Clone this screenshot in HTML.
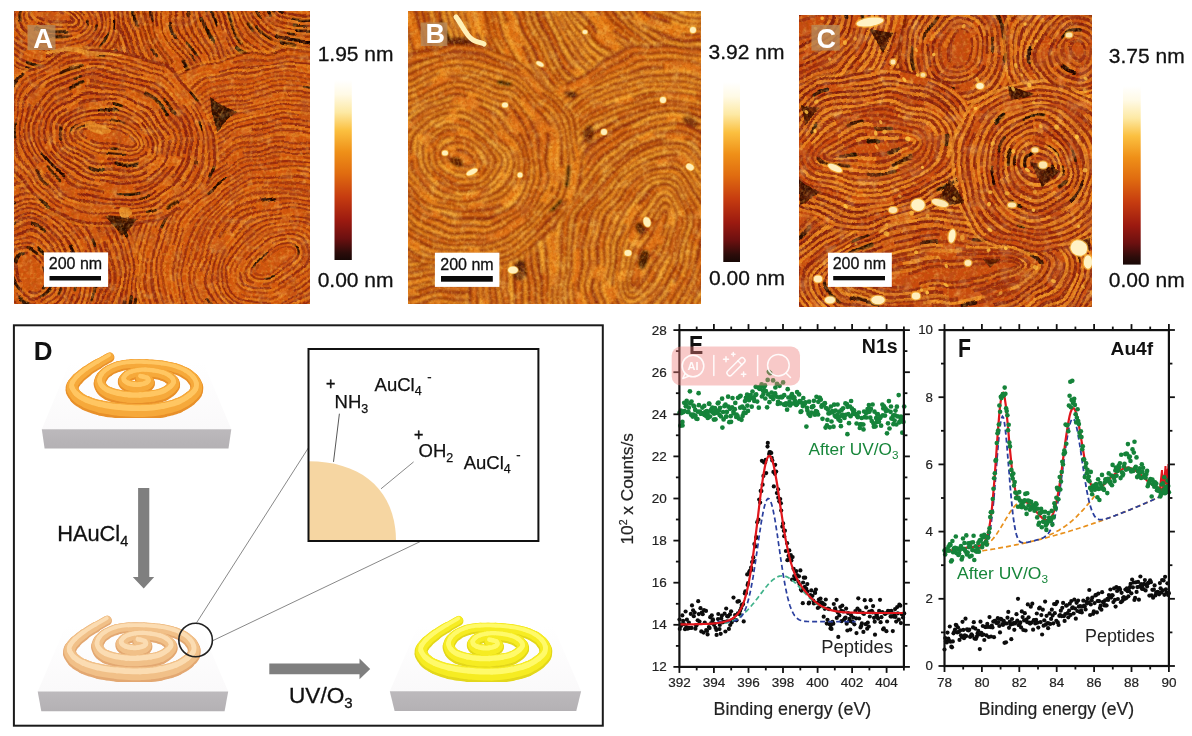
<!DOCTYPE html>
<html lang="en"><head><meta charset="utf-8"><title>Figure</title>
<style>html,body{margin:0;padding:0;background:#fff}svg{display:block}text{font-family:"Liberation Sans",Arial,sans-serif}</style>
</head><body>
<svg width="1192" height="736" viewBox="0 0 1192 736">
<defs>
<linearGradient id="cbg" x1="0" y1="0" x2="0" y2="1">
<stop offset="0" stop-color="#ffffff"/><stop offset="0.08" stop-color="#fffae6"/><stop offset="0.18" stop-color="#fde9a4"/>
<stop offset="0.28" stop-color="#fbc040"/><stop offset="0.4" stop-color="#ef9018"/><stop offset="0.52" stop-color="#e06c10"/>
<stop offset="0.65" stop-color="#c63c10"/><stop offset="0.78" stop-color="#9c1a10"/><stop offset="0.88" stop-color="#6c1010"/><stop offset="0.96" stop-color="#2c0c0a"/><stop offset="1" stop-color="#180806"/>
</linearGradient>
<filter id="soft" x="-5%" y="-5%" width="110%" height="110%"><feTurbulence type="fractalNoise" baseFrequency="0.022" numOctaves="2" seed="2" result="t"/><feDisplacementMap in="SourceGraphic" in2="t" scale="14" xChannelSelector="R" yChannelSelector="G"/><feGaussianBlur stdDeviation="0.6"/></filter>
<filter id="grain" x="0" y="0" width="100%" height="100%"><feTurbulence type="fractalNoise" baseFrequency="0.32" numOctaves="2" seed="4"/><feColorMatrix type="matrix" values="0 0 0 0 0.4 0 0 0 0 0.07 0 0 0 0 0.0 3.0 0 0 0 -1.4"/><feColorMatrix type="matrix" values="1 0 0 0 0 0 1 0 0 0 0 0 1 0 0 0 0 0 0.45 0"/></filter>
<filter id="grainl" x="0" y="0" width="100%" height="100%"><feTurbulence type="fractalNoise" baseFrequency="0.3" numOctaves="2" seed="8"/><feColorMatrix type="matrix" values="0 0 0 0 1 0 0 0 0 0.6 0 0 0 0 0.1 0 3.0 0 0 -1.45"/><feColorMatrix type="matrix" values="1 0 0 0 0 0 1 0 0 0 0 0 1 0 0 0 0 0 0.32 0"/></filter>
<filter id="soft2" x="-5%" y="-5%" width="110%" height="110%"><feTurbulence type="fractalNoise" baseFrequency="0.02" numOctaves="2" seed="6" result="t"/><feDisplacementMap in="SourceGraphic" in2="t" scale="16" xChannelSelector="R" yChannelSelector="G"/><feGaussianBlur stdDeviation="0.75"/></filter>
<filter id="softB" x="-5%" y="-5%" width="110%" height="110%"><feTurbulence type="fractalNoise" baseFrequency="0.02" numOctaves="2" seed="16" result="t"/><feDisplacementMap in="SourceGraphic" in2="t" scale="16" xChannelSelector="R" yChannelSelector="G"/><feGaussianBlur stdDeviation="0.8"/></filter>
<filter id="soft3" x="-5%" y="-5%" width="110%" height="110%"><feGaussianBlur stdDeviation="0.7"/></filter>

<filter id="nzd1" x="0" y="0" width="100%" height="100%"><feTurbulence type="fractalNoise" baseFrequency="0.07" numOctaves="3" seed="3"/>
<feColorMatrix type="matrix" values="0 0 0 0 0.42 0 0 0 0 0.08 0 0 0 0 0.02 2.6 0 0 0 -1.30"/><feColorMatrix type="matrix" values="1 0 0 0 0 0 1 0 0 0 0 0 1 0 0 0 0 0 0.55 0"/></filter>
<filter id="nzl1" x="0" y="0" width="100%" height="100%"><feTurbulence type="fractalNoise" baseFrequency="0.11" numOctaves="3" seed="14"/>
<feColorMatrix type="matrix" values="0 0 0 0 1 0 0 0 0 0.68 0 0 0 0 0.18 0 2.4 0 0 -1.32"/><feColorMatrix type="matrix" values="1 0 0 0 0 0 1 0 0 0 0 0 1 0 0 0 0 0 0.4 0"/></filter>
<filter id="nzd2" x="0" y="0" width="100%" height="100%"><feTurbulence type="fractalNoise" baseFrequency="0.06" numOctaves="3" seed="5"/>
<feColorMatrix type="matrix" values="0 0 0 0 0.5 0 0 0 0 0.12 0 0 0 0 0.02 2.4 0 0 0 -1.20"/><feColorMatrix type="matrix" values="1 0 0 0 0 0 1 0 0 0 0 0 1 0 0 0 0 0 0.55 0"/></filter>
<filter id="nzl2" x="0" y="0" width="100%" height="100%"><feTurbulence type="fractalNoise" baseFrequency="0.1" numOctaves="3" seed="16"/>
<feColorMatrix type="matrix" values="0 0 0 0 1 0 0 0 0 0.7 0 0 0 0 0.18 0 3.0 0 0 -1.56"/><feColorMatrix type="matrix" values="1 0 0 0 0 0 1 0 0 0 0 0 1 0 0 0 0 0 0.32 0"/></filter>
<filter id="nzd3" x="0" y="0" width="100%" height="100%"><feTurbulence type="fractalNoise" baseFrequency="0.06" numOctaves="3" seed="9"/>
<feColorMatrix type="matrix" values="0 0 0 0 0.45 0 0 0 0 0.08 0 0 0 0 0.02 2.8 0 0 0 -1.34"/><feColorMatrix type="matrix" values="1 0 0 0 0 0 1 0 0 0 0 0 1 0 0 0 0 0 0.55 0"/></filter>
<filter id="nzl3" x="0" y="0" width="100%" height="100%"><feTurbulence type="fractalNoise" baseFrequency="0.09" numOctaves="3" seed="20"/>
<feColorMatrix type="matrix" values="0 0 0 0 1 0 0 0 0 0.75 0 0 0 0 0.3 0 2.6 0 0 -1.43"/><feColorMatrix type="matrix" values="1 0 0 0 0 0 1 0 0 0 0 0 1 0 0 0 0 0 0.4 0"/></filter>
</defs>
<rect width="1192" height="736" fill="#fff"/>
<clipPath id="cp1"><rect x="14" y="11" width="296" height="293"/></clipPath>
<g clip-path="url(#cp1)">
<rect x="14" y="11" width="296" height="293" fill="#d2560e"/>
<g filter="url(#soft)"><g transform="translate(300.0,-5.0) rotate(20)"><ellipse rx="261.8" ry="258.6" fill="none" stroke="#ee8c1c" stroke-width="2.9" stroke-opacity="0.42" stroke-dasharray="837 86 335 146" stroke-dashoffset="727"/><ellipse rx="259.2" ry="256.0" fill="none" stroke="#861e08" stroke-width="2.1" stroke-opacity="0.71" stroke-dasharray="1013 67 304 134" stroke-dashoffset="1353"/><ellipse rx="259.2" ry="256.0" fill="none" stroke="#170502" stroke-width="2.9" stroke-opacity="0.93" stroke-dasharray="25 325 15 228" stroke-dashoffset="370" stroke-linecap="round"/><ellipse rx="259.2" ry="256.0" fill="none" stroke="#170502" stroke-width="2.4" stroke-opacity="0.76" stroke-dasharray="29 907 17 635" stroke-dashoffset="876" stroke-linecap="round"/><ellipse rx="257.5" ry="252.9" fill="none" stroke="#ee8c1c" stroke-width="2.9" stroke-opacity="0.21" stroke-dasharray="517 119 207 202" stroke-dashoffset="352"/><ellipse rx="254.9" ry="250.3" fill="none" stroke="#861e08" stroke-width="2.3" stroke-opacity="0.77" stroke-dasharray="824 47 247 95" stroke-dashoffset="347"/><ellipse rx="254.9" ry="250.3" fill="none" stroke="#170502" stroke-width="3.4" stroke-opacity="0.89" stroke-dasharray="14 331 9 232" stroke-dashoffset="1019" stroke-linecap="round"/><ellipse rx="254.9" ry="250.3" fill="none" stroke="#170502" stroke-width="3.4" stroke-opacity="0.78" stroke-dasharray="12 948 7 663" stroke-dashoffset="528" stroke-linecap="round"/><ellipse rx="252.1" ry="248.1" fill="none" stroke="#ee8c1c" stroke-width="2.9" stroke-opacity="0.57" stroke-dasharray="898 116 359 198" stroke-dashoffset="1042"/><ellipse rx="249.5" ry="245.5" fill="none" stroke="#861e08" stroke-width="3.0" stroke-opacity="0.95" stroke-dasharray="702 52 211 104" stroke-dashoffset="786"/><ellipse rx="249.5" ry="245.5" fill="none" stroke="#170502" stroke-width="3.4" stroke-opacity="0.85" stroke-dasharray="9 462 5 323" stroke-dashoffset="269" stroke-linecap="round"/><ellipse rx="249.5" ry="245.5" fill="none" stroke="#170502" stroke-width="3.2" stroke-opacity="0.84" stroke-dasharray="20 748 12 524" stroke-dashoffset="683" stroke-linecap="round"/><ellipse rx="246.6" ry="242.9" fill="none" stroke="#ee8c1c" stroke-width="2.9" stroke-opacity="0.42" stroke-dasharray="658 108 263 184" stroke-dashoffset="45"/><ellipse rx="244.0" ry="240.3" fill="none" stroke="#861e08" stroke-width="3.1" stroke-opacity="0.88" stroke-dasharray="490 58 147 116" stroke-dashoffset="599"/><ellipse rx="244.0" ry="240.3" fill="none" stroke="#170502" stroke-width="3.3" stroke-opacity="0.88" stroke-dasharray="19 902 11 631" stroke-dashoffset="1309" stroke-linecap="round"/><ellipse rx="244.0" ry="240.3" fill="none" stroke="#170502" stroke-width="3.5" stroke-opacity="0.89" stroke-dasharray="13 617 8 432" stroke-dashoffset="699" stroke-linecap="round"/><ellipse rx="241.1" ry="237.5" fill="none" stroke="#ee8c1c" stroke-width="2.9" stroke-opacity="0.55" stroke-dasharray="870 31 348 52" stroke-dashoffset="1220"/><ellipse rx="238.5" ry="234.9" fill="none" stroke="#861e08" stroke-width="2.9" stroke-opacity="0.86" stroke-dasharray="1105 59 332 118" stroke-dashoffset="835"/><ellipse rx="238.5" ry="234.9" fill="none" stroke="#170502" stroke-width="3.1" stroke-opacity="0.80" stroke-dasharray="9 815 6 570" stroke-dashoffset="751" stroke-linecap="round"/><ellipse rx="238.5" ry="234.9" fill="none" stroke="#170502" stroke-width="2.8" stroke-opacity="0.88" stroke-dasharray="19 510 11 357" stroke-dashoffset="927" stroke-linecap="round"/><ellipse rx="236.3" ry="232.1" fill="none" stroke="#ee8c1c" stroke-width="2.9" stroke-opacity="0.28" stroke-dasharray="378 73 151 123" stroke-dashoffset="851"/><ellipse rx="233.7" ry="229.5" fill="none" stroke="#861e08" stroke-width="2.9" stroke-opacity="0.94" stroke-dasharray="1063 61 319 122" stroke-dashoffset="372"/><ellipse rx="233.7" ry="229.5" fill="none" stroke="#170502" stroke-width="2.4" stroke-opacity="0.75" stroke-dasharray="23 340 14 238" stroke-dashoffset="1100" stroke-linecap="round"/><ellipse rx="233.7" ry="229.5" fill="none" stroke="#170502" stroke-width="3.1" stroke-opacity="0.84" stroke-dasharray="13 355 8 248" stroke-dashoffset="101" stroke-linecap="round"/><ellipse rx="230.6" ry="227.0" fill="none" stroke="#ee8c1c" stroke-width="2.9" stroke-opacity="0.52" stroke-dasharray="439 79 176 134" stroke-dashoffset="646"/><ellipse rx="228.0" ry="224.4" fill="none" stroke="#861e08" stroke-width="2.1" stroke-opacity="0.82" stroke-dasharray="655 41 197 82" stroke-dashoffset="598"/><ellipse rx="228.0" ry="224.4" fill="none" stroke="#170502" stroke-width="3.0" stroke-opacity="0.80" stroke-dasharray="10 796 6 557" stroke-dashoffset="861" stroke-linecap="round"/><ellipse rx="228.0" ry="224.4" fill="none" stroke="#170502" stroke-width="2.4" stroke-opacity="0.79" stroke-dasharray="26 296 16 207" stroke-dashoffset="1022" stroke-linecap="round"/><ellipse rx="225.4" ry="222.0" fill="none" stroke="#ee8c1c" stroke-width="2.9" stroke-opacity="0.30" stroke-dasharray="677 126 271 214" stroke-dashoffset="1355"/><ellipse rx="222.8" ry="219.4" fill="none" stroke="#861e08" stroke-width="2.3" stroke-opacity="0.89" stroke-dasharray="971 43 291 85" stroke-dashoffset="549"/><ellipse rx="222.8" ry="219.4" fill="none" stroke="#170502" stroke-width="2.5" stroke-opacity="0.82" stroke-dasharray="15 629 9 440" stroke-dashoffset="1345" stroke-linecap="round"/><ellipse rx="222.8" ry="219.4" fill="none" stroke="#170502" stroke-width="3.4" stroke-opacity="0.83" stroke-dasharray="27 448 16 314" stroke-dashoffset="1305" stroke-linecap="round"/><ellipse rx="220.9" ry="216.5" fill="none" stroke="#ee8c1c" stroke-width="2.9" stroke-opacity="0.60" stroke-dasharray="459 29 184 49" stroke-dashoffset="51"/><ellipse rx="218.3" ry="213.9" fill="none" stroke="#861e08" stroke-width="2.7" stroke-opacity="0.75" stroke-dasharray="964 66 289 132" stroke-dashoffset="1178"/><ellipse rx="218.3" ry="213.9" fill="none" stroke="#170502" stroke-width="2.9" stroke-opacity="0.84" stroke-dasharray="23 548 14 384" stroke-dashoffset="279" stroke-linecap="round"/><ellipse rx="218.3" ry="213.9" fill="none" stroke="#170502" stroke-width="2.6" stroke-opacity="0.78" stroke-dasharray="23 507 14 355" stroke-dashoffset="904" stroke-linecap="round"/><ellipse rx="215.2" ry="211.4" fill="none" stroke="#ee8c1c" stroke-width="2.9" stroke-opacity="0.60" stroke-dasharray="482 176 193 300" stroke-dashoffset="24"/><ellipse rx="212.6" ry="208.8" fill="none" stroke="#861e08" stroke-width="3.1" stroke-opacity="0.93" stroke-dasharray="530 31 159 61" stroke-dashoffset="449"/><ellipse rx="212.6" ry="208.8" fill="none" stroke="#170502" stroke-width="3.5" stroke-opacity="0.84" stroke-dasharray="23 708 14 496" stroke-dashoffset="1168" stroke-linecap="round"/><ellipse rx="212.6" ry="208.8" fill="none" stroke="#170502" stroke-width="3.6" stroke-opacity="0.81" stroke-dasharray="23 521 14 365" stroke-dashoffset="960" stroke-linecap="round"/><ellipse rx="209.7" ry="205.8" fill="none" stroke="#ee8c1c" stroke-width="2.9" stroke-opacity="0.54" stroke-dasharray="733 61 293 104" stroke-dashoffset="774"/><ellipse rx="207.1" ry="203.2" fill="none" stroke="#861e08" stroke-width="2.4" stroke-opacity="0.79" stroke-dasharray="929 32 279 64" stroke-dashoffset="1118"/><ellipse rx="207.1" ry="203.2" fill="none" stroke="#170502" stroke-width="2.6" stroke-opacity="0.89" stroke-dasharray="29 715 17 501" stroke-dashoffset="134" stroke-linecap="round"/><ellipse rx="207.1" ry="203.2" fill="none" stroke="#170502" stroke-width="3.4" stroke-opacity="0.95" stroke-dasharray="9 296 5 207" stroke-dashoffset="1068" stroke-linecap="round"/><ellipse rx="204.8" ry="201.1" fill="none" stroke="#ee8c1c" stroke-width="2.9" stroke-opacity="0.46" stroke-dasharray="659 87 264 148" stroke-dashoffset="282"/><ellipse rx="202.2" ry="198.5" fill="none" stroke="#861e08" stroke-width="3.0" stroke-opacity="0.87" stroke-dasharray="429 26 129 52" stroke-dashoffset="1165"/><ellipse rx="202.2" ry="198.5" fill="none" stroke="#170502" stroke-width="3.4" stroke-opacity="0.75" stroke-dasharray="14 648 8 454" stroke-dashoffset="844" stroke-linecap="round"/><ellipse rx="202.2" ry="198.5" fill="none" stroke="#170502" stroke-width="3.5" stroke-opacity="0.76" stroke-dasharray="10 310 6 217" stroke-dashoffset="302" stroke-linecap="round"/><ellipse rx="200.4" ry="195.7" fill="none" stroke="#ee8c1c" stroke-width="2.9" stroke-opacity="0.31" stroke-dasharray="357 51 143 87" stroke-dashoffset="914"/><ellipse rx="197.8" ry="193.1" fill="none" stroke="#861e08" stroke-width="2.4" stroke-opacity="0.99" stroke-dasharray="432 57 129 114" stroke-dashoffset="1117"/><ellipse rx="197.8" ry="193.1" fill="none" stroke="#170502" stroke-width="2.5" stroke-opacity="0.91" stroke-dasharray="14 480 8 336" stroke-dashoffset="49" stroke-linecap="round"/><ellipse rx="197.8" ry="193.1" fill="none" stroke="#170502" stroke-width="2.8" stroke-opacity="0.90" stroke-dasharray="8 728 5 510" stroke-dashoffset="552" stroke-linecap="round"/><ellipse rx="194.4" ry="190.1" fill="none" stroke="#ee8c1c" stroke-width="2.9" stroke-opacity="0.64" stroke-dasharray="679 174 272 296" stroke-dashoffset="133"/><ellipse rx="191.8" ry="187.5" fill="none" stroke="#861e08" stroke-width="3.1" stroke-opacity="0.86" stroke-dasharray="486 41 146 83" stroke-dashoffset="820"/><ellipse rx="191.8" ry="187.5" fill="none" stroke="#170502" stroke-width="2.8" stroke-opacity="0.81" stroke-dasharray="14 496 8 347" stroke-dashoffset="97" stroke-linecap="round"/><ellipse rx="191.8" ry="187.5" fill="none" stroke="#170502" stroke-width="2.9" stroke-opacity="0.91" stroke-dasharray="14 707 9 495" stroke-dashoffset="767" stroke-linecap="round"/><ellipse rx="189.9" ry="185.3" fill="none" stroke="#ee8c1c" stroke-width="2.9" stroke-opacity="0.34" stroke-dasharray="415 73 166 124" stroke-dashoffset="985"/><ellipse rx="187.3" ry="182.7" fill="none" stroke="#861e08" stroke-width="2.4" stroke-opacity="0.86" stroke-dasharray="868 26 260 51" stroke-dashoffset="673"/><ellipse rx="187.3" ry="182.7" fill="none" stroke="#170502" stroke-width="2.7" stroke-opacity="0.77" stroke-dasharray="13 242 8 169" stroke-dashoffset="641" stroke-linecap="round"/><ellipse rx="187.3" ry="182.7" fill="none" stroke="#170502" stroke-width="3.2" stroke-opacity="0.82" stroke-dasharray="10 267 6 187" stroke-dashoffset="921" stroke-linecap="round"/><ellipse rx="184.2" ry="180.6" fill="none" stroke="#ee8c1c" stroke-width="2.9" stroke-opacity="0.56" stroke-dasharray="343 96 137 164" stroke-dashoffset="87"/><ellipse rx="181.6" ry="178.0" fill="none" stroke="#861e08" stroke-width="2.9" stroke-opacity="1.00" stroke-dasharray="875 19 263 38" stroke-dashoffset="928"/><ellipse rx="181.6" ry="178.0" fill="none" stroke="#170502" stroke-width="3.5" stroke-opacity="0.82" stroke-dasharray="10 458 6 321" stroke-dashoffset="1010" stroke-linecap="round"/><ellipse rx="181.6" ry="178.0" fill="none" stroke="#170502" stroke-width="2.4" stroke-opacity="0.83" stroke-dasharray="11 637 7 446" stroke-dashoffset="1020" stroke-linecap="round"/><ellipse rx="179.4" ry="175.5" fill="none" stroke="#ee8c1c" stroke-width="2.9" stroke-opacity="0.51" stroke-dasharray="598 129 239 218" stroke-dashoffset="196"/><ellipse rx="176.8" ry="172.9" fill="none" stroke="#861e08" stroke-width="2.8" stroke-opacity="0.90" stroke-dasharray="567 18 170 36" stroke-dashoffset="277"/><ellipse rx="176.8" ry="172.9" fill="none" stroke="#170502" stroke-width="3.1" stroke-opacity="0.89" stroke-dasharray="29 575 18 402" stroke-dashoffset="935" stroke-linecap="round"/><ellipse rx="176.8" ry="172.9" fill="none" stroke="#170502" stroke-width="2.8" stroke-opacity="0.81" stroke-dasharray="18 394 11 276" stroke-dashoffset="27" stroke-linecap="round"/><ellipse rx="174.0" ry="169.7" fill="none" stroke="#ee8c1c" stroke-width="2.9" stroke-opacity="0.36" stroke-dasharray="478 30 191 51" stroke-dashoffset="147"/><ellipse rx="171.4" ry="167.1" fill="none" stroke="#861e08" stroke-width="2.9" stroke-opacity="0.82" stroke-dasharray="386 22 116 43" stroke-dashoffset="427"/><ellipse rx="171.4" ry="167.1" fill="none" stroke="#170502" stroke-width="3.0" stroke-opacity="0.88" stroke-dasharray="13 216 8 151" stroke-dashoffset="690" stroke-linecap="round"/><ellipse rx="171.4" ry="167.1" fill="none" stroke="#170502" stroke-width="3.3" stroke-opacity="0.81" stroke-dasharray="18 505 11 353" stroke-dashoffset="526" stroke-linecap="round"/><ellipse rx="168.6" ry="164.3" fill="none" stroke="#ee8c1c" stroke-width="2.9" stroke-opacity="0.61" stroke-dasharray="406 96 162 162" stroke-dashoffset="945"/><ellipse rx="166.0" ry="161.7" fill="none" stroke="#861e08" stroke-width="2.1" stroke-opacity="0.72" stroke-dasharray="450 37 135 74" stroke-dashoffset="527"/><ellipse rx="166.0" ry="161.7" fill="none" stroke="#170502" stroke-width="3.5" stroke-opacity="0.83" stroke-dasharray="12 521 7 365" stroke-dashoffset="713" stroke-linecap="round"/><ellipse rx="166.0" ry="161.7" fill="none" stroke="#170502" stroke-width="3.2" stroke-opacity="0.93" stroke-dasharray="27 359 16 251" stroke-dashoffset="612" stroke-linecap="round"/><ellipse rx="163.8" ry="159.9" fill="none" stroke="#ee8c1c" stroke-width="2.9" stroke-opacity="0.28" stroke-dasharray="586 94 235 160" stroke-dashoffset="251"/><ellipse rx="161.2" ry="157.3" fill="none" stroke="#861e08" stroke-width="2.9" stroke-opacity="0.72" stroke-dasharray="409 33 123 66" stroke-dashoffset="682"/><ellipse rx="161.2" ry="157.3" fill="none" stroke="#170502" stroke-width="2.6" stroke-opacity="0.93" stroke-dasharray="16 406 9 284" stroke-dashoffset="41" stroke-linecap="round"/><ellipse rx="161.2" ry="157.3" fill="none" stroke="#170502" stroke-width="3.2" stroke-opacity="0.82" stroke-dasharray="30 524 18 366" stroke-dashoffset="913" stroke-linecap="round"/><ellipse rx="158.8" ry="153.8" fill="none" stroke="#ee8c1c" stroke-width="2.9" stroke-opacity="0.50" stroke-dasharray="504 125 201 212" stroke-dashoffset="676"/><ellipse rx="156.2" ry="151.2" fill="none" stroke="#861e08" stroke-width="3.1" stroke-opacity="0.81" stroke-dasharray="505 45 151 91" stroke-dashoffset="775"/><ellipse rx="156.2" ry="151.2" fill="none" stroke="#170502" stroke-width="2.6" stroke-opacity="0.98" stroke-dasharray="12 319 7 223" stroke-dashoffset="926" stroke-linecap="round"/><ellipse rx="156.2" ry="151.2" fill="none" stroke="#170502" stroke-width="2.9" stroke-opacity="0.78" stroke-dasharray="11 425 6 298" stroke-dashoffset="285" stroke-linecap="round"/><ellipse rx="152.7" ry="149.3" fill="none" stroke="#ee8c1c" stroke-width="2.9" stroke-opacity="0.40" stroke-dasharray="234 42 94 71" stroke-dashoffset="20"/><ellipse rx="150.1" ry="146.7" fill="none" stroke="#861e08" stroke-width="2.9" stroke-opacity="0.76" stroke-dasharray="572 32 172 64" stroke-dashoffset="266"/><ellipse rx="150.1" ry="146.7" fill="none" stroke="#170502" stroke-width="2.7" stroke-opacity="0.92" stroke-dasharray="14 405 8 283" stroke-dashoffset="738" stroke-linecap="round"/><ellipse rx="150.1" ry="146.7" fill="none" stroke="#170502" stroke-width="3.1" stroke-opacity="0.87" stroke-dasharray="26 550 15 385" stroke-dashoffset="798" stroke-linecap="round"/><ellipse rx="148.1" ry="143.9" fill="none" stroke="#ee8c1c" stroke-width="2.9" stroke-opacity="0.25" stroke-dasharray="346 51 138 87" stroke-dashoffset="728"/><ellipse rx="145.5" ry="141.3" fill="none" stroke="#861e08" stroke-width="2.6" stroke-opacity="0.99" stroke-dasharray="324 36 97 72" stroke-dashoffset="686"/><ellipse rx="145.5" ry="141.3" fill="none" stroke="#170502" stroke-width="3.1" stroke-opacity="0.83" stroke-dasharray="11 361 7 252" stroke-dashoffset="453" stroke-linecap="round"/><ellipse rx="145.5" ry="141.3" fill="none" stroke="#170502" stroke-width="2.4" stroke-opacity="0.86" stroke-dasharray="16 371 10 259" stroke-dashoffset="405" stroke-linecap="round"/><ellipse rx="142.4" ry="138.5" fill="none" stroke="#ee8c1c" stroke-width="2.9" stroke-opacity="0.42" stroke-dasharray="454 94 182 160" stroke-dashoffset="561"/><ellipse rx="139.8" ry="135.9" fill="none" stroke="#861e08" stroke-width="2.0" stroke-opacity="0.78" stroke-dasharray="423 16 127 31" stroke-dashoffset="518"/><ellipse rx="139.8" ry="135.9" fill="none" stroke="#170502" stroke-width="3.6" stroke-opacity="0.87" stroke-dasharray="26 350 16 245" stroke-dashoffset="723" stroke-linecap="round"/><ellipse rx="139.8" ry="135.9" fill="none" stroke="#170502" stroke-width="3.6" stroke-opacity="0.83" stroke-dasharray="17 431 10 302" stroke-dashoffset="147" stroke-linecap="round"/><ellipse rx="137.5" ry="133.4" fill="none" stroke="#ee8c1c" stroke-width="2.9" stroke-opacity="0.38" stroke-dasharray="314 17 126 29" stroke-dashoffset="356"/><ellipse rx="134.9" ry="130.8" fill="none" stroke="#861e08" stroke-width="2.7" stroke-opacity="0.92" stroke-dasharray="420 37 126 74" stroke-dashoffset="750"/><ellipse rx="134.9" ry="130.8" fill="none" stroke="#170502" stroke-width="3.2" stroke-opacity="0.91" stroke-dasharray="19 416 11 291" stroke-dashoffset="526" stroke-linecap="round"/><ellipse rx="134.9" ry="130.8" fill="none" stroke="#170502" stroke-width="3.2" stroke-opacity="0.98" stroke-dasharray="17 377 10 264" stroke-dashoffset="653" stroke-linecap="round"/><ellipse rx="132.6" ry="128.5" fill="none" stroke="#ee8c1c" stroke-width="2.9" stroke-opacity="0.36" stroke-dasharray="430 79 172 135" stroke-dashoffset="213"/><ellipse rx="130.0" ry="125.9" fill="none" stroke="#861e08" stroke-width="2.6" stroke-opacity="0.75" stroke-dasharray="526 36 158 72" stroke-dashoffset="670"/><ellipse rx="130.0" ry="125.9" fill="none" stroke="#170502" stroke-width="3.0" stroke-opacity="0.94" stroke-dasharray="18 175 11 123" stroke-dashoffset="340" stroke-linecap="round"/><ellipse rx="130.0" ry="125.9" fill="none" stroke="#170502" stroke-width="2.4" stroke-opacity="0.88" stroke-dasharray="16 372 9 260" stroke-dashoffset="761" stroke-linecap="round"/><ellipse rx="127.2" ry="122.9" fill="none" stroke="#ee8c1c" stroke-width="2.9" stroke-opacity="0.29" stroke-dasharray="378 76 151 129" stroke-dashoffset="160"/><ellipse rx="124.6" ry="120.3" fill="none" stroke="#861e08" stroke-width="2.1" stroke-opacity="0.95" stroke-dasharray="572 16 172 32" stroke-dashoffset="403"/><ellipse rx="124.6" ry="120.3" fill="none" stroke="#170502" stroke-width="2.6" stroke-opacity="0.91" stroke-dasharray="19 381 12 266" stroke-dashoffset="549" stroke-linecap="round"/><ellipse rx="124.6" ry="120.3" fill="none" stroke="#170502" stroke-width="3.1" stroke-opacity="0.81" stroke-dasharray="26 237 16 166" stroke-dashoffset="432" stroke-linecap="round"/><ellipse rx="121.4" ry="118.1" fill="none" stroke="#ee8c1c" stroke-width="2.9" stroke-opacity="0.30" stroke-dasharray="407 46 163 79" stroke-dashoffset="710"/><ellipse rx="118.8" ry="115.5" fill="none" stroke="#861e08" stroke-width="2.1" stroke-opacity="0.97" stroke-dasharray="481 32 144 64" stroke-dashoffset="458"/><ellipse rx="118.8" ry="115.5" fill="none" stroke="#170502" stroke-width="3.3" stroke-opacity="0.80" stroke-dasharray="17 372 10 260" stroke-dashoffset="461" stroke-linecap="round"/><ellipse rx="118.8" ry="115.5" fill="none" stroke="#170502" stroke-width="2.9" stroke-opacity="0.98" stroke-dasharray="12 434 7 304" stroke-dashoffset="536" stroke-linecap="round"/><ellipse rx="116.7" ry="112.3" fill="none" stroke="#ee8c1c" stroke-width="2.9" stroke-opacity="0.26" stroke-dasharray="305 27 122 45" stroke-dashoffset="503"/><ellipse rx="114.1" ry="109.7" fill="none" stroke="#861e08" stroke-width="2.3" stroke-opacity="0.92" stroke-dasharray="338 28 101 56" stroke-dashoffset="505"/><ellipse rx="114.1" ry="109.7" fill="none" stroke="#170502" stroke-width="3.0" stroke-opacity="0.77" stroke-dasharray="10 252 6 177" stroke-dashoffset="131" stroke-linecap="round"/><ellipse rx="114.1" ry="109.7" fill="none" stroke="#170502" stroke-width="3.5" stroke-opacity="0.80" stroke-dasharray="9 309 6 216" stroke-dashoffset="24" stroke-linecap="round"/><ellipse rx="111.6" ry="107.8" fill="none" stroke="#ee8c1c" stroke-width="2.9" stroke-opacity="0.35" stroke-dasharray="395 67 158 114" stroke-dashoffset="564"/><ellipse rx="109.0" ry="105.2" fill="none" stroke="#861e08" stroke-width="2.1" stroke-opacity="0.82" stroke-dasharray="242 25 72 51" stroke-dashoffset="333"/><ellipse rx="109.0" ry="105.2" fill="none" stroke="#170502" stroke-width="3.4" stroke-opacity="0.87" stroke-dasharray="12 197 7 138" stroke-dashoffset="390" stroke-linecap="round"/><ellipse rx="109.0" ry="105.2" fill="none" stroke="#170502" stroke-width="2.8" stroke-opacity="0.90" stroke-dasharray="13 327 8 229" stroke-dashoffset="612" stroke-linecap="round"/><ellipse rx="106.8" ry="101.7" fill="none" stroke="#ee8c1c" stroke-width="2.9" stroke-opacity="0.34" stroke-dasharray="338 84 135 143" stroke-dashoffset="245"/><ellipse rx="104.2" ry="99.1" fill="none" stroke="#861e08" stroke-width="2.5" stroke-opacity="0.96" stroke-dasharray="377 30 113 60" stroke-dashoffset="484"/><ellipse rx="104.2" ry="99.1" fill="none" stroke="#170502" stroke-width="2.6" stroke-opacity="0.92" stroke-dasharray="28 132 17 92" stroke-dashoffset="36" stroke-linecap="round"/><ellipse rx="104.2" ry="99.1" fill="none" stroke="#170502" stroke-width="3.0" stroke-opacity="0.96" stroke-dasharray="16 161 10 113" stroke-dashoffset="579" stroke-linecap="round"/><ellipse rx="100.4" ry="96.5" fill="none" stroke="#ee8c1c" stroke-width="2.9" stroke-opacity="0.32" stroke-dasharray="328 15 131 26" stroke-dashoffset="71"/><ellipse rx="97.8" ry="93.9" fill="none" stroke="#861e08" stroke-width="2.7" stroke-opacity="0.92" stroke-dasharray="208 7 62 13" stroke-dashoffset="414"/><ellipse rx="97.8" ry="93.9" fill="none" stroke="#170502" stroke-width="3.2" stroke-opacity="0.99" stroke-dasharray="23 214 14 150" stroke-dashoffset="386" stroke-linecap="round"/><ellipse rx="97.8" ry="93.9" fill="none" stroke="#170502" stroke-width="3.5" stroke-opacity="0.90" stroke-dasharray="13 135 8 94" stroke-dashoffset="211" stroke-linecap="round"/><ellipse rx="95.9" ry="91.9" fill="none" stroke="#ee8c1c" stroke-width="2.9" stroke-opacity="0.36" stroke-dasharray="248 16 99 27" stroke-dashoffset="237"/><ellipse rx="93.3" ry="89.3" fill="none" stroke="#861e08" stroke-width="2.5" stroke-opacity="0.90" stroke-dasharray="229 26 69 52" stroke-dashoffset="409"/><ellipse rx="93.3" ry="89.3" fill="none" stroke="#170502" stroke-width="2.7" stroke-opacity="0.99" stroke-dasharray="24 287 14 201" stroke-dashoffset="87" stroke-linecap="round"/><ellipse rx="93.3" ry="89.3" fill="none" stroke="#170502" stroke-width="3.4" stroke-opacity="0.76" stroke-dasharray="28 311 17 218" stroke-dashoffset="52" stroke-linecap="round"/><ellipse rx="91.0" ry="86.6" fill="none" stroke="#ee8c1c" stroke-width="2.9" stroke-opacity="0.22" stroke-dasharray="206 80 82 136" stroke-dashoffset="288"/><ellipse rx="88.4" ry="84.0" fill="none" stroke="#861e08" stroke-width="2.5" stroke-opacity="0.91" stroke-dasharray="282 8 85 16" stroke-dashoffset="478"/><ellipse rx="88.4" ry="84.0" fill="none" stroke="#170502" stroke-width="3.4" stroke-opacity="0.77" stroke-dasharray="20 128 12 90" stroke-dashoffset="19" stroke-linecap="round"/><ellipse rx="88.4" ry="84.0" fill="none" stroke="#170502" stroke-width="2.8" stroke-opacity="0.78" stroke-dasharray="16 267 10 187" stroke-dashoffset="430" stroke-linecap="round"/><ellipse rx="85.8" ry="81.8" fill="none" stroke="#ee8c1c" stroke-width="2.9" stroke-opacity="0.31" stroke-dasharray="182 38 73 65" stroke-dashoffset="284"/><ellipse rx="83.2" ry="79.2" fill="none" stroke="#861e08" stroke-width="2.9" stroke-opacity="0.99" stroke-dasharray="237 12 71 24" stroke-dashoffset="298"/><ellipse rx="83.2" ry="79.2" fill="none" stroke="#170502" stroke-width="3.6" stroke-opacity="0.93" stroke-dasharray="22 194 13 136" stroke-dashoffset="426" stroke-linecap="round"/><ellipse rx="83.2" ry="79.2" fill="none" stroke="#170502" stroke-width="3.5" stroke-opacity="0.96" stroke-dasharray="23 211 14 148" stroke-dashoffset="149" stroke-linecap="round"/><ellipse rx="79.8" ry="76.0" fill="none" stroke="#ee8c1c" stroke-width="2.9" stroke-opacity="0.36" stroke-dasharray="205 15 82 26" stroke-dashoffset="272"/><ellipse rx="77.2" ry="73.4" fill="none" stroke="#861e08" stroke-width="2.7" stroke-opacity="0.79" stroke-dasharray="152 20 46 40" stroke-dashoffset="141"/><ellipse rx="77.2" ry="73.4" fill="none" stroke="#170502" stroke-width="3.0" stroke-opacity="0.88" stroke-dasharray="15 236 9 165" stroke-dashoffset="70" stroke-linecap="round"/><ellipse rx="77.2" ry="73.4" fill="none" stroke="#170502" stroke-width="2.8" stroke-opacity="0.77" stroke-dasharray="28 156 17 109" stroke-dashoffset="464" stroke-linecap="round"/><ellipse rx="75.0" ry="71.5" fill="none" stroke="#ee8c1c" stroke-width="2.9" stroke-opacity="0.57" stroke-dasharray="255 65 102 110" stroke-dashoffset="411"/><ellipse rx="72.4" ry="68.9" fill="none" stroke="#861e08" stroke-width="2.2" stroke-opacity="0.86" stroke-dasharray="338 19 101 37" stroke-dashoffset="256"/><ellipse rx="72.4" ry="68.9" fill="none" stroke="#170502" stroke-width="3.3" stroke-opacity="0.84" stroke-dasharray="25 214 15 150" stroke-dashoffset="418" stroke-linecap="round"/><ellipse rx="72.4" ry="68.9" fill="none" stroke="#170502" stroke-width="3.0" stroke-opacity="0.99" stroke-dasharray="22 160 13 112" stroke-dashoffset="236" stroke-linecap="round"/><ellipse rx="69.4" ry="65.4" fill="none" stroke="#ee8c1c" stroke-width="2.9" stroke-opacity="0.61" stroke-dasharray="200 38 80 64" stroke-dashoffset="75"/><ellipse rx="66.8" ry="62.8" fill="none" stroke="#861e08" stroke-width="2.1" stroke-opacity="0.73" stroke-dasharray="206 16 62 32" stroke-dashoffset="222"/><ellipse rx="66.8" ry="62.8" fill="none" stroke="#170502" stroke-width="3.2" stroke-opacity="0.88" stroke-dasharray="10 124 6 87" stroke-dashoffset="32" stroke-linecap="round"/><ellipse rx="66.8" ry="62.8" fill="none" stroke="#170502" stroke-width="3.2" stroke-opacity="0.79" stroke-dasharray="10 220 6 154" stroke-dashoffset="351" stroke-linecap="round"/><ellipse rx="64.0" ry="60.4" fill="none" stroke="#ee8c1c" stroke-width="2.9" stroke-opacity="0.33" stroke-dasharray="205 42 82 72" stroke-dashoffset="334"/><ellipse rx="61.4" ry="57.8" fill="none" stroke="#861e08" stroke-width="3.0" stroke-opacity="0.83" stroke-dasharray="225 17 67 33" stroke-dashoffset="253"/><ellipse rx="61.4" ry="57.8" fill="none" stroke="#170502" stroke-width="3.3" stroke-opacity="0.95" stroke-dasharray="29 195 17 136" stroke-dashoffset="374" stroke-linecap="round"/><ellipse rx="61.4" ry="57.8" fill="none" stroke="#170502" stroke-width="3.3" stroke-opacity="0.94" stroke-dasharray="14 105 8 74" stroke-dashoffset="193" stroke-linecap="round"/><ellipse rx="59.4" ry="55.3" fill="none" stroke="#ee8c1c" stroke-width="2.9" stroke-opacity="0.46" stroke-dasharray="192 42 77 72" stroke-dashoffset="14"/><ellipse rx="56.8" ry="52.7" fill="none" stroke="#861e08" stroke-width="2.2" stroke-opacity="0.79" stroke-dasharray="250 10 75 19" stroke-dashoffset="238"/><ellipse rx="56.8" ry="52.7" fill="none" stroke="#170502" stroke-width="3.5" stroke-opacity="0.94" stroke-dasharray="11 110 6 77" stroke-dashoffset="334" stroke-linecap="round"/><ellipse rx="56.8" ry="52.7" fill="none" stroke="#170502" stroke-width="3.1" stroke-opacity="0.88" stroke-dasharray="20 148 12 103" stroke-dashoffset="186" stroke-linecap="round"/><ellipse rx="54.6" ry="50.7" fill="none" stroke="#ee8c1c" stroke-width="2.9" stroke-opacity="0.34" stroke-dasharray="124 32 49 55" stroke-dashoffset="95"/><ellipse rx="52.0" ry="48.1" fill="none" stroke="#861e08" stroke-width="2.6" stroke-opacity="0.99" stroke-dasharray="174 11 52 21" stroke-dashoffset="51"/><ellipse rx="52.0" ry="48.1" fill="none" stroke="#170502" stroke-width="3.1" stroke-opacity="0.84" stroke-dasharray="30 156 18 109" stroke-dashoffset="127" stroke-linecap="round"/><ellipse rx="52.0" ry="48.1" fill="none" stroke="#170502" stroke-width="3.2" stroke-opacity="0.97" stroke-dasharray="29 176 17 123" stroke-dashoffset="291" stroke-linecap="round"/><ellipse rx="49.4" ry="44.9" fill="none" stroke="#ee8c1c" stroke-width="2.9" stroke-opacity="0.37" stroke-dasharray="116 35 46 59" stroke-dashoffset="210"/><ellipse rx="46.8" ry="42.3" fill="none" stroke="#861e08" stroke-width="2.5" stroke-opacity="0.73" stroke-dasharray="151 7 45 13" stroke-dashoffset="99"/><ellipse rx="46.8" ry="42.3" fill="none" stroke="#170502" stroke-width="2.7" stroke-opacity="0.96" stroke-dasharray="8 75 5 53" stroke-dashoffset="165" stroke-linecap="round"/><ellipse rx="46.8" ry="42.3" fill="none" stroke="#170502" stroke-width="2.7" stroke-opacity="0.88" stroke-dasharray="14 168 9 117" stroke-dashoffset="207" stroke-linecap="round"/><ellipse rx="44.0" ry="39.7" fill="none" stroke="#ee8c1c" stroke-width="2.9" stroke-opacity="0.52" stroke-dasharray="129 21 52 35" stroke-dashoffset="121"/><ellipse rx="41.4" ry="37.1" fill="none" stroke="#861e08" stroke-width="2.1" stroke-opacity="0.74" stroke-dasharray="194 10 58 19" stroke-dashoffset="239"/><ellipse rx="41.4" ry="37.1" fill="none" stroke="#170502" stroke-width="3.0" stroke-opacity="0.99" stroke-dasharray="9 74 5 52" stroke-dashoffset="99" stroke-linecap="round"/><ellipse rx="41.4" ry="37.1" fill="none" stroke="#170502" stroke-width="2.5" stroke-opacity="0.90" stroke-dasharray="24 132 14 92" stroke-dashoffset="246" stroke-linecap="round"/><ellipse rx="38.7" ry="34.6" fill="none" stroke="#ee8c1c" stroke-width="2.9" stroke-opacity="0.64" stroke-dasharray="80 31 32 52" stroke-dashoffset="22"/><ellipse rx="36.1" ry="32.0" fill="none" stroke="#861e08" stroke-width="2.8" stroke-opacity="0.74" stroke-dasharray="123 6 37 11" stroke-dashoffset="57"/><ellipse rx="36.1" ry="32.0" fill="none" stroke="#170502" stroke-width="3.4" stroke-opacity="0.95" stroke-dasharray="19 111 11 78" stroke-dashoffset="145" stroke-linecap="round"/><ellipse rx="36.1" ry="32.0" fill="none" stroke="#170502" stroke-width="3.2" stroke-opacity="0.82" stroke-dasharray="10 76 6 53" stroke-dashoffset="109" stroke-linecap="round"/><ellipse rx="33.9" ry="28.9" fill="none" stroke="#ee8c1c" stroke-width="2.9" stroke-opacity="0.37" stroke-dasharray="100 6 40 10" stroke-dashoffset="164"/><ellipse rx="31.3" ry="26.3" fill="none" stroke="#861e08" stroke-width="2.5" stroke-opacity="0.97" stroke-dasharray="73 6 22 11" stroke-dashoffset="180"/><ellipse rx="31.3" ry="26.3" fill="none" stroke="#170502" stroke-width="3.1" stroke-opacity="0.80" stroke-dasharray="19 101 11 71" stroke-dashoffset="138" stroke-linecap="round"/><ellipse rx="31.3" ry="26.3" fill="none" stroke="#170502" stroke-width="2.4" stroke-opacity="1.00" stroke-dasharray="15 72 9 50" stroke-dashoffset="119" stroke-linecap="round"/><ellipse rx="28.7" ry="24.8" fill="none" stroke="#ee8c1c" stroke-width="2.9" stroke-opacity="0.40" stroke-dasharray="52 14 21 23" stroke-dashoffset="115"/><ellipse rx="26.1" ry="22.2" fill="none" stroke="#861e08" stroke-width="2.3" stroke-opacity="0.91" stroke-dasharray="110 3 33 6" stroke-dashoffset="63"/><ellipse rx="26.1" ry="22.2" fill="none" stroke="#170502" stroke-width="3.1" stroke-opacity="0.99" stroke-dasharray="12 64 7 45" stroke-dashoffset="81" stroke-linecap="round"/><ellipse rx="26.1" ry="22.2" fill="none" stroke="#170502" stroke-width="2.9" stroke-opacity="0.82" stroke-dasharray="21 39 13 28" stroke-dashoffset="106" stroke-linecap="round"/><ellipse rx="22.7" ry="18.7" fill="none" stroke="#ee8c1c" stroke-width="2.9" stroke-opacity="0.35" stroke-dasharray="43 9 17 16" stroke-dashoffset="69"/><ellipse rx="20.1" ry="16.1" fill="none" stroke="#861e08" stroke-width="2.8" stroke-opacity="0.86" stroke-dasharray="45 5 13 10" stroke-dashoffset="7"/><ellipse rx="20.1" ry="16.1" fill="none" stroke="#170502" stroke-width="3.4" stroke-opacity="0.97" stroke-dasharray="23 52 14 37" stroke-dashoffset="36" stroke-linecap="round"/><ellipse rx="20.1" ry="16.1" fill="none" stroke="#170502" stroke-width="2.6" stroke-opacity="0.79" stroke-dasharray="19 38 11 26" stroke-dashoffset="29" stroke-linecap="round"/><ellipse rx="17.3" ry="13.8" fill="none" stroke="#ee8c1c" stroke-width="2.9" stroke-opacity="0.51" stroke-dasharray="41 8 16 13" stroke-dashoffset="19"/><ellipse rx="14.7" ry="11.2" fill="none" stroke="#861e08" stroke-width="3.0" stroke-opacity="0.83" stroke-dasharray="33 3 10 5" stroke-dashoffset="0"/><ellipse rx="14.7" ry="11.2" fill="none" stroke="#170502" stroke-width="2.5" stroke-opacity="0.81" stroke-dasharray="15 37 9 26" stroke-dashoffset="56" stroke-linecap="round"/><ellipse rx="14.7" ry="11.2" fill="none" stroke="#170502" stroke-width="3.1" stroke-opacity="0.88" stroke-dasharray="30 28 18 19" stroke-dashoffset="2" stroke-linecap="round"/><ellipse rx="12.4" ry="8.2" fill="none" stroke="#ee8c1c" stroke-width="2.9" stroke-opacity="0.51" stroke-dasharray="17 6 7 10" stroke-dashoffset="2"/><ellipse rx="9.8" ry="5.6" fill="none" stroke="#861e08" stroke-width="2.2" stroke-opacity="0.80" stroke-dasharray="17 2 5 4" stroke-dashoffset="13"/><ellipse rx="9.8" ry="5.6" fill="none" stroke="#170502" stroke-width="2.9" stroke-opacity="0.98" stroke-dasharray="9 13 5 9" stroke-dashoffset="31" stroke-linecap="round"/><ellipse rx="9.8" ry="5.6" fill="none" stroke="#170502" stroke-width="2.7" stroke-opacity="0.88" stroke-dasharray="13 23 8 16" stroke-dashoffset="16" stroke-linecap="round"/></g><g transform="translate(276.0,262.0) rotate(-25)"><ellipse rx="222.0" ry="208.0" fill="#d2560e"/><ellipse rx="225.0" ry="211.0" fill="none" stroke="#ee8c1c" stroke-width="2.4" stroke-opacity="0.58" stroke-dasharray="365 42 146 71" stroke-dashoffset="997"/><ellipse rx="222.5" ry="208.5" fill="none" stroke="#861e08" stroke-width="2.2" stroke-opacity="0.67" stroke-dasharray="860 30 258 60" stroke-dashoffset="787"/><ellipse rx="222.5" ry="208.5" fill="none" stroke="#170502" stroke-width="2.7" stroke-opacity="1.00" stroke-dasharray="17 484 10 339" stroke-dashoffset="1286" stroke-linecap="round"/><ellipse rx="219.6" ry="205.4" fill="none" stroke="#ee8c1c" stroke-width="2.4" stroke-opacity="0.21" stroke-dasharray="454 33 182 55" stroke-dashoffset="614"/><ellipse rx="217.1" ry="202.9" fill="none" stroke="#861e08" stroke-width="2.5" stroke-opacity="0.64" stroke-dasharray="606 33 182 67" stroke-dashoffset="740"/><ellipse rx="217.1" ry="202.9" fill="none" stroke="#170502" stroke-width="2.1" stroke-opacity="0.88" stroke-dasharray="9 436 5 305" stroke-dashoffset="1318" stroke-linecap="round"/><ellipse rx="214.7" ry="200.1" fill="none" stroke="#ee8c1c" stroke-width="2.4" stroke-opacity="0.53" stroke-dasharray="725 159 290 271" stroke-dashoffset="1168"/><ellipse rx="212.2" ry="197.6" fill="none" stroke="#861e08" stroke-width="2.0" stroke-opacity="0.84" stroke-dasharray="878 54 263 107" stroke-dashoffset="1239"/><ellipse rx="212.2" ry="197.6" fill="none" stroke="#170502" stroke-width="2.5" stroke-opacity="0.88" stroke-dasharray="25 626 15 438" stroke-dashoffset="631" stroke-linecap="round"/><ellipse rx="210.0" ry="195.5" fill="none" stroke="#ee8c1c" stroke-width="2.4" stroke-opacity="0.60" stroke-dasharray="681 83 272 141" stroke-dashoffset="1132"/><ellipse rx="207.5" ry="193.0" fill="none" stroke="#861e08" stroke-width="2.5" stroke-opacity="0.73" stroke-dasharray="668 41 200 82" stroke-dashoffset="612"/><ellipse rx="207.5" ry="193.0" fill="none" stroke="#170502" stroke-width="2.2" stroke-opacity="0.98" stroke-dasharray="15 604 9 423" stroke-dashoffset="337" stroke-linecap="round"/><ellipse rx="205.0" ry="190.3" fill="none" stroke="#ee8c1c" stroke-width="2.4" stroke-opacity="0.43" stroke-dasharray="718 137 287 233" stroke-dashoffset="635"/><ellipse rx="202.5" ry="187.8" fill="none" stroke="#861e08" stroke-width="2.0" stroke-opacity="0.49" stroke-dasharray="767 41 230 82" stroke-dashoffset="628"/><ellipse rx="199.6" ry="185.0" fill="none" stroke="#ee8c1c" stroke-width="2.4" stroke-opacity="0.61" stroke-dasharray="641 136 256 232" stroke-dashoffset="228"/><ellipse rx="197.1" ry="182.5" fill="none" stroke="#861e08" stroke-width="2.3" stroke-opacity="0.52" stroke-dasharray="802 15 241 29" stroke-dashoffset="270"/><ellipse rx="194.0" ry="180.5" fill="none" stroke="#ee8c1c" stroke-width="2.4" stroke-opacity="0.29" stroke-dasharray="637 60 255 102" stroke-dashoffset="1023"/><ellipse rx="191.5" ry="178.0" fill="none" stroke="#861e08" stroke-width="1.7" stroke-opacity="0.56" stroke-dasharray="594 45 178 90" stroke-dashoffset="200"/><ellipse rx="189.0" ry="176.0" fill="none" stroke="#ee8c1c" stroke-width="2.4" stroke-opacity="0.21" stroke-dasharray="293 130 117 221" stroke-dashoffset="289"/><ellipse rx="186.5" ry="173.5" fill="none" stroke="#861e08" stroke-width="1.9" stroke-opacity="0.71" stroke-dasharray="800 18 240 37" stroke-dashoffset="436"/><ellipse rx="186.5" ry="173.5" fill="none" stroke="#170502" stroke-width="2.0" stroke-opacity="0.84" stroke-dasharray="30 295 18 206" stroke-dashoffset="696" stroke-linecap="round"/><ellipse rx="184.8" ry="170.0" fill="none" stroke="#ee8c1c" stroke-width="2.4" stroke-opacity="0.40" stroke-dasharray="405 26 162 45" stroke-dashoffset="842"/><ellipse rx="182.3" ry="167.5" fill="none" stroke="#861e08" stroke-width="2.4" stroke-opacity="0.79" stroke-dasharray="737 51 221 101" stroke-dashoffset="776"/><ellipse rx="179.2" ry="165.7" fill="none" stroke="#ee8c1c" stroke-width="2.4" stroke-opacity="0.40" stroke-dasharray="385 36 154 60" stroke-dashoffset="934"/><ellipse rx="176.7" ry="163.2" fill="none" stroke="#861e08" stroke-width="2.1" stroke-opacity="0.63" stroke-dasharray="389 36 117 71" stroke-dashoffset="154"/><ellipse rx="174.2" ry="160.6" fill="none" stroke="#ee8c1c" stroke-width="2.4" stroke-opacity="0.45" stroke-dasharray="411 23 165 39" stroke-dashoffset="146"/><ellipse rx="171.7" ry="158.1" fill="none" stroke="#861e08" stroke-width="1.8" stroke-opacity="0.44" stroke-dasharray="340 12 102 24" stroke-dashoffset="658"/><ellipse rx="170.1" ry="156.0" fill="none" stroke="#ee8c1c" stroke-width="2.4" stroke-opacity="0.40" stroke-dasharray="604 51 241 86" stroke-dashoffset="253"/><ellipse rx="167.6" ry="153.5" fill="none" stroke="#861e08" stroke-width="2.4" stroke-opacity="0.72" stroke-dasharray="601 35 180 71" stroke-dashoffset="259"/><ellipse rx="164.5" ry="149.9" fill="none" stroke="#ee8c1c" stroke-width="2.4" stroke-opacity="0.25" stroke-dasharray="255 71 102 121" stroke-dashoffset="704"/><ellipse rx="162.0" ry="147.4" fill="none" stroke="#861e08" stroke-width="1.9" stroke-opacity="0.50" stroke-dasharray="409 14 123 27" stroke-dashoffset="211"/><ellipse rx="159.5" ry="145.3" fill="none" stroke="#ee8c1c" stroke-width="2.4" stroke-opacity="0.61" stroke-dasharray="447 45 179 76" stroke-dashoffset="907"/><ellipse rx="157.0" ry="142.8" fill="none" stroke="#861e08" stroke-width="2.2" stroke-opacity="0.66" stroke-dasharray="626 26 188 52" stroke-dashoffset="48"/><ellipse rx="154.5" ry="140.1" fill="none" stroke="#ee8c1c" stroke-width="2.4" stroke-opacity="0.36" stroke-dasharray="258 113 103 192" stroke-dashoffset="473"/><ellipse rx="152.0" ry="137.6" fill="none" stroke="#861e08" stroke-width="2.0" stroke-opacity="0.84" stroke-dasharray="693 31 208 63" stroke-dashoffset="339"/><ellipse rx="152.0" ry="137.6" fill="none" stroke="#170502" stroke-width="2.3" stroke-opacity="0.96" stroke-dasharray="23 219 14 153" stroke-dashoffset="612" stroke-linecap="round"/><ellipse rx="148.9" ry="135.4" fill="none" stroke="#ee8c1c" stroke-width="2.4" stroke-opacity="0.29" stroke-dasharray="346 73 138 124" stroke-dashoffset="517"/><ellipse rx="146.4" ry="132.9" fill="none" stroke="#861e08" stroke-width="2.0" stroke-opacity="0.82" stroke-dasharray="296 19 89 38" stroke-dashoffset="67"/><ellipse rx="144.1" ry="130.6" fill="none" stroke="#ee8c1c" stroke-width="2.4" stroke-opacity="0.54" stroke-dasharray="328 68 131 116" stroke-dashoffset="335"/><ellipse rx="141.6" ry="128.1" fill="none" stroke="#861e08" stroke-width="1.8" stroke-opacity="0.78" stroke-dasharray="306 13 92 25" stroke-dashoffset="543"/><ellipse rx="139.7" ry="124.9" fill="none" stroke="#ee8c1c" stroke-width="2.4" stroke-opacity="0.53" stroke-dasharray="392 99 157 168" stroke-dashoffset="407"/><ellipse rx="137.2" ry="122.4" fill="none" stroke="#861e08" stroke-width="2.4" stroke-opacity="0.52" stroke-dasharray="391 23 117 46" stroke-dashoffset="430"/><ellipse rx="135.0" ry="120.9" fill="none" stroke="#ee8c1c" stroke-width="2.4" stroke-opacity="0.33" stroke-dasharray="455 102 182 173" stroke-dashoffset="183"/><ellipse rx="132.5" ry="118.4" fill="none" stroke="#861e08" stroke-width="2.1" stroke-opacity="0.71" stroke-dasharray="429 16 129 32" stroke-dashoffset="725"/><ellipse rx="129.9" ry="115.0" fill="none" stroke="#ee8c1c" stroke-width="2.4" stroke-opacity="0.27" stroke-dasharray="283 113 113 192" stroke-dashoffset="314"/><ellipse rx="127.4" ry="112.5" fill="none" stroke="#861e08" stroke-width="2.5" stroke-opacity="0.84" stroke-dasharray="252 10 75 20" stroke-dashoffset="489"/><ellipse rx="127.4" ry="112.5" fill="none" stroke="#170502" stroke-width="2.7" stroke-opacity="0.92" stroke-dasharray="15 221 9 155" stroke-dashoffset="331" stroke-linecap="round"/><ellipse rx="124.5" ry="110.0" fill="none" stroke="#ee8c1c" stroke-width="2.4" stroke-opacity="0.54" stroke-dasharray="317 104 127 176" stroke-dashoffset="69"/><ellipse rx="122.0" ry="107.5" fill="none" stroke="#861e08" stroke-width="1.9" stroke-opacity="0.80" stroke-dasharray="403 28 121 56" stroke-dashoffset="333"/><ellipse rx="119.4" ry="106.1" fill="none" stroke="#ee8c1c" stroke-width="2.4" stroke-opacity="0.27" stroke-dasharray="363 66 145 111" stroke-dashoffset="306"/><ellipse rx="116.9" ry="103.6" fill="none" stroke="#861e08" stroke-width="2.5" stroke-opacity="0.48" stroke-dasharray="218 23 65 47" stroke-dashoffset="354"/><ellipse rx="114.4" ry="100.8" fill="none" stroke="#ee8c1c" stroke-width="2.4" stroke-opacity="0.41" stroke-dasharray="382 74 153 125" stroke-dashoffset="636"/><ellipse rx="111.9" ry="98.3" fill="none" stroke="#861e08" stroke-width="2.3" stroke-opacity="0.74" stroke-dasharray="308 26 92 53" stroke-dashoffset="563"/><ellipse rx="111.9" ry="98.3" fill="none" stroke="#170502" stroke-width="2.7" stroke-opacity="0.99" stroke-dasharray="22 239 13 167" stroke-dashoffset="420" stroke-linecap="round"/><ellipse rx="108.9" ry="95.5" fill="none" stroke="#ee8c1c" stroke-width="2.4" stroke-opacity="0.49" stroke-dasharray="313 85 125 144" stroke-dashoffset="512"/><ellipse rx="106.4" ry="93.0" fill="none" stroke="#861e08" stroke-width="2.4" stroke-opacity="0.67" stroke-dasharray="193 30 58 60" stroke-dashoffset="568"/><ellipse rx="104.0" ry="90.9" fill="none" stroke="#ee8c1c" stroke-width="2.4" stroke-opacity="0.53" stroke-dasharray="310 27 124 47" stroke-dashoffset="350"/><ellipse rx="101.5" ry="88.4" fill="none" stroke="#861e08" stroke-width="1.8" stroke-opacity="0.68" stroke-dasharray="236 25 71 50" stroke-dashoffset="259"/><ellipse rx="99.6" ry="85.5" fill="none" stroke="#ee8c1c" stroke-width="2.4" stroke-opacity="0.23" stroke-dasharray="182 83 73 140" stroke-dashoffset="2"/><ellipse rx="97.1" ry="83.0" fill="none" stroke="#861e08" stroke-width="2.3" stroke-opacity="0.74" stroke-dasharray="307 25 92 49" stroke-dashoffset="275"/><ellipse rx="94.3" ry="80.2" fill="none" stroke="#ee8c1c" stroke-width="2.4" stroke-opacity="0.24" stroke-dasharray="227 13 91 21" stroke-dashoffset="402"/><ellipse rx="91.8" ry="77.7" fill="none" stroke="#861e08" stroke-width="2.4" stroke-opacity="0.58" stroke-dasharray="206 21 62 43" stroke-dashoffset="360"/><ellipse rx="89.9" ry="75.1" fill="none" stroke="#ee8c1c" stroke-width="2.4" stroke-opacity="0.41" stroke-dasharray="155 35 62 60" stroke-dashoffset="149"/><ellipse rx="87.4" ry="72.6" fill="none" stroke="#861e08" stroke-width="2.6" stroke-opacity="0.56" stroke-dasharray="154 16 46 33" stroke-dashoffset="271"/><ellipse rx="84.4" ry="70.9" fill="none" stroke="#ee8c1c" stroke-width="2.4" stroke-opacity="0.42" stroke-dasharray="169 49 68 84" stroke-dashoffset="255"/><ellipse rx="81.9" ry="68.4" fill="none" stroke="#861e08" stroke-width="2.4" stroke-opacity="0.54" stroke-dasharray="359 6 108 12" stroke-dashoffset="306"/><ellipse rx="79.7" ry="65.4" fill="none" stroke="#ee8c1c" stroke-width="2.4" stroke-opacity="0.48" stroke-dasharray="240 14 96 24" stroke-dashoffset="173"/><ellipse rx="77.2" ry="62.9" fill="none" stroke="#861e08" stroke-width="2.4" stroke-opacity="0.68" stroke-dasharray="249 19 75 39" stroke-dashoffset="136"/><ellipse rx="77.2" ry="62.9" fill="none" stroke="#170502" stroke-width="2.3" stroke-opacity="0.99" stroke-dasharray="18 129 11 90" stroke-dashoffset="49" stroke-linecap="round"/><ellipse rx="74.9" ry="60.4" fill="none" stroke="#ee8c1c" stroke-width="2.4" stroke-opacity="0.23" stroke-dasharray="155 25 62 43" stroke-dashoffset="188"/><ellipse rx="72.4" ry="57.9" fill="none" stroke="#861e08" stroke-width="2.0" stroke-opacity="0.80" stroke-dasharray="157 11 47 23" stroke-dashoffset="378"/><ellipse rx="69.7" ry="56.0" fill="none" stroke="#ee8c1c" stroke-width="2.4" stroke-opacity="0.31" stroke-dasharray="139 13 55 21" stroke-dashoffset="72"/><ellipse rx="67.2" ry="53.5" fill="none" stroke="#861e08" stroke-width="2.0" stroke-opacity="0.76" stroke-dasharray="243 9 73 19" stroke-dashoffset="89"/><ellipse rx="64.7" ry="50.4" fill="none" stroke="#ee8c1c" stroke-width="2.4" stroke-opacity="0.60" stroke-dasharray="187 22 75 38" stroke-dashoffset="321"/><ellipse rx="62.2" ry="47.9" fill="none" stroke="#861e08" stroke-width="2.6" stroke-opacity="0.73" stroke-dasharray="191 13 57 26" stroke-dashoffset="261"/><ellipse rx="60.0" ry="45.8" fill="none" stroke="#ee8c1c" stroke-width="2.4" stroke-opacity="0.48" stroke-dasharray="189 18 75 31" stroke-dashoffset="213"/><ellipse rx="57.5" ry="43.3" fill="none" stroke="#861e08" stroke-width="1.9" stroke-opacity="0.83" stroke-dasharray="154 8 46 16" stroke-dashoffset="113"/><ellipse rx="55.0" ry="40.1" fill="none" stroke="#ee8c1c" stroke-width="2.4" stroke-opacity="0.21" stroke-dasharray="167 10 67 18" stroke-dashoffset="100"/><ellipse rx="52.5" ry="37.6" fill="none" stroke="#861e08" stroke-width="2.5" stroke-opacity="0.74" stroke-dasharray="137 13 41 27" stroke-dashoffset="124"/><ellipse rx="49.2" ry="35.9" fill="none" stroke="#ee8c1c" stroke-width="2.4" stroke-opacity="0.49" stroke-dasharray="98 14 39 25" stroke-dashoffset="38"/><ellipse rx="46.7" ry="33.4" fill="none" stroke="#861e08" stroke-width="1.8" stroke-opacity="0.46" stroke-dasharray="116 12 35 24" stroke-dashoffset="52"/><ellipse rx="44.4" ry="30.2" fill="none" stroke="#ee8c1c" stroke-width="2.4" stroke-opacity="0.31" stroke-dasharray="82 11 33 20" stroke-dashoffset="135"/><ellipse rx="41.9" ry="27.7" fill="none" stroke="#861e08" stroke-width="2.4" stroke-opacity="0.43" stroke-dasharray="103 6 31 11" stroke-dashoffset="32"/><ellipse rx="39.4" ry="25.8" fill="none" stroke="#ee8c1c" stroke-width="2.4" stroke-opacity="0.58" stroke-dasharray="57 17 23 29" stroke-dashoffset="65"/><ellipse rx="36.9" ry="23.3" fill="none" stroke="#861e08" stroke-width="2.1" stroke-opacity="0.85" stroke-dasharray="131 7 39 13" stroke-dashoffset="75"/><ellipse rx="34.6" ry="20.3" fill="none" stroke="#ee8c1c" stroke-width="2.4" stroke-opacity="0.46" stroke-dasharray="87 16 35 27" stroke-dashoffset="86"/><ellipse rx="32.1" ry="17.8" fill="none" stroke="#861e08" stroke-width="2.5" stroke-opacity="0.60" stroke-dasharray="127 8 38 16" stroke-dashoffset="66"/><ellipse rx="29.0" ry="15.0" fill="none" stroke="#ee8c1c" stroke-width="2.4" stroke-opacity="0.62" stroke-dasharray="76 5 30 8" stroke-dashoffset="86"/><ellipse rx="26.5" ry="12.5" fill="none" stroke="#861e08" stroke-width="2.0" stroke-opacity="0.76" stroke-dasharray="96 2 29 3" stroke-dashoffset="1"/><ellipse rx="26.5" ry="12.5" fill="none" stroke="#170502" stroke-width="2.1" stroke-opacity="0.92" stroke-dasharray="16 34 9 24" stroke-dashoffset="12" stroke-linecap="round"/><ellipse rx="25.1" ry="10.7" fill="none" stroke="#ee8c1c" stroke-width="2.4" stroke-opacity="0.31" stroke-dasharray="27 14 11 24" stroke-dashoffset="49"/><ellipse rx="22.6" ry="8.2" fill="none" stroke="#861e08" stroke-width="2.2" stroke-opacity="0.43" stroke-dasharray="59 2 18 3" stroke-dashoffset="20"/></g><g transform="translate(30.0,272.0) rotate(-20)"><ellipse rx="107.6" ry="115.6" fill="#d2560e"/><ellipse rx="109.9" ry="118.3" fill="none" stroke="#ee8c1c" stroke-width="2.9" stroke-opacity="0.48" stroke-dasharray="266 69 106 117" stroke-dashoffset="46"/><ellipse rx="107.3" ry="115.7" fill="none" stroke="#861e08" stroke-width="2.3" stroke-opacity="0.77" stroke-dasharray="215 30 64 61" stroke-dashoffset="698"/><ellipse rx="107.3" ry="115.7" fill="none" stroke="#170502" stroke-width="3.2" stroke-opacity="0.79" stroke-dasharray="26 274 16 192" stroke-dashoffset="445" stroke-linecap="round"/><ellipse rx="105.4" ry="113.0" fill="none" stroke="#ee8c1c" stroke-width="2.9" stroke-opacity="0.23" stroke-dasharray="341 72 137 122" stroke-dashoffset="508"/><ellipse rx="102.8" ry="110.4" fill="none" stroke="#861e08" stroke-width="2.1" stroke-opacity="0.96" stroke-dasharray="399 15 120 30" stroke-dashoffset="317"/><ellipse rx="102.8" ry="110.4" fill="none" stroke="#170502" stroke-width="3.5" stroke-opacity="0.85" stroke-dasharray="27 325 16 228" stroke-dashoffset="537" stroke-linecap="round"/><ellipse rx="99.7" ry="108.3" fill="none" stroke="#ee8c1c" stroke-width="2.9" stroke-opacity="0.26" stroke-dasharray="356 21 142 35" stroke-dashoffset="138"/><ellipse rx="97.1" ry="105.7" fill="none" stroke="#861e08" stroke-width="2.7" stroke-opacity="0.79" stroke-dasharray="499 17 150 35" stroke-dashoffset="323"/><ellipse rx="97.1" ry="105.7" fill="none" stroke="#170502" stroke-width="3.1" stroke-opacity="0.98" stroke-dasharray="16 277 9 194" stroke-dashoffset="435" stroke-linecap="round"/><ellipse rx="95.1" ry="103.0" fill="none" stroke="#ee8c1c" stroke-width="2.9" stroke-opacity="0.27" stroke-dasharray="362 65 145 111" stroke-dashoffset="522"/><ellipse rx="92.5" ry="100.4" fill="none" stroke="#861e08" stroke-width="2.7" stroke-opacity="0.91" stroke-dasharray="474 28 142 56" stroke-dashoffset="128"/><ellipse rx="89.5" ry="97.1" fill="none" stroke="#ee8c1c" stroke-width="2.9" stroke-opacity="0.65" stroke-dasharray="155 75 62 127" stroke-dashoffset="50"/><ellipse rx="86.9" ry="94.5" fill="none" stroke="#861e08" stroke-width="2.2" stroke-opacity="0.79" stroke-dasharray="399 15 120 30" stroke-dashoffset="438"/><ellipse rx="83.7" ry="92.3" fill="none" stroke="#ee8c1c" stroke-width="2.9" stroke-opacity="0.35" stroke-dasharray="143 61 57 104" stroke-dashoffset="473"/><ellipse rx="81.1" ry="89.7" fill="none" stroke="#861e08" stroke-width="3.1" stroke-opacity="0.79" stroke-dasharray="424 16 127 32" stroke-dashoffset="41"/><ellipse rx="81.1" ry="89.7" fill="none" stroke="#170502" stroke-width="2.9" stroke-opacity="0.90" stroke-dasharray="9 150 5 105" stroke-dashoffset="84" stroke-linecap="round"/><ellipse rx="78.5" ry="87.4" fill="none" stroke="#ee8c1c" stroke-width="2.9" stroke-opacity="0.60" stroke-dasharray="182 73 73 124" stroke-dashoffset="191"/><ellipse rx="75.9" ry="84.8" fill="none" stroke="#861e08" stroke-width="2.7" stroke-opacity="0.88" stroke-dasharray="268 16 80 31" stroke-dashoffset="283"/><ellipse rx="75.9" ry="84.8" fill="none" stroke="#170502" stroke-width="2.9" stroke-opacity="0.93" stroke-dasharray="29 204 17 142" stroke-dashoffset="120" stroke-linecap="round"/><ellipse rx="73.6" ry="82.4" fill="none" stroke="#ee8c1c" stroke-width="2.9" stroke-opacity="0.21" stroke-dasharray="205 43 82 74" stroke-dashoffset="197"/><ellipse rx="71.0" ry="79.8" fill="none" stroke="#861e08" stroke-width="2.7" stroke-opacity="0.89" stroke-dasharray="280 5 84 10" stroke-dashoffset="28"/><ellipse rx="71.0" ry="79.8" fill="none" stroke="#170502" stroke-width="2.8" stroke-opacity="0.93" stroke-dasharray="18 224 11 156" stroke-dashoffset="350" stroke-linecap="round"/><ellipse rx="68.0" ry="76.1" fill="none" stroke="#ee8c1c" stroke-width="2.9" stroke-opacity="0.31" stroke-dasharray="213 63 85 108" stroke-dashoffset="199"/><ellipse rx="65.4" ry="73.5" fill="none" stroke="#861e08" stroke-width="2.4" stroke-opacity="0.79" stroke-dasharray="260 10 78 20" stroke-dashoffset="161"/><ellipse rx="65.4" ry="73.5" fill="none" stroke="#170502" stroke-width="3.3" stroke-opacity="0.76" stroke-dasharray="15 153 9 107" stroke-dashoffset="249" stroke-linecap="round"/><ellipse rx="63.7" ry="71.2" fill="none" stroke="#ee8c1c" stroke-width="2.9" stroke-opacity="0.31" stroke-dasharray="134 51 53 86" stroke-dashoffset="76"/><ellipse rx="61.1" ry="68.6" fill="none" stroke="#861e08" stroke-width="2.1" stroke-opacity="0.80" stroke-dasharray="211 15 63 31" stroke-dashoffset="136"/><ellipse rx="58.1" ry="66.6" fill="none" stroke="#ee8c1c" stroke-width="2.9" stroke-opacity="0.49" stroke-dasharray="116 24 47 41" stroke-dashoffset="333"/><ellipse rx="55.5" ry="64.0" fill="none" stroke="#861e08" stroke-width="2.2" stroke-opacity="0.86" stroke-dasharray="198 7 59 14" stroke-dashoffset="72"/><ellipse rx="53.4" ry="60.6" fill="none" stroke="#ee8c1c" stroke-width="2.9" stroke-opacity="0.49" stroke-dasharray="119 43 48 73" stroke-dashoffset="276"/><ellipse rx="50.8" ry="58.0" fill="none" stroke="#861e08" stroke-width="2.4" stroke-opacity="0.94" stroke-dasharray="162 5 49 10" stroke-dashoffset="93"/><ellipse rx="50.8" ry="58.0" fill="none" stroke="#170502" stroke-width="2.9" stroke-opacity="0.98" stroke-dasharray="17 126 10 88" stroke-dashoffset="53" stroke-linecap="round"/><ellipse rx="47.2" ry="56.3" fill="none" stroke="#ee8c1c" stroke-width="2.9" stroke-opacity="0.40" stroke-dasharray="173 46 69 78" stroke-dashoffset="294"/><ellipse rx="44.6" ry="53.7" fill="none" stroke="#861e08" stroke-width="2.8" stroke-opacity="0.95" stroke-dasharray="236 6 71 12" stroke-dashoffset="205"/><ellipse rx="44.6" ry="53.7" fill="none" stroke="#170502" stroke-width="2.7" stroke-opacity="0.77" stroke-dasharray="14 104 9 73" stroke-dashoffset="182" stroke-linecap="round"/><ellipse rx="42.3" ry="51.0" fill="none" stroke="#ee8c1c" stroke-width="2.9" stroke-opacity="0.51" stroke-dasharray="74 38 30 65" stroke-dashoffset="256"/><ellipse rx="39.7" ry="48.4" fill="none" stroke="#861e08" stroke-width="2.7" stroke-opacity="0.70" stroke-dasharray="208 13 62 26" stroke-dashoffset="207"/><ellipse rx="39.7" ry="48.4" fill="none" stroke="#170502" stroke-width="3.0" stroke-opacity="0.85" stroke-dasharray="15 129 9 90" stroke-dashoffset="261" stroke-linecap="round"/><ellipse rx="37.5" ry="45.2" fill="none" stroke="#ee8c1c" stroke-width="2.9" stroke-opacity="0.41" stroke-dasharray="83 32 33 55" stroke-dashoffset="191"/><ellipse rx="34.9" ry="42.6" fill="none" stroke="#861e08" stroke-width="2.6" stroke-opacity="0.95" stroke-dasharray="116 4 35 9" stroke-dashoffset="42"/><ellipse rx="34.9" ry="42.6" fill="none" stroke="#170502" stroke-width="3.4" stroke-opacity="0.75" stroke-dasharray="28 128 17 89" stroke-dashoffset="154" stroke-linecap="round"/><ellipse rx="32.6" ry="39.7" fill="none" stroke="#ee8c1c" stroke-width="2.9" stroke-opacity="0.44" stroke-dasharray="73 12 29 20" stroke-dashoffset="89"/><ellipse rx="30.0" ry="37.1" fill="none" stroke="#861e08" stroke-width="2.0" stroke-opacity="0.72" stroke-dasharray="113 9 34 17" stroke-dashoffset="27"/><ellipse rx="30.0" ry="37.1" fill="none" stroke="#170502" stroke-width="3.4" stroke-opacity="0.77" stroke-dasharray="10 125 6 87" stroke-dashoffset="106" stroke-linecap="round"/><ellipse rx="26.8" ry="34.8" fill="none" stroke="#ee8c1c" stroke-width="2.9" stroke-opacity="0.46" stroke-dasharray="66 19 27 31" stroke-dashoffset="64"/><ellipse rx="24.2" ry="32.2" fill="none" stroke="#861e08" stroke-width="2.2" stroke-opacity="0.87" stroke-dasharray="70 4 21 8" stroke-dashoffset="127"/><ellipse rx="24.2" ry="32.2" fill="none" stroke="#170502" stroke-width="2.8" stroke-opacity="0.90" stroke-dasharray="10 48 6 34" stroke-dashoffset="139" stroke-linecap="round"/><ellipse rx="21.7" ry="30.2" fill="none" stroke="#ee8c1c" stroke-width="2.9" stroke-opacity="0.37" stroke-dasharray="69 11 28 19" stroke-dashoffset="73"/><ellipse rx="19.1" ry="27.6" fill="none" stroke="#861e08" stroke-width="2.8" stroke-opacity="0.84" stroke-dasharray="96 4 29 8" stroke-dashoffset="36"/><ellipse rx="19.1" ry="27.6" fill="none" stroke="#170502" stroke-width="2.9" stroke-opacity="0.86" stroke-dasharray="23 34 14 24" stroke-dashoffset="130" stroke-linecap="round"/><ellipse rx="17.1" ry="24.4" fill="none" stroke="#ee8c1c" stroke-width="2.9" stroke-opacity="0.32" stroke-dasharray="65 14 26 24" stroke-dashoffset="54"/><ellipse rx="14.5" ry="21.8" fill="none" stroke="#861e08" stroke-width="2.8" stroke-opacity="0.97" stroke-dasharray="42 5 13 10" stroke-dashoffset="91"/><ellipse rx="14.5" ry="21.8" fill="none" stroke="#170502" stroke-width="2.5" stroke-opacity="0.90" stroke-dasharray="24 49 14 34" stroke-dashoffset="1" stroke-linecap="round"/></g><g transform="translate(52.0,18.0) rotate(10)"><ellipse rx="70.0" ry="56.0" fill="#d2560e"/><ellipse rx="72.2" ry="58.0" fill="none" stroke="#ee8c1c" stroke-width="2.9" stroke-opacity="0.23" stroke-dasharray="153 16 61 27" stroke-dashoffset="158"/><ellipse rx="69.7" ry="55.5" fill="none" stroke="#861e08" stroke-width="2.9" stroke-opacity="0.77" stroke-dasharray="299 17 90 33" stroke-dashoffset="212"/><ellipse rx="69.7" ry="55.5" fill="none" stroke="#170502" stroke-width="2.7" stroke-opacity="0.98" stroke-dasharray="12 96 7 67" stroke-dashoffset="327" stroke-linecap="round"/><ellipse rx="67.9" ry="53.9" fill="none" stroke="#ee8c1c" stroke-width="2.9" stroke-opacity="0.48" stroke-dasharray="117 22 47 38" stroke-dashoffset="269"/><ellipse rx="65.4" ry="51.4" fill="none" stroke="#861e08" stroke-width="2.1" stroke-opacity="0.88" stroke-dasharray="268 17 80 33" stroke-dashoffset="247"/><ellipse rx="65.4" ry="51.4" fill="none" stroke="#170502" stroke-width="2.5" stroke-opacity="0.98" stroke-dasharray="12 143 7 100" stroke-dashoffset="319" stroke-linecap="round"/><ellipse rx="62.6" ry="48.3" fill="none" stroke="#ee8c1c" stroke-width="2.9" stroke-opacity="0.60" stroke-dasharray="190 32 76 54" stroke-dashoffset="283"/><ellipse rx="60.1" ry="45.8" fill="none" stroke="#861e08" stroke-width="2.7" stroke-opacity="0.83" stroke-dasharray="185 9 56 18" stroke-dashoffset="54"/><ellipse rx="60.1" ry="45.8" fill="none" stroke="#170502" stroke-width="2.5" stroke-opacity="0.91" stroke-dasharray="26 73 16 51" stroke-dashoffset="94" stroke-linecap="round"/><ellipse rx="57.5" ry="43.5" fill="none" stroke="#ee8c1c" stroke-width="2.9" stroke-opacity="0.29" stroke-dasharray="112 45 45 77" stroke-dashoffset="125"/><ellipse rx="55.0" ry="41.0" fill="none" stroke="#861e08" stroke-width="2.3" stroke-opacity="0.81" stroke-dasharray="122 11 37 21" stroke-dashoffset="227"/><ellipse rx="55.0" ry="41.0" fill="none" stroke="#170502" stroke-width="2.5" stroke-opacity="0.77" stroke-dasharray="20 170 12 119" stroke-dashoffset="69" stroke-linecap="round"/><ellipse rx="52.8" ry="38.6" fill="none" stroke="#ee8c1c" stroke-width="2.9" stroke-opacity="0.28" stroke-dasharray="91 17 36 29" stroke-dashoffset="126"/><ellipse rx="50.3" ry="36.1" fill="none" stroke="#861e08" stroke-width="3.0" stroke-opacity="0.99" stroke-dasharray="88 10 26 21" stroke-dashoffset="201"/><ellipse rx="46.9" ry="33.2" fill="none" stroke="#ee8c1c" stroke-width="2.9" stroke-opacity="0.38" stroke-dasharray="140 29 56 49" stroke-dashoffset="225"/><ellipse rx="44.4" ry="30.7" fill="none" stroke="#861e08" stroke-width="2.4" stroke-opacity="0.76" stroke-dasharray="145 10 44 20" stroke-dashoffset="106"/><ellipse rx="44.4" ry="30.7" fill="none" stroke="#170502" stroke-width="2.8" stroke-opacity="0.75" stroke-dasharray="16 139 10 97" stroke-dashoffset="11" stroke-linecap="round"/><ellipse rx="42.1" ry="28.8" fill="none" stroke="#ee8c1c" stroke-width="2.9" stroke-opacity="0.24" stroke-dasharray="79 12 32 21" stroke-dashoffset="205"/><ellipse rx="39.6" ry="26.3" fill="none" stroke="#861e08" stroke-width="2.1" stroke-opacity="0.72" stroke-dasharray="107 4 32 8" stroke-dashoffset="35"/><ellipse rx="37.1" ry="22.9" fill="none" stroke="#ee8c1c" stroke-width="2.9" stroke-opacity="0.65" stroke-dasharray="74 9 30 16" stroke-dashoffset="21"/><ellipse rx="34.6" ry="20.4" fill="none" stroke="#861e08" stroke-width="2.5" stroke-opacity="1.00" stroke-dasharray="99 7 30 14" stroke-dashoffset="84"/><ellipse rx="34.6" ry="20.4" fill="none" stroke="#170502" stroke-width="2.9" stroke-opacity="0.81" stroke-dasharray="17 38 10 26" stroke-dashoffset="156" stroke-linecap="round"/><ellipse rx="32.9" ry="18.5" fill="none" stroke="#ee8c1c" stroke-width="2.9" stroke-opacity="0.31" stroke-dasharray="39 8 16 13" stroke-dashoffset="31"/><ellipse rx="30.4" ry="16.0" fill="none" stroke="#861e08" stroke-width="2.2" stroke-opacity="0.72" stroke-dasharray="62 7 19 13" stroke-dashoffset="139"/><ellipse rx="30.4" ry="16.0" fill="none" stroke="#170502" stroke-width="3.5" stroke-opacity="0.91" stroke-dasharray="30 54 18 38" stroke-dashoffset="118" stroke-linecap="round"/><ellipse rx="27.8" ry="13.5" fill="none" stroke="#ee8c1c" stroke-width="2.9" stroke-opacity="0.59" stroke-dasharray="33 6 13 10" stroke-dashoffset="107"/><ellipse rx="25.3" ry="11.0" fill="none" stroke="#861e08" stroke-width="2.7" stroke-opacity="0.94" stroke-dasharray="90 3 27 6" stroke-dashoffset="76"/><ellipse rx="22.5" ry="8.7" fill="none" stroke="#ee8c1c" stroke-width="2.9" stroke-opacity="0.62" stroke-dasharray="43 5 17 8" stroke-dashoffset="84"/><ellipse rx="20.0" ry="6.2" fill="none" stroke="#861e08" stroke-width="3.1" stroke-opacity="0.90" stroke-dasharray="30 4 9 9" stroke-dashoffset="4"/></g><g transform="translate(108.0,138.0) rotate(14)"><ellipse rx="106.0" ry="86.0" fill="#d2560e"/><ellipse rx="108.7" ry="88.9" fill="none" stroke="#ee8c1c" stroke-width="2.9" stroke-opacity="0.53" stroke-dasharray="320 86 128 147" stroke-dashoffset="559"/><ellipse rx="106.1" ry="86.3" fill="none" stroke="#861e08" stroke-width="3.1" stroke-opacity="0.89" stroke-dasharray="191 17 57 35" stroke-dashoffset="546"/><ellipse rx="106.1" ry="86.3" fill="none" stroke="#170502" stroke-width="3.1" stroke-opacity="0.89" stroke-dasharray="18 181 11 127" stroke-dashoffset="8" stroke-linecap="round"/><ellipse rx="103.1" ry="83.1" fill="none" stroke="#ee8c1c" stroke-width="2.9" stroke-opacity="0.27" stroke-dasharray="326 68 130 116" stroke-dashoffset="455"/><ellipse rx="100.5" ry="80.5" fill="none" stroke="#861e08" stroke-width="2.2" stroke-opacity="0.70" stroke-dasharray="211 20 63 40" stroke-dashoffset="497"/><ellipse rx="100.5" ry="80.5" fill="none" stroke="#170502" stroke-width="3.4" stroke-opacity="0.82" stroke-dasharray="13 338 8 237" stroke-dashoffset="548" stroke-linecap="round"/><ellipse rx="98.2" ry="78.4" fill="none" stroke="#ee8c1c" stroke-width="2.9" stroke-opacity="0.51" stroke-dasharray="174 77 70 131" stroke-dashoffset="522"/><ellipse rx="95.6" ry="75.8" fill="none" stroke="#861e08" stroke-width="2.4" stroke-opacity="0.75" stroke-dasharray="404 12 121 24" stroke-dashoffset="79"/><ellipse rx="95.6" ry="75.8" fill="none" stroke="#170502" stroke-width="2.4" stroke-opacity="0.92" stroke-dasharray="15 238 9 167" stroke-dashoffset="183" stroke-linecap="round"/><ellipse rx="92.8" ry="73.4" fill="none" stroke="#ee8c1c" stroke-width="2.9" stroke-opacity="0.42" stroke-dasharray="212 31 85 53" stroke-dashoffset="358"/><ellipse rx="90.2" ry="70.8" fill="none" stroke="#861e08" stroke-width="2.1" stroke-opacity="0.92" stroke-dasharray="167 25 50 50" stroke-dashoffset="429"/><ellipse rx="90.2" ry="70.8" fill="none" stroke="#170502" stroke-width="3.1" stroke-opacity="0.75" stroke-dasharray="25 176 15 123" stroke-dashoffset="24" stroke-linecap="round"/><ellipse rx="87.4" ry="68.3" fill="none" stroke="#ee8c1c" stroke-width="2.9" stroke-opacity="0.62" stroke-dasharray="151 56 61 95" stroke-dashoffset="447"/><ellipse rx="84.8" ry="65.7" fill="none" stroke="#861e08" stroke-width="2.6" stroke-opacity="0.93" stroke-dasharray="224 11 67 23" stroke-dashoffset="51"/><ellipse rx="83.0" ry="63.0" fill="none" stroke="#ee8c1c" stroke-width="2.9" stroke-opacity="0.24" stroke-dasharray="117 64 47 108" stroke-dashoffset="151"/><ellipse rx="80.4" ry="60.4" fill="none" stroke="#861e08" stroke-width="2.4" stroke-opacity="0.98" stroke-dasharray="269 21 81 42" stroke-dashoffset="242"/><ellipse rx="80.4" ry="60.4" fill="none" stroke="#170502" stroke-width="2.5" stroke-opacity="0.79" stroke-dasharray="15 120 9 84" stroke-dashoffset="306" stroke-linecap="round"/><ellipse rx="78.0" ry="57.0" fill="none" stroke="#ee8c1c" stroke-width="2.9" stroke-opacity="0.44" stroke-dasharray="110 61 44 103" stroke-dashoffset="167"/><ellipse rx="75.4" ry="54.4" fill="none" stroke="#861e08" stroke-width="2.9" stroke-opacity="0.84" stroke-dasharray="172 14 52 28" stroke-dashoffset="173"/><ellipse rx="75.4" ry="54.4" fill="none" stroke="#170502" stroke-width="3.0" stroke-opacity="0.96" stroke-dasharray="28 87 17 61" stroke-dashoffset="54" stroke-linecap="round"/><ellipse rx="72.5" ry="52.7" fill="none" stroke="#ee8c1c" stroke-width="2.9" stroke-opacity="0.25" stroke-dasharray="179 46 71 79" stroke-dashoffset="165"/><ellipse rx="69.9" ry="50.1" fill="none" stroke="#861e08" stroke-width="2.4" stroke-opacity="0.84" stroke-dasharray="142 17 43 33" stroke-dashoffset="379"/><ellipse rx="67.6" ry="46.9" fill="none" stroke="#ee8c1c" stroke-width="2.9" stroke-opacity="0.42" stroke-dasharray="146 40 58 68" stroke-dashoffset="101"/><ellipse rx="65.0" ry="44.3" fill="none" stroke="#861e08" stroke-width="2.4" stroke-opacity="1.00" stroke-dasharray="174 5 52 11" stroke-dashoffset="333"/><ellipse rx="61.8" ry="41.6" fill="none" stroke="#ee8c1c" stroke-width="2.9" stroke-opacity="0.55" stroke-dasharray="88 17 35 29" stroke-dashoffset="270"/><ellipse rx="59.2" ry="39.0" fill="none" stroke="#861e08" stroke-width="2.9" stroke-opacity="0.91" stroke-dasharray="150 13 45 26" stroke-dashoffset="207"/><ellipse rx="56.4" ry="36.8" fill="none" stroke="#ee8c1c" stroke-width="2.9" stroke-opacity="0.55" stroke-dasharray="98 23 39 40" stroke-dashoffset="194"/><ellipse rx="53.8" ry="34.2" fill="none" stroke="#861e08" stroke-width="2.7" stroke-opacity="0.87" stroke-dasharray="125 13 38 27" stroke-dashoffset="3"/><ellipse rx="53.8" ry="34.2" fill="none" stroke="#170502" stroke-width="3.0" stroke-opacity="0.95" stroke-dasharray="14 131 8 92" stroke-dashoffset="181" stroke-linecap="round"/><ellipse rx="51.8" ry="31.2" fill="none" stroke="#ee8c1c" stroke-width="2.9" stroke-opacity="0.57" stroke-dasharray="118 29 47 49" stroke-dashoffset="87"/><ellipse rx="49.2" ry="28.6" fill="none" stroke="#861e08" stroke-width="2.8" stroke-opacity="0.99" stroke-dasharray="179 11 54 22" stroke-dashoffset="238"/><ellipse rx="49.2" ry="28.6" fill="none" stroke="#170502" stroke-width="3.4" stroke-opacity="0.98" stroke-dasharray="20 66 12 46" stroke-dashoffset="119" stroke-linecap="round"/><ellipse rx="46.4" ry="26.5" fill="none" stroke="#ee8c1c" stroke-width="2.9" stroke-opacity="0.55" stroke-dasharray="110 9 44 16" stroke-dashoffset="126"/><ellipse rx="43.8" ry="23.9" fill="none" stroke="#861e08" stroke-width="2.7" stroke-opacity="0.93" stroke-dasharray="138 6 41 12" stroke-dashoffset="138"/><ellipse rx="40.4" ry="20.6" fill="none" stroke="#ee8c1c" stroke-width="2.9" stroke-opacity="0.30" stroke-dasharray="73 19 29 32" stroke-dashoffset="124"/><ellipse rx="37.8" ry="18.0" fill="none" stroke="#861e08" stroke-width="2.5" stroke-opacity="0.77" stroke-dasharray="111 2 33 4" stroke-dashoffset="10"/><ellipse rx="37.8" ry="18.0" fill="none" stroke="#170502" stroke-width="2.6" stroke-opacity="0.76" stroke-dasharray="15 49 9 35" stroke-dashoffset="84" stroke-linecap="round"/><ellipse rx="35.7" ry="15.9" fill="none" stroke="#ee8c1c" stroke-width="2.9" stroke-opacity="0.61" stroke-dasharray="70 8 28 13" stroke-dashoffset="0"/><ellipse rx="33.1" ry="13.3" fill="none" stroke="#861e08" stroke-width="2.5" stroke-opacity="0.73" stroke-dasharray="77 3 23 6" stroke-dashoffset="127"/><ellipse rx="33.1" ry="13.3" fill="none" stroke="#170502" stroke-width="2.5" stroke-opacity="0.89" stroke-dasharray="9 68 5 48" stroke-dashoffset="52" stroke-linecap="round"/><ellipse rx="30.7" ry="11.1" fill="none" stroke="#ee8c1c" stroke-width="2.9" stroke-opacity="0.57" stroke-dasharray="66 9 26 16" stroke-dashoffset="79"/><ellipse rx="28.1" ry="8.5" fill="none" stroke="#861e08" stroke-width="2.7" stroke-opacity="0.87" stroke-dasharray="60 2 18 4" stroke-dashoffset="118"/></g><path d="M213 98 L236 112 L217 130 Z" fill="#1e0703" fill-opacity="0.9"/><path d="M103 217 L137 220 L122 238 Z" fill="#260803" fill-opacity="0.85"/><ellipse cx="124.0" cy="214.0" rx="7.0" ry="6.0" fill="#e8902a" fill-opacity="0.9" transform="rotate(0 124.0 214.0)"/><ellipse cx="95.0" cy="128.0" rx="14.0" ry="5.0" fill="#e8902a" fill-opacity="0.8" transform="rotate(20 95.0 128.0)"/><ellipse cx="85.0" cy="53.0" rx="40.0" ry="2.5" fill="#f2a030" fill-opacity="0.85" transform="rotate(3 85.0 53.0)"/></g>
<rect x="14" y="11" width="296" height="293" filter="url(#nzd1)" fill="#000"/>
<rect x="14" y="11" width="296" height="293" filter="url(#nzl1)" fill="#000"/>
<rect x="14" y="11" width="296" height="293" filter="url(#grain)" fill="#000"/>
<rect x="14" y="11" width="296" height="293" filter="url(#grainl)" fill="#000"/>
</g>
<clipPath id="cp2"><rect x="408" y="11" width="293" height="293"/></clipPath>
<g clip-path="url(#cp2)">
<rect x="408" y="11" width="293" height="293" fill="#e07212"/>
<g filter="url(#softB)"><g transform="translate(690.0,-40.0) rotate(25)"><ellipse rx="329.2" ry="325.4" fill="none" stroke="#fbb034" stroke-width="3.6" stroke-opacity="0.58" stroke-dasharray="1168 164 467 279" stroke-dashoffset="1197"/><ellipse rx="326.1" ry="322.3" fill="none" stroke="#8a2808" stroke-width="3.4" stroke-opacity="0.95" stroke-dasharray="799 62 240 124" stroke-dashoffset="192"/><ellipse rx="322.6" ry="319.5" fill="none" stroke="#fbb034" stroke-width="3.6" stroke-opacity="0.84" stroke-dasharray="984 51 394 86" stroke-dashoffset="1927"/><ellipse rx="319.5" ry="316.4" fill="none" stroke="#8a2808" stroke-width="2.8" stroke-opacity="0.75" stroke-dasharray="1252 69 376 138" stroke-dashoffset="1056"/><ellipse rx="319.5" ry="316.4" fill="none" stroke="#170502" stroke-width="3.0" stroke-opacity="0.87" stroke-dasharray="12 593 7 415" stroke-dashoffset="880" stroke-linecap="round"/><ellipse rx="317.3" ry="312.9" fill="none" stroke="#fbb034" stroke-width="3.6" stroke-opacity="0.66" stroke-dasharray="929 167 372 283" stroke-dashoffset="897"/><ellipse rx="314.2" ry="309.8" fill="none" stroke="#8a2808" stroke-width="3.9" stroke-opacity="0.96" stroke-dasharray="861 98 258 196" stroke-dashoffset="1388"/><ellipse rx="310.4" ry="306.4" fill="none" stroke="#fbb034" stroke-width="3.6" stroke-opacity="0.52" stroke-dasharray="527 229 211 390" stroke-dashoffset="1624"/><ellipse rx="307.3" ry="303.3" fill="none" stroke="#8a2808" stroke-width="3.7" stroke-opacity="0.75" stroke-dasharray="946 93 284 185" stroke-dashoffset="402"/><ellipse rx="304.5" ry="301.1" fill="none" stroke="#fbb034" stroke-width="3.6" stroke-opacity="0.65" stroke-dasharray="733 56 293 94" stroke-dashoffset="1466"/><ellipse rx="301.4" ry="298.0" fill="none" stroke="#8a2808" stroke-width="3.0" stroke-opacity="0.99" stroke-dasharray="819 25 246 51" stroke-dashoffset="1427"/><ellipse rx="301.4" ry="298.0" fill="none" stroke="#170502" stroke-width="3.1" stroke-opacity="0.95" stroke-dasharray="13 453 8 317" stroke-dashoffset="335" stroke-linecap="round"/><ellipse rx="298.4" ry="294.2" fill="none" stroke="#fbb034" stroke-width="3.6" stroke-opacity="0.37" stroke-dasharray="584 212 233 361" stroke-dashoffset="1186"/><ellipse rx="295.3" ry="291.1" fill="none" stroke="#8a2808" stroke-width="2.8" stroke-opacity="0.82" stroke-dasharray="660 49 198 99" stroke-dashoffset="1789"/><ellipse rx="291.9" ry="288.6" fill="none" stroke="#fbb034" stroke-width="3.6" stroke-opacity="0.77" stroke-dasharray="584 129 234 219" stroke-dashoffset="1158"/><ellipse rx="288.8" ry="285.5" fill="none" stroke="#8a2808" stroke-width="2.8" stroke-opacity="0.81" stroke-dasharray="632 89 190 179" stroke-dashoffset="1394"/><ellipse rx="285.7" ry="281.4" fill="none" stroke="#fbb034" stroke-width="3.6" stroke-opacity="0.43" stroke-dasharray="496 169 198 287" stroke-dashoffset="1059"/><ellipse rx="282.6" ry="278.3" fill="none" stroke="#8a2808" stroke-width="3.8" stroke-opacity="0.87" stroke-dasharray="856 50 257 99" stroke-dashoffset="1012"/><ellipse rx="279.3" ry="275.3" fill="none" stroke="#fbb034" stroke-width="3.6" stroke-opacity="0.44" stroke-dasharray="979 218 391 370" stroke-dashoffset="327"/><ellipse rx="276.2" ry="272.2" fill="none" stroke="#8a2808" stroke-width="2.8" stroke-opacity="0.99" stroke-dasharray="1154 82 346 164" stroke-dashoffset="1520"/><ellipse rx="273.4" ry="269.0" fill="none" stroke="#fbb034" stroke-width="3.6" stroke-opacity="0.43" stroke-dasharray="444 245 178 416" stroke-dashoffset="1187"/><ellipse rx="270.3" ry="265.9" fill="none" stroke="#8a2808" stroke-width="3.4" stroke-opacity="0.82" stroke-dasharray="722 72 217 145" stroke-dashoffset="296"/><ellipse rx="266.8" ry="263.0" fill="none" stroke="#fbb034" stroke-width="3.6" stroke-opacity="0.64" stroke-dasharray="733 215 293 366" stroke-dashoffset="461"/><ellipse rx="263.7" ry="259.9" fill="none" stroke="#8a2808" stroke-width="2.6" stroke-opacity="0.82" stroke-dasharray="1248 30 374 60" stroke-dashoffset="733"/><ellipse rx="263.7" ry="259.9" fill="none" stroke="#170502" stroke-width="3.9" stroke-opacity="0.78" stroke-dasharray="12 572 7 400" stroke-dashoffset="596" stroke-linecap="round"/><ellipse rx="261.6" ry="257.7" fill="none" stroke="#fbb034" stroke-width="3.6" stroke-opacity="0.62" stroke-dasharray="774 177 309 301" stroke-dashoffset="226"/><ellipse rx="258.5" ry="254.6" fill="none" stroke="#8a2808" stroke-width="3.8" stroke-opacity="0.93" stroke-dasharray="512 17 154 35" stroke-dashoffset="1552"/><ellipse rx="258.5" ry="254.6" fill="none" stroke="#170502" stroke-width="4.1" stroke-opacity="0.83" stroke-dasharray="22 633 13 443" stroke-dashoffset="1611" stroke-linecap="round"/><ellipse rx="254.4" ry="251.0" fill="none" stroke="#fbb034" stroke-width="3.6" stroke-opacity="0.71" stroke-dasharray="797 215 319 365" stroke-dashoffset="1103"/><ellipse rx="251.3" ry="247.9" fill="none" stroke="#8a2808" stroke-width="3.0" stroke-opacity="0.92" stroke-dasharray="1092 73 328 146" stroke-dashoffset="1413"/><ellipse rx="248.6" ry="245.0" fill="none" stroke="#fbb034" stroke-width="3.6" stroke-opacity="0.64" stroke-dasharray="846 145 338 246" stroke-dashoffset="586"/><ellipse rx="245.5" ry="241.9" fill="none" stroke="#8a2808" stroke-width="2.7" stroke-opacity="0.91" stroke-dasharray="906 53 272 105" stroke-dashoffset="1521"/><ellipse rx="242.8" ry="238.4" fill="none" stroke="#fbb034" stroke-width="3.6" stroke-opacity="0.54" stroke-dasharray="757 143 303 242" stroke-dashoffset="1251"/><ellipse rx="239.7" ry="235.3" fill="none" stroke="#8a2808" stroke-width="2.6" stroke-opacity="0.90" stroke-dasharray="510 60 153 119" stroke-dashoffset="718"/><ellipse rx="236.5" ry="232.3" fill="none" stroke="#fbb034" stroke-width="3.6" stroke-opacity="0.44" stroke-dasharray="676 203 270 345" stroke-dashoffset="16"/><ellipse rx="233.4" ry="229.2" fill="none" stroke="#8a2808" stroke-width="2.8" stroke-opacity="0.79" stroke-dasharray="655 54 196 108" stroke-dashoffset="1316"/><ellipse rx="230.0" ry="226.6" fill="none" stroke="#fbb034" stroke-width="3.6" stroke-opacity="0.41" stroke-dasharray="516 151 206 256" stroke-dashoffset="610"/><ellipse rx="226.9" ry="223.5" fill="none" stroke="#8a2808" stroke-width="3.7" stroke-opacity="0.85" stroke-dasharray="995 66 298 132" stroke-dashoffset="825"/><ellipse rx="223.5" ry="219.9" fill="none" stroke="#fbb034" stroke-width="3.6" stroke-opacity="0.69" stroke-dasharray="746 179 298 304" stroke-dashoffset="1305"/><ellipse rx="220.4" ry="216.8" fill="none" stroke="#8a2808" stroke-width="3.2" stroke-opacity="0.82" stroke-dasharray="602 23 181 46" stroke-dashoffset="294"/><ellipse rx="217.9" ry="213.7" fill="none" stroke="#fbb034" stroke-width="3.6" stroke-opacity="0.84" stroke-dasharray="482 172 193 293" stroke-dashoffset="605"/><ellipse rx="214.8" ry="210.6" fill="none" stroke="#8a2808" stroke-width="3.7" stroke-opacity="0.76" stroke-dasharray="451 15 135 30" stroke-dashoffset="947"/><ellipse rx="211.3" ry="207.8" fill="none" stroke="#fbb034" stroke-width="3.6" stroke-opacity="0.55" stroke-dasharray="333 49 133 83" stroke-dashoffset="32"/><ellipse rx="208.2" ry="204.7" fill="none" stroke="#8a2808" stroke-width="2.7" stroke-opacity="0.76" stroke-dasharray="927 25 278 51" stroke-dashoffset="816"/><ellipse rx="205.5" ry="201.5" fill="none" stroke="#fbb034" stroke-width="3.6" stroke-opacity="0.68" stroke-dasharray="671 182 268 309" stroke-dashoffset="251"/><ellipse rx="202.4" ry="198.4" fill="none" stroke="#8a2808" stroke-width="2.6" stroke-opacity="0.87" stroke-dasharray="677 22 203 43" stroke-dashoffset="899"/><ellipse rx="198.8" ry="194.9" fill="none" stroke="#fbb034" stroke-width="3.6" stroke-opacity="0.64" stroke-dasharray="602 107 241 181" stroke-dashoffset="921"/><ellipse rx="195.7" ry="191.8" fill="none" stroke="#8a2808" stroke-width="3.8" stroke-opacity="0.77" stroke-dasharray="605 51 181 101" stroke-dashoffset="1135"/><ellipse rx="192.5" ry="188.8" fill="none" stroke="#fbb034" stroke-width="3.6" stroke-opacity="0.51" stroke-dasharray="553 163 221 277" stroke-dashoffset="670"/><ellipse rx="189.4" ry="185.7" fill="none" stroke="#8a2808" stroke-width="3.8" stroke-opacity="0.87" stroke-dasharray="872 49 261 99" stroke-dashoffset="768"/><ellipse rx="187.0" ry="183.1" fill="none" stroke="#fbb034" stroke-width="3.6" stroke-opacity="0.42" stroke-dasharray="542 130 217 220" stroke-dashoffset="1029"/><ellipse rx="183.9" ry="180.0" fill="none" stroke="#8a2808" stroke-width="3.3" stroke-opacity="0.95" stroke-dasharray="903 56 271 112" stroke-dashoffset="366"/><ellipse rx="180.9" ry="176.3" fill="none" stroke="#fbb034" stroke-width="3.6" stroke-opacity="0.60" stroke-dasharray="308 85 123 145" stroke-dashoffset="847"/><ellipse rx="177.8" ry="173.2" fill="none" stroke="#8a2808" stroke-width="3.6" stroke-opacity="0.77" stroke-dasharray="600 12 180 25" stroke-dashoffset="882"/><ellipse rx="174.1" ry="170.6" fill="none" stroke="#fbb034" stroke-width="3.6" stroke-opacity="0.58" stroke-dasharray="318 42 127 71" stroke-dashoffset="770"/><ellipse rx="171.0" ry="167.5" fill="none" stroke="#8a2808" stroke-width="3.8" stroke-opacity="0.87" stroke-dasharray="766 40 230 80" stroke-dashoffset="1010"/><ellipse rx="171.0" ry="167.5" fill="none" stroke="#170502" stroke-width="3.4" stroke-opacity="0.93" stroke-dasharray="13 437 8 306" stroke-dashoffset="680" stroke-linecap="round"/><ellipse rx="168.1" ry="164.5" fill="none" stroke="#fbb034" stroke-width="3.6" stroke-opacity="0.51" stroke-dasharray="457 62 183 106" stroke-dashoffset="867"/><ellipse rx="165.0" ry="161.4" fill="none" stroke="#8a2808" stroke-width="3.7" stroke-opacity="0.99" stroke-dasharray="769 19 231 38" stroke-dashoffset="538"/><ellipse rx="161.5" ry="157.9" fill="none" stroke="#fbb034" stroke-width="3.6" stroke-opacity="0.32" stroke-dasharray="419 97 168 165" stroke-dashoffset="954"/><ellipse rx="158.4" ry="154.8" fill="none" stroke="#8a2808" stroke-width="3.6" stroke-opacity="0.89" stroke-dasharray="549 26 165 51" stroke-dashoffset="483"/><ellipse rx="155.2" ry="151.7" fill="none" stroke="#fbb034" stroke-width="3.6" stroke-opacity="0.81" stroke-dasharray="373 136 149 232" stroke-dashoffset="254"/><ellipse rx="152.1" ry="148.6" fill="none" stroke="#8a2808" stroke-width="3.1" stroke-opacity="0.95" stroke-dasharray="507 14 152 28" stroke-dashoffset="851"/><ellipse rx="149.3" ry="145.1" fill="none" stroke="#fbb034" stroke-width="3.6" stroke-opacity="0.37" stroke-dasharray="422 127 169 216" stroke-dashoffset="706"/><ellipse rx="146.2" ry="142.0" fill="none" stroke="#8a2808" stroke-width="2.9" stroke-opacity="0.92" stroke-dasharray="282 16 85 32" stroke-dashoffset="292"/><ellipse rx="143.4" ry="138.8" fill="none" stroke="#fbb034" stroke-width="3.6" stroke-opacity="0.58" stroke-dasharray="439 31 175 53" stroke-dashoffset="217"/><ellipse rx="140.3" ry="135.7" fill="none" stroke="#8a2808" stroke-width="3.1" stroke-opacity="0.84" stroke-dasharray="346 27 104 54" stroke-dashoffset="359"/><ellipse rx="136.7" ry="132.7" fill="none" stroke="#fbb034" stroke-width="3.6" stroke-opacity="0.59" stroke-dasharray="389 85 156 145" stroke-dashoffset="704"/><ellipse rx="133.6" ry="129.6" fill="none" stroke="#8a2808" stroke-width="2.9" stroke-opacity="0.94" stroke-dasharray="501 37 150 73" stroke-dashoffset="670"/><ellipse rx="130.7" ry="126.7" fill="none" stroke="#fbb034" stroke-width="3.6" stroke-opacity="0.85" stroke-dasharray="452 38 181 65" stroke-dashoffset="700"/><ellipse rx="127.6" ry="123.6" fill="none" stroke="#8a2808" stroke-width="3.5" stroke-opacity="0.81" stroke-dasharray="290 15 87 31" stroke-dashoffset="77"/><ellipse rx="124.6" ry="121.0" fill="none" stroke="#fbb034" stroke-width="3.6" stroke-opacity="0.68" stroke-dasharray="221 54 89 93" stroke-dashoffset="13"/><ellipse rx="121.5" ry="117.9" fill="none" stroke="#8a2808" stroke-width="3.8" stroke-opacity="0.99" stroke-dasharray="301 28 90 56" stroke-dashoffset="87"/><ellipse rx="118.8" ry="114.5" fill="none" stroke="#fbb034" stroke-width="3.6" stroke-opacity="0.34" stroke-dasharray="350 32 140 54" stroke-dashoffset="76"/><ellipse rx="115.7" ry="111.4" fill="none" stroke="#8a2808" stroke-width="3.2" stroke-opacity="0.89" stroke-dasharray="227 23 68 46" stroke-dashoffset="105"/><ellipse rx="111.9" ry="108.7" fill="none" stroke="#fbb034" stroke-width="3.6" stroke-opacity="0.35" stroke-dasharray="402 95 161 161" stroke-dashoffset="42"/><ellipse rx="108.8" ry="105.6" fill="none" stroke="#8a2808" stroke-width="3.6" stroke-opacity="0.83" stroke-dasharray="523 19 157 38" stroke-dashoffset="315"/><ellipse rx="106.0" ry="102.2" fill="none" stroke="#fbb034" stroke-width="3.6" stroke-opacity="0.76" stroke-dasharray="162 71 65 120" stroke-dashoffset="115"/><ellipse rx="102.9" ry="99.1" fill="none" stroke="#8a2808" stroke-width="3.1" stroke-opacity="0.80" stroke-dasharray="335 25 100 50" stroke-dashoffset="105"/><ellipse rx="99.3" ry="96.4" fill="none" stroke="#fbb034" stroke-width="3.6" stroke-opacity="0.77" stroke-dasharray="316 66 126 113" stroke-dashoffset="375"/><ellipse rx="96.2" ry="93.3" fill="none" stroke="#8a2808" stroke-width="3.2" stroke-opacity="1.00" stroke-dasharray="299 20 90 40" stroke-dashoffset="479"/><ellipse rx="94.2" ry="90.0" fill="none" stroke="#fbb034" stroke-width="3.6" stroke-opacity="0.52" stroke-dasharray="292 70 117 120" stroke-dashoffset="501"/><ellipse rx="91.1" ry="86.9" fill="none" stroke="#8a2808" stroke-width="3.6" stroke-opacity="0.94" stroke-dasharray="414 21 124 42" stroke-dashoffset="227"/><ellipse rx="87.0" ry="83.3" fill="none" stroke="#fbb034" stroke-width="3.6" stroke-opacity="0.50" stroke-dasharray="214 11 85 19" stroke-dashoffset="329"/><ellipse rx="83.9" ry="80.2" fill="none" stroke="#8a2808" stroke-width="3.8" stroke-opacity="0.92" stroke-dasharray="316 10 95 20" stroke-dashoffset="174"/><ellipse rx="81.4" ry="77.3" fill="none" stroke="#fbb034" stroke-width="3.6" stroke-opacity="0.65" stroke-dasharray="185 72 74 122" stroke-dashoffset="336"/><ellipse rx="78.3" ry="74.2" fill="none" stroke="#8a2808" stroke-width="2.6" stroke-opacity="0.90" stroke-dasharray="326 24 98 47" stroke-dashoffset="354"/><ellipse rx="75.0" ry="70.6" fill="none" stroke="#fbb034" stroke-width="3.6" stroke-opacity="0.35" stroke-dasharray="139 30 56 51" stroke-dashoffset="110"/><ellipse rx="71.9" ry="67.5" fill="none" stroke="#8a2808" stroke-width="3.2" stroke-opacity="0.99" stroke-dasharray="330 14 99 28" stroke-dashoffset="249"/><ellipse rx="69.1" ry="65.3" fill="none" stroke="#fbb034" stroke-width="3.6" stroke-opacity="0.72" stroke-dasharray="111 39 45 67" stroke-dashoffset="18"/><ellipse rx="66.0" ry="62.2" fill="none" stroke="#8a2808" stroke-width="3.2" stroke-opacity="0.79" stroke-dasharray="308 7 92 13" stroke-dashoffset="200"/><ellipse rx="62.2" ry="59.2" fill="none" stroke="#fbb034" stroke-width="3.6" stroke-opacity="0.63" stroke-dasharray="144 32 58 54" stroke-dashoffset="132"/><ellipse rx="59.1" ry="56.1" fill="none" stroke="#8a2808" stroke-width="3.3" stroke-opacity="0.82" stroke-dasharray="160 13 48 26" stroke-dashoffset="259"/><ellipse rx="55.9" ry="52.2" fill="none" stroke="#fbb034" stroke-width="3.6" stroke-opacity="0.72" stroke-dasharray="85 13 34 22" stroke-dashoffset="125"/><ellipse rx="52.8" ry="49.1" fill="none" stroke="#8a2808" stroke-width="2.6" stroke-opacity="1.00" stroke-dasharray="240 13 72 26" stroke-dashoffset="302"/><ellipse rx="52.8" ry="49.1" fill="none" stroke="#170502" stroke-width="3.7" stroke-opacity="0.99" stroke-dasharray="28 119 17 83" stroke-dashoffset="78" stroke-linecap="round"/><ellipse rx="50.3" ry="46.8" fill="none" stroke="#fbb034" stroke-width="3.6" stroke-opacity="0.84" stroke-dasharray="144 23 58 39" stroke-dashoffset="233"/><ellipse rx="47.2" ry="43.7" fill="none" stroke="#8a2808" stroke-width="3.4" stroke-opacity="0.86" stroke-dasharray="172 4 52 8" stroke-dashoffset="58"/><ellipse rx="47.2" ry="43.7" fill="none" stroke="#170502" stroke-width="3.7" stroke-opacity="0.92" stroke-dasharray="20 71 12 50" stroke-dashoffset="130" stroke-linecap="round"/><ellipse rx="43.8" ry="40.2" fill="none" stroke="#fbb034" stroke-width="3.6" stroke-opacity="0.59" stroke-dasharray="97 30 39 50" stroke-dashoffset="244"/><ellipse rx="40.7" ry="37.1" fill="none" stroke="#8a2808" stroke-width="2.9" stroke-opacity="0.78" stroke-dasharray="190 10 57 19" stroke-dashoffset="218"/><ellipse rx="38.0" ry="33.7" fill="none" stroke="#fbb034" stroke-width="3.6" stroke-opacity="0.61" stroke-dasharray="71 22 28 38" stroke-dashoffset="122"/><ellipse rx="34.9" ry="30.6" fill="none" stroke="#8a2808" stroke-width="2.8" stroke-opacity="0.81" stroke-dasharray="127 8 38 17" stroke-dashoffset="202"/><ellipse rx="32.2" ry="27.1" fill="none" stroke="#fbb034" stroke-width="3.6" stroke-opacity="0.53" stroke-dasharray="45 9 18 16" stroke-dashoffset="104"/><ellipse rx="29.1" ry="24.0" fill="none" stroke="#8a2808" stroke-width="2.6" stroke-opacity="0.77" stroke-dasharray="59 5 18 11" stroke-dashoffset="113"/><ellipse rx="25.7" ry="21.3" fill="none" stroke="#fbb034" stroke-width="3.6" stroke-opacity="0.49" stroke-dasharray="54 6 21 10" stroke-dashoffset="96"/><ellipse rx="22.6" ry="18.2" fill="none" stroke="#8a2808" stroke-width="2.7" stroke-opacity="0.95" stroke-dasharray="92 2 28 3" stroke-dashoffset="80"/><ellipse rx="19.0" ry="15.2" fill="none" stroke="#fbb034" stroke-width="3.6" stroke-opacity="0.50" stroke-dasharray="30 11 12 19" stroke-dashoffset="58"/><ellipse rx="15.9" ry="12.1" fill="none" stroke="#8a2808" stroke-width="3.3" stroke-opacity="0.94" stroke-dasharray="70 2 21 4" stroke-dashoffset="81"/><ellipse rx="12.9" ry="8.6" fill="none" stroke="#fbb034" stroke-width="3.6" stroke-opacity="0.35" stroke-dasharray="27 1 11 3" stroke-dashoffset="28"/><ellipse rx="9.8" ry="5.5" fill="none" stroke="#8a2808" stroke-width="3.0" stroke-opacity="0.94" stroke-dasharray="27 2 8 4" stroke-dashoffset="4"/></g><g transform="translate(430.0,330.0) rotate(-10)"><ellipse rx="140.6" ry="90.6" fill="#e07212"/><ellipse rx="143.2" ry="93.9" fill="none" stroke="#fbb034" stroke-width="3.6" stroke-opacity="0.45" stroke-dasharray="351 104 140 177" stroke-dashoffset="188"/><ellipse rx="140.1" ry="90.8" fill="none" stroke="#8a2808" stroke-width="3.0" stroke-opacity="0.92" stroke-dasharray="490 27 147 53" stroke-dashoffset="291"/><ellipse rx="137.0" ry="87.2" fill="none" stroke="#fbb034" stroke-width="3.6" stroke-opacity="0.44" stroke-dasharray="392 46 157 78" stroke-dashoffset="558"/><ellipse rx="133.9" ry="84.1" fill="none" stroke="#8a2808" stroke-width="3.3" stroke-opacity="0.92" stroke-dasharray="427 11 128 22" stroke-dashoffset="114"/><ellipse rx="130.8" ry="81.1" fill="none" stroke="#fbb034" stroke-width="3.6" stroke-opacity="0.84" stroke-dasharray="183 31 73 52" stroke-dashoffset="265"/><ellipse rx="127.7" ry="78.0" fill="none" stroke="#8a2808" stroke-width="3.4" stroke-opacity="0.97" stroke-dasharray="522 18 156 36" stroke-dashoffset="451"/><ellipse rx="127.7" ry="78.0" fill="none" stroke="#170502" stroke-width="3.3" stroke-opacity="0.77" stroke-dasharray="21 297 13 208" stroke-dashoffset="574" stroke-linecap="round"/><ellipse rx="125.1" ry="74.7" fill="none" stroke="#fbb034" stroke-width="3.6" stroke-opacity="0.74" stroke-dasharray="253 30 101 51" stroke-dashoffset="310"/><ellipse rx="122.0" ry="71.6" fill="none" stroke="#8a2808" stroke-width="2.7" stroke-opacity="0.82" stroke-dasharray="217 26 65 53" stroke-dashoffset="17"/><ellipse rx="118.4" ry="68.9" fill="none" stroke="#fbb034" stroke-width="3.6" stroke-opacity="0.68" stroke-dasharray="164 48 66 81" stroke-dashoffset="310"/><ellipse rx="115.3" ry="65.8" fill="none" stroke="#8a2808" stroke-width="3.1" stroke-opacity="0.90" stroke-dasharray="306 17 92 34" stroke-dashoffset="55"/><ellipse rx="112.4" ry="63.1" fill="none" stroke="#fbb034" stroke-width="3.6" stroke-opacity="0.38" stroke-dasharray="314 16 126 26" stroke-dashoffset="382"/><ellipse rx="109.3" ry="60.0" fill="none" stroke="#8a2808" stroke-width="3.5" stroke-opacity="0.99" stroke-dasharray="318 6 95 12" stroke-dashoffset="230"/><ellipse rx="106.6" ry="57.0" fill="none" stroke="#fbb034" stroke-width="3.6" stroke-opacity="0.40" stroke-dasharray="173 30 69 51" stroke-dashoffset="319"/><ellipse rx="103.5" ry="53.9" fill="none" stroke="#8a2808" stroke-width="3.1" stroke-opacity="0.76" stroke-dasharray="271 10 81 21" stroke-dashoffset="158"/><ellipse rx="100.4" ry="50.0" fill="none" stroke="#fbb034" stroke-width="3.6" stroke-opacity="0.44" stroke-dasharray="270 31 108 53" stroke-dashoffset="16"/><ellipse rx="97.3" ry="46.9" fill="none" stroke="#8a2808" stroke-width="2.9" stroke-opacity="0.97" stroke-dasharray="174 8 52 17" stroke-dashoffset="124"/><ellipse rx="94.2" ry="44.6" fill="none" stroke="#fbb034" stroke-width="3.6" stroke-opacity="0.50" stroke-dasharray="152 51 61 87" stroke-dashoffset="242"/><ellipse rx="91.1" ry="41.5" fill="none" stroke="#8a2808" stroke-width="3.6" stroke-opacity="0.88" stroke-dasharray="258 21 77 41" stroke-dashoffset="363"/><ellipse rx="87.8" ry="38.5" fill="none" stroke="#fbb034" stroke-width="3.6" stroke-opacity="0.47" stroke-dasharray="173 47 69 81" stroke-dashoffset="360"/><ellipse rx="84.7" ry="35.4" fill="none" stroke="#8a2808" stroke-width="3.8" stroke-opacity="0.87" stroke-dasharray="238 8 72 16" stroke-dashoffset="133"/><ellipse rx="81.2" ry="31.3" fill="none" stroke="#fbb034" stroke-width="3.6" stroke-opacity="0.44" stroke-dasharray="174 14 69 23" stroke-dashoffset="158"/><ellipse rx="78.1" ry="28.2" fill="none" stroke="#8a2808" stroke-width="3.6" stroke-opacity="0.81" stroke-dasharray="202 9 61 18" stroke-dashoffset="130"/><ellipse rx="75.1" ry="25.2" fill="none" stroke="#fbb034" stroke-width="3.6" stroke-opacity="0.38" stroke-dasharray="95 36 38 62" stroke-dashoffset="211"/><ellipse rx="72.0" ry="22.1" fill="none" stroke="#8a2808" stroke-width="3.4" stroke-opacity="0.84" stroke-dasharray="130 11 39 23" stroke-dashoffset="295"/><ellipse rx="69.4" ry="18.8" fill="none" stroke="#fbb034" stroke-width="3.6" stroke-opacity="0.56" stroke-dasharray="111 15 44 26" stroke-dashoffset="264"/><ellipse rx="66.3" ry="15.7" fill="none" stroke="#8a2808" stroke-width="3.5" stroke-opacity="0.98" stroke-dasharray="207 4 62 7" stroke-dashoffset="153"/><ellipse rx="66.3" ry="15.7" fill="none" stroke="#170502" stroke-width="4.5" stroke-opacity="0.97" stroke-dasharray="27 105 16 73" stroke-dashoffset="234" stroke-linecap="round"/><ellipse rx="63.6" ry="12.6" fill="none" stroke="#fbb034" stroke-width="3.6" stroke-opacity="0.37" stroke-dasharray="132 15 53 25" stroke-dashoffset="95"/><ellipse rx="60.5" ry="9.5" fill="none" stroke="#8a2808" stroke-width="3.2" stroke-opacity="0.95" stroke-dasharray="149 3 45 5" stroke-dashoffset="124"/></g><g transform="translate(648.0,250.0) rotate(20)"><ellipse rx="173.4" ry="207.4" fill="#e07212"/><ellipse rx="176.5" ry="210.7" fill="none" stroke="#fbb034" stroke-width="3.6" stroke-opacity="0.31" stroke-dasharray="580 46 232 79" stroke-dashoffset="449"/><ellipse rx="173.4" ry="207.6" fill="none" stroke="#8a2808" stroke-width="3.5" stroke-opacity="0.90" stroke-dasharray="524 51 157 102" stroke-dashoffset="669"/><ellipse rx="169.9" ry="204.2" fill="none" stroke="#fbb034" stroke-width="3.6" stroke-opacity="0.33" stroke-dasharray="355 160 142 271" stroke-dashoffset="948"/><ellipse rx="166.8" ry="201.1" fill="none" stroke="#8a2808" stroke-width="3.0" stroke-opacity="0.85" stroke-dasharray="391 43 117 87" stroke-dashoffset="976"/><ellipse rx="166.8" ry="201.1" fill="none" stroke="#170502" stroke-width="3.8" stroke-opacity="0.77" stroke-dasharray="9 656 6 459" stroke-dashoffset="1143" stroke-linecap="round"/><ellipse rx="164.6" ry="197.6" fill="none" stroke="#fbb034" stroke-width="3.6" stroke-opacity="0.47" stroke-dasharray="446 42 179 72" stroke-dashoffset="697"/><ellipse rx="161.5" ry="194.5" fill="none" stroke="#8a2808" stroke-width="2.6" stroke-opacity="0.79" stroke-dasharray="428 42 128 85" stroke-dashoffset="914"/><ellipse rx="157.8" ry="192.0" fill="none" stroke="#fbb034" stroke-width="3.6" stroke-opacity="0.32" stroke-dasharray="451 76 180 129" stroke-dashoffset="786"/><ellipse rx="154.7" ry="188.9" fill="none" stroke="#8a2808" stroke-width="3.4" stroke-opacity="0.84" stroke-dasharray="848 53 254 106" stroke-dashoffset="393"/><ellipse rx="151.9" ry="185.2" fill="none" stroke="#fbb034" stroke-width="3.6" stroke-opacity="0.58" stroke-dasharray="346 70 139 119" stroke-dashoffset="844"/><ellipse rx="148.8" ry="182.1" fill="none" stroke="#8a2808" stroke-width="3.7" stroke-opacity="0.86" stroke-dasharray="573 12 172 23" stroke-dashoffset="541"/><ellipse rx="145.4" ry="179.4" fill="none" stroke="#fbb034" stroke-width="3.6" stroke-opacity="0.60" stroke-dasharray="522 33 209 57" stroke-dashoffset="179"/><ellipse rx="142.3" ry="176.3" fill="none" stroke="#8a2808" stroke-width="2.9" stroke-opacity="0.84" stroke-dasharray="650 12 195 23" stroke-dashoffset="639"/><ellipse rx="142.3" ry="176.3" fill="none" stroke="#170502" stroke-width="3.4" stroke-opacity="0.87" stroke-dasharray="18 285 11 199" stroke-dashoffset="962" stroke-linecap="round"/><ellipse rx="139.3" ry="173.8" fill="none" stroke="#fbb034" stroke-width="3.6" stroke-opacity="0.50" stroke-dasharray="299 136 119 230" stroke-dashoffset="183"/><ellipse rx="136.2" ry="170.7" fill="none" stroke="#8a2808" stroke-width="2.6" stroke-opacity="0.82" stroke-dasharray="652 45 196 90" stroke-dashoffset="745"/><ellipse rx="132.8" ry="166.5" fill="none" stroke="#fbb034" stroke-width="3.6" stroke-opacity="0.84" stroke-dasharray="244 93 98 158" stroke-dashoffset="922"/><ellipse rx="129.7" ry="163.4" fill="none" stroke="#8a2808" stroke-width="3.0" stroke-opacity="0.95" stroke-dasharray="510 10 153 20" stroke-dashoffset="769"/><ellipse rx="126.6" ry="160.9" fill="none" stroke="#fbb034" stroke-width="3.6" stroke-opacity="0.44" stroke-dasharray="370 90 148 153" stroke-dashoffset="840"/><ellipse rx="123.5" ry="157.8" fill="none" stroke="#8a2808" stroke-width="2.9" stroke-opacity="0.97" stroke-dasharray="663 15 199 29" stroke-dashoffset="247"/><ellipse rx="120.7" ry="154.9" fill="none" stroke="#fbb034" stroke-width="3.6" stroke-opacity="0.46" stroke-dasharray="422 41 169 69" stroke-dashoffset="217"/><ellipse rx="117.6" ry="151.8" fill="none" stroke="#8a2808" stroke-width="2.7" stroke-opacity="0.97" stroke-dasharray="545 32 164 64" stroke-dashoffset="357"/><ellipse rx="114.4" ry="149.1" fill="none" stroke="#fbb034" stroke-width="3.6" stroke-opacity="0.81" stroke-dasharray="362 82 145 140" stroke-dashoffset="781"/><ellipse rx="111.3" ry="146.0" fill="none" stroke="#8a2808" stroke-width="3.3" stroke-opacity="0.98" stroke-dasharray="552 22 166 43" stroke-dashoffset="641"/><ellipse rx="108.1" ry="142.1" fill="none" stroke="#fbb034" stroke-width="3.6" stroke-opacity="0.31" stroke-dasharray="391 72 156 122" stroke-dashoffset="547"/><ellipse rx="105.0" ry="139.0" fill="none" stroke="#8a2808" stroke-width="3.8" stroke-opacity="0.98" stroke-dasharray="579 32 174 65" stroke-dashoffset="412"/><ellipse rx="102.0" ry="135.6" fill="none" stroke="#fbb034" stroke-width="3.6" stroke-opacity="0.81" stroke-dasharray="273 44 109 75" stroke-dashoffset="504"/><ellipse rx="98.9" ry="132.5" fill="none" stroke="#8a2808" stroke-width="2.7" stroke-opacity="0.88" stroke-dasharray="417 25 125 51" stroke-dashoffset="512"/><ellipse rx="95.6" ry="129.8" fill="none" stroke="#fbb034" stroke-width="3.6" stroke-opacity="0.38" stroke-dasharray="252 76 101 128" stroke-dashoffset="63"/><ellipse rx="92.5" ry="126.7" fill="none" stroke="#8a2808" stroke-width="3.6" stroke-opacity="0.91" stroke-dasharray="316 26 95 52" stroke-dashoffset="648"/><ellipse rx="89.1" ry="123.7" fill="none" stroke="#fbb034" stroke-width="3.6" stroke-opacity="0.67" stroke-dasharray="265 28 106 48" stroke-dashoffset="223"/><ellipse rx="86.0" ry="120.6" fill="none" stroke="#8a2808" stroke-width="3.8" stroke-opacity="0.75" stroke-dasharray="274 15 82 30" stroke-dashoffset="236"/><ellipse rx="83.1" ry="117.4" fill="none" stroke="#fbb034" stroke-width="3.6" stroke-opacity="0.58" stroke-dasharray="201 86 81 146" stroke-dashoffset="430"/><ellipse rx="80.0" ry="114.3" fill="none" stroke="#8a2808" stroke-width="3.4" stroke-opacity="0.96" stroke-dasharray="235 18 70 35" stroke-dashoffset="154"/><ellipse rx="77.7" ry="111.7" fill="none" stroke="#fbb034" stroke-width="3.6" stroke-opacity="0.72" stroke-dasharray="191 52 77 89" stroke-dashoffset="229"/><ellipse rx="74.6" ry="108.6" fill="none" stroke="#8a2808" stroke-width="3.9" stroke-opacity="0.89" stroke-dasharray="370 21 111 42" stroke-dashoffset="395"/><ellipse rx="71.4" ry="104.9" fill="none" stroke="#fbb034" stroke-width="3.6" stroke-opacity="0.47" stroke-dasharray="229 36 92 61" stroke-dashoffset="73"/><ellipse rx="68.3" ry="101.8" fill="none" stroke="#8a2808" stroke-width="2.9" stroke-opacity="0.76" stroke-dasharray="223 17 67 34" stroke-dashoffset="434"/><ellipse rx="65.4" ry="99.0" fill="none" stroke="#fbb034" stroke-width="3.6" stroke-opacity="0.79" stroke-dasharray="194 67 78 114" stroke-dashoffset="161"/><ellipse rx="62.3" ry="95.9" fill="none" stroke="#8a2808" stroke-width="3.7" stroke-opacity="0.90" stroke-dasharray="182 18 55 36" stroke-dashoffset="394"/><ellipse rx="58.8" ry="92.4" fill="none" stroke="#fbb034" stroke-width="3.6" stroke-opacity="0.51" stroke-dasharray="181 32 72 54" stroke-dashoffset="185"/><ellipse rx="55.7" ry="89.3" fill="none" stroke="#8a2808" stroke-width="2.8" stroke-opacity="0.81" stroke-dasharray="325 8 97 16" stroke-dashoffset="448"/><ellipse rx="52.0" ry="86.9" fill="none" stroke="#fbb034" stroke-width="3.6" stroke-opacity="0.50" stroke-dasharray="236 54 94 91" stroke-dashoffset="312"/><ellipse rx="48.9" ry="83.8" fill="none" stroke="#8a2808" stroke-width="3.7" stroke-opacity="0.96" stroke-dasharray="192 7 58 13" stroke-dashoffset="90"/><ellipse rx="45.7" ry="80.1" fill="none" stroke="#fbb034" stroke-width="3.6" stroke-opacity="0.39" stroke-dasharray="98 16 39 28" stroke-dashoffset="275"/><ellipse rx="42.6" ry="77.0" fill="none" stroke="#8a2808" stroke-width="2.8" stroke-opacity="0.83" stroke-dasharray="172 7 52 14" stroke-dashoffset="331"/><ellipse rx="39.6" ry="74.3" fill="none" stroke="#fbb034" stroke-width="3.6" stroke-opacity="0.59" stroke-dasharray="152 27 61 46" stroke-dashoffset="226"/><ellipse rx="36.5" ry="71.2" fill="none" stroke="#8a2808" stroke-width="3.4" stroke-opacity="0.87" stroke-dasharray="243 10 73 21" stroke-dashoffset="220"/><ellipse rx="33.8" ry="67.9" fill="none" stroke="#fbb034" stroke-width="3.6" stroke-opacity="0.81" stroke-dasharray="155 17 62 30" stroke-dashoffset="152"/><ellipse rx="30.7" ry="64.8" fill="none" stroke="#8a2808" stroke-width="3.8" stroke-opacity="0.92" stroke-dasharray="225 12 68 23" stroke-dashoffset="132"/><ellipse rx="27.8" ry="62.0" fill="none" stroke="#fbb034" stroke-width="3.6" stroke-opacity="0.33" stroke-dasharray="149 10 60 17" stroke-dashoffset="30"/><ellipse rx="24.7" ry="58.9" fill="none" stroke="#8a2808" stroke-width="2.6" stroke-opacity="0.81" stroke-dasharray="94 3 28 7" stroke-dashoffset="31"/><ellipse rx="21.6" ry="56.1" fill="none" stroke="#fbb034" stroke-width="3.6" stroke-opacity="0.82" stroke-dasharray="139 28 56 47" stroke-dashoffset="7"/><ellipse rx="18.5" ry="53.0" fill="none" stroke="#8a2808" stroke-width="3.2" stroke-opacity="0.80" stroke-dasharray="98 11 30 22" stroke-dashoffset="180"/><ellipse rx="15.4" ry="49.1" fill="none" stroke="#fbb034" stroke-width="3.6" stroke-opacity="0.63" stroke-dasharray="66 6 27 11" stroke-dashoffset="189"/><ellipse rx="12.3" ry="46.0" fill="none" stroke="#8a2808" stroke-width="3.8" stroke-opacity="0.84" stroke-dasharray="158 8 47 16" stroke-dashoffset="59"/><ellipse rx="9.2" ry="43.3" fill="none" stroke="#fbb034" stroke-width="3.6" stroke-opacity="0.57" stroke-dasharray="42 8 17 14" stroke-dashoffset="121"/><ellipse rx="6.1" ry="40.2" fill="none" stroke="#8a2808" stroke-width="3.0" stroke-opacity="0.85" stroke-dasharray="118 7 35 13" stroke-dashoffset="143"/></g><g transform="translate(461.0,158.0) rotate(20)"><ellipse rx="119.4" ry="111.4" fill="#e07212"/><ellipse rx="122.2" ry="114.7" fill="none" stroke="#fbb034" stroke-width="3.6" stroke-opacity="0.40" stroke-dasharray="355 95 142 161" stroke-dashoffset="167"/><ellipse rx="119.1" ry="111.6" fill="none" stroke="#8a2808" stroke-width="3.5" stroke-opacity="0.78" stroke-dasharray="271 14 81 28" stroke-dashoffset="385"/><ellipse rx="116.1" ry="108.2" fill="none" stroke="#fbb034" stroke-width="3.6" stroke-opacity="0.31" stroke-dasharray="372 68 149 115" stroke-dashoffset="189"/><ellipse rx="113.0" ry="105.1" fill="none" stroke="#8a2808" stroke-width="3.6" stroke-opacity="0.95" stroke-dasharray="256 31 77 61" stroke-dashoffset="566"/><ellipse rx="110.6" ry="102.5" fill="none" stroke="#fbb034" stroke-width="3.6" stroke-opacity="0.57" stroke-dasharray="221 85 88 144" stroke-dashoffset="491"/><ellipse rx="107.5" ry="99.4" fill="none" stroke="#8a2808" stroke-width="3.0" stroke-opacity="0.86" stroke-dasharray="378 18 114 35" stroke-dashoffset="204"/><ellipse rx="107.5" ry="99.4" fill="none" stroke="#170502" stroke-width="4.5" stroke-opacity="0.92" stroke-dasharray="26 338 16 236" stroke-dashoffset="360" stroke-linecap="round"/><ellipse rx="104.2" ry="95.5" fill="none" stroke="#fbb034" stroke-width="3.6" stroke-opacity="0.40" stroke-dasharray="296 47 118 80" stroke-dashoffset="123"/><ellipse rx="101.1" ry="92.4" fill="none" stroke="#8a2808" stroke-width="3.2" stroke-opacity="0.90" stroke-dasharray="341 12 102 24" stroke-dashoffset="241"/><ellipse rx="97.7" ry="89.4" fill="none" stroke="#fbb034" stroke-width="3.6" stroke-opacity="0.50" stroke-dasharray="189 26 76 44" stroke-dashoffset="42"/><ellipse rx="94.6" ry="86.3" fill="none" stroke="#8a2808" stroke-width="3.1" stroke-opacity="0.93" stroke-dasharray="356 27 107 55" stroke-dashoffset="530"/><ellipse rx="94.6" ry="86.3" fill="none" stroke="#170502" stroke-width="4.3" stroke-opacity="0.91" stroke-dasharray="11 297 7 208" stroke-dashoffset="91" stroke-linecap="round"/><ellipse rx="91.4" ry="83.9" fill="none" stroke="#fbb034" stroke-width="3.6" stroke-opacity="0.41" stroke-dasharray="298 66 119 112" stroke-dashoffset="454"/><ellipse rx="88.3" ry="80.8" fill="none" stroke="#8a2808" stroke-width="2.7" stroke-opacity="0.99" stroke-dasharray="259 21 78 41" stroke-dashoffset="321"/><ellipse rx="85.0" ry="77.4" fill="none" stroke="#fbb034" stroke-width="3.6" stroke-opacity="0.50" stroke-dasharray="223 48 89 81" stroke-dashoffset="357"/><ellipse rx="81.9" ry="74.3" fill="none" stroke="#8a2808" stroke-width="2.8" stroke-opacity="0.92" stroke-dasharray="231 11 69 21" stroke-dashoffset="55"/><ellipse rx="78.6" ry="71.3" fill="none" stroke="#fbb034" stroke-width="3.6" stroke-opacity="0.32" stroke-dasharray="201 41 80 70" stroke-dashoffset="199"/><ellipse rx="75.5" ry="68.2" fill="none" stroke="#8a2808" stroke-width="2.6" stroke-opacity="1.00" stroke-dasharray="213 6 64 12" stroke-dashoffset="55"/><ellipse rx="72.6" ry="65.0" fill="none" stroke="#fbb034" stroke-width="3.6" stroke-opacity="0.50" stroke-dasharray="115 34 46 57" stroke-dashoffset="345"/><ellipse rx="69.5" ry="61.9" fill="none" stroke="#8a2808" stroke-width="3.2" stroke-opacity="0.99" stroke-dasharray="125 10 38 19" stroke-dashoffset="214"/><ellipse rx="66.9" ry="58.5" fill="none" stroke="#fbb034" stroke-width="3.6" stroke-opacity="0.80" stroke-dasharray="98 32 39 54" stroke-dashoffset="277"/><ellipse rx="63.8" ry="55.4" fill="none" stroke="#8a2808" stroke-width="3.7" stroke-opacity="0.81" stroke-dasharray="161 14 48 28" stroke-dashoffset="220"/><ellipse rx="60.2" ry="52.2" fill="none" stroke="#fbb034" stroke-width="3.6" stroke-opacity="0.32" stroke-dasharray="107 22 43 37" stroke-dashoffset="133"/><ellipse rx="57.1" ry="49.1" fill="none" stroke="#8a2808" stroke-width="3.4" stroke-opacity="0.75" stroke-dasharray="115 13 34 27" stroke-dashoffset="259"/><ellipse rx="54.3" ry="46.4" fill="none" stroke="#fbb034" stroke-width="3.6" stroke-opacity="0.54" stroke-dasharray="109 17 44 29" stroke-dashoffset="41"/><ellipse rx="51.2" ry="43.3" fill="none" stroke="#8a2808" stroke-width="3.7" stroke-opacity="0.80" stroke-dasharray="218 4 65 9" stroke-dashoffset="90"/><ellipse rx="47.5" ry="39.7" fill="none" stroke="#fbb034" stroke-width="3.6" stroke-opacity="0.78" stroke-dasharray="96 20 38 34" stroke-dashoffset="252"/><ellipse rx="44.4" ry="36.6" fill="none" stroke="#8a2808" stroke-width="2.7" stroke-opacity="0.95" stroke-dasharray="82 8 25 16" stroke-dashoffset="82"/><ellipse rx="42.0" ry="33.5" fill="none" stroke="#fbb034" stroke-width="3.6" stroke-opacity="0.78" stroke-dasharray="55 11 22 19" stroke-dashoffset="33"/><ellipse rx="38.9" ry="30.4" fill="none" stroke="#8a2808" stroke-width="3.0" stroke-opacity="0.95" stroke-dasharray="118 5 35 11" stroke-dashoffset="47"/><ellipse rx="35.9" ry="28.2" fill="none" stroke="#fbb034" stroke-width="3.6" stroke-opacity="0.54" stroke-dasharray="79 26 32 43" stroke-dashoffset="105"/><ellipse rx="32.8" ry="25.1" fill="none" stroke="#8a2808" stroke-width="3.8" stroke-opacity="0.78" stroke-dasharray="112 8 33 16" stroke-dashoffset="25"/><ellipse rx="29.9" ry="21.5" fill="none" stroke="#fbb034" stroke-width="3.6" stroke-opacity="0.46" stroke-dasharray="51 21 20 35" stroke-dashoffset="12"/><ellipse rx="26.8" ry="18.4" fill="none" stroke="#8a2808" stroke-width="3.5" stroke-opacity="0.78" stroke-dasharray="47 2 14 3" stroke-dashoffset="103"/><ellipse rx="23.9" ry="15.7" fill="none" stroke="#fbb034" stroke-width="3.6" stroke-opacity="0.76" stroke-dasharray="42 11 17 18" stroke-dashoffset="76"/><ellipse rx="20.8" ry="12.6" fill="none" stroke="#8a2808" stroke-width="2.7" stroke-opacity="0.83" stroke-dasharray="47 4 14 9" stroke-dashoffset="106"/><ellipse rx="16.8" ry="9.4" fill="none" stroke="#fbb034" stroke-width="3.6" stroke-opacity="0.32" stroke-dasharray="27 1 11 2" stroke-dashoffset="17"/><ellipse rx="13.7" ry="6.3" fill="none" stroke="#8a2808" stroke-width="2.9" stroke-opacity="0.96" stroke-dasharray="30 3 9 6" stroke-dashoffset="56"/></g><ellipse cx="455.0" cy="160.0" rx="7.0" ry="4.0" fill="#4a1205" fill-opacity="0.85" transform="rotate(30 455.0 160.0)"/><ellipse cx="572.0" cy="92.0" rx="7.0" ry="4.0" fill="#3a0e04" fill-opacity="0.8" transform="rotate(20 572.0 92.0)"/><ellipse cx="590.0" cy="138.0" rx="5.0" ry="8.0" fill="#4a1205" fill-opacity="0.7" transform="rotate(10 590.0 138.0)"/><ellipse cx="645.0" cy="262.0" rx="5.0" ry="12.0" fill="#2a0a04" fill-opacity="0.85" transform="rotate(5 645.0 262.0)"/><ellipse cx="640.0" cy="225.0" rx="4.0" ry="6.0" fill="#3a0e04" fill-opacity="0.8" transform="rotate(0 640.0 225.0)"/><ellipse cx="520.0" cy="272.0" rx="7.0" ry="9.0" fill="#3a0e04" fill-opacity="0.8" transform="rotate(20 520.0 272.0)"/><ellipse cx="460.0" cy="42.0" rx="18.0" ry="4.0" fill="#4a1205" fill-opacity="0.8" transform="rotate(0 460.0 42.0)"/><ellipse cx="690.0" cy="125.0" rx="8.0" ry="4.0" fill="#4a1205" fill-opacity="0.7" transform="rotate(20 690.0 125.0)"/></g>
<rect x="408" y="11" width="293" height="293" filter="url(#nzd2)" fill="#000"/>
<rect x="408" y="11" width="293" height="293" filter="url(#nzl2)" fill="#000"/>
<rect x="408" y="11" width="293" height="293" filter="url(#grain)" fill="#000"/>
<rect x="408" y="11" width="293" height="293" filter="url(#grainl)" fill="#000"/>
<g filter="url(#soft3)"><ellipse cx="505.0" cy="105.0" rx="3.8" ry="3.3" fill="#ffc84a" fill-opacity="0.7" transform="rotate(0 505.0 105.0)"/><ellipse cx="505.0" cy="105.0" rx="3.0" ry="2.5" fill="#fff3c0" fill-opacity="0.97" transform="rotate(0 505.0 105.0)"/><ellipse cx="445.0" cy="153.0" rx="3.8" ry="3.3" fill="#ffc84a" fill-opacity="0.7" transform="rotate(0 445.0 153.0)"/><ellipse cx="445.0" cy="153.0" rx="3.0" ry="2.5" fill="#fff3c0" fill-opacity="0.97" transform="rotate(0 445.0 153.0)"/><ellipse cx="663.0" cy="100.0" rx="3.8" ry="3.8" fill="#ffc84a" fill-opacity="0.7" transform="rotate(0 663.0 100.0)"/><ellipse cx="663.0" cy="100.0" rx="3.0" ry="3.0" fill="#fff3c0" fill-opacity="0.97" transform="rotate(0 663.0 100.0)"/><ellipse cx="604.0" cy="132.0" rx="3.8" ry="3.8" fill="#ffc84a" fill-opacity="0.7" transform="rotate(0 604.0 132.0)"/><ellipse cx="604.0" cy="132.0" rx="3.0" ry="3.0" fill="#fff3c0" fill-opacity="0.97" transform="rotate(0 604.0 132.0)"/><ellipse cx="690.0" cy="167.0" rx="4.8" ry="3.8" fill="#ffc84a" fill-opacity="0.7" transform="rotate(30 690.0 167.0)"/><ellipse cx="690.0" cy="167.0" rx="4.0" ry="3.0" fill="#fff3c0" fill-opacity="0.97" transform="rotate(30 690.0 167.0)"/><ellipse cx="647.0" cy="222.0" rx="4.3" ry="5.8" fill="#ffc84a" fill-opacity="0.7" transform="rotate(-20 647.0 222.0)"/><ellipse cx="647.0" cy="222.0" rx="3.5" ry="5.0" fill="#fff3c0" fill-opacity="0.97" transform="rotate(-20 647.0 222.0)"/><ellipse cx="628.0" cy="253.0" rx="4.3" ry="3.8" fill="#ffc84a" fill-opacity="0.7" transform="rotate(0 628.0 253.0)"/><ellipse cx="628.0" cy="253.0" rx="3.5" ry="3.0" fill="#fff3c0" fill-opacity="0.97" transform="rotate(0 628.0 253.0)"/><ellipse cx="513.0" cy="270.0" rx="5.8" ry="4.3" fill="#ffc84a" fill-opacity="0.7" transform="rotate(0 513.0 270.0)"/><ellipse cx="513.0" cy="270.0" rx="5.0" ry="3.5" fill="#fff3c0" fill-opacity="0.97" transform="rotate(0 513.0 270.0)"/><ellipse cx="540.0" cy="64.0" rx="4.8" ry="2.8" fill="#ffc84a" fill-opacity="0.7" transform="rotate(30 540.0 64.0)"/><ellipse cx="540.0" cy="64.0" rx="4.0" ry="2.0" fill="#fff3c0" fill-opacity="0.97" transform="rotate(30 540.0 64.0)"/><ellipse cx="585.0" cy="32.0" rx="3.3" ry="2.8" fill="#ffc84a" fill-opacity="0.7" transform="rotate(0 585.0 32.0)"/><ellipse cx="585.0" cy="32.0" rx="2.5" ry="2.0" fill="#fff3c0" fill-opacity="0.97" transform="rotate(0 585.0 32.0)"/><ellipse cx="693.0" cy="30.0" rx="3.8" ry="3.8" fill="#ffc84a" fill-opacity="0.7" transform="rotate(0 693.0 30.0)"/><ellipse cx="693.0" cy="30.0" rx="3.0" ry="3.0" fill="#fff3c0" fill-opacity="0.97" transform="rotate(0 693.0 30.0)"/><ellipse cx="520.0" cy="175.0" rx="3.3" ry="3.3" fill="#ffc84a" fill-opacity="0.7" transform="rotate(0 520.0 175.0)"/><ellipse cx="520.0" cy="175.0" rx="2.5" ry="2.5" fill="#fff3c0" fill-opacity="0.97" transform="rotate(0 520.0 175.0)"/><ellipse cx="472.0" cy="172.0" rx="6.8" ry="3.3" fill="#ffc84a" fill-opacity="0.7" transform="rotate(-25 472.0 172.0)"/><ellipse cx="472.0" cy="172.0" rx="6.0" ry="2.5" fill="#fff3c0" fill-opacity="0.97" transform="rotate(-25 472.0 172.0)"/><path d="M456 17 C462 24 466 36 473 40 C478 43 482 42 484 44" fill="none" stroke="#fff0b8" stroke-width="5" stroke-linecap="round"/></g>
</g>
<clipPath id="cp3"><rect x="799" y="15" width="293" height="292"/></clipPath>
<g clip-path="url(#cp3)">
<rect x="799" y="15" width="293" height="292" fill="#ca4b0d"/>
<g filter="url(#soft2)"><g transform="translate(800.0,30.0) rotate(-25)"><ellipse rx="198.0" ry="178.0" fill="#ca4b0d"/><ellipse rx="201.5" ry="181.2" fill="none" stroke="#f79c28" stroke-width="3.4" stroke-opacity="0.44" stroke-dasharray="614 163 246 277" stroke-dashoffset="753"/><ellipse rx="198.5" ry="178.2" fill="none" stroke="#7a1707" stroke-width="3.1" stroke-opacity="0.62" stroke-dasharray="891 53 267 106" stroke-dashoffset="487"/><ellipse rx="194.5" ry="174.8" fill="none" stroke="#f79c28" stroke-width="3.4" stroke-opacity="0.41" stroke-dasharray="665 90 266 152" stroke-dashoffset="362"/><ellipse rx="191.5" ry="171.8" fill="none" stroke="#7a1707" stroke-width="2.9" stroke-opacity="0.80" stroke-dasharray="862 27 258 54" stroke-dashoffset="920"/><ellipse rx="188.5" ry="169.1" fill="none" stroke="#f79c28" stroke-width="3.4" stroke-opacity="0.40" stroke-dasharray="290 36 116 61" stroke-dashoffset="767"/><ellipse rx="185.5" ry="166.1" fill="none" stroke="#7a1707" stroke-width="2.6" stroke-opacity="0.60" stroke-dasharray="488 42 146 83" stroke-dashoffset="26"/><ellipse rx="183.4" ry="162.7" fill="none" stroke="#f79c28" stroke-width="3.4" stroke-opacity="0.65" stroke-dasharray="356 23 143 39" stroke-dashoffset="322"/><ellipse rx="180.4" ry="159.7" fill="none" stroke="#7a1707" stroke-width="3.1" stroke-opacity="0.73" stroke-dasharray="394 38 118 77" stroke-dashoffset="164"/><ellipse rx="177.1" ry="156.9" fill="none" stroke="#f79c28" stroke-width="3.4" stroke-opacity="0.77" stroke-dasharray="317 145 127 247" stroke-dashoffset="711"/><ellipse rx="174.1" ry="153.9" fill="none" stroke="#7a1707" stroke-width="2.8" stroke-opacity="0.60" stroke-dasharray="823 34 247 69" stroke-dashoffset="627"/><ellipse rx="170.9" ry="151.6" fill="none" stroke="#f79c28" stroke-width="3.4" stroke-opacity="0.79" stroke-dasharray="541 35 217 59" stroke-dashoffset="2"/><ellipse rx="167.9" ry="148.6" fill="none" stroke="#7a1707" stroke-width="3.3" stroke-opacity="0.93" stroke-dasharray="623 23 187 45" stroke-dashoffset="528"/><ellipse rx="164.5" ry="145.2" fill="none" stroke="#f79c28" stroke-width="3.4" stroke-opacity="0.48" stroke-dasharray="278 76 111 129" stroke-dashoffset="70"/><ellipse rx="161.5" ry="142.2" fill="none" stroke="#7a1707" stroke-width="2.7" stroke-opacity="0.58" stroke-dasharray="643 13 193 26" stroke-dashoffset="632"/><ellipse rx="161.5" ry="142.2" fill="none" stroke="#170502" stroke-width="3.1" stroke-opacity="0.88" stroke-dasharray="9 201 5 141" stroke-dashoffset="12" stroke-linecap="round"/><ellipse rx="158.4" ry="139.2" fill="none" stroke="#f79c28" stroke-width="3.4" stroke-opacity="0.47" stroke-dasharray="399 34 159 59" stroke-dashoffset="116"/><ellipse rx="155.4" ry="136.2" fill="none" stroke="#7a1707" stroke-width="2.7" stroke-opacity="0.63" stroke-dasharray="401 23 120 47" stroke-dashoffset="208"/><ellipse rx="155.4" ry="136.2" fill="none" stroke="#170502" stroke-width="3.7" stroke-opacity="0.86" stroke-dasharray="20 509 12 356" stroke-dashoffset="3" stroke-linecap="round"/><ellipse rx="152.6" ry="133.2" fill="none" stroke="#f79c28" stroke-width="3.4" stroke-opacity="0.80" stroke-dasharray="345 115 138 195" stroke-dashoffset="261"/><ellipse rx="149.6" ry="130.2" fill="none" stroke="#7a1707" stroke-width="3.2" stroke-opacity="0.59" stroke-dasharray="424 19 127 39" stroke-dashoffset="243"/><ellipse rx="146.8" ry="127.6" fill="none" stroke="#f79c28" stroke-width="3.4" stroke-opacity="0.55" stroke-dasharray="328 109 131 185" stroke-dashoffset="84"/><ellipse rx="143.8" ry="124.6" fill="none" stroke="#7a1707" stroke-width="3.5" stroke-opacity="0.83" stroke-dasharray="497 16 149 31" stroke-dashoffset="447"/><ellipse rx="141.1" ry="121.6" fill="none" stroke="#f79c28" stroke-width="3.4" stroke-opacity="0.46" stroke-dasharray="404 35 162 59" stroke-dashoffset="683"/><ellipse rx="138.1" ry="118.6" fill="none" stroke="#7a1707" stroke-width="2.4" stroke-opacity="0.85" stroke-dasharray="283 40 85 80" stroke-dashoffset="499"/><ellipse rx="135.1" ry="115.1" fill="none" stroke="#f79c28" stroke-width="3.4" stroke-opacity="0.33" stroke-dasharray="289 44 116 74" stroke-dashoffset="503"/><ellipse rx="132.1" ry="112.1" fill="none" stroke="#7a1707" stroke-width="3.5" stroke-opacity="0.71" stroke-dasharray="569 19 171 38" stroke-dashoffset="195"/><ellipse rx="129.5" ry="108.5" fill="none" stroke="#f79c28" stroke-width="3.4" stroke-opacity="0.73" stroke-dasharray="405 45 162 76" stroke-dashoffset="214"/><ellipse rx="126.5" ry="105.5" fill="none" stroke="#7a1707" stroke-width="2.6" stroke-opacity="0.57" stroke-dasharray="581 17 174 34" stroke-dashoffset="99"/><ellipse rx="126.5" ry="105.5" fill="none" stroke="#170502" stroke-width="3.0" stroke-opacity="0.81" stroke-dasharray="26 152 16 106" stroke-dashoffset="103" stroke-linecap="round"/><ellipse rx="123.3" ry="102.4" fill="none" stroke="#f79c28" stroke-width="3.4" stroke-opacity="0.38" stroke-dasharray="338 45 135 77" stroke-dashoffset="159"/><ellipse rx="120.3" ry="99.4" fill="none" stroke="#7a1707" stroke-width="2.9" stroke-opacity="0.71" stroke-dasharray="390 14 117 28" stroke-dashoffset="371"/><ellipse rx="116.7" ry="97.1" fill="none" stroke="#f79c28" stroke-width="3.4" stroke-opacity="0.72" stroke-dasharray="327 38 131 65" stroke-dashoffset="54"/><ellipse rx="113.7" ry="94.1" fill="none" stroke="#7a1707" stroke-width="2.5" stroke-opacity="0.81" stroke-dasharray="358 16 107 32" stroke-dashoffset="558"/><ellipse rx="110.8" ry="91.5" fill="none" stroke="#f79c28" stroke-width="3.4" stroke-opacity="0.61" stroke-dasharray="369 63 148 107" stroke-dashoffset="395"/><ellipse rx="107.8" ry="88.5" fill="none" stroke="#7a1707" stroke-width="3.1" stroke-opacity="0.85" stroke-dasharray="403 23 121 46" stroke-dashoffset="462"/><ellipse rx="105.0" ry="84.8" fill="none" stroke="#f79c28" stroke-width="3.4" stroke-opacity="0.47" stroke-dasharray="188 50 75 85" stroke-dashoffset="273"/><ellipse rx="102.0" ry="81.8" fill="none" stroke="#7a1707" stroke-width="2.5" stroke-opacity="0.90" stroke-dasharray="226 27 68 54" stroke-dashoffset="328"/><ellipse rx="99.5" ry="78.6" fill="none" stroke="#f79c28" stroke-width="3.4" stroke-opacity="0.66" stroke-dasharray="188 81 75 138" stroke-dashoffset="46"/><ellipse rx="96.5" ry="75.6" fill="none" stroke="#7a1707" stroke-width="2.8" stroke-opacity="0.58" stroke-dasharray="234 8 70 15" stroke-dashoffset="21"/><ellipse rx="96.5" ry="75.6" fill="none" stroke="#170502" stroke-width="3.5" stroke-opacity="0.92" stroke-dasharray="18 263 11 184" stroke-dashoffset="355" stroke-linecap="round"/><ellipse rx="92.6" ry="73.2" fill="none" stroke="#f79c28" stroke-width="3.4" stroke-opacity="0.83" stroke-dasharray="215 38 86 64" stroke-dashoffset="230"/><ellipse rx="89.6" ry="70.2" fill="none" stroke="#7a1707" stroke-width="3.0" stroke-opacity="0.61" stroke-dasharray="324 21 97 41" stroke-dashoffset="96"/><ellipse rx="89.6" ry="70.2" fill="none" stroke="#170502" stroke-width="2.9" stroke-opacity="0.94" stroke-dasharray="12 182 7 127" stroke-dashoffset="387" stroke-linecap="round"/><ellipse rx="87.2" ry="66.5" fill="none" stroke="#f79c28" stroke-width="3.4" stroke-opacity="0.78" stroke-dasharray="152 64 61 108" stroke-dashoffset="339"/><ellipse rx="84.2" ry="63.5" fill="none" stroke="#7a1707" stroke-width="2.7" stroke-opacity="0.72" stroke-dasharray="343 9 103 17" stroke-dashoffset="221"/><ellipse rx="80.7" ry="61.4" fill="none" stroke="#f79c28" stroke-width="3.4" stroke-opacity="0.75" stroke-dasharray="135 41 54 69" stroke-dashoffset="65"/><ellipse rx="77.7" ry="58.4" fill="none" stroke="#7a1707" stroke-width="2.7" stroke-opacity="0.92" stroke-dasharray="201 11 60 22" stroke-dashoffset="377"/><ellipse rx="77.7" ry="58.4" fill="none" stroke="#170502" stroke-width="3.5" stroke-opacity="0.76" stroke-dasharray="9 188 6 132" stroke-dashoffset="372" stroke-linecap="round"/><ellipse rx="75.5" ry="55.1" fill="none" stroke="#f79c28" stroke-width="3.4" stroke-opacity="0.76" stroke-dasharray="111 18 44 30" stroke-dashoffset="270"/><ellipse rx="72.5" ry="52.1" fill="none" stroke="#7a1707" stroke-width="2.4" stroke-opacity="0.82" stroke-dasharray="206 19 62 37" stroke-dashoffset="327"/><ellipse rx="68.5" ry="49.2" fill="none" stroke="#f79c28" stroke-width="3.4" stroke-opacity="0.39" stroke-dasharray="158 36 63 61" stroke-dashoffset="341"/><ellipse rx="65.5" ry="46.2" fill="none" stroke="#7a1707" stroke-width="3.1" stroke-opacity="0.76" stroke-dasharray="277 5 83 10" stroke-dashoffset="158"/><ellipse rx="65.5" ry="46.2" fill="none" stroke="#170502" stroke-width="3.5" stroke-opacity="0.86" stroke-dasharray="13 174 8 122" stroke-dashoffset="179" stroke-linecap="round"/><ellipse rx="62.7" ry="43.5" fill="none" stroke="#f79c28" stroke-width="3.4" stroke-opacity="0.47" stroke-dasharray="165 17 66 29" stroke-dashoffset="169"/><ellipse rx="59.7" ry="40.5" fill="none" stroke="#7a1707" stroke-width="3.5" stroke-opacity="0.58" stroke-dasharray="196 15 59 29" stroke-dashoffset="275"/><ellipse rx="59.7" ry="40.5" fill="none" stroke="#170502" stroke-width="3.0" stroke-opacity="0.81" stroke-dasharray="21 162 12 113" stroke-dashoffset="23" stroke-linecap="round"/><ellipse rx="56.9" ry="37.4" fill="none" stroke="#f79c28" stroke-width="3.4" stroke-opacity="0.51" stroke-dasharray="70 33 28 56" stroke-dashoffset="263"/><ellipse rx="53.9" ry="34.4" fill="none" stroke="#7a1707" stroke-width="2.7" stroke-opacity="0.89" stroke-dasharray="163 8 49 16" stroke-dashoffset="130"/><ellipse rx="51.2" ry="31.4" fill="none" stroke="#f79c28" stroke-width="3.4" stroke-opacity="0.40" stroke-dasharray="86 8 35 14" stroke-dashoffset="152"/><ellipse rx="48.2" ry="28.4" fill="none" stroke="#7a1707" stroke-width="2.8" stroke-opacity="0.82" stroke-dasharray="88 3 26 6" stroke-dashoffset="44"/><ellipse rx="48.2" ry="28.4" fill="none" stroke="#170502" stroke-width="4.1" stroke-opacity="1.00" stroke-dasharray="11 145 6 101" stroke-dashoffset="155" stroke-linecap="round"/><ellipse rx="44.9" ry="24.7" fill="none" stroke="#f79c28" stroke-width="3.4" stroke-opacity="0.60" stroke-dasharray="76 25 30 42" stroke-dashoffset="27"/><ellipse rx="41.9" ry="21.7" fill="none" stroke="#7a1707" stroke-width="2.4" stroke-opacity="0.59" stroke-dasharray="152 9 46 18" stroke-dashoffset="104"/><ellipse rx="39.4" ry="18.7" fill="none" stroke="#f79c28" stroke-width="3.4" stroke-opacity="0.38" stroke-dasharray="101 11 40 19" stroke-dashoffset="167"/><ellipse rx="36.4" ry="15.7" fill="none" stroke="#7a1707" stroke-width="2.6" stroke-opacity="0.94" stroke-dasharray="116 7 35 14" stroke-dashoffset="52"/><ellipse rx="33.4" ry="12.5" fill="none" stroke="#f79c28" stroke-width="3.4" stroke-opacity="0.58" stroke-dasharray="35 13 14 23" stroke-dashoffset="127"/><ellipse rx="30.4" ry="9.5" fill="none" stroke="#7a1707" stroke-width="3.3" stroke-opacity="0.56" stroke-dasharray="106 3 32 7" stroke-dashoffset="96"/></g><g transform="translate(939.0,275.0) rotate(-5)"><ellipse rx="170.0" ry="98.0" fill="#ca4b0d"/><ellipse rx="172.6" ry="101.2" fill="none" stroke="#f79c28" stroke-width="3.4" stroke-opacity="0.42" stroke-dasharray="404 70 162 120" stroke-dashoffset="679"/><ellipse rx="169.6" ry="98.2" fill="none" stroke="#7a1707" stroke-width="3.0" stroke-opacity="0.64" stroke-dasharray="603 26 181 52" stroke-dashoffset="3"/><ellipse rx="167.1" ry="94.5" fill="none" stroke="#f79c28" stroke-width="3.4" stroke-opacity="0.43" stroke-dasharray="432 41 173 70" stroke-dashoffset="35"/><ellipse rx="164.1" ry="91.5" fill="none" stroke="#7a1707" stroke-width="3.5" stroke-opacity="0.80" stroke-dasharray="654 32 196 65" stroke-dashoffset="28"/><ellipse rx="164.1" ry="91.5" fill="none" stroke="#170502" stroke-width="4.1" stroke-opacity="0.84" stroke-dasharray="19 202 11 141" stroke-dashoffset="127" stroke-linecap="round"/><ellipse rx="161.4" ry="88.5" fill="none" stroke="#f79c28" stroke-width="3.4" stroke-opacity="0.60" stroke-dasharray="450 62 180 105" stroke-dashoffset="269"/><ellipse rx="158.4" ry="85.5" fill="none" stroke="#7a1707" stroke-width="2.4" stroke-opacity="0.90" stroke-dasharray="425 14 127 27" stroke-dashoffset="184"/><ellipse rx="154.7" ry="83.6" fill="none" stroke="#f79c28" stroke-width="3.4" stroke-opacity="0.72" stroke-dasharray="420 88 168 150" stroke-dashoffset="434"/><ellipse rx="151.7" ry="80.6" fill="none" stroke="#7a1707" stroke-width="3.0" stroke-opacity="0.88" stroke-dasharray="496 11 149 22" stroke-dashoffset="150"/><ellipse rx="149.5" ry="76.9" fill="none" stroke="#f79c28" stroke-width="3.4" stroke-opacity="0.51" stroke-dasharray="269 56 107 95" stroke-dashoffset="708"/><ellipse rx="146.5" ry="73.9" fill="none" stroke="#7a1707" stroke-width="2.5" stroke-opacity="0.84" stroke-dasharray="351 8 105 16" stroke-dashoffset="706"/><ellipse rx="143.0" ry="71.1" fill="none" stroke="#f79c28" stroke-width="3.4" stroke-opacity="0.63" stroke-dasharray="345 33 138 56" stroke-dashoffset="375"/><ellipse rx="140.0" ry="68.1" fill="none" stroke="#7a1707" stroke-width="2.6" stroke-opacity="0.69" stroke-dasharray="412 12 123 23" stroke-dashoffset="624"/><ellipse rx="140.0" ry="68.1" fill="none" stroke="#170502" stroke-width="2.9" stroke-opacity="0.77" stroke-dasharray="21 217 13 152" stroke-dashoffset="548" stroke-linecap="round"/><ellipse rx="137.3" ry="64.8" fill="none" stroke="#f79c28" stroke-width="3.4" stroke-opacity="0.79" stroke-dasharray="312 69 125 117" stroke-dashoffset="611"/><ellipse rx="134.3" ry="61.8" fill="none" stroke="#7a1707" stroke-width="3.6" stroke-opacity="0.79" stroke-dasharray="321 32 96 63" stroke-dashoffset="563"/><ellipse rx="130.9" ry="58.7" fill="none" stroke="#f79c28" stroke-width="3.4" stroke-opacity="0.34" stroke-dasharray="334 25 133 42" stroke-dashoffset="482"/><ellipse rx="127.9" ry="55.7" fill="none" stroke="#7a1707" stroke-width="3.4" stroke-opacity="0.57" stroke-dasharray="412 18 123 35" stroke-dashoffset="155"/><ellipse rx="127.9" ry="55.7" fill="none" stroke="#170502" stroke-width="2.9" stroke-opacity="0.83" stroke-dasharray="17 161 10 113" stroke-dashoffset="539" stroke-linecap="round"/><ellipse rx="125.6" ry="53.3" fill="none" stroke="#f79c28" stroke-width="3.4" stroke-opacity="0.83" stroke-dasharray="237 30 95 51" stroke-dashoffset="298"/><ellipse rx="122.6" ry="50.3" fill="none" stroke="#7a1707" stroke-width="2.6" stroke-opacity="0.89" stroke-dasharray="377 6 113 13" stroke-dashoffset="451"/><ellipse rx="119.1" ry="46.9" fill="none" stroke="#f79c28" stroke-width="3.4" stroke-opacity="0.47" stroke-dasharray="240 69 96 117" stroke-dashoffset="282"/><ellipse rx="116.1" ry="43.9" fill="none" stroke="#7a1707" stroke-width="2.4" stroke-opacity="0.82" stroke-dasharray="232 22 69 43" stroke-dashoffset="504"/><ellipse rx="116.1" ry="43.9" fill="none" stroke="#170502" stroke-width="4.0" stroke-opacity="0.90" stroke-dasharray="21 242 13 169" stroke-dashoffset="136" stroke-linecap="round"/><ellipse rx="112.9" ry="41.6" fill="none" stroke="#f79c28" stroke-width="3.4" stroke-opacity="0.35" stroke-dasharray="280 18 112 31" stroke-dashoffset="46"/><ellipse rx="109.9" ry="38.6" fill="none" stroke="#7a1707" stroke-width="2.6" stroke-opacity="0.90" stroke-dasharray="154 14 46 28" stroke-dashoffset="324"/><ellipse rx="109.9" ry="38.6" fill="none" stroke="#170502" stroke-width="3.5" stroke-opacity="0.80" stroke-dasharray="20 163 12 114" stroke-dashoffset="82" stroke-linecap="round"/><ellipse rx="106.6" ry="34.9" fill="none" stroke="#f79c28" stroke-width="3.4" stroke-opacity="0.33" stroke-dasharray="227 42 91 71" stroke-dashoffset="324"/><ellipse rx="103.6" ry="31.9" fill="none" stroke="#7a1707" stroke-width="3.4" stroke-opacity="0.55" stroke-dasharray="336 19 101 37" stroke-dashoffset="212"/><ellipse rx="103.6" ry="31.9" fill="none" stroke="#170502" stroke-width="3.8" stroke-opacity="0.81" stroke-dasharray="25 123 15 86" stroke-dashoffset="318" stroke-linecap="round"/><ellipse rx="100.8" ry="28.5" fill="none" stroke="#f79c28" stroke-width="3.4" stroke-opacity="0.80" stroke-dasharray="163 25 65 43" stroke-dashoffset="124"/><ellipse rx="97.8" ry="25.5" fill="none" stroke="#7a1707" stroke-width="3.6" stroke-opacity="0.59" stroke-dasharray="232 13 70 27" stroke-dashoffset="253"/><ellipse rx="95.3" ry="23.6" fill="none" stroke="#f79c28" stroke-width="3.4" stroke-opacity="0.59" stroke-dasharray="140 43 56 74" stroke-dashoffset="219"/><ellipse rx="92.3" ry="20.6" fill="none" stroke="#7a1707" stroke-width="3.6" stroke-opacity="0.69" stroke-dasharray="130 17 39 33" stroke-dashoffset="124"/><ellipse rx="88.5" ry="16.5" fill="none" stroke="#f79c28" stroke-width="3.4" stroke-opacity="0.72" stroke-dasharray="98 45 39 76" stroke-dashoffset="158"/><ellipse rx="85.5" ry="13.5" fill="none" stroke="#7a1707" stroke-width="3.2" stroke-opacity="0.73" stroke-dasharray="216 4 65 8" stroke-dashoffset="183"/><ellipse rx="82.9" ry="10.7" fill="none" stroke="#f79c28" stroke-width="3.4" stroke-opacity="0.44" stroke-dasharray="87 25 35 42" stroke-dashoffset="228"/><ellipse rx="79.9" ry="7.7" fill="none" stroke="#7a1707" stroke-width="3.0" stroke-opacity="0.64" stroke-dasharray="230 13 69 25" stroke-dashoffset="125"/></g><g transform="translate(959.0,48.0) rotate(10)"><ellipse rx="58.0" ry="66.0" fill="#ca4b0d"/><ellipse rx="61.5" ry="68.6" fill="none" stroke="#f79c28" stroke-width="3.4" stroke-opacity="0.40" stroke-dasharray="101 58 40 99" stroke-dashoffset="47"/><ellipse rx="58.5" ry="65.6" fill="none" stroke="#7a1707" stroke-width="3.5" stroke-opacity="0.64" stroke-dasharray="244 9 73 19" stroke-dashoffset="374"/><ellipse rx="58.5" ry="65.6" fill="none" stroke="#170502" stroke-width="3.8" stroke-opacity="0.98" stroke-dasharray="21 224 13 156" stroke-dashoffset="276" stroke-linecap="round"/><ellipse rx="54.5" ry="63.5" fill="none" stroke="#f79c28" stroke-width="3.4" stroke-opacity="0.40" stroke-dasharray="161 21 64 36" stroke-dashoffset="299"/><ellipse rx="51.5" ry="60.5" fill="none" stroke="#7a1707" stroke-width="3.4" stroke-opacity="0.93" stroke-dasharray="208 17 62 33" stroke-dashoffset="199"/><ellipse rx="49.1" ry="56.7" fill="none" stroke="#f79c28" stroke-width="3.4" stroke-opacity="0.73" stroke-dasharray="184 19 73 32" stroke-dashoffset="300"/><ellipse rx="46.1" ry="53.7" fill="none" stroke="#7a1707" stroke-width="3.4" stroke-opacity="0.82" stroke-dasharray="196 5 59 10" stroke-dashoffset="58"/><ellipse rx="46.1" ry="53.7" fill="none" stroke="#170502" stroke-width="4.1" stroke-opacity="0.88" stroke-dasharray="20 67 12 47" stroke-dashoffset="162" stroke-linecap="round"/><ellipse rx="42.9" ry="51.2" fill="none" stroke="#f79c28" stroke-width="3.4" stroke-opacity="0.51" stroke-dasharray="158 17 63 28" stroke-dashoffset="162"/><ellipse rx="39.9" ry="48.2" fill="none" stroke="#7a1707" stroke-width="3.1" stroke-opacity="0.72" stroke-dasharray="124 9 37 19" stroke-dashoffset="187"/><ellipse rx="36.5" ry="45.6" fill="none" stroke="#f79c28" stroke-width="3.4" stroke-opacity="0.52" stroke-dasharray="90 18 36 31" stroke-dashoffset="223"/><ellipse rx="33.5" ry="42.6" fill="none" stroke="#7a1707" stroke-width="2.9" stroke-opacity="0.59" stroke-dasharray="186 7 56 15" stroke-dashoffset="215"/><ellipse rx="33.5" ry="42.6" fill="none" stroke="#170502" stroke-width="3.3" stroke-opacity="0.84" stroke-dasharray="20 81 12 57" stroke-dashoffset="46" stroke-linecap="round"/><ellipse rx="30.4" ry="39.0" fill="none" stroke="#f79c28" stroke-width="3.4" stroke-opacity="0.41" stroke-dasharray="106 21 42 35" stroke-dashoffset="139"/><ellipse rx="27.4" ry="36.0" fill="none" stroke="#7a1707" stroke-width="3.4" stroke-opacity="0.92" stroke-dasharray="65 5 20 11" stroke-dashoffset="92"/><ellipse rx="25.0" ry="33.0" fill="none" stroke="#f79c28" stroke-width="3.4" stroke-opacity="0.71" stroke-dasharray="75 24 30 42" stroke-dashoffset="78"/><ellipse rx="22.0" ry="30.0" fill="none" stroke="#7a1707" stroke-width="2.8" stroke-opacity="0.86" stroke-dasharray="109 6 33 12" stroke-dashoffset="135"/><ellipse rx="19.5" ry="26.4" fill="none" stroke="#f79c28" stroke-width="3.4" stroke-opacity="0.49" stroke-dasharray="54 13 21 22" stroke-dashoffset="22"/><ellipse rx="16.5" ry="23.4" fill="none" stroke="#7a1707" stroke-width="2.7" stroke-opacity="0.57" stroke-dasharray="82 3 25 7" stroke-dashoffset="122"/><ellipse rx="12.5" ry="20.7" fill="none" stroke="#f79c28" stroke-width="3.4" stroke-opacity="0.40" stroke-dasharray="30 12 12 20" stroke-dashoffset="24"/><ellipse rx="9.5" ry="17.7" fill="none" stroke="#7a1707" stroke-width="2.6" stroke-opacity="0.69" stroke-dasharray="30 3 9 5" stroke-dashoffset="64"/></g><g transform="translate(1076.0,50.0) rotate(0)"><ellipse rx="68.0" ry="68.0" fill="#ca4b0d"/><ellipse rx="71.5" ry="71.5" fill="none" stroke="#f79c28" stroke-width="3.4" stroke-opacity="0.63" stroke-dasharray="242 13 97 23" stroke-dashoffset="182"/><ellipse rx="68.5" ry="68.5" fill="none" stroke="#7a1707" stroke-width="2.6" stroke-opacity="0.73" stroke-dasharray="243 7 73 13" stroke-dashoffset="95"/><ellipse rx="64.4" ry="64.5" fill="none" stroke="#f79c28" stroke-width="3.4" stroke-opacity="0.58" stroke-dasharray="193 29 77 49" stroke-dashoffset="284"/><ellipse rx="61.4" ry="61.5" fill="none" stroke="#7a1707" stroke-width="3.4" stroke-opacity="0.79" stroke-dasharray="185 5 56 10" stroke-dashoffset="254"/><ellipse rx="59.6" ry="58.8" fill="none" stroke="#f79c28" stroke-width="3.4" stroke-opacity="0.61" stroke-dasharray="182 24 73 41" stroke-dashoffset="233"/><ellipse rx="56.6" ry="55.8" fill="none" stroke="#7a1707" stroke-width="3.0" stroke-opacity="0.84" stroke-dasharray="161 5 48 9" stroke-dashoffset="209"/><ellipse rx="53.2" ry="52.6" fill="none" stroke="#f79c28" stroke-width="3.4" stroke-opacity="0.75" stroke-dasharray="98 19 39 33" stroke-dashoffset="61"/><ellipse rx="50.2" ry="49.6" fill="none" stroke="#7a1707" stroke-width="2.4" stroke-opacity="0.66" stroke-dasharray="112 4 34 9" stroke-dashoffset="180"/><ellipse rx="46.8" ry="46.8" fill="none" stroke="#f79c28" stroke-width="3.4" stroke-opacity="0.73" stroke-dasharray="97 16 39 28" stroke-dashoffset="151"/><ellipse rx="43.8" ry="43.8" fill="none" stroke="#7a1707" stroke-width="3.4" stroke-opacity="0.83" stroke-dasharray="118 4 35 8" stroke-dashoffset="228"/><ellipse rx="43.8" ry="43.8" fill="none" stroke="#170502" stroke-width="3.6" stroke-opacity="0.99" stroke-dasharray="20 156 12 109" stroke-dashoffset="46" stroke-linecap="round"/><ellipse rx="41.6" ry="40.5" fill="none" stroke="#f79c28" stroke-width="3.4" stroke-opacity="0.75" stroke-dasharray="95 6 38 9" stroke-dashoffset="164"/><ellipse rx="38.6" ry="37.5" fill="none" stroke="#7a1707" stroke-width="3.6" stroke-opacity="0.77" stroke-dasharray="188 10 56 20" stroke-dashoffset="236"/><ellipse rx="34.8" ry="35.6" fill="none" stroke="#f79c28" stroke-width="3.4" stroke-opacity="0.34" stroke-dasharray="77 9 31 16" stroke-dashoffset="94"/><ellipse rx="31.8" ry="32.6" fill="none" stroke="#7a1707" stroke-width="3.6" stroke-opacity="0.64" stroke-dasharray="81 10 24 19" stroke-dashoffset="21"/><ellipse rx="28.6" ry="29.1" fill="none" stroke="#f79c28" stroke-width="3.4" stroke-opacity="0.53" stroke-dasharray="87 9 35 15" stroke-dashoffset="146"/><ellipse rx="25.6" ry="26.1" fill="none" stroke="#7a1707" stroke-width="3.5" stroke-opacity="0.88" stroke-dasharray="85 4 25 8" stroke-dashoffset="145"/><ellipse rx="22.9" ry="23.2" fill="none" stroke="#f79c28" stroke-width="3.4" stroke-opacity="0.43" stroke-dasharray="68 13 27 22" stroke-dashoffset="37"/><ellipse rx="19.9" ry="20.2" fill="none" stroke="#7a1707" stroke-width="3.1" stroke-opacity="0.77" stroke-dasharray="64 5 19 10" stroke-dashoffset="104"/><ellipse rx="19.9" ry="20.2" fill="none" stroke="#170502" stroke-width="3.6" stroke-opacity="0.96" stroke-dasharray="22 42 13 29" stroke-dashoffset="31" stroke-linecap="round"/><ellipse rx="17.5" ry="16.5" fill="none" stroke="#f79c28" stroke-width="3.4" stroke-opacity="0.43" stroke-dasharray="39 8 16 14" stroke-dashoffset="49"/><ellipse rx="14.5" ry="13.5" fill="none" stroke="#7a1707" stroke-width="3.3" stroke-opacity="0.55" stroke-dasharray="47 2 14 5" stroke-dashoffset="33"/><ellipse rx="10.6" ry="11.4" fill="none" stroke="#f79c28" stroke-width="3.4" stroke-opacity="0.40" stroke-dasharray="16 5 6 9" stroke-dashoffset="23"/><ellipse rx="7.6" ry="8.4" fill="none" stroke="#7a1707" stroke-width="3.3" stroke-opacity="0.74" stroke-dasharray="26 1 8 1" stroke-dashoffset="35"/></g><g transform="translate(872.0,148.0) rotate(-8)"><ellipse rx="112.0" ry="78.0" fill="#ca4b0d"/><ellipse rx="115.3" ry="81.4" fill="none" stroke="#f79c28" stroke-width="3.4" stroke-opacity="0.41" stroke-dasharray="190 90 76 154" stroke-dashoffset="405"/><ellipse rx="112.3" ry="78.4" fill="none" stroke="#7a1707" stroke-width="2.6" stroke-opacity="0.83" stroke-dasharray="209 24 63 49" stroke-dashoffset="437"/><ellipse rx="108.9" ry="75.4" fill="none" stroke="#f79c28" stroke-width="3.4" stroke-opacity="0.58" stroke-dasharray="337 20 135 34" stroke-dashoffset="542"/><ellipse rx="105.9" ry="72.4" fill="none" stroke="#7a1707" stroke-width="2.8" stroke-opacity="0.93" stroke-dasharray="379 16 114 31" stroke-dashoffset="48"/><ellipse rx="103.4" ry="68.6" fill="none" stroke="#f79c28" stroke-width="3.4" stroke-opacity="0.60" stroke-dasharray="192 31 77 54" stroke-dashoffset="194"/><ellipse rx="100.4" ry="65.6" fill="none" stroke="#7a1707" stroke-width="2.8" stroke-opacity="0.91" stroke-dasharray="394 25 118 50" stroke-dashoffset="37"/><ellipse rx="100.4" ry="65.6" fill="none" stroke="#170502" stroke-width="3.9" stroke-opacity="1.00" stroke-dasharray="23 274 14 192" stroke-dashoffset="453" stroke-linecap="round"/><ellipse rx="96.7" ry="63.3" fill="none" stroke="#f79c28" stroke-width="3.4" stroke-opacity="0.57" stroke-dasharray="281 16 112 27" stroke-dashoffset="76"/><ellipse rx="93.7" ry="60.3" fill="none" stroke="#7a1707" stroke-width="3.2" stroke-opacity="0.94" stroke-dasharray="182 14 55 29" stroke-dashoffset="64"/><ellipse rx="91.6" ry="57.3" fill="none" stroke="#f79c28" stroke-width="3.4" stroke-opacity="0.65" stroke-dasharray="199 23 79 40" stroke-dashoffset="119"/><ellipse rx="88.6" ry="54.3" fill="none" stroke="#7a1707" stroke-width="2.9" stroke-opacity="0.87" stroke-dasharray="283 16 85 33" stroke-dashoffset="184"/><ellipse rx="85.4" ry="50.7" fill="none" stroke="#f79c28" stroke-width="3.4" stroke-opacity="0.54" stroke-dasharray="131 39 52 67" stroke-dashoffset="364"/><ellipse rx="82.4" ry="47.7" fill="none" stroke="#7a1707" stroke-width="2.5" stroke-opacity="0.73" stroke-dasharray="177 10 53 21" stroke-dashoffset="130"/><ellipse rx="79.3" ry="44.4" fill="none" stroke="#f79c28" stroke-width="3.4" stroke-opacity="0.75" stroke-dasharray="225 43 90 72" stroke-dashoffset="204"/><ellipse rx="76.3" ry="41.4" fill="none" stroke="#7a1707" stroke-width="2.9" stroke-opacity="0.64" stroke-dasharray="222 10 67 20" stroke-dashoffset="115"/><ellipse rx="76.3" ry="41.4" fill="none" stroke="#170502" stroke-width="3.9" stroke-opacity="0.91" stroke-dasharray="15 213 9 149" stroke-dashoffset="7" stroke-linecap="round"/><ellipse rx="72.7" ry="39.1" fill="none" stroke="#f79c28" stroke-width="3.4" stroke-opacity="0.65" stroke-dasharray="168 25 67 43" stroke-dashoffset="308"/><ellipse rx="69.7" ry="36.1" fill="none" stroke="#7a1707" stroke-width="3.3" stroke-opacity="0.68" stroke-dasharray="148 9 44 17" stroke-dashoffset="246"/><ellipse rx="66.4" ry="33.0" fill="none" stroke="#f79c28" stroke-width="3.4" stroke-opacity="0.76" stroke-dasharray="83 37 33 63" stroke-dashoffset="160"/><ellipse rx="63.4" ry="30.0" fill="none" stroke="#7a1707" stroke-width="2.9" stroke-opacity="0.62" stroke-dasharray="227 6 68 11" stroke-dashoffset="15"/><ellipse rx="60.5" ry="27.5" fill="none" stroke="#f79c28" stroke-width="3.4" stroke-opacity="0.33" stroke-dasharray="119 30 48 51" stroke-dashoffset="243"/><ellipse rx="57.5" ry="24.5" fill="none" stroke="#7a1707" stroke-width="2.6" stroke-opacity="0.61" stroke-dasharray="187 4 56 8" stroke-dashoffset="135"/><ellipse rx="57.5" ry="24.5" fill="none" stroke="#170502" stroke-width="3.8" stroke-opacity="0.81" stroke-dasharray="26 107 15 75" stroke-dashoffset="175" stroke-linecap="round"/><ellipse rx="54.9" ry="21.2" fill="none" stroke="#f79c28" stroke-width="3.4" stroke-opacity="0.77" stroke-dasharray="92 35 37 59" stroke-dashoffset="194"/><ellipse rx="51.9" ry="18.2" fill="none" stroke="#7a1707" stroke-width="2.6" stroke-opacity="0.60" stroke-dasharray="110 4 33 8" stroke-dashoffset="226"/><ellipse rx="51.9" ry="18.2" fill="none" stroke="#170502" stroke-width="3.7" stroke-opacity="0.81" stroke-dasharray="27 68 16 48" stroke-dashoffset="72" stroke-linecap="round"/><ellipse rx="49.3" ry="15.1" fill="none" stroke="#f79c28" stroke-width="3.4" stroke-opacity="0.45" stroke-dasharray="116 10 46 17" stroke-dashoffset="13"/><ellipse rx="46.3" ry="12.1" fill="none" stroke="#7a1707" stroke-width="3.1" stroke-opacity="0.74" stroke-dasharray="81 10 24 20" stroke-dashoffset="68"/><ellipse rx="43.2" ry="8.6" fill="none" stroke="#f79c28" stroke-width="3.4" stroke-opacity="0.75" stroke-dasharray="44 7 18 12" stroke-dashoffset="121"/><ellipse rx="40.2" ry="5.6" fill="none" stroke="#7a1707" stroke-width="2.8" stroke-opacity="0.82" stroke-dasharray="68 3 20 6" stroke-dashoffset="124"/><ellipse rx="40.2" ry="5.6" fill="none" stroke="#170502" stroke-width="4.1" stroke-opacity="0.89" stroke-dasharray="15 49 9 34" stroke-dashoffset="155" stroke-linecap="round"/></g><g transform="translate(1037.0,166.0) rotate(0)"><ellipse rx="84.0" ry="84.0" fill="#ca4b0d"/><ellipse rx="86.9" ry="87.5" fill="none" stroke="#f79c28" stroke-width="3.4" stroke-opacity="0.78" stroke-dasharray="288 25 115 43" stroke-dashoffset="337"/><ellipse rx="83.9" ry="84.5" fill="none" stroke="#7a1707" stroke-width="2.7" stroke-opacity="0.67" stroke-dasharray="170 25 51 51" stroke-dashoffset="224"/><ellipse rx="80.5" ry="81.2" fill="none" stroke="#f79c28" stroke-width="3.4" stroke-opacity="0.74" stroke-dasharray="265 42 106 72" stroke-dashoffset="306"/><ellipse rx="77.5" ry="78.2" fill="none" stroke="#7a1707" stroke-width="2.8" stroke-opacity="0.74" stroke-dasharray="349 8 105 17" stroke-dashoffset="51"/><ellipse rx="75.2" ry="74.5" fill="none" stroke="#f79c28" stroke-width="3.4" stroke-opacity="0.40" stroke-dasharray="205 33 82 57" stroke-dashoffset="73"/><ellipse rx="72.2" ry="71.5" fill="none" stroke="#7a1707" stroke-width="3.1" stroke-opacity="0.76" stroke-dasharray="239 6 72 12" stroke-dashoffset="57"/><ellipse rx="68.4" ry="68.6" fill="none" stroke="#f79c28" stroke-width="3.4" stroke-opacity="0.53" stroke-dasharray="221 20 88 34" stroke-dashoffset="230"/><ellipse rx="65.4" ry="65.6" fill="none" stroke="#7a1707" stroke-width="3.0" stroke-opacity="0.74" stroke-dasharray="213 12 64 25" stroke-dashoffset="24"/><ellipse rx="62.7" ry="62.5" fill="none" stroke="#f79c28" stroke-width="3.4" stroke-opacity="0.65" stroke-dasharray="147 47 59 80" stroke-dashoffset="171"/><ellipse rx="59.7" ry="59.5" fill="none" stroke="#7a1707" stroke-width="3.2" stroke-opacity="0.69" stroke-dasharray="202 7 61 14" stroke-dashoffset="24"/><ellipse rx="59.7" ry="59.5" fill="none" stroke="#170502" stroke-width="4.0" stroke-opacity="0.94" stroke-dasharray="10 177 6 124" stroke-dashoffset="82" stroke-linecap="round"/><ellipse rx="56.6" ry="57.5" fill="none" stroke="#f79c28" stroke-width="3.4" stroke-opacity="0.61" stroke-dasharray="129 14 52 24" stroke-dashoffset="210"/><ellipse rx="53.6" ry="54.5" fill="none" stroke="#7a1707" stroke-width="2.8" stroke-opacity="0.75" stroke-dasharray="194 10 58 19" stroke-dashoffset="155"/><ellipse rx="50.9" ry="50.8" fill="none" stroke="#f79c28" stroke-width="3.4" stroke-opacity="0.72" stroke-dasharray="179 10 72 18" stroke-dashoffset="126"/><ellipse rx="47.9" ry="47.8" fill="none" stroke="#7a1707" stroke-width="3.1" stroke-opacity="0.79" stroke-dasharray="211 12 63 23" stroke-dashoffset="69"/><ellipse rx="47.9" ry="47.8" fill="none" stroke="#170502" stroke-width="3.0" stroke-opacity="0.95" stroke-dasharray="24 91 15 64" stroke-dashoffset="178" stroke-linecap="round"/><ellipse rx="44.4" ry="45.0" fill="none" stroke="#f79c28" stroke-width="3.4" stroke-opacity="0.45" stroke-dasharray="81 35 32 59" stroke-dashoffset="246"/><ellipse rx="41.4" ry="42.0" fill="none" stroke="#7a1707" stroke-width="2.9" stroke-opacity="0.94" stroke-dasharray="159 3 48 7" stroke-dashoffset="184"/><ellipse rx="41.4" ry="42.0" fill="none" stroke="#170502" stroke-width="2.9" stroke-opacity="0.90" stroke-dasharray="16 81 10 57" stroke-dashoffset="182" stroke-linecap="round"/><ellipse rx="38.7" ry="39.1" fill="none" stroke="#f79c28" stroke-width="3.4" stroke-opacity="0.39" stroke-dasharray="124 31 50 52" stroke-dashoffset="17"/><ellipse rx="35.7" ry="36.1" fill="none" stroke="#7a1707" stroke-width="2.6" stroke-opacity="0.87" stroke-dasharray="170 5 51 10" stroke-dashoffset="60"/><ellipse rx="33.2" ry="32.8" fill="none" stroke="#f79c28" stroke-width="3.4" stroke-opacity="0.74" stroke-dasharray="78 11 31 18" stroke-dashoffset="54"/><ellipse rx="30.2" ry="29.8" fill="none" stroke="#7a1707" stroke-width="2.7" stroke-opacity="0.72" stroke-dasharray="82 8 25 17" stroke-dashoffset="97"/><ellipse rx="30.2" ry="29.8" fill="none" stroke="#170502" stroke-width="4.2" stroke-opacity="0.84" stroke-dasharray="14 94 9 66" stroke-dashoffset="90" stroke-linecap="round"/><ellipse rx="26.5" ry="27.0" fill="none" stroke="#f79c28" stroke-width="3.4" stroke-opacity="0.46" stroke-dasharray="56 13 22 22" stroke-dashoffset="47"/><ellipse rx="23.5" ry="24.0" fill="none" stroke="#7a1707" stroke-width="2.8" stroke-opacity="0.58" stroke-dasharray="113 6 34 12" stroke-dashoffset="8"/><ellipse rx="23.5" ry="24.0" fill="none" stroke="#170502" stroke-width="3.5" stroke-opacity="0.78" stroke-dasharray="11 65 7 45" stroke-dashoffset="131" stroke-linecap="round"/><ellipse rx="21.2" ry="21.3" fill="none" stroke="#f79c28" stroke-width="3.4" stroke-opacity="0.80" stroke-dasharray="65 7 26 12" stroke-dashoffset="112"/><ellipse rx="18.2" ry="18.3" fill="none" stroke="#7a1707" stroke-width="3.5" stroke-opacity="0.94" stroke-dasharray="86 1 26 3" stroke-dashoffset="12"/><ellipse rx="15.4" ry="14.4" fill="none" stroke="#f79c28" stroke-width="3.4" stroke-opacity="0.71" stroke-dasharray="37 9 15 15" stroke-dashoffset="4"/><ellipse rx="12.4" ry="11.4" fill="none" stroke="#7a1707" stroke-width="2.5" stroke-opacity="0.93" stroke-dasharray="59 1 18 2" stroke-dashoffset="36"/><ellipse rx="12.4" ry="11.4" fill="none" stroke="#170502" stroke-width="3.2" stroke-opacity="0.98" stroke-dasharray="17 34 10 24" stroke-dashoffset="51" stroke-linecap="round"/><ellipse rx="8.9" ry="8.8" fill="none" stroke="#f79c28" stroke-width="3.4" stroke-opacity="0.47" stroke-dasharray="11 5 4 9" stroke-dashoffset="34"/><ellipse rx="5.9" ry="5.8" fill="none" stroke="#7a1707" stroke-width="2.6" stroke-opacity="0.75" stroke-dasharray="21 1 6 2" stroke-dashoffset="4"/></g><polygon points="870 30 895 34 884 52" fill="#360a04" fill-opacity="0.97"/><polygon points="1008 82 1032 92 1010 100" fill="#360a04" fill-opacity="0.97"/><polygon points="800 105 822 112 803 124" fill="#360a04" fill-opacity="0.87"/><polygon points="800 178 822 196 800 205" fill="#360a04" fill-opacity="0.97"/><polygon points="945 180 962 200 938 208" fill="#360a04" fill-opacity="0.92"/><polygon points="1030 165 1056 170 1040 190" fill="#360a04" fill-opacity="0.97"/><polygon points="1075 240 1092 236 1092 250" fill="#360a04" fill-opacity="0.82"/><polygon points="985 260 1000 262 992 270" fill="#360a04" fill-opacity="0.72"/></g>
<rect x="799" y="15" width="293" height="292" filter="url(#nzd3)" fill="#000"/>
<rect x="799" y="15" width="293" height="292" filter="url(#nzl3)" fill="#000"/>
<rect x="799" y="15" width="293" height="292" filter="url(#grain)" fill="#000"/>
<rect x="799" y="15" width="293" height="292" filter="url(#grainl)" fill="#000"/>
<g filter="url(#soft3)"><ellipse cx="870.0" cy="22.0" rx="14.8" ry="5.5" fill="#ffc040" fill-opacity="0.75" transform="rotate(-8 870.0 22.0)"/><ellipse cx="870.0" cy="22.0" rx="13.6" ry="4.2" fill="#fff2c4" fill-opacity="1" transform="rotate(-8 870.0 22.0)"/><ellipse cx="918.0" cy="205.0" rx="8.0" ry="7.2" fill="#ffc040" fill-opacity="0.75" transform="rotate(0 918.0 205.0)"/><ellipse cx="918.0" cy="205.0" rx="6.8" ry="6.0" fill="#fff2c4" fill-opacity="1" transform="rotate(0 918.0 205.0)"/><ellipse cx="952.0" cy="236.0" rx="4.6" ry="8.0" fill="#ffc040" fill-opacity="0.75" transform="rotate(10 952.0 236.0)"/><ellipse cx="952.0" cy="236.0" rx="3.4" ry="6.8" fill="#fff2c4" fill-opacity="1" transform="rotate(10 952.0 236.0)"/><ellipse cx="1079.0" cy="248.0" rx="9.7" ry="8.8" fill="#ffc040" fill-opacity="0.75" transform="rotate(30 1079.0 248.0)"/><ellipse cx="1079.0" cy="248.0" rx="8.5" ry="7.6" fill="#fff2c4" fill-opacity="1" transform="rotate(30 1079.0 248.0)"/><ellipse cx="1088.0" cy="262.0" rx="5.5" ry="8.0" fill="#ffc040" fill-opacity="0.75" transform="rotate(0 1088.0 262.0)"/><ellipse cx="1088.0" cy="262.0" rx="4.2" ry="6.8" fill="#fff2c4" fill-opacity="1" transform="rotate(0 1088.0 262.0)"/><ellipse cx="835.0" cy="168.0" rx="8.8" ry="4.2" fill="#ffc040" fill-opacity="0.75" transform="rotate(25 835.0 168.0)"/><ellipse cx="835.0" cy="168.0" rx="7.6" ry="3.0" fill="#fff2c4" fill-opacity="0.95" transform="rotate(25 835.0 168.0)"/><ellipse cx="980.0" cy="86.0" rx="5.0" ry="4.2" fill="#ffc040" fill-opacity="0.75" transform="rotate(0 980.0 86.0)"/><ellipse cx="980.0" cy="86.0" rx="3.8" ry="3.0" fill="#fff2c4" fill-opacity="1" transform="rotate(0 980.0 86.0)"/><ellipse cx="818.0" cy="279.0" rx="5.5" ry="4.6" fill="#ffc040" fill-opacity="0.75" transform="rotate(0 818.0 279.0)"/><ellipse cx="818.0" cy="279.0" rx="4.2" ry="3.4" fill="#fff2c4" fill-opacity="0.95" transform="rotate(0 818.0 279.0)"/><ellipse cx="830.0" cy="300.0" rx="6.3" ry="4.6" fill="#ffc040" fill-opacity="0.75" transform="rotate(0 830.0 300.0)"/><ellipse cx="830.0" cy="300.0" rx="5.1" ry="3.4" fill="#fff2c4" fill-opacity="0.95" transform="rotate(0 830.0 300.0)"/><ellipse cx="878.0" cy="300.0" rx="8.0" ry="5.5" fill="#ffc040" fill-opacity="0.75" transform="rotate(0 878.0 300.0)"/><ellipse cx="878.0" cy="300.0" rx="6.8" ry="4.2" fill="#fff2c4" fill-opacity="0.95" transform="rotate(0 878.0 300.0)"/><ellipse cx="916.0" cy="296.0" rx="5.5" ry="4.6" fill="#ffc040" fill-opacity="0.75" transform="rotate(0 916.0 296.0)"/><ellipse cx="916.0" cy="296.0" rx="4.2" ry="3.4" fill="#fff2c4" fill-opacity="0.95" transform="rotate(0 916.0 296.0)"/><ellipse cx="940.0" cy="203.0" rx="9.7" ry="4.6" fill="#ffc040" fill-opacity="0.75" transform="rotate(15 940.0 203.0)"/><ellipse cx="940.0" cy="203.0" rx="8.5" ry="3.4" fill="#fff2c4" fill-opacity="0.9" transform="rotate(15 940.0 203.0)"/><ellipse cx="968.0" cy="263.0" rx="4.6" ry="4.2" fill="#ffc040" fill-opacity="0.75" transform="rotate(0 968.0 263.0)"/><ellipse cx="968.0" cy="263.0" rx="3.4" ry="3.0" fill="#fff2c4" fill-opacity="0.9" transform="rotate(0 968.0 263.0)"/><ellipse cx="1012.0" cy="205.0" rx="5.5" ry="3.8" fill="#ffc040" fill-opacity="0.75" transform="rotate(0 1012.0 205.0)"/><ellipse cx="1012.0" cy="205.0" rx="4.2" ry="2.5" fill="#fff2c4" fill-opacity="0.85" transform="rotate(0 1012.0 205.0)"/><ellipse cx="893.0" cy="210.0" rx="5.5" ry="4.2" fill="#ffc040" fill-opacity="0.75" transform="rotate(0 893.0 210.0)"/><ellipse cx="893.0" cy="210.0" rx="4.2" ry="3.0" fill="#fff2c4" fill-opacity="0.85" transform="rotate(0 893.0 210.0)"/><ellipse cx="1043.0" cy="165.0" rx="5.5" ry="4.6" fill="#ffc040" fill-opacity="0.75" transform="rotate(0 1043.0 165.0)"/><ellipse cx="1043.0" cy="165.0" rx="4.2" ry="3.4" fill="#fff2c4" fill-opacity="0.85" transform="rotate(0 1043.0 165.0)"/><ellipse cx="1035.0" cy="150.0" rx="4.6" ry="3.8" fill="#ffc040" fill-opacity="0.75" transform="rotate(0 1035.0 150.0)"/><ellipse cx="1035.0" cy="150.0" rx="3.4" ry="2.5" fill="#fff2c4" fill-opacity="0.8" transform="rotate(0 1035.0 150.0)"/><ellipse cx="893.0" cy="62.0" rx="3.8" ry="3.8" fill="#ffc040" fill-opacity="0.75" transform="rotate(0 893.0 62.0)"/><ellipse cx="893.0" cy="62.0" rx="2.5" ry="2.5" fill="#fff2c4" fill-opacity="0.85" transform="rotate(0 893.0 62.0)"/><ellipse cx="923.0" cy="75.0" rx="3.8" ry="3.3" fill="#ffc040" fill-opacity="0.75" transform="rotate(0 923.0 75.0)"/><ellipse cx="923.0" cy="75.0" rx="2.5" ry="2.1" fill="#fff2c4" fill-opacity="0.8" transform="rotate(0 923.0 75.0)"/><ellipse cx="1069.0" cy="35.0" rx="4.6" ry="3.8" fill="#ffc040" fill-opacity="0.75" transform="rotate(0 1069.0 35.0)"/><ellipse cx="1069.0" cy="35.0" rx="3.4" ry="2.5" fill="#fff2c4" fill-opacity="0.85" transform="rotate(0 1069.0 35.0)"/><ellipse cx="917.5" cy="75.0" rx="1.8" ry="1.6" fill="#ffc444" fill-opacity="0.8539509746032312" transform="rotate(22.603590753769808 917.5 75.0)"/><ellipse cx="911.6" cy="213.0" rx="2.3" ry="2.4" fill="#ffc444" fill-opacity="0.7457099831088427" transform="rotate(37.947536222638966 911.6 213.0)"/><ellipse cx="977.4" cy="79.8" rx="2.9" ry="1.7" fill="#ffc444" fill-opacity="0.7052447404309874" transform="rotate(61.41319348762316 977.4 79.8)"/><ellipse cx="845.6" cy="206.3" rx="2.8" ry="1.7" fill="#ffc444" fill-opacity="0.9287436268230675" transform="rotate(47.58445502045733 845.6 206.3)"/><ellipse cx="1023.5" cy="151.7" rx="2.1" ry="1.6" fill="#ffc444" fill-opacity="0.5530479175603569" transform="rotate(18.338797037510794 1023.5 151.7)"/><ellipse cx="1085.0" cy="170.3" rx="2.2" ry="2.4" fill="#ffc444" fill-opacity="0.7922036512574566" transform="rotate(87.9040696070984 1085.0 170.3)"/><ellipse cx="904.3" cy="79.5" rx="2.9" ry="1.5" fill="#ffc444" fill-opacity="0.8667356444648344" transform="rotate(53.587576920063995 904.3 79.5)"/><ellipse cx="1083.1" cy="287.0" rx="2.5" ry="1.3" fill="#ffc444" fill-opacity="0.5593215381240464" transform="rotate(42.63541930577027 1083.1 287.0)"/><ellipse cx="1036.4" cy="41.1" rx="2.1" ry="1.4" fill="#ffc444" fill-opacity="0.6739227700751748" transform="rotate(0.5101148359144914 1036.4 41.1)"/><ellipse cx="896.3" cy="167.2" rx="1.8" ry="2.2" fill="#ffc444" fill-opacity="0.5721599627746156" transform="rotate(19.02916617592833 896.3 167.2)"/><ellipse cx="875.7" cy="133.2" rx="2.6" ry="1.7" fill="#ffc444" fill-opacity="0.827999563444088" transform="rotate(82.99794521200353 875.7 133.2)"/><ellipse cx="839.4" cy="264.2" rx="2.4" ry="2.2" fill="#ffc444" fill-opacity="0.793213826242755" transform="rotate(36.74695157403517 839.4 264.2)"/><ellipse cx="829.6" cy="58.9" rx="1.8" ry="1.5" fill="#ffc444" fill-opacity="0.6082045791272339" transform="rotate(18.682138914158653 829.6 58.9)"/><ellipse cx="962.4" cy="237.6" rx="2.7" ry="2.3" fill="#ffc444" fill-opacity="0.5968853081997219" transform="rotate(74.01136169249739 962.4 237.6)"/><ellipse cx="855.2" cy="38.6" rx="1.9" ry="2.0" fill="#ffc444" fill-opacity="0.5690710584444849" transform="rotate(19.468994095382723 855.2 38.6)"/><ellipse cx="916.1" cy="252.4" rx="2.1" ry="1.8" fill="#ffc444" fill-opacity="0.6983906493615147" transform="rotate(8.339787917660841 916.1 252.4)"/><ellipse cx="1053.6" cy="281.1" rx="2.6" ry="1.8" fill="#ffc444" fill-opacity="0.7275895125574166" transform="rotate(28.02768868820654 1053.6 281.1)"/><ellipse cx="989.1" cy="204.2" rx="2.0" ry="2.3" fill="#ffc444" fill-opacity="0.8382900962648775" transform="rotate(19.674356347019923 989.1 204.2)"/><ellipse cx="1033.5" cy="210.2" rx="1.9" ry="1.7" fill="#ffc444" fill-opacity="0.8506025015088674" transform="rotate(7.211438040636592 1033.5 210.2)"/><ellipse cx="927.2" cy="292.7" rx="1.9" ry="1.9" fill="#ffc444" fill-opacity="0.912882261528992" transform="rotate(78.71337465087784 927.2 292.7)"/><ellipse cx="1027.4" cy="170.0" rx="2.9" ry="1.6" fill="#ffc444" fill-opacity="0.9026315489139627" transform="rotate(36.839921527581424 1027.4 170.0)"/><ellipse cx="990.3" cy="192.1" rx="1.9" ry="2.1" fill="#ffc444" fill-opacity="0.7917105849465929" transform="rotate(88.85632124304482 990.3 192.1)"/><ellipse cx="992.7" cy="143.4" rx="2.1" ry="2.4" fill="#ffc444" fill-opacity="0.6881530344614724" transform="rotate(60.03551782649776 992.7 143.4)"/><ellipse cx="1000.6" cy="292.9" rx="1.8" ry="2.1" fill="#ffc444" fill-opacity="0.6186635309144632" transform="rotate(57.605794470671434 1000.6 292.9)"/><ellipse cx="989.9" cy="229.8" rx="2.8" ry="1.6" fill="#ffc444" fill-opacity="0.8942021634034883" transform="rotate(31.09827271916024 989.9 229.8)"/><ellipse cx="916.4" cy="50.0" rx="2.3" ry="1.3" fill="#ffc444" fill-opacity="0.6742139159140065" transform="rotate(60.507046565763595 916.4 50.0)"/><ellipse cx="1015.8" cy="65.7" rx="2.7" ry="1.8" fill="#ffc444" fill-opacity="0.632118625235279" transform="rotate(67.37192374937756 1015.8 65.7)"/><ellipse cx="1013.3" cy="151.4" rx="2.3" ry="2.0" fill="#ffc444" fill-opacity="0.8026780808881856" transform="rotate(68.85374482374209 1013.3 151.4)"/><ellipse cx="1021.9" cy="75.1" rx="1.5" ry="1.4" fill="#ffc444" fill-opacity="0.6730004312860115" transform="rotate(52.24598834571598 1021.9 75.1)"/><ellipse cx="1076.9" cy="136.8" rx="2.1" ry="2.0" fill="#ffc444" fill-opacity="0.929325129720318" transform="rotate(52.921022264228185 1076.9 136.8)"/><ellipse cx="886.4" cy="233.6" rx="3.0" ry="2.3" fill="#ffc444" fill-opacity="0.709378617373849" transform="rotate(15.50276394063361 886.4 233.6)"/><ellipse cx="933.8" cy="54.6" rx="1.7" ry="1.8" fill="#ffc444" fill-opacity="0.8900889596183289" transform="rotate(63.16566649833325 933.8 54.6)"/><ellipse cx="921.6" cy="290.0" rx="1.8" ry="1.6" fill="#ffc444" fill-opacity="0.6594311876987281" transform="rotate(51.53972972922874 921.6 290.0)"/><ellipse cx="1056.5" cy="127.1" rx="2.7" ry="2.4" fill="#ffc444" fill-opacity="0.7416693972730563" transform="rotate(80.3636475378769 1056.5 127.1)"/><ellipse cx="1056.3" cy="153.8" rx="1.8" ry="1.4" fill="#ffc444" fill-opacity="0.645829209676935" transform="rotate(41.388486378533706 1056.3 153.8)"/><ellipse cx="806.4" cy="112.0" rx="2.2" ry="1.7" fill="#ffc444" fill-opacity="0.8434910416720525" transform="rotate(51.265615234201114 806.4 112.0)"/><ellipse cx="954.4" cy="198.5" rx="2.4" ry="1.8" fill="#ffc444" fill-opacity="0.6163936917071117" transform="rotate(52.932862436767515 954.4 198.5)"/><ellipse cx="815.6" cy="28.3" rx="2.0" ry="1.6" fill="#ffc444" fill-opacity="0.8522075870399344" transform="rotate(14.26650602672282 815.6 28.3)"/><ellipse cx="927.6" cy="216.2" rx="2.1" ry="2.3" fill="#ffc444" fill-opacity="0.5968669339557338" transform="rotate(15.465321649254326 927.6 216.2)"/><ellipse cx="880.8" cy="122.1" rx="2.3" ry="1.5" fill="#ffc444" fill-opacity="0.7736001645733119" transform="rotate(63.16375070684712 880.8 122.1)"/><ellipse cx="988.6" cy="250.3" rx="1.6" ry="2.1" fill="#ffc444" fill-opacity="0.8398991648128626" transform="rotate(74.25654830281283 988.6 250.3)"/><ellipse cx="845.0" cy="42.7" rx="2.6" ry="2.1" fill="#ffc444" fill-opacity="0.616625542503323" transform="rotate(78.37849512998253 845.0 42.7)"/><ellipse cx="1007.0" cy="193.3" rx="2.6" ry="2.0" fill="#ffc444" fill-opacity="0.6860367559587204" transform="rotate(4.753038587999389 1007.0 193.3)"/><ellipse cx="899.9" cy="196.1" rx="1.8" ry="1.5" fill="#ffc444" fill-opacity="0.5944543395834141" transform="rotate(44.690167738952276 899.9 196.1)"/><ellipse cx="1078.5" cy="226.2" rx="1.5" ry="1.8" fill="#ffc444" fill-opacity="0.8228487694063207" transform="rotate(8.72697122729386 1078.5 226.2)"/><ellipse cx="1029.3" cy="85.1" rx="2.2" ry="2.3" fill="#ffc444" fill-opacity="0.899678492219206" transform="rotate(7.216096363062011 1029.3 85.1)"/><ellipse cx="1035.7" cy="267.5" rx="2.8" ry="2.2" fill="#ffc444" fill-opacity="0.6992463864475553" transform="rotate(28.205671854590566 1035.7 267.5)"/><ellipse cx="815.0" cy="131.0" rx="2.0" ry="1.5" fill="#ffc444" fill-opacity="0.9274574011900709" transform="rotate(79.2860389926134 815.0 131.0)"/><ellipse cx="1033.6" cy="102.3" rx="1.7" ry="1.8" fill="#ffc444" fill-opacity="0.5789202929743967" transform="rotate(31.836783772378478 1033.6 102.3)"/><ellipse cx="975.5" cy="108.4" rx="2.0" ry="1.7" fill="#ffc444" fill-opacity="0.8816185652278141" transform="rotate(3.111013352118438 975.5 108.4)"/><ellipse cx="1034.8" cy="191.9" rx="2.3" ry="2.1" fill="#ffc444" fill-opacity="0.5574165754428535" transform="rotate(77.6786639876244 1034.8 191.9)"/><ellipse cx="884.6" cy="131.9" rx="2.3" ry="2.4" fill="#ffc444" fill-opacity="0.6411317502682049" transform="rotate(47.17075159076738 884.6 131.9)"/><ellipse cx="1085.6" cy="78.5" rx="2.5" ry="1.5" fill="#ffc444" fill-opacity="0.7768725427805081" transform="rotate(39.12402436426806 1085.6 78.5)"/><ellipse cx="963.8" cy="26.2" rx="1.8" ry="2.4" fill="#ffc444" fill-opacity="0.621899037448348" transform="rotate(27.04242226119672 963.8 26.2)"/><ellipse cx="1084.9" cy="90.6" rx="2.4" ry="1.8" fill="#ffc444" fill-opacity="0.5512878564973707" transform="rotate(57.921405831009416 1084.9 90.6)"/><ellipse cx="945.9" cy="285.0" rx="3.0" ry="1.4" fill="#ffc444" fill-opacity="0.7852911658087861" transform="rotate(30.71864008247807 945.9 285.0)"/><ellipse cx="839.8" cy="279.3" rx="1.6" ry="1.9" fill="#ffc444" fill-opacity="0.6430483452488022" transform="rotate(51.559367281329685 839.8 279.3)"/><ellipse cx="861.6" cy="261.6" rx="2.2" ry="1.5" fill="#ffc444" fill-opacity="0.8702582602905578" transform="rotate(12.115243396070479 861.6 261.6)"/><ellipse cx="1013.1" cy="88.8" rx="2.8" ry="1.6" fill="#ffc444" fill-opacity="0.810589213716465" transform="rotate(60.50269053926006 1013.1 88.8)"/><ellipse cx="946.3" cy="266.1" rx="2.3" ry="1.6" fill="#ffc444" fill-opacity="0.7597960776888582" transform="rotate(61.83878193385272 946.3 266.1)"/><ellipse cx="922.4" cy="167.4" rx="1.6" ry="1.6" fill="#ffc444" fill-opacity="0.8568474697011401" transform="rotate(30.0770161644567 922.4 167.4)"/><ellipse cx="856.1" cy="244.1" rx="1.5" ry="1.3" fill="#ffc444" fill-opacity="0.5748613754367563" transform="rotate(17.06610868326394 856.1 244.1)"/><ellipse cx="816.3" cy="101.5" rx="1.9" ry="2.4" fill="#ffc444" fill-opacity="0.651966533095051" transform="rotate(51.952874196531624 816.3 101.5)"/><ellipse cx="886.5" cy="224.8" rx="1.7" ry="1.7" fill="#ffc444" fill-opacity="0.6069169989126746" transform="rotate(27.4553721232493 886.5 224.8)"/><ellipse cx="876.5" cy="146.9" rx="2.9" ry="1.3" fill="#ffc444" fill-opacity="0.6426399294767867" transform="rotate(54.74399668759696 876.5 146.9)"/><ellipse cx="1040.8" cy="126.2" rx="2.0" ry="1.7" fill="#ffc444" fill-opacity="0.7001065291314043" transform="rotate(48.44833652533245 1040.8 126.2)"/><ellipse cx="1025.0" cy="24.1" rx="1.8" ry="1.6" fill="#ffc444" fill-opacity="0.7982922502038461" transform="rotate(68.44847600703825 1025.0 24.1)"/><ellipse cx="822.2" cy="18.2" rx="1.7" ry="1.8" fill="#ffc444" fill-opacity="0.8267500902534113" transform="rotate(87.5393231617365 822.2 18.2)"/><ellipse cx="907.8" cy="138.8" rx="2.8" ry="2.2" fill="#ffc444" fill-opacity="0.9117232282299436" transform="rotate(23.65411050198424 907.8 138.8)"/><ellipse cx="1005.7" cy="248.4" rx="1.9" ry="1.6" fill="#ffc444" fill-opacity="0.9221285165346579" transform="rotate(19.77355483200669 1005.7 248.4)"/></g>
</g>
<rect x="27.5" y="25" width="28.0" height="25" fill="#b98a5a" fill-opacity="0.8"/>
<text x="43.3" y="47.6" font-size="27.5" font-weight="bold" fill="#fff" text-anchor="middle">A</text>
<rect x="420.7" y="22.5" width="26.69999999999999" height="23.5" fill="#b98a5a" fill-opacity="0.8"/>
<text x="435.3" y="43.4" font-size="27" font-weight="bold" fill="#fff" text-anchor="middle">B</text>
<rect x="811.4" y="25" width="28.399999999999977" height="25.6" fill="#b98a5a" fill-opacity="0.8"/>
<text x="826.2" y="47.5" font-size="27" font-weight="bold" fill="#fff" text-anchor="middle">C</text>
<rect x="43.9" y="252.4" width="64.19999999999999" height="34.49999999999997" fill="#fff"/>
<text x="75.5" y="269.2" font-size="16" fill="#111" stroke="#111" stroke-width="0.3" text-anchor="middle">200 nm</text>
<rect x="49.5" y="276" width="51.5" height="4.5" fill="#0a0a0a"/>
<rect x="434.9" y="252.7" width="64.5" height="34.19999999999999" fill="#fff"/>
<text x="467" y="269.5" font-size="16" fill="#111" stroke="#111" stroke-width="0.3" text-anchor="middle">200 nm</text>
<rect x="441" y="276" width="51.80000000000001" height="5.699999999999989" fill="#0a0a0a"/>
<rect x="827.9" y="252.7" width="63.89999999999998" height="34.19999999999999" fill="#fff"/>
<text x="859.4" y="269.1" font-size="16" fill="#111" stroke="#111" stroke-width="0.3" text-anchor="middle">200 nm</text>
<rect x="833.2" y="276" width="51.799999999999955" height="4.300000000000011" fill="#0a0a0a"/>
<rect x="334.5" y="80" width="17.3" height="180" fill="url(#cbg)"/>
<rect x="723.3" y="82" width="16.7" height="180" fill="url(#cbg)"/>
<rect x="1123" y="86" width="17.7" height="178.6" fill="url(#cbg)"/>
<text x="355.6" y="60.8" font-size="21" fill="#111" stroke="#111" stroke-width="0.3" text-anchor="middle">1.95 nm</text>
<text x="355.6" y="286.5" font-size="21" fill="#111" stroke="#111" stroke-width="0.3" text-anchor="middle">0.00 nm</text>
<text x="746.5" y="59.2" font-size="21" fill="#111" stroke="#111" stroke-width="0.3" text-anchor="middle">3.92 nm</text>
<text x="747" y="284.9" font-size="21" fill="#111" stroke="#111" stroke-width="0.3" text-anchor="middle">0.00 nm</text>
<text x="1146.8" y="63.3" font-size="21" fill="#111" stroke="#111" stroke-width="0.3" text-anchor="middle">3.75 nm</text>
<text x="1146.8" y="287.4" font-size="21" fill="#111" stroke="#111" stroke-width="0.3" text-anchor="middle">0.00 nm</text>
<defs><filter id="sp" x="-10%" y="-10%" width="120%" height="120%"><feGaussianBlur stdDeviation="0.6"/></filter>
<linearGradient id="slabtop" x1="0" y1="0" x2="0" y2="1"><stop offset="0" stop-color="#ffffff"/><stop offset="1" stop-color="#faf9fa"/></linearGradient>
<linearGradient id="slabf" x1="0" y1="0" x2="0" y2="1"><stop offset="0" stop-color="#bcb9bc"/><stop offset="1" stop-color="#b4b1b4"/></linearGradient></defs>
<rect x="13.9" y="325.3" width="588.9" height="400.4" fill="none" stroke="#1a1a1a" stroke-width="2"/>
<text x="33.8" y="359.8" font-size="26" font-weight="bold" fill="#111">D</text>
<polygon points="41.8,429.2 231.3,429.2 203.3,362 69.8,362" fill="url(#slabtop)"/><polygon points="41.8,429.2 231.3,429.2 228.5,448.5 44.599999999999994,448.5" fill="url(#slabf)"/>
<g filter="url(#sp)"><polyline points="109.6,357.5 108.4,358.2 106.8,359.1 104.9,360.2 102.8,361.4 100.5,362.7 98.2,364.0" fill="none" stroke="#e8902a" stroke-width="9.7" stroke-linecap="round" stroke-linejoin="round"/><polyline points="98.2,364.1 95.8,365.4 93.6,366.8 91.5,368.1 89.6,369.3 88.0,370.5 86.3,371.7" fill="none" stroke="#e8902a" stroke-width="10.6" stroke-linecap="round" stroke-linejoin="round"/><polyline points="86.3,371.8 84.7,373.0 83.2,374.1 81.7,375.3 80.3,376.5 79.0,377.7 77.8,378.8" fill="none" stroke="#e8902a" stroke-width="11.4" stroke-linecap="round" stroke-linejoin="round"/><polyline points="77.8,378.9 76.7,380.0 75.8,381.0 75.0,382.1 74.2,383.1 73.6,384.0 73.0,385.0" fill="none" stroke="#e8902a" stroke-width="12.1" stroke-linecap="round" stroke-linejoin="round"/><polyline points="73.0,385.0 72.6,385.9 72.2,386.8 72.0,387.8 72.0,388.7 72.1,389.7 72.3,390.7" fill="none" stroke="#e8902a" stroke-width="12.7" stroke-linecap="round" stroke-linejoin="round"/><polyline points="72.3,390.7 72.7,391.8 73.3,392.8 74.0,394.0 74.8,395.1 75.7,396.2 76.8,397.4" fill="none" stroke="#e8902a" stroke-width="13.4" stroke-linecap="round" stroke-linejoin="round"/><polyline points="76.8,397.4 78.1,398.5 79.4,399.6 80.9,400.6 82.5,401.6 84.3,402.5 86.1,403.3" fill="none" stroke="#e8902a" stroke-width="14.1" stroke-linecap="round" stroke-linejoin="round"/><polyline points="86.1,403.4 88.2,404.2 90.3,405.1 92.6,405.9 95.0,406.6 97.5,407.3 100.2,408.0" fill="none" stroke="#e8902a" stroke-width="14.7" stroke-linecap="round" stroke-linejoin="round"/><polyline points="100.2,408.0 103.0,408.6 105.9,409.2 109.1,409.7 112.5,410.1 116.1,410.6 119.9,411.0" fill="none" stroke="#e8902a" stroke-width="15.1" stroke-linecap="round" stroke-linejoin="round"/><polyline points="119.9,411.0 123.8,411.4 127.7,411.7 131.6,411.9 135.4,412.0 139.1,412.1 142.6,412.0" fill="none" stroke="#e8902a" stroke-width="15.4" stroke-linecap="round" stroke-linejoin="round"/><polyline points="142.6,412.0 146.0,411.9 149.5,411.6 152.9,411.3 156.3,410.9 159.6,410.4 162.8,409.9" fill="none" stroke="#e8902a" stroke-width="15.3" stroke-linecap="round" stroke-linejoin="round"/><polyline points="162.8,409.8 165.9,409.2 168.8,408.6 171.6,407.9 174.2,407.1 176.6,406.3 178.9,405.3" fill="none" stroke="#e8902a" stroke-width="14.9" stroke-linecap="round" stroke-linejoin="round"/><polyline points="178.9,405.3 181.1,404.3 183.2,403.2 185.1,402.1 186.9,401.0 188.5,399.8 190.0,398.7" fill="none" stroke="#e8902a" stroke-width="14.3" stroke-linecap="round" stroke-linejoin="round"/><polyline points="190.0,398.6 191.3,397.5 192.5,396.4 193.6,395.4 194.5,394.4 195.2,393.4 195.8,392.4" fill="none" stroke="#e8902a" stroke-width="13.6" stroke-linecap="round" stroke-linejoin="round"/><polyline points="195.8,392.3 196.2,391.3 196.6,390.3 196.7,389.3 196.8,388.3 196.8,387.2 196.6,386.2" fill="none" stroke="#e8902a" stroke-width="12.9" stroke-linecap="round" stroke-linejoin="round"/><polyline points="196.6,386.1 196.3,385.1 195.9,383.9 195.4,382.8 194.7,381.6 193.9,380.5 193.0,379.3" fill="none" stroke="#e8902a" stroke-width="12.2" stroke-linecap="round" stroke-linejoin="round"/><polyline points="193.0,379.3 192.0,378.2 190.9,377.1 189.7,376.1 188.5,375.1 187.1,374.2 185.7,373.3" fill="none" stroke="#e8902a" stroke-width="11.5" stroke-linecap="round" stroke-linejoin="round"/><polyline points="185.7,373.3 184.2,372.5 182.5,371.7 180.8,370.9 179.0,370.2 177.2,369.5 175.2,368.9" fill="none" stroke="#e8902a" stroke-width="10.9" stroke-linecap="round" stroke-linejoin="round"/><polyline points="175.2,368.8 173.2,368.2 171.1,367.7 169.0,367.2 166.7,366.8 164.3,366.3 161.9,366.0" fill="none" stroke="#e8902a" stroke-width="10.5" stroke-linecap="round" stroke-linejoin="round"/><polyline points="161.9,366.0 159.4,365.6 156.8,365.4 154.3,365.1 151.7,364.9 149.2,364.8 146.7,364.6" fill="none" stroke="#e8902a" stroke-width="10.3" stroke-linecap="round" stroke-linejoin="round"/><polyline points="146.7,364.6 144.2,364.5 141.7,364.5 139.1,364.4 136.5,364.5 134.0,364.5 131.4,364.6" fill="none" stroke="#e8902a" stroke-width="10.2" stroke-linecap="round" stroke-linejoin="round"/><polyline points="131.4,364.6 129.0,364.8 126.6,365.0 124.4,365.3 122.2,365.7 120.2,366.1 118.3,366.6" fill="none" stroke="#e8902a" stroke-width="10.3" stroke-linecap="round" stroke-linejoin="round"/><polyline points="118.3,366.7 116.4,367.3 114.7,367.9 113.0,368.7 111.3,369.4 109.8,370.3 108.4,371.1" fill="none" stroke="#e8902a" stroke-width="10.6" stroke-linecap="round" stroke-linejoin="round"/><polyline points="108.4,371.1 107.1,372.0 105.9,372.8 104.9,373.7 103.9,374.7 103.0,375.7 102.2,376.7" fill="none" stroke="#e8902a" stroke-width="11.2" stroke-linecap="round" stroke-linejoin="round"/><polyline points="102.2,376.8 101.5,377.9 100.9,378.9 100.5,380.0 100.1,381.1 99.9,382.1 99.8,383.1" fill="none" stroke="#e8902a" stroke-width="11.9" stroke-linecap="round" stroke-linejoin="round"/><polyline points="99.8,383.1 99.9,384.1 100.1,385.1 100.5,386.1 100.9,387.1 101.5,388.0 102.2,389.0" fill="none" stroke="#e8902a" stroke-width="12.5" stroke-linecap="round" stroke-linejoin="round"/><polyline points="102.2,389.0 103.0,389.9 103.9,390.8 104.9,391.6 105.9,392.3 107.2,393.0 108.5,393.7" fill="none" stroke="#e8902a" stroke-width="13.1" stroke-linecap="round" stroke-linejoin="round"/><polyline points="108.5,393.7 110.0,394.3 111.6,394.9 113.3,395.4 115.1,395.9 116.9,396.3 118.7,396.7" fill="none" stroke="#e8902a" stroke-width="13.6" stroke-linecap="round" stroke-linejoin="round"/><polyline points="118.7,396.8 120.5,397.1 122.2,397.5 124.0,397.7 125.8,398.0 127.5,398.2 129.3,398.4" fill="none" stroke="#e8902a" stroke-width="13.8" stroke-linecap="round" stroke-linejoin="round"/><polyline points="129.3,398.4 131.2,398.5 133.0,398.6 134.9,398.6 136.8,398.6 138.7,398.6 140.6,398.5" fill="none" stroke="#e8902a" stroke-width="13.9" stroke-linecap="round" stroke-linejoin="round"/><polyline points="140.6,398.5 142.6,398.4 144.7,398.2 146.8,398.0 149.0,397.7 151.2,397.5 153.4,397.1" fill="none" stroke="#e8902a" stroke-width="13.8" stroke-linecap="round" stroke-linejoin="round"/><polyline points="153.4,397.1 155.5,396.8 157.4,396.3 159.3,395.9 161.0,395.4 162.5,394.9 164.0,394.2" fill="none" stroke="#e8902a" stroke-width="13.6" stroke-linecap="round" stroke-linejoin="round"/><polyline points="164.0,394.2 165.3,393.5 166.6,392.8 167.8,392.0 168.9,391.2 169.8,390.4 170.7,389.7" fill="none" stroke="#e8902a" stroke-width="13.2" stroke-linecap="round" stroke-linejoin="round"/><polyline points="170.7,389.6 171.5,388.9 172.2,388.2 172.7,387.6 173.2,386.9 173.5,386.3 173.7,385.7" fill="none" stroke="#e8902a" stroke-width="12.7" stroke-linecap="round" stroke-linejoin="round"/><polyline points="173.7,385.7 173.9,385.1 173.9,384.5 173.9,383.9 173.7,383.3 173.5,382.7 173.2,382.1" fill="none" stroke="#e8902a" stroke-width="12.3" stroke-linecap="round" stroke-linejoin="round"/><polyline points="173.2,382.1 172.8,381.4 172.2,380.8 171.6,380.1 170.9,379.5 170.1,378.8 169.2,378.2" fill="none" stroke="#e8902a" stroke-width="11.9" stroke-linecap="round" stroke-linejoin="round"/><polyline points="169.2,378.1 168.2,377.5 167.2,376.9 166.1,376.4 165.0,375.9 163.8,375.5 162.5,375.1" fill="none" stroke="#e8902a" stroke-width="11.5" stroke-linecap="round" stroke-linejoin="round"/><polyline points="162.5,375.0 161.1,374.7 159.7,374.3 158.2,374.0 156.6,373.7 155.1,373.4 153.6,373.2" fill="none" stroke="#e8902a" stroke-width="11.2" stroke-linecap="round" stroke-linejoin="round"/><polyline points="153.6,373.2 152.1,373.0 150.8,372.8 149.5,372.7 148.2,372.6 146.9,372.5 145.6,372.5" fill="none" stroke="#e8902a" stroke-width="11.1" stroke-linecap="round" stroke-linejoin="round"/><polyline points="145.6,372.5 144.4,372.5 143.2,372.5 142.0,372.5 140.8,372.6 139.7,372.7 138.5,372.8" fill="none" stroke="#e8902a" stroke-width="11.1" stroke-linecap="round" stroke-linejoin="round"/><polyline points="138.5,372.8 137.4,373.0 136.3,373.2 135.2,373.5 134.1,373.7 133.0,374.0 131.9,374.3" fill="none" stroke="#e8902a" stroke-width="11.2" stroke-linecap="round" stroke-linejoin="round"/><polyline points="131.9,374.4 130.9,374.7 130.0,375.1 129.1,375.5 128.4,375.9 127.6,376.4 127.0,376.9" fill="none" stroke="#e8902a" stroke-width="11.4" stroke-linecap="round" stroke-linejoin="round"/><polyline points="127.0,376.9 126.3,377.5 125.7,378.1 125.2,378.7 124.8,379.3 124.4,379.9 124.1,380.5" fill="none" stroke="#e8902a" stroke-width="11.7" stroke-linecap="round" stroke-linejoin="round"/><polyline points="124.1,380.6 123.9,381.1 123.9,381.7 123.9,382.2 124.1,382.7 124.4,383.2 124.8,383.7" fill="none" stroke="#e8902a" stroke-width="12.1" stroke-linecap="round" stroke-linejoin="round"/><polyline points="124.8,383.7 125.2,384.2 125.7,384.6 126.3,385.1 127.0,385.5 127.6,385.8 128.4,386.2" fill="none" stroke="#e8902a" stroke-width="12.4" stroke-linecap="round" stroke-linejoin="round"/><polyline points="128.4,386.2 129.2,386.5 130.1,386.8 131.0,387.0 132.1,387.2 133.2,387.4 134.3,387.6" fill="none" stroke="#e8902a" stroke-width="12.6" stroke-linecap="round" stroke-linejoin="round"/><polyline points="134.3,387.6 135.4,387.7 136.5,387.8 137.5,387.8 138.5,387.8 139.5,387.7 140.6,387.6" fill="none" stroke="#e8902a" stroke-width="12.7" stroke-linecap="round" stroke-linejoin="round"/><polyline points="140.6,387.6 141.7,387.4 142.7,387.1 143.8,386.8 144.8,386.5 145.7,386.2 146.5,385.8" fill="none" stroke="#e8902a" stroke-width="12.6" stroke-linecap="round" stroke-linejoin="round"/><polyline points="146.5,385.8 147.2,385.5 147.7,385.1 148.1,384.8 148.4,384.4 148.6,384.0 148.7,383.5" fill="none" stroke="#e8902a" stroke-width="12.4" stroke-linecap="round" stroke-linejoin="round"/><polyline points="148.7,383.5 148.7,383.1 148.7,382.6 148.5,382.2 148.3,381.8 148.0,381.4 147.7,381.1" fill="none" stroke="#e8902a" stroke-width="12.1" stroke-linecap="round" stroke-linejoin="round"/><polyline points="147.7,381.0 147.3,380.7 146.6,380.5 145.9,380.2 145.0,380.0 144.2,379.8 143.3,379.6" fill="none" stroke="#e8902a" stroke-width="11.9" stroke-linecap="round" stroke-linejoin="round"/><polyline points="143.3,379.6 142.4,379.4 141.7,379.2 141.0,379.1 140.6,379.0" fill="none" stroke="#e8902a" stroke-width="11.8" stroke-linecap="round" stroke-linejoin="round"/><polyline points="109.6,356.5 108.4,357.2 106.8,358.1 104.9,359.2 102.8,360.4 100.5,361.7 98.2,363.0" fill="none" stroke="#f6a93a" stroke-width="8.2" stroke-linecap="round" stroke-linejoin="round"/><polyline points="98.2,363.0 95.8,364.4 93.6,365.7 91.5,367.1 89.6,368.3 88.0,369.5 86.3,370.7" fill="none" stroke="#f6a93a" stroke-width="8.9" stroke-linecap="round" stroke-linejoin="round"/><polyline points="86.3,370.6 84.7,371.8 83.2,373.0 81.7,374.2 80.3,375.4 79.0,376.5 77.8,377.7" fill="none" stroke="#f6a93a" stroke-width="9.5" stroke-linecap="round" stroke-linejoin="round"/><polyline points="77.8,377.7 76.7,378.8 75.8,379.8 75.0,380.9 74.2,381.9 73.6,382.8 73.0,383.8" fill="none" stroke="#f6a93a" stroke-width="10.2" stroke-linecap="round" stroke-linejoin="round"/><polyline points="73.0,383.7 72.6,384.7 72.2,385.6 72.0,386.5 72.0,387.4 72.1,388.4 72.3,389.4" fill="none" stroke="#f6a93a" stroke-width="10.7" stroke-linecap="round" stroke-linejoin="round"/><polyline points="72.3,389.4 72.7,390.4 73.3,391.5 74.0,392.6 74.8,393.8 75.7,394.9 76.8,396.0" fill="none" stroke="#f6a93a" stroke-width="11.3" stroke-linecap="round" stroke-linejoin="round"/><polyline points="76.8,396.0 78.1,397.1 79.4,398.2 80.9,399.2 82.5,400.1 84.3,401.0 86.1,401.9" fill="none" stroke="#f6a93a" stroke-width="11.9" stroke-linecap="round" stroke-linejoin="round"/><polyline points="86.1,401.9 88.2,402.8 90.3,403.6 92.6,404.4 95.0,405.1 97.5,405.8 100.2,406.5" fill="none" stroke="#f6a93a" stroke-width="12.4" stroke-linecap="round" stroke-linejoin="round"/><polyline points="100.2,406.5 103.0,407.1 105.9,407.6 109.1,408.1 112.5,408.6 116.1,409.1 119.9,409.5" fill="none" stroke="#f6a93a" stroke-width="12.7" stroke-linecap="round" stroke-linejoin="round"/><polyline points="119.9,409.5 123.8,409.8 127.7,410.1 131.6,410.3 135.4,410.5 139.1,410.5 142.6,410.5" fill="none" stroke="#f6a93a" stroke-width="12.9" stroke-linecap="round" stroke-linejoin="round"/><polyline points="142.6,410.5 146.0,410.3 149.5,410.1 152.9,409.8 156.3,409.4 159.6,408.9 162.8,408.3" fill="none" stroke="#f6a93a" stroke-width="12.8" stroke-linecap="round" stroke-linejoin="round"/><polyline points="162.8,408.3 165.9,407.7 168.8,407.1 171.6,406.4 174.2,405.6 176.6,404.8 178.9,403.8" fill="none" stroke="#f6a93a" stroke-width="12.5" stroke-linecap="round" stroke-linejoin="round"/><polyline points="178.9,403.9 181.1,402.9 183.2,401.8 185.1,400.7 186.9,399.5 188.5,398.4 190.0,397.2" fill="none" stroke="#f6a93a" stroke-width="12.0" stroke-linecap="round" stroke-linejoin="round"/><polyline points="190.0,397.2 191.3,396.1 192.5,395.1 193.6,394.0 194.5,393.0 195.2,392.0 195.8,391.0" fill="none" stroke="#f6a93a" stroke-width="11.4" stroke-linecap="round" stroke-linejoin="round"/><polyline points="195.8,391.0 196.2,390.0 196.6,389.0 196.7,388.0 196.8,387.0 196.8,386.0 196.6,384.9" fill="none" stroke="#f6a93a" stroke-width="10.8" stroke-linecap="round" stroke-linejoin="round"/><polyline points="196.6,384.9 196.3,383.8 195.9,382.7 195.4,381.6 194.7,380.4 193.9,379.3 193.0,378.1" fill="none" stroke="#f6a93a" stroke-width="10.2" stroke-linecap="round" stroke-linejoin="round"/><polyline points="193.0,378.1 192.0,377.0 190.9,375.9 189.7,374.9 188.5,374.0 187.1,373.1 185.7,372.2" fill="none" stroke="#f6a93a" stroke-width="9.6" stroke-linecap="round" stroke-linejoin="round"/><polyline points="185.7,372.2 184.2,371.4 182.5,370.6 180.8,369.8 179.0,369.1 177.2,368.4 175.2,367.8" fill="none" stroke="#f6a93a" stroke-width="9.1" stroke-linecap="round" stroke-linejoin="round"/><polyline points="175.2,367.8 173.2,367.2 171.1,366.7 169.0,366.2 166.7,365.7 164.3,365.3 161.9,364.9" fill="none" stroke="#f6a93a" stroke-width="8.8" stroke-linecap="round" stroke-linejoin="round"/><polyline points="161.9,364.9 159.4,364.6 156.8,364.3 154.3,364.1 151.7,363.9 149.2,363.7 146.7,363.6" fill="none" stroke="#f6a93a" stroke-width="8.6" stroke-linecap="round" stroke-linejoin="round"/><polyline points="146.7,363.6 144.2,363.5 141.7,363.5 139.1,363.4 136.5,363.4 134.0,363.5 131.4,363.6" fill="none" stroke="#f6a93a" stroke-width="8.5" stroke-linecap="round" stroke-linejoin="round"/><polyline points="131.4,363.6 129.0,363.7 126.6,364.0 124.4,364.3 122.2,364.6 120.2,365.1 118.3,365.6" fill="none" stroke="#f6a93a" stroke-width="8.6" stroke-linecap="round" stroke-linejoin="round"/><polyline points="118.3,365.6 116.4,366.2 114.7,366.9 113.0,367.6 111.3,368.4 109.8,369.2 108.4,370.0" fill="none" stroke="#f6a93a" stroke-width="8.9" stroke-linecap="round" stroke-linejoin="round"/><polyline points="108.4,370.0 107.1,370.9 105.9,371.7 104.9,372.6 103.9,373.6 103.0,374.6 102.2,375.6" fill="none" stroke="#f6a93a" stroke-width="9.4" stroke-linecap="round" stroke-linejoin="round"/><polyline points="102.2,375.6 101.5,376.7 100.9,377.7 100.5,378.8 100.1,379.9 99.9,380.9 99.8,381.9" fill="none" stroke="#f6a93a" stroke-width="10.0" stroke-linecap="round" stroke-linejoin="round"/><polyline points="99.8,381.9 99.9,382.8 100.1,383.8 100.5,384.8 100.9,385.8 101.5,386.8 102.2,387.7" fill="none" stroke="#f6a93a" stroke-width="10.5" stroke-linecap="round" stroke-linejoin="round"/><polyline points="102.2,387.7 103.0,388.6 103.9,389.5 104.9,390.3 105.9,391.0 107.2,391.7 108.5,392.4" fill="none" stroke="#f6a93a" stroke-width="11.0" stroke-linecap="round" stroke-linejoin="round"/><polyline points="108.5,392.3 110.0,392.9 111.6,393.5 113.3,394.0 115.1,394.5 116.9,395.0 118.7,395.4" fill="none" stroke="#f6a93a" stroke-width="11.4" stroke-linecap="round" stroke-linejoin="round"/><polyline points="118.7,395.4 120.5,395.7 122.2,396.1 124.0,396.4 125.8,396.6 127.5,396.8 129.3,397.0" fill="none" stroke="#f6a93a" stroke-width="11.6" stroke-linecap="round" stroke-linejoin="round"/><polyline points="129.3,397.0 131.2,397.1 133.0,397.2 134.9,397.2 136.8,397.2 138.7,397.2 140.6,397.1" fill="none" stroke="#f6a93a" stroke-width="11.7" stroke-linecap="round" stroke-linejoin="round"/><polyline points="140.6,397.1 142.6,397.0 144.7,396.8 146.8,396.6 149.0,396.4 151.2,396.1 153.4,395.7" fill="none" stroke="#f6a93a" stroke-width="11.6" stroke-linecap="round" stroke-linejoin="round"/><polyline points="153.4,395.8 155.5,395.4 157.4,395.0 159.3,394.5 161.0,394.0 162.5,393.5 164.0,392.9" fill="none" stroke="#f6a93a" stroke-width="11.4" stroke-linecap="round" stroke-linejoin="round"/><polyline points="164.0,392.9 165.3,392.2 166.6,391.5 167.8,390.7 168.9,389.9 169.8,389.1 170.7,388.4" fill="none" stroke="#f6a93a" stroke-width="11.1" stroke-linecap="round" stroke-linejoin="round"/><polyline points="170.7,388.4 171.5,387.6 172.2,386.9 172.7,386.3 173.2,385.7 173.5,385.0 173.7,384.4" fill="none" stroke="#f6a93a" stroke-width="10.7" stroke-linecap="round" stroke-linejoin="round"/><polyline points="173.7,384.4 173.9,383.8 173.9,383.2 173.9,382.7 173.7,382.1 173.5,381.5 173.2,380.9" fill="none" stroke="#f6a93a" stroke-width="10.3" stroke-linecap="round" stroke-linejoin="round"/><polyline points="173.2,380.9 172.8,380.2 172.2,379.6 171.6,378.9 170.9,378.3 170.1,377.6 169.2,377.0" fill="none" stroke="#f6a93a" stroke-width="10.0" stroke-linecap="round" stroke-linejoin="round"/><polyline points="169.2,377.0 168.2,376.4 167.2,375.8 166.1,375.3 165.0,374.8 163.8,374.3 162.5,373.9" fill="none" stroke="#f6a93a" stroke-width="9.7" stroke-linecap="round" stroke-linejoin="round"/><polyline points="162.5,373.9 161.1,373.5 159.7,373.2 158.2,372.9 156.6,372.6 155.1,372.3 153.6,372.1" fill="none" stroke="#f6a93a" stroke-width="9.4" stroke-linecap="round" stroke-linejoin="round"/><polyline points="153.6,372.1 152.1,371.9 150.8,371.7 149.5,371.6 148.2,371.5 146.9,371.4 145.6,371.4" fill="none" stroke="#f6a93a" stroke-width="9.3" stroke-linecap="round" stroke-linejoin="round"/><polyline points="145.6,371.4 144.4,371.3 143.2,371.4 142.0,371.4 140.8,371.5 139.7,371.6 138.5,371.7" fill="none" stroke="#f6a93a" stroke-width="9.3" stroke-linecap="round" stroke-linejoin="round"/><polyline points="138.5,371.7 137.4,371.9 136.3,372.1 135.2,372.3 134.1,372.6 133.0,372.9 131.9,373.2" fill="none" stroke="#f6a93a" stroke-width="9.4" stroke-linecap="round" stroke-linejoin="round"/><polyline points="131.9,373.2 130.9,373.6 130.0,373.9 129.1,374.3 128.4,374.8 127.6,375.2 127.0,375.8" fill="none" stroke="#f6a93a" stroke-width="9.6" stroke-linecap="round" stroke-linejoin="round"/><polyline points="127.0,375.8 126.3,376.3 125.7,376.9 125.2,377.5 124.8,378.1 124.4,378.8 124.1,379.4" fill="none" stroke="#f6a93a" stroke-width="9.9" stroke-linecap="round" stroke-linejoin="round"/><polyline points="124.1,379.3 123.9,379.9 123.9,380.5 123.9,381.0 124.1,381.5 124.4,382.0 124.8,382.5" fill="none" stroke="#f6a93a" stroke-width="10.2" stroke-linecap="round" stroke-linejoin="round"/><polyline points="124.8,382.5 125.2,382.9 125.7,383.4 126.3,383.8 127.0,384.2 127.6,384.6 128.4,384.9" fill="none" stroke="#f6a93a" stroke-width="10.4" stroke-linecap="round" stroke-linejoin="round"/><polyline points="128.4,384.9 129.2,385.2 130.1,385.5 131.0,385.7 132.1,386.0 133.2,386.2 134.3,386.3" fill="none" stroke="#f6a93a" stroke-width="10.6" stroke-linecap="round" stroke-linejoin="round"/><polyline points="134.3,386.3 135.4,386.5 136.5,386.5 137.5,386.6 138.5,386.5 139.5,386.5 140.6,386.3" fill="none" stroke="#f6a93a" stroke-width="10.7" stroke-linecap="round" stroke-linejoin="round"/><polyline points="140.6,386.3 141.7,386.1 142.7,385.9 143.8,385.6 144.8,385.3 145.7,384.9 146.5,384.6" fill="none" stroke="#f6a93a" stroke-width="10.6" stroke-linecap="round" stroke-linejoin="round"/><polyline points="146.5,384.6 147.2,384.2 147.7,383.9 148.1,383.5 148.4,383.1 148.6,382.7 148.7,382.3" fill="none" stroke="#f6a93a" stroke-width="10.4" stroke-linecap="round" stroke-linejoin="round"/><polyline points="148.7,382.3 148.7,381.8 148.7,381.4 148.5,381.0 148.3,380.5 148.0,380.2 147.7,379.8" fill="none" stroke="#f6a93a" stroke-width="10.2" stroke-linecap="round" stroke-linejoin="round"/><polyline points="147.7,379.8 147.3,379.6 146.6,379.3 145.9,379.0 145.0,378.8 144.2,378.6 143.3,378.4" fill="none" stroke="#f6a93a" stroke-width="10.0" stroke-linecap="round" stroke-linejoin="round"/><polyline points="143.3,378.4 142.4,378.2 141.7,378.1 141.0,377.9 140.6,377.8" fill="none" stroke="#f6a93a" stroke-width="9.9" stroke-linecap="round" stroke-linejoin="round"/><polyline points="109.3,355.0 108.1,355.7 106.5,356.6 104.6,357.7 102.5,358.9 100.2,360.2 97.9,361.6" fill="none" stroke="#ffc662" stroke-width="3.7" stroke-linecap="round" stroke-linejoin="round"/><polyline points="97.9,361.4 95.5,362.8 93.3,364.2 91.2,365.5 89.3,366.7 87.7,367.9 86.0,369.1" fill="none" stroke="#ffc662" stroke-width="4.0" stroke-linecap="round" stroke-linejoin="round"/><polyline points="86.0,368.9 84.4,370.1 82.9,371.3 81.4,372.5 80.0,373.7 78.7,374.8 77.5,376.0" fill="none" stroke="#ffc662" stroke-width="4.3" stroke-linecap="round" stroke-linejoin="round"/><polyline points="77.5,375.8 76.4,376.9 75.5,378.0 74.7,379.1 73.9,380.1 73.3,381.0 72.7,381.9" fill="none" stroke="#ffc662" stroke-width="4.6" stroke-linecap="round" stroke-linejoin="round"/><polyline points="72.7,381.8 72.3,382.7 71.9,383.7 71.7,384.6 71.7,385.5 71.8,386.5 72.0,387.5" fill="none" stroke="#ffc662" stroke-width="4.8" stroke-linecap="round" stroke-linejoin="round"/><polyline points="72.0,387.4 72.4,388.4 73.0,389.5 73.7,390.6 74.5,391.7 75.4,392.9 76.5,394.0" fill="none" stroke="#ffc662" stroke-width="5.1" stroke-linecap="round" stroke-linejoin="round"/><polyline points="76.5,393.9 77.8,395.0 79.1,396.0 80.6,397.1 82.2,398.0 84.0,398.9 85.8,399.8" fill="none" stroke="#ffc662" stroke-width="5.4" stroke-linecap="round" stroke-linejoin="round"/><polyline points="85.8,399.7 87.9,400.6 90.0,401.4 92.3,402.2 94.7,402.9 97.2,403.6 99.9,404.3" fill="none" stroke="#ffc662" stroke-width="5.6" stroke-linecap="round" stroke-linejoin="round"/><polyline points="99.9,404.2 102.7,404.8 105.6,405.4 108.8,405.9 112.2,406.4 115.8,406.8 119.6,407.2" fill="none" stroke="#ffc662" stroke-width="5.7" stroke-linecap="round" stroke-linejoin="round"/><polyline points="119.6,407.2 123.5,407.5 127.4,407.8 131.3,408.0 135.1,408.2 138.8,408.2 142.3,408.2" fill="none" stroke="#ffc662" stroke-width="5.8" stroke-linecap="round" stroke-linejoin="round"/><polyline points="142.3,408.2 145.7,408.0 149.2,407.8 152.6,407.5 156.0,407.1 159.3,406.6 162.5,406.0" fill="none" stroke="#ffc662" stroke-width="5.8" stroke-linecap="round" stroke-linejoin="round"/><polyline points="162.5,406.1 165.6,405.5 168.5,404.8 171.3,404.1 173.9,403.4 176.3,402.5 178.6,401.6" fill="none" stroke="#ffc662" stroke-width="5.7" stroke-linecap="round" stroke-linejoin="round"/><polyline points="178.6,401.7 180.8,400.7 182.9,399.6 184.8,398.5 186.6,397.4 188.2,396.2 189.7,395.1" fill="none" stroke="#ffc662" stroke-width="5.4" stroke-linecap="round" stroke-linejoin="round"/><polyline points="189.7,395.2 191.0,394.1 192.2,393.0 193.3,392.0 194.2,391.0 194.9,390.0 195.5,389.0" fill="none" stroke="#ffc662" stroke-width="5.2" stroke-linecap="round" stroke-linejoin="round"/><polyline points="195.5,389.1 195.9,388.1 196.3,387.1 196.4,386.1 196.5,385.1 196.5,384.0 196.3,383.0" fill="none" stroke="#ffc662" stroke-width="4.9" stroke-linecap="round" stroke-linejoin="round"/><polyline points="196.3,383.1 196.0,382.0 195.6,380.9 195.1,379.7 194.4,378.6 193.6,377.4 192.7,376.3" fill="none" stroke="#ffc662" stroke-width="4.6" stroke-linecap="round" stroke-linejoin="round"/><polyline points="192.7,376.4 191.7,375.3 190.6,374.2 189.4,373.2 188.2,372.2 186.8,371.3 185.4,370.5" fill="none" stroke="#ffc662" stroke-width="4.4" stroke-linecap="round" stroke-linejoin="round"/><polyline points="185.4,370.6 183.9,369.7 182.2,368.9 180.5,368.2 178.7,367.5 176.9,366.8 174.9,366.1" fill="none" stroke="#ffc662" stroke-width="4.1" stroke-linecap="round" stroke-linejoin="round"/><polyline points="174.9,366.2 172.9,365.6 170.8,365.1 168.7,364.6 166.4,364.1 164.0,363.7 161.6,363.4" fill="none" stroke="#ffc662" stroke-width="4.0" stroke-linecap="round" stroke-linejoin="round"/><polyline points="161.6,363.4 159.1,363.1 156.5,362.8 154.0,362.6 151.4,362.4 148.9,362.2 146.4,362.1" fill="none" stroke="#ffc662" stroke-width="3.9" stroke-linecap="round" stroke-linejoin="round"/><polyline points="146.4,362.1 143.9,362.0 141.4,361.9 138.8,361.9 136.2,361.9 133.7,362.0 131.1,362.1" fill="none" stroke="#ffc662" stroke-width="3.9" stroke-linecap="round" stroke-linejoin="round"/><polyline points="131.1,362.0 128.7,362.2 126.3,362.4 124.1,362.7 121.9,363.1 119.9,363.5 118.0,364.1" fill="none" stroke="#ffc662" stroke-width="3.9" stroke-linecap="round" stroke-linejoin="round"/><polyline points="118.0,364.0 116.1,364.6 114.4,365.3 112.7,366.0 111.0,366.8 109.5,367.6 108.1,368.4" fill="none" stroke="#ffc662" stroke-width="4.0" stroke-linecap="round" stroke-linejoin="round"/><polyline points="108.1,368.3 106.8,369.2 105.6,370.0 104.6,370.9 103.6,371.9 102.7,372.9 101.9,373.9" fill="none" stroke="#ffc662" stroke-width="4.3" stroke-linecap="round" stroke-linejoin="round"/><polyline points="101.9,373.8 101.2,374.9 100.6,376.0 100.2,377.0 99.8,378.1 99.6,379.1 99.5,380.1" fill="none" stroke="#ffc662" stroke-width="4.5" stroke-linecap="round" stroke-linejoin="round"/><polyline points="99.5,380.0 99.6,381.0 99.8,381.9 100.2,382.9 100.6,383.9 101.2,384.9 101.9,385.8" fill="none" stroke="#ffc662" stroke-width="4.8" stroke-linecap="round" stroke-linejoin="round"/><polyline points="101.9,385.7 102.7,386.6 103.6,387.5 104.6,388.3 105.6,389.0 106.9,389.7 108.2,390.4" fill="none" stroke="#ffc662" stroke-width="5.0" stroke-linecap="round" stroke-linejoin="round"/><polyline points="108.2,390.3 109.7,390.9 111.3,391.5 113.0,392.0 114.8,392.5 116.6,393.0 118.4,393.4" fill="none" stroke="#ffc662" stroke-width="5.2" stroke-linecap="round" stroke-linejoin="round"/><polyline points="118.4,393.3 120.2,393.7 121.9,394.0 123.7,394.3 125.5,394.5 127.2,394.7 129.0,394.9" fill="none" stroke="#ffc662" stroke-width="5.3" stroke-linecap="round" stroke-linejoin="round"/><polyline points="129.0,394.9 130.9,395.0 132.7,395.1 134.6,395.1 136.5,395.1 138.4,395.1 140.3,395.0" fill="none" stroke="#ffc662" stroke-width="5.3" stroke-linecap="round" stroke-linejoin="round"/><polyline points="140.3,395.0 142.3,394.9 144.4,394.7 146.5,394.5 148.7,394.3 150.9,394.0 153.1,393.7" fill="none" stroke="#ffc662" stroke-width="5.3" stroke-linecap="round" stroke-linejoin="round"/><polyline points="153.1,393.7 155.2,393.3 157.1,392.9 159.0,392.5 160.7,392.0 162.2,391.5 163.7,390.8" fill="none" stroke="#ffc662" stroke-width="5.2" stroke-linecap="round" stroke-linejoin="round"/><polyline points="163.7,390.9 165.0,390.2 166.3,389.5 167.5,388.7 168.6,387.9 169.5,387.1 170.4,386.4" fill="none" stroke="#ffc662" stroke-width="5.0" stroke-linecap="round" stroke-linejoin="round"/><polyline points="170.4,386.5 171.2,385.7 171.9,385.0 172.4,384.4 172.9,383.8 173.2,383.1 173.4,382.5" fill="none" stroke="#ffc662" stroke-width="4.8" stroke-linecap="round" stroke-linejoin="round"/><polyline points="173.4,382.6 173.6,382.0 173.6,381.4 173.6,380.8 173.4,380.2 173.2,379.6 172.9,379.0" fill="none" stroke="#ffc662" stroke-width="4.7" stroke-linecap="round" stroke-linejoin="round"/><polyline points="172.9,379.1 172.5,378.5 171.9,377.8 171.3,377.2 170.6,376.5 169.8,375.8 168.9,375.2" fill="none" stroke="#ffc662" stroke-width="4.5" stroke-linecap="round" stroke-linejoin="round"/><polyline points="168.9,375.3 167.9,374.7 166.9,374.1 165.8,373.5 164.7,373.0 163.5,372.6 162.2,372.2" fill="none" stroke="#ffc662" stroke-width="4.4" stroke-linecap="round" stroke-linejoin="round"/><polyline points="162.2,372.2 160.8,371.9 159.4,371.5 157.9,371.2 156.3,370.9 154.8,370.6 153.3,370.4" fill="none" stroke="#ffc662" stroke-width="4.3" stroke-linecap="round" stroke-linejoin="round"/><polyline points="153.3,370.4 151.8,370.2 150.5,370.1 149.2,369.9 147.9,369.8 146.6,369.7 145.3,369.7" fill="none" stroke="#ffc662" stroke-width="4.2" stroke-linecap="round" stroke-linejoin="round"/><polyline points="145.3,369.7 144.1,369.7 142.9,369.7 141.7,369.7 140.5,369.8 139.4,369.9 138.2,370.1" fill="none" stroke="#ffc662" stroke-width="4.2" stroke-linecap="round" stroke-linejoin="round"/><polyline points="138.2,370.1 137.1,370.2 136.0,370.4 134.9,370.7 133.8,370.9 132.7,371.2 131.6,371.5" fill="none" stroke="#ffc662" stroke-width="4.2" stroke-linecap="round" stroke-linejoin="round"/><polyline points="131.6,371.5 130.6,371.9 129.7,372.2 128.8,372.6 128.1,373.1 127.3,373.5 126.7,374.1" fill="none" stroke="#ffc662" stroke-width="4.3" stroke-linecap="round" stroke-linejoin="round"/><polyline points="126.7,374.0 126.0,374.6 125.4,375.1 124.9,375.8 124.5,376.4 124.1,377.0 123.8,377.6" fill="none" stroke="#ffc662" stroke-width="4.5" stroke-linecap="round" stroke-linejoin="round"/><polyline points="123.8,377.5 123.6,378.1 123.6,378.6 123.6,379.1 123.8,379.7 124.1,380.2 124.5,380.7" fill="none" stroke="#ffc662" stroke-width="4.6" stroke-linecap="round" stroke-linejoin="round"/><polyline points="124.5,380.6 124.9,381.1 125.4,381.5 126.0,382.0 126.7,382.4 127.3,382.7 128.1,383.1" fill="none" stroke="#ffc662" stroke-width="4.7" stroke-linecap="round" stroke-linejoin="round"/><polyline points="128.1,383.0 128.9,383.3 129.8,383.6 130.7,383.9 131.8,384.1 132.9,384.3 134.0,384.4" fill="none" stroke="#ffc662" stroke-width="4.8" stroke-linecap="round" stroke-linejoin="round"/><polyline points="134.0,384.4 135.1,384.5 136.2,384.6 137.2,384.7 138.2,384.6 139.2,384.5 140.3,384.4" fill="none" stroke="#ffc662" stroke-width="4.8" stroke-linecap="round" stroke-linejoin="round"/><polyline points="140.3,384.4 141.4,384.2 142.4,384.0 143.5,383.7 144.5,383.4 145.4,383.0 146.2,382.7" fill="none" stroke="#ffc662" stroke-width="4.8" stroke-linecap="round" stroke-linejoin="round"/><polyline points="146.2,382.7 146.9,382.4 147.4,382.0 147.8,381.7 148.1,381.3 148.3,380.9 148.4,380.4" fill="none" stroke="#ffc662" stroke-width="4.7" stroke-linecap="round" stroke-linejoin="round"/><polyline points="148.4,380.5 148.4,380.0 148.4,379.6 148.2,379.1 148.0,378.7 147.7,378.4 147.4,378.0" fill="none" stroke="#ffc662" stroke-width="4.6" stroke-linecap="round" stroke-linejoin="round"/><polyline points="147.4,378.1 147.0,377.8 146.3,377.5 145.6,377.2 144.7,377.0 143.9,376.8 143.0,376.6" fill="none" stroke="#ffc662" stroke-width="4.5" stroke-linecap="round" stroke-linejoin="round"/><polyline points="143.0,376.6 142.1,376.4 141.4,376.3 140.7,376.2 140.3,376.0" fill="none" stroke="#ffc662" stroke-width="4.5" stroke-linecap="round" stroke-linejoin="round"/></g>
<polygon points="37.7,691.5 228.2,691.5 200.2,626 65.7,626" fill="url(#slabtop)"/><polygon points="37.7,691.5 228.2,691.5 224.6,711.3 41.300000000000004,711.3" fill="url(#slabf)"/>
<g filter="url(#sp)"><polyline points="107.1,620.7 105.9,621.4 104.3,622.3 102.4,623.4 100.3,624.6 98.0,625.9 95.7,627.2" fill="none" stroke="#e3a872" stroke-width="9.7" stroke-linecap="round" stroke-linejoin="round"/><polyline points="95.7,627.3 93.3,628.6 91.1,630.0 89.0,631.3 87.1,632.5 85.5,633.7 83.8,634.9" fill="none" stroke="#e3a872" stroke-width="10.6" stroke-linecap="round" stroke-linejoin="round"/><polyline points="83.8,635.0 82.2,636.2 80.7,637.3 79.2,638.5 77.8,639.7 76.5,640.9 75.3,642.0" fill="none" stroke="#e3a872" stroke-width="11.4" stroke-linecap="round" stroke-linejoin="round"/><polyline points="75.3,642.1 74.2,643.2 73.3,644.2 72.5,645.3 71.7,646.3 71.1,647.2 70.5,648.2" fill="none" stroke="#e3a872" stroke-width="12.1" stroke-linecap="round" stroke-linejoin="round"/><polyline points="70.5,648.2 70.1,649.1 69.7,650.0 69.5,651.0 69.5,651.9 69.6,652.9 69.8,653.9" fill="none" stroke="#e3a872" stroke-width="12.7" stroke-linecap="round" stroke-linejoin="round"/><polyline points="69.8,653.9 70.2,655.0 70.8,656.0 71.5,657.2 72.3,658.3 73.2,659.4 74.3,660.6" fill="none" stroke="#e3a872" stroke-width="13.4" stroke-linecap="round" stroke-linejoin="round"/><polyline points="74.3,660.6 75.6,661.7 76.9,662.8 78.4,663.8 80.0,664.8 81.8,665.7 83.6,666.5" fill="none" stroke="#e3a872" stroke-width="14.1" stroke-linecap="round" stroke-linejoin="round"/><polyline points="83.6,666.6 85.7,667.4 87.8,668.3 90.1,669.1 92.5,669.8 95.0,670.5 97.7,671.2" fill="none" stroke="#e3a872" stroke-width="14.7" stroke-linecap="round" stroke-linejoin="round"/><polyline points="97.7,671.2 100.5,671.8 103.4,672.4 106.6,672.9 110.0,673.3 113.6,673.8 117.4,674.2" fill="none" stroke="#e3a872" stroke-width="15.1" stroke-linecap="round" stroke-linejoin="round"/><polyline points="117.4,674.2 121.3,674.6 125.2,674.9 129.1,675.1 132.9,675.2 136.6,675.3 140.1,675.2" fill="none" stroke="#e3a872" stroke-width="15.4" stroke-linecap="round" stroke-linejoin="round"/><polyline points="140.1,675.2 143.5,675.1 147.0,674.8 150.4,674.5 153.8,674.1 157.1,673.6 160.3,673.1" fill="none" stroke="#e3a872" stroke-width="15.3" stroke-linecap="round" stroke-linejoin="round"/><polyline points="160.3,673.0 163.4,672.4 166.3,671.8 169.1,671.1 171.7,670.3 174.1,669.5 176.4,668.5" fill="none" stroke="#e3a872" stroke-width="14.9" stroke-linecap="round" stroke-linejoin="round"/><polyline points="176.4,668.5 178.6,667.5 180.7,666.4 182.6,665.3 184.4,664.2 186.0,663.0 187.5,661.9" fill="none" stroke="#e3a872" stroke-width="14.3" stroke-linecap="round" stroke-linejoin="round"/><polyline points="187.5,661.8 188.8,660.7 190.0,659.6 191.1,658.6 192.0,657.6 192.7,656.6 193.3,655.6" fill="none" stroke="#e3a872" stroke-width="13.6" stroke-linecap="round" stroke-linejoin="round"/><polyline points="193.3,655.5 193.7,654.5 194.1,653.5 194.2,652.5 194.3,651.5 194.3,650.4 194.1,649.4" fill="none" stroke="#e3a872" stroke-width="12.9" stroke-linecap="round" stroke-linejoin="round"/><polyline points="194.1,649.3 193.8,648.3 193.4,647.1 192.9,646.0 192.2,644.8 191.4,643.7 190.5,642.5" fill="none" stroke="#e3a872" stroke-width="12.2" stroke-linecap="round" stroke-linejoin="round"/><polyline points="190.5,642.5 189.5,641.4 188.4,640.3 187.2,639.3 186.0,638.3 184.6,637.4 183.2,636.5" fill="none" stroke="#e3a872" stroke-width="11.5" stroke-linecap="round" stroke-linejoin="round"/><polyline points="183.2,636.5 181.7,635.7 180.0,634.9 178.3,634.1 176.5,633.4 174.7,632.7 172.7,632.1" fill="none" stroke="#e3a872" stroke-width="10.9" stroke-linecap="round" stroke-linejoin="round"/><polyline points="172.7,632.0 170.7,631.4 168.6,630.9 166.5,630.4 164.2,630.0 161.8,629.5 159.4,629.2" fill="none" stroke="#e3a872" stroke-width="10.5" stroke-linecap="round" stroke-linejoin="round"/><polyline points="159.4,629.2 156.9,628.8 154.3,628.6 151.8,628.3 149.2,628.1 146.7,628.0 144.2,627.8" fill="none" stroke="#e3a872" stroke-width="10.3" stroke-linecap="round" stroke-linejoin="round"/><polyline points="144.2,627.8 141.7,627.7 139.2,627.7 136.6,627.6 134.0,627.7 131.5,627.7 128.9,627.8" fill="none" stroke="#e3a872" stroke-width="10.2" stroke-linecap="round" stroke-linejoin="round"/><polyline points="128.9,627.8 126.5,628.0 124.1,628.2 121.9,628.5 119.7,628.9 117.7,629.3 115.8,629.8" fill="none" stroke="#e3a872" stroke-width="10.3" stroke-linecap="round" stroke-linejoin="round"/><polyline points="115.8,629.9 113.9,630.5 112.2,631.1 110.5,631.9 108.8,632.6 107.3,633.5 105.9,634.3" fill="none" stroke="#e3a872" stroke-width="10.6" stroke-linecap="round" stroke-linejoin="round"/><polyline points="105.9,634.3 104.6,635.2 103.4,636.0 102.4,636.9 101.4,637.9 100.5,638.9 99.7,639.9" fill="none" stroke="#e3a872" stroke-width="11.2" stroke-linecap="round" stroke-linejoin="round"/><polyline points="99.7,640.0 99.0,641.1 98.4,642.1 98.0,643.2 97.6,644.3 97.4,645.3 97.3,646.3" fill="none" stroke="#e3a872" stroke-width="11.9" stroke-linecap="round" stroke-linejoin="round"/><polyline points="97.3,646.3 97.4,647.3 97.6,648.3 98.0,649.3 98.4,650.3 99.0,651.2 99.7,652.2" fill="none" stroke="#e3a872" stroke-width="12.5" stroke-linecap="round" stroke-linejoin="round"/><polyline points="99.7,652.2 100.5,653.1 101.4,654.0 102.4,654.8 103.4,655.5 104.7,656.2 106.0,656.9" fill="none" stroke="#e3a872" stroke-width="13.1" stroke-linecap="round" stroke-linejoin="round"/><polyline points="106.0,656.9 107.5,657.5 109.1,658.1 110.8,658.6 112.6,659.1 114.4,659.5 116.2,659.9" fill="none" stroke="#e3a872" stroke-width="13.6" stroke-linecap="round" stroke-linejoin="round"/><polyline points="116.2,660.0 118.0,660.3 119.7,660.7 121.5,660.9 123.3,661.2 125.0,661.4 126.8,661.6" fill="none" stroke="#e3a872" stroke-width="13.8" stroke-linecap="round" stroke-linejoin="round"/><polyline points="126.8,661.6 128.7,661.7 130.5,661.8 132.4,661.8 134.3,661.8 136.2,661.8 138.1,661.7" fill="none" stroke="#e3a872" stroke-width="13.9" stroke-linecap="round" stroke-linejoin="round"/><polyline points="138.1,661.7 140.1,661.6 142.2,661.4 144.3,661.2 146.5,660.9 148.7,660.7 150.9,660.3" fill="none" stroke="#e3a872" stroke-width="13.8" stroke-linecap="round" stroke-linejoin="round"/><polyline points="150.9,660.3 153.0,660.0 154.9,659.5 156.8,659.1 158.5,658.6 160.0,658.1 161.5,657.4" fill="none" stroke="#e3a872" stroke-width="13.6" stroke-linecap="round" stroke-linejoin="round"/><polyline points="161.5,657.4 162.8,656.7 164.1,656.0 165.3,655.2 166.4,654.4 167.3,653.6 168.2,652.9" fill="none" stroke="#e3a872" stroke-width="13.2" stroke-linecap="round" stroke-linejoin="round"/><polyline points="168.2,652.8 169.0,652.1 169.7,651.4 170.2,650.8 170.7,650.1 171.0,649.5 171.2,648.9" fill="none" stroke="#e3a872" stroke-width="12.7" stroke-linecap="round" stroke-linejoin="round"/><polyline points="171.2,648.9 171.4,648.3 171.4,647.7 171.4,647.1 171.2,646.5 171.0,645.9 170.7,645.3" fill="none" stroke="#e3a872" stroke-width="12.3" stroke-linecap="round" stroke-linejoin="round"/><polyline points="170.7,645.3 170.3,644.6 169.7,644.0 169.1,643.3 168.4,642.7 167.6,642.0 166.7,641.4" fill="none" stroke="#e3a872" stroke-width="11.9" stroke-linecap="round" stroke-linejoin="round"/><polyline points="166.7,641.3 165.7,640.7 164.7,640.1 163.6,639.6 162.5,639.1 161.3,638.7 160.0,638.3" fill="none" stroke="#e3a872" stroke-width="11.5" stroke-linecap="round" stroke-linejoin="round"/><polyline points="160.0,638.2 158.6,637.9 157.2,637.5 155.7,637.2 154.1,636.9 152.6,636.6 151.1,636.4" fill="none" stroke="#e3a872" stroke-width="11.2" stroke-linecap="round" stroke-linejoin="round"/><polyline points="151.1,636.4 149.6,636.2 148.3,636.0 147.0,635.9 145.7,635.8 144.4,635.7 143.1,635.7" fill="none" stroke="#e3a872" stroke-width="11.1" stroke-linecap="round" stroke-linejoin="round"/><polyline points="143.1,635.7 141.9,635.7 140.7,635.7 139.5,635.7 138.3,635.8 137.2,635.9 136.0,636.0" fill="none" stroke="#e3a872" stroke-width="11.1" stroke-linecap="round" stroke-linejoin="round"/><polyline points="136.0,636.0 134.9,636.2 133.8,636.4 132.7,636.7 131.6,636.9 130.5,637.2 129.4,637.5" fill="none" stroke="#e3a872" stroke-width="11.2" stroke-linecap="round" stroke-linejoin="round"/><polyline points="129.4,637.6 128.4,637.9 127.5,638.3 126.6,638.7 125.9,639.1 125.1,639.6 124.5,640.1" fill="none" stroke="#e3a872" stroke-width="11.4" stroke-linecap="round" stroke-linejoin="round"/><polyline points="124.5,640.1 123.8,640.7 123.2,641.3 122.7,641.9 122.3,642.5 121.9,643.1 121.6,643.7" fill="none" stroke="#e3a872" stroke-width="11.7" stroke-linecap="round" stroke-linejoin="round"/><polyline points="121.6,643.8 121.4,644.3 121.4,644.9 121.4,645.4 121.6,645.9 121.9,646.4 122.3,646.9" fill="none" stroke="#e3a872" stroke-width="12.1" stroke-linecap="round" stroke-linejoin="round"/><polyline points="122.3,646.9 122.7,647.4 123.2,647.8 123.8,648.3 124.5,648.7 125.1,649.0 125.9,649.4" fill="none" stroke="#e3a872" stroke-width="12.4" stroke-linecap="round" stroke-linejoin="round"/><polyline points="125.9,649.4 126.7,649.7 127.6,650.0 128.5,650.2 129.6,650.4 130.7,650.6 131.8,650.8" fill="none" stroke="#e3a872" stroke-width="12.6" stroke-linecap="round" stroke-linejoin="round"/><polyline points="131.8,650.8 132.9,650.9 134.0,651.0 135.0,651.0 136.0,651.0 137.0,650.9 138.1,650.8" fill="none" stroke="#e3a872" stroke-width="12.7" stroke-linecap="round" stroke-linejoin="round"/><polyline points="138.1,650.8 139.2,650.6 140.2,650.3 141.3,650.0 142.3,649.7 143.2,649.4 144.0,649.0" fill="none" stroke="#e3a872" stroke-width="12.6" stroke-linecap="round" stroke-linejoin="round"/><polyline points="144.0,649.0 144.7,648.7 145.2,648.3 145.6,648.0 145.9,647.6 146.1,647.2 146.2,646.7" fill="none" stroke="#e3a872" stroke-width="12.4" stroke-linecap="round" stroke-linejoin="round"/><polyline points="146.2,646.7 146.2,646.3 146.2,645.8 146.0,645.4 145.8,645.0 145.5,644.6 145.2,644.3" fill="none" stroke="#e3a872" stroke-width="12.1" stroke-linecap="round" stroke-linejoin="round"/><polyline points="145.2,644.2 144.8,643.9 144.1,643.7 143.4,643.4 142.5,643.2 141.7,643.0 140.8,642.8" fill="none" stroke="#e3a872" stroke-width="11.9" stroke-linecap="round" stroke-linejoin="round"/><polyline points="140.8,642.8 139.9,642.6 139.2,642.4 138.5,642.3 138.1,642.2" fill="none" stroke="#e3a872" stroke-width="11.8" stroke-linecap="round" stroke-linejoin="round"/><polyline points="107.1,619.7 105.9,620.4 104.3,621.3 102.4,622.4 100.3,623.6 98.0,624.9 95.7,626.2" fill="none" stroke="#f1c088" stroke-width="8.2" stroke-linecap="round" stroke-linejoin="round"/><polyline points="95.7,626.2 93.3,627.6 91.1,628.9 89.0,630.3 87.1,631.5 85.5,632.7 83.8,633.9" fill="none" stroke="#f1c088" stroke-width="8.9" stroke-linecap="round" stroke-linejoin="round"/><polyline points="83.8,633.8 82.2,635.0 80.7,636.2 79.2,637.4 77.8,638.6 76.5,639.7 75.3,640.9" fill="none" stroke="#f1c088" stroke-width="9.5" stroke-linecap="round" stroke-linejoin="round"/><polyline points="75.3,640.9 74.2,642.0 73.3,643.0 72.5,644.1 71.7,645.1 71.1,646.0 70.5,647.0" fill="none" stroke="#f1c088" stroke-width="10.2" stroke-linecap="round" stroke-linejoin="round"/><polyline points="70.5,646.9 70.1,647.9 69.7,648.8 69.5,649.7 69.5,650.6 69.6,651.6 69.8,652.6" fill="none" stroke="#f1c088" stroke-width="10.7" stroke-linecap="round" stroke-linejoin="round"/><polyline points="69.8,652.6 70.2,653.6 70.8,654.7 71.5,655.8 72.3,657.0 73.2,658.1 74.3,659.2" fill="none" stroke="#f1c088" stroke-width="11.3" stroke-linecap="round" stroke-linejoin="round"/><polyline points="74.3,659.2 75.6,660.3 76.9,661.4 78.4,662.4 80.0,663.3 81.8,664.2 83.6,665.1" fill="none" stroke="#f1c088" stroke-width="11.9" stroke-linecap="round" stroke-linejoin="round"/><polyline points="83.6,665.1 85.7,666.0 87.8,666.8 90.1,667.6 92.5,668.3 95.0,669.0 97.7,669.7" fill="none" stroke="#f1c088" stroke-width="12.4" stroke-linecap="round" stroke-linejoin="round"/><polyline points="97.7,669.7 100.5,670.3 103.4,670.8 106.6,671.3 110.0,671.8 113.6,672.3 117.4,672.7" fill="none" stroke="#f1c088" stroke-width="12.7" stroke-linecap="round" stroke-linejoin="round"/><polyline points="117.4,672.7 121.3,673.0 125.2,673.3 129.1,673.5 132.9,673.7 136.6,673.7 140.1,673.7" fill="none" stroke="#f1c088" stroke-width="12.9" stroke-linecap="round" stroke-linejoin="round"/><polyline points="140.1,673.7 143.5,673.5 147.0,673.3 150.4,673.0 153.8,672.6 157.1,672.1 160.3,671.5" fill="none" stroke="#f1c088" stroke-width="12.8" stroke-linecap="round" stroke-linejoin="round"/><polyline points="160.3,671.5 163.4,670.9 166.3,670.3 169.1,669.6 171.7,668.8 174.1,668.0 176.4,667.0" fill="none" stroke="#f1c088" stroke-width="12.5" stroke-linecap="round" stroke-linejoin="round"/><polyline points="176.4,667.1 178.6,666.1 180.7,665.0 182.6,663.9 184.4,662.7 186.0,661.6 187.5,660.4" fill="none" stroke="#f1c088" stroke-width="12.0" stroke-linecap="round" stroke-linejoin="round"/><polyline points="187.5,660.4 188.8,659.3 190.0,658.3 191.1,657.2 192.0,656.2 192.7,655.2 193.3,654.2" fill="none" stroke="#f1c088" stroke-width="11.4" stroke-linecap="round" stroke-linejoin="round"/><polyline points="193.3,654.2 193.7,653.2 194.1,652.2 194.2,651.2 194.3,650.2 194.3,649.2 194.1,648.1" fill="none" stroke="#f1c088" stroke-width="10.8" stroke-linecap="round" stroke-linejoin="round"/><polyline points="194.1,648.1 193.8,647.0 193.4,645.9 192.9,644.8 192.2,643.6 191.4,642.5 190.5,641.3" fill="none" stroke="#f1c088" stroke-width="10.2" stroke-linecap="round" stroke-linejoin="round"/><polyline points="190.5,641.3 189.5,640.2 188.4,639.1 187.2,638.1 186.0,637.2 184.6,636.3 183.2,635.4" fill="none" stroke="#f1c088" stroke-width="9.6" stroke-linecap="round" stroke-linejoin="round"/><polyline points="183.2,635.4 181.7,634.6 180.0,633.8 178.3,633.0 176.5,632.3 174.7,631.6 172.7,631.0" fill="none" stroke="#f1c088" stroke-width="9.1" stroke-linecap="round" stroke-linejoin="round"/><polyline points="172.7,631.0 170.7,630.4 168.6,629.9 166.5,629.4 164.2,628.9 161.8,628.5 159.4,628.1" fill="none" stroke="#f1c088" stroke-width="8.8" stroke-linecap="round" stroke-linejoin="round"/><polyline points="159.4,628.1 156.9,627.8 154.3,627.5 151.8,627.3 149.2,627.1 146.7,626.9 144.2,626.8" fill="none" stroke="#f1c088" stroke-width="8.6" stroke-linecap="round" stroke-linejoin="round"/><polyline points="144.2,626.8 141.7,626.7 139.2,626.7 136.6,626.6 134.0,626.6 131.5,626.7 128.9,626.8" fill="none" stroke="#f1c088" stroke-width="8.5" stroke-linecap="round" stroke-linejoin="round"/><polyline points="128.9,626.8 126.5,626.9 124.1,627.2 121.9,627.5 119.7,627.8 117.7,628.3 115.8,628.8" fill="none" stroke="#f1c088" stroke-width="8.6" stroke-linecap="round" stroke-linejoin="round"/><polyline points="115.8,628.8 113.9,629.4 112.2,630.1 110.5,630.8 108.8,631.6 107.3,632.4 105.9,633.2" fill="none" stroke="#f1c088" stroke-width="8.9" stroke-linecap="round" stroke-linejoin="round"/><polyline points="105.9,633.2 104.6,634.1 103.4,634.9 102.4,635.8 101.4,636.8 100.5,637.8 99.7,638.8" fill="none" stroke="#f1c088" stroke-width="9.4" stroke-linecap="round" stroke-linejoin="round"/><polyline points="99.7,638.8 99.0,639.9 98.4,640.9 98.0,642.0 97.6,643.1 97.4,644.1 97.3,645.1" fill="none" stroke="#f1c088" stroke-width="10.0" stroke-linecap="round" stroke-linejoin="round"/><polyline points="97.3,645.1 97.4,646.0 97.6,647.0 98.0,648.0 98.4,649.0 99.0,650.0 99.7,650.9" fill="none" stroke="#f1c088" stroke-width="10.5" stroke-linecap="round" stroke-linejoin="round"/><polyline points="99.7,650.9 100.5,651.8 101.4,652.7 102.4,653.5 103.4,654.2 104.7,654.9 106.0,655.6" fill="none" stroke="#f1c088" stroke-width="11.0" stroke-linecap="round" stroke-linejoin="round"/><polyline points="106.0,655.5 107.5,656.1 109.1,656.7 110.8,657.2 112.6,657.7 114.4,658.2 116.2,658.6" fill="none" stroke="#f1c088" stroke-width="11.4" stroke-linecap="round" stroke-linejoin="round"/><polyline points="116.2,658.6 118.0,658.9 119.7,659.3 121.5,659.6 123.3,659.8 125.0,660.0 126.8,660.2" fill="none" stroke="#f1c088" stroke-width="11.6" stroke-linecap="round" stroke-linejoin="round"/><polyline points="126.8,660.2 128.7,660.3 130.5,660.4 132.4,660.4 134.3,660.4 136.2,660.4 138.1,660.3" fill="none" stroke="#f1c088" stroke-width="11.7" stroke-linecap="round" stroke-linejoin="round"/><polyline points="138.1,660.3 140.1,660.2 142.2,660.0 144.3,659.8 146.5,659.6 148.7,659.3 150.9,658.9" fill="none" stroke="#f1c088" stroke-width="11.6" stroke-linecap="round" stroke-linejoin="round"/><polyline points="150.9,659.0 153.0,658.6 154.9,658.2 156.8,657.7 158.5,657.2 160.0,656.7 161.5,656.1" fill="none" stroke="#f1c088" stroke-width="11.4" stroke-linecap="round" stroke-linejoin="round"/><polyline points="161.5,656.1 162.8,655.4 164.1,654.7 165.3,653.9 166.4,653.1 167.3,652.3 168.2,651.6" fill="none" stroke="#f1c088" stroke-width="11.1" stroke-linecap="round" stroke-linejoin="round"/><polyline points="168.2,651.6 169.0,650.8 169.7,650.1 170.2,649.5 170.7,648.9 171.0,648.2 171.2,647.6" fill="none" stroke="#f1c088" stroke-width="10.7" stroke-linecap="round" stroke-linejoin="round"/><polyline points="171.2,647.6 171.4,647.0 171.4,646.4 171.4,645.9 171.2,645.3 171.0,644.7 170.7,644.1" fill="none" stroke="#f1c088" stroke-width="10.3" stroke-linecap="round" stroke-linejoin="round"/><polyline points="170.7,644.1 170.3,643.4 169.7,642.8 169.1,642.1 168.4,641.5 167.6,640.8 166.7,640.2" fill="none" stroke="#f1c088" stroke-width="10.0" stroke-linecap="round" stroke-linejoin="round"/><polyline points="166.7,640.2 165.7,639.6 164.7,639.0 163.6,638.5 162.5,638.0 161.3,637.5 160.0,637.1" fill="none" stroke="#f1c088" stroke-width="9.7" stroke-linecap="round" stroke-linejoin="round"/><polyline points="160.0,637.1 158.6,636.7 157.2,636.4 155.7,636.1 154.1,635.8 152.6,635.5 151.1,635.3" fill="none" stroke="#f1c088" stroke-width="9.4" stroke-linecap="round" stroke-linejoin="round"/><polyline points="151.1,635.3 149.6,635.1 148.3,634.9 147.0,634.8 145.7,634.7 144.4,634.6 143.1,634.6" fill="none" stroke="#f1c088" stroke-width="9.3" stroke-linecap="round" stroke-linejoin="round"/><polyline points="143.1,634.6 141.9,634.5 140.7,634.6 139.5,634.6 138.3,634.7 137.2,634.8 136.0,634.9" fill="none" stroke="#f1c088" stroke-width="9.3" stroke-linecap="round" stroke-linejoin="round"/><polyline points="136.0,634.9 134.9,635.1 133.8,635.3 132.7,635.5 131.6,635.8 130.5,636.1 129.4,636.4" fill="none" stroke="#f1c088" stroke-width="9.4" stroke-linecap="round" stroke-linejoin="round"/><polyline points="129.4,636.4 128.4,636.8 127.5,637.1 126.6,637.5 125.9,638.0 125.1,638.4 124.5,639.0" fill="none" stroke="#f1c088" stroke-width="9.6" stroke-linecap="round" stroke-linejoin="round"/><polyline points="124.5,639.0 123.8,639.5 123.2,640.1 122.7,640.7 122.3,641.3 121.9,642.0 121.6,642.6" fill="none" stroke="#f1c088" stroke-width="9.9" stroke-linecap="round" stroke-linejoin="round"/><polyline points="121.6,642.5 121.4,643.1 121.4,643.7 121.4,644.2 121.6,644.7 121.9,645.2 122.3,645.7" fill="none" stroke="#f1c088" stroke-width="10.2" stroke-linecap="round" stroke-linejoin="round"/><polyline points="122.3,645.7 122.7,646.1 123.2,646.6 123.8,647.0 124.5,647.4 125.1,647.8 125.9,648.1" fill="none" stroke="#f1c088" stroke-width="10.4" stroke-linecap="round" stroke-linejoin="round"/><polyline points="125.9,648.1 126.7,648.4 127.6,648.7 128.5,648.9 129.6,649.2 130.7,649.4 131.8,649.5" fill="none" stroke="#f1c088" stroke-width="10.6" stroke-linecap="round" stroke-linejoin="round"/><polyline points="131.8,649.5 132.9,649.7 134.0,649.7 135.0,649.8 136.0,649.7 137.0,649.7 138.1,649.5" fill="none" stroke="#f1c088" stroke-width="10.7" stroke-linecap="round" stroke-linejoin="round"/><polyline points="138.1,649.5 139.2,649.3 140.2,649.1 141.3,648.8 142.3,648.5 143.2,648.1 144.0,647.8" fill="none" stroke="#f1c088" stroke-width="10.6" stroke-linecap="round" stroke-linejoin="round"/><polyline points="144.0,647.8 144.7,647.4 145.2,647.1 145.6,646.7 145.9,646.3 146.1,645.9 146.2,645.5" fill="none" stroke="#f1c088" stroke-width="10.4" stroke-linecap="round" stroke-linejoin="round"/><polyline points="146.2,645.5 146.2,645.0 146.2,644.6 146.0,644.2 145.8,643.7 145.5,643.4 145.2,643.0" fill="none" stroke="#f1c088" stroke-width="10.2" stroke-linecap="round" stroke-linejoin="round"/><polyline points="145.2,643.0 144.8,642.8 144.1,642.5 143.4,642.2 142.5,642.0 141.7,641.8 140.8,641.6" fill="none" stroke="#f1c088" stroke-width="10.0" stroke-linecap="round" stroke-linejoin="round"/><polyline points="140.8,641.6 139.9,641.4 139.2,641.3 138.5,641.1 138.1,641.0" fill="none" stroke="#f1c088" stroke-width="9.9" stroke-linecap="round" stroke-linejoin="round"/><polyline points="106.8,618.2 105.6,618.9 104.0,619.8 102.1,620.9 100.0,622.1 97.7,623.4 95.4,624.8" fill="none" stroke="#fbdcb2" stroke-width="3.7" stroke-linecap="round" stroke-linejoin="round"/><polyline points="95.4,624.6 93.0,626.0 90.8,627.4 88.7,628.7 86.8,629.9 85.2,631.1 83.5,632.3" fill="none" stroke="#fbdcb2" stroke-width="4.0" stroke-linecap="round" stroke-linejoin="round"/><polyline points="83.5,632.1 81.9,633.3 80.4,634.5 78.9,635.7 77.5,636.9 76.2,638.0 75.0,639.2" fill="none" stroke="#fbdcb2" stroke-width="4.3" stroke-linecap="round" stroke-linejoin="round"/><polyline points="75.0,639.0 73.9,640.1 73.0,641.2 72.2,642.3 71.4,643.3 70.8,644.2 70.2,645.1" fill="none" stroke="#fbdcb2" stroke-width="4.6" stroke-linecap="round" stroke-linejoin="round"/><polyline points="70.2,645.0 69.8,645.9 69.4,646.9 69.2,647.8 69.2,648.7 69.3,649.7 69.5,650.7" fill="none" stroke="#fbdcb2" stroke-width="4.8" stroke-linecap="round" stroke-linejoin="round"/><polyline points="69.5,650.6 69.9,651.6 70.5,652.7 71.2,653.8 72.0,654.9 72.9,656.1 74.0,657.2" fill="none" stroke="#fbdcb2" stroke-width="5.1" stroke-linecap="round" stroke-linejoin="round"/><polyline points="74.0,657.1 75.3,658.2 76.6,659.2 78.1,660.3 79.7,661.2 81.5,662.1 83.3,663.0" fill="none" stroke="#fbdcb2" stroke-width="5.4" stroke-linecap="round" stroke-linejoin="round"/><polyline points="83.3,662.9 85.4,663.8 87.5,664.6 89.8,665.4 92.2,666.1 94.7,666.8 97.4,667.5" fill="none" stroke="#fbdcb2" stroke-width="5.6" stroke-linecap="round" stroke-linejoin="round"/><polyline points="97.4,667.4 100.2,668.0 103.1,668.6 106.3,669.1 109.7,669.6 113.3,670.0 117.1,670.4" fill="none" stroke="#fbdcb2" stroke-width="5.7" stroke-linecap="round" stroke-linejoin="round"/><polyline points="117.1,670.4 121.0,670.7 124.9,671.0 128.8,671.2 132.6,671.4 136.3,671.4 139.8,671.4" fill="none" stroke="#fbdcb2" stroke-width="5.8" stroke-linecap="round" stroke-linejoin="round"/><polyline points="139.8,671.4 143.2,671.2 146.7,671.0 150.1,670.7 153.5,670.3 156.8,669.8 160.0,669.2" fill="none" stroke="#fbdcb2" stroke-width="5.8" stroke-linecap="round" stroke-linejoin="round"/><polyline points="160.0,669.3 163.1,668.7 166.0,668.0 168.8,667.3 171.4,666.6 173.8,665.7 176.1,664.8" fill="none" stroke="#fbdcb2" stroke-width="5.7" stroke-linecap="round" stroke-linejoin="round"/><polyline points="176.1,664.9 178.3,663.9 180.4,662.8 182.3,661.7 184.1,660.6 185.7,659.4 187.2,658.3" fill="none" stroke="#fbdcb2" stroke-width="5.4" stroke-linecap="round" stroke-linejoin="round"/><polyline points="187.2,658.4 188.5,657.3 189.7,656.2 190.8,655.2 191.7,654.2 192.4,653.2 193.0,652.2" fill="none" stroke="#fbdcb2" stroke-width="5.2" stroke-linecap="round" stroke-linejoin="round"/><polyline points="193.0,652.3 193.4,651.3 193.8,650.3 193.9,649.3 194.0,648.3 194.0,647.2 193.8,646.2" fill="none" stroke="#fbdcb2" stroke-width="4.9" stroke-linecap="round" stroke-linejoin="round"/><polyline points="193.8,646.3 193.5,645.2 193.1,644.1 192.6,642.9 191.9,641.8 191.1,640.6 190.2,639.5" fill="none" stroke="#fbdcb2" stroke-width="4.6" stroke-linecap="round" stroke-linejoin="round"/><polyline points="190.2,639.6 189.2,638.5 188.1,637.4 186.9,636.4 185.7,635.4 184.3,634.5 182.9,633.7" fill="none" stroke="#fbdcb2" stroke-width="4.4" stroke-linecap="round" stroke-linejoin="round"/><polyline points="182.9,633.8 181.4,632.9 179.7,632.1 178.0,631.4 176.2,630.7 174.4,630.0 172.4,629.3" fill="none" stroke="#fbdcb2" stroke-width="4.1" stroke-linecap="round" stroke-linejoin="round"/><polyline points="172.4,629.4 170.4,628.8 168.3,628.3 166.2,627.8 163.9,627.3 161.5,626.9 159.1,626.6" fill="none" stroke="#fbdcb2" stroke-width="4.0" stroke-linecap="round" stroke-linejoin="round"/><polyline points="159.1,626.6 156.6,626.3 154.0,626.0 151.5,625.8 148.9,625.6 146.4,625.4 143.9,625.3" fill="none" stroke="#fbdcb2" stroke-width="3.9" stroke-linecap="round" stroke-linejoin="round"/><polyline points="143.9,625.3 141.4,625.2 138.9,625.1 136.3,625.1 133.7,625.1 131.2,625.2 128.6,625.3" fill="none" stroke="#fbdcb2" stroke-width="3.9" stroke-linecap="round" stroke-linejoin="round"/><polyline points="128.6,625.2 126.2,625.4 123.8,625.6 121.6,625.9 119.4,626.3 117.4,626.7 115.5,627.3" fill="none" stroke="#fbdcb2" stroke-width="3.9" stroke-linecap="round" stroke-linejoin="round"/><polyline points="115.5,627.2 113.6,627.8 111.9,628.5 110.2,629.2 108.5,630.0 107.0,630.8 105.6,631.6" fill="none" stroke="#fbdcb2" stroke-width="4.0" stroke-linecap="round" stroke-linejoin="round"/><polyline points="105.6,631.5 104.3,632.4 103.1,633.2 102.1,634.1 101.1,635.1 100.2,636.1 99.4,637.1" fill="none" stroke="#fbdcb2" stroke-width="4.3" stroke-linecap="round" stroke-linejoin="round"/><polyline points="99.4,637.0 98.7,638.1 98.1,639.2 97.7,640.2 97.3,641.3 97.1,642.3 97.0,643.3" fill="none" stroke="#fbdcb2" stroke-width="4.5" stroke-linecap="round" stroke-linejoin="round"/><polyline points="97.0,643.2 97.1,644.2 97.3,645.1 97.7,646.1 98.1,647.1 98.7,648.1 99.4,649.0" fill="none" stroke="#fbdcb2" stroke-width="4.8" stroke-linecap="round" stroke-linejoin="round"/><polyline points="99.4,648.9 100.2,649.8 101.1,650.7 102.1,651.5 103.1,652.2 104.4,652.9 105.7,653.6" fill="none" stroke="#fbdcb2" stroke-width="5.0" stroke-linecap="round" stroke-linejoin="round"/><polyline points="105.7,653.5 107.2,654.1 108.8,654.7 110.5,655.2 112.3,655.7 114.1,656.2 115.9,656.6" fill="none" stroke="#fbdcb2" stroke-width="5.2" stroke-linecap="round" stroke-linejoin="round"/><polyline points="115.9,656.5 117.7,656.9 119.4,657.2 121.2,657.5 123.0,657.7 124.7,657.9 126.5,658.1" fill="none" stroke="#fbdcb2" stroke-width="5.3" stroke-linecap="round" stroke-linejoin="round"/><polyline points="126.5,658.1 128.4,658.2 130.2,658.3 132.1,658.3 134.0,658.3 135.9,658.3 137.8,658.2" fill="none" stroke="#fbdcb2" stroke-width="5.3" stroke-linecap="round" stroke-linejoin="round"/><polyline points="137.8,658.2 139.8,658.1 141.9,657.9 144.0,657.7 146.2,657.5 148.4,657.2 150.6,656.9" fill="none" stroke="#fbdcb2" stroke-width="5.3" stroke-linecap="round" stroke-linejoin="round"/><polyline points="150.6,656.9 152.7,656.5 154.6,656.1 156.5,655.7 158.2,655.2 159.7,654.7 161.2,654.0" fill="none" stroke="#fbdcb2" stroke-width="5.2" stroke-linecap="round" stroke-linejoin="round"/><polyline points="161.2,654.1 162.5,653.4 163.8,652.7 165.0,651.9 166.1,651.1 167.0,650.3 167.9,649.6" fill="none" stroke="#fbdcb2" stroke-width="5.0" stroke-linecap="round" stroke-linejoin="round"/><polyline points="167.9,649.7 168.7,648.9 169.4,648.2 169.9,647.6 170.4,647.0 170.7,646.3 170.9,645.7" fill="none" stroke="#fbdcb2" stroke-width="4.8" stroke-linecap="round" stroke-linejoin="round"/><polyline points="170.9,645.8 171.1,645.2 171.1,644.6 171.1,644.0 170.9,643.4 170.7,642.8 170.4,642.2" fill="none" stroke="#fbdcb2" stroke-width="4.7" stroke-linecap="round" stroke-linejoin="round"/><polyline points="170.4,642.3 170.0,641.7 169.4,641.0 168.8,640.4 168.1,639.7 167.3,639.0 166.4,638.4" fill="none" stroke="#fbdcb2" stroke-width="4.5" stroke-linecap="round" stroke-linejoin="round"/><polyline points="166.4,638.5 165.4,637.9 164.4,637.3 163.3,636.7 162.2,636.2 161.0,635.8 159.7,635.4" fill="none" stroke="#fbdcb2" stroke-width="4.4" stroke-linecap="round" stroke-linejoin="round"/><polyline points="159.7,635.4 158.3,635.1 156.9,634.7 155.4,634.4 153.8,634.1 152.3,633.8 150.8,633.6" fill="none" stroke="#fbdcb2" stroke-width="4.3" stroke-linecap="round" stroke-linejoin="round"/><polyline points="150.8,633.6 149.3,633.4 148.0,633.3 146.7,633.1 145.4,633.0 144.1,632.9 142.8,632.9" fill="none" stroke="#fbdcb2" stroke-width="4.2" stroke-linecap="round" stroke-linejoin="round"/><polyline points="142.8,632.9 141.6,632.9 140.4,632.9 139.2,632.9 138.0,633.0 136.9,633.1 135.7,633.3" fill="none" stroke="#fbdcb2" stroke-width="4.2" stroke-linecap="round" stroke-linejoin="round"/><polyline points="135.7,633.3 134.6,633.4 133.5,633.6 132.4,633.9 131.3,634.1 130.2,634.4 129.1,634.7" fill="none" stroke="#fbdcb2" stroke-width="4.2" stroke-linecap="round" stroke-linejoin="round"/><polyline points="129.1,634.7 128.1,635.1 127.2,635.4 126.3,635.8 125.6,636.3 124.8,636.7 124.2,637.3" fill="none" stroke="#fbdcb2" stroke-width="4.3" stroke-linecap="round" stroke-linejoin="round"/><polyline points="124.2,637.2 123.5,637.8 122.9,638.3 122.4,639.0 122.0,639.6 121.6,640.2 121.3,640.8" fill="none" stroke="#fbdcb2" stroke-width="4.5" stroke-linecap="round" stroke-linejoin="round"/><polyline points="121.3,640.7 121.1,641.3 121.1,641.8 121.1,642.3 121.3,642.9 121.6,643.4 122.0,643.9" fill="none" stroke="#fbdcb2" stroke-width="4.6" stroke-linecap="round" stroke-linejoin="round"/><polyline points="122.0,643.8 122.4,644.3 122.9,644.7 123.5,645.2 124.2,645.6 124.8,645.9 125.6,646.3" fill="none" stroke="#fbdcb2" stroke-width="4.7" stroke-linecap="round" stroke-linejoin="round"/><polyline points="125.6,646.2 126.4,646.5 127.3,646.8 128.2,647.1 129.3,647.3 130.4,647.5 131.5,647.6" fill="none" stroke="#fbdcb2" stroke-width="4.8" stroke-linecap="round" stroke-linejoin="round"/><polyline points="131.5,647.6 132.6,647.7 133.7,647.8 134.7,647.9 135.7,647.8 136.7,647.7 137.8,647.6" fill="none" stroke="#fbdcb2" stroke-width="4.8" stroke-linecap="round" stroke-linejoin="round"/><polyline points="137.8,647.6 138.9,647.4 139.9,647.2 141.0,646.9 142.0,646.6 142.9,646.2 143.7,645.9" fill="none" stroke="#fbdcb2" stroke-width="4.8" stroke-linecap="round" stroke-linejoin="round"/><polyline points="143.7,645.9 144.4,645.6 144.9,645.2 145.3,644.9 145.6,644.5 145.8,644.1 145.9,643.6" fill="none" stroke="#fbdcb2" stroke-width="4.7" stroke-linecap="round" stroke-linejoin="round"/><polyline points="145.9,643.7 145.9,643.2 145.9,642.8 145.7,642.3 145.5,641.9 145.2,641.6 144.9,641.2" fill="none" stroke="#fbdcb2" stroke-width="4.6" stroke-linecap="round" stroke-linejoin="round"/><polyline points="144.9,641.3 144.5,641.0 143.8,640.7 143.1,640.4 142.2,640.2 141.4,640.0 140.5,639.8" fill="none" stroke="#fbdcb2" stroke-width="4.5" stroke-linecap="round" stroke-linejoin="round"/><polyline points="140.5,639.8 139.6,639.6 138.9,639.5 138.2,639.4 137.8,639.2" fill="none" stroke="#fbdcb2" stroke-width="4.5" stroke-linecap="round" stroke-linejoin="round"/></g>
<polygon points="389.8,691.2 581.1,691.2 553.1,626 417.8,626" fill="url(#slabtop)"/><polygon points="389.8,691.2 581.1,691.2 576.3000000000001,711 394.6,711" fill="url(#slabf)"/>
<g filter="url(#sp)"><polyline points="458.6,621.0 457.4,621.7 455.8,622.6 453.9,623.7 451.8,624.9 449.5,626.2 447.2,627.5" fill="none" stroke="#e3d71a" stroke-width="9.7" stroke-linecap="round" stroke-linejoin="round"/><polyline points="447.2,627.6 444.8,628.9 442.6,630.3 440.5,631.6 438.6,632.8 437.0,634.0 435.3,635.2" fill="none" stroke="#e3d71a" stroke-width="10.6" stroke-linecap="round" stroke-linejoin="round"/><polyline points="435.3,635.3 433.7,636.5 432.2,637.6 430.7,638.8 429.3,640.0 428.0,641.2 426.8,642.3" fill="none" stroke="#e3d71a" stroke-width="11.4" stroke-linecap="round" stroke-linejoin="round"/><polyline points="426.8,642.4 425.7,643.5 424.8,644.5 424.0,645.6 423.2,646.6 422.6,647.5 422.0,648.5" fill="none" stroke="#e3d71a" stroke-width="12.1" stroke-linecap="round" stroke-linejoin="round"/><polyline points="422.0,648.5 421.6,649.4 421.2,650.3 421.0,651.3 421.0,652.2 421.1,653.2 421.3,654.2" fill="none" stroke="#e3d71a" stroke-width="12.7" stroke-linecap="round" stroke-linejoin="round"/><polyline points="421.3,654.2 421.7,655.3 422.3,656.3 423.0,657.5 423.8,658.6 424.7,659.7 425.8,660.9" fill="none" stroke="#e3d71a" stroke-width="13.4" stroke-linecap="round" stroke-linejoin="round"/><polyline points="425.8,660.9 427.1,662.0 428.4,663.1 429.9,664.1 431.5,665.1 433.3,666.0 435.1,666.8" fill="none" stroke="#e3d71a" stroke-width="14.1" stroke-linecap="round" stroke-linejoin="round"/><polyline points="435.1,666.9 437.2,667.7 439.3,668.6 441.6,669.4 444.0,670.1 446.5,670.8 449.2,671.5" fill="none" stroke="#e3d71a" stroke-width="14.7" stroke-linecap="round" stroke-linejoin="round"/><polyline points="449.2,671.5 452.0,672.1 454.9,672.7 458.1,673.2 461.5,673.6 465.1,674.1 468.9,674.5" fill="none" stroke="#e3d71a" stroke-width="15.1" stroke-linecap="round" stroke-linejoin="round"/><polyline points="468.9,674.5 472.8,674.9 476.7,675.2 480.6,675.4 484.4,675.5 488.1,675.6 491.6,675.5" fill="none" stroke="#e3d71a" stroke-width="15.4" stroke-linecap="round" stroke-linejoin="round"/><polyline points="491.6,675.5 495.0,675.4 498.5,675.1 501.9,674.8 505.3,674.4 508.6,673.9 511.8,673.4" fill="none" stroke="#e3d71a" stroke-width="15.3" stroke-linecap="round" stroke-linejoin="round"/><polyline points="511.8,673.3 514.9,672.7 517.8,672.1 520.6,671.4 523.2,670.6 525.6,669.8 527.9,668.8" fill="none" stroke="#e3d71a" stroke-width="14.9" stroke-linecap="round" stroke-linejoin="round"/><polyline points="527.9,668.8 530.1,667.8 532.2,666.7 534.1,665.6 535.9,664.5 537.5,663.3 539.0,662.2" fill="none" stroke="#e3d71a" stroke-width="14.3" stroke-linecap="round" stroke-linejoin="round"/><polyline points="539.0,662.1 540.3,661.0 541.5,659.9 542.6,658.9 543.5,657.9 544.2,656.9 544.8,655.9" fill="none" stroke="#e3d71a" stroke-width="13.6" stroke-linecap="round" stroke-linejoin="round"/><polyline points="544.8,655.8 545.2,654.8 545.6,653.8 545.7,652.8 545.8,651.8 545.8,650.7 545.6,649.7" fill="none" stroke="#e3d71a" stroke-width="12.9" stroke-linecap="round" stroke-linejoin="round"/><polyline points="545.6,649.6 545.3,648.6 544.9,647.4 544.4,646.3 543.7,645.1 542.9,644.0 542.0,642.8" fill="none" stroke="#e3d71a" stroke-width="12.2" stroke-linecap="round" stroke-linejoin="round"/><polyline points="542.0,642.8 541.0,641.7 539.9,640.6 538.7,639.6 537.5,638.6 536.1,637.7 534.7,636.8" fill="none" stroke="#e3d71a" stroke-width="11.5" stroke-linecap="round" stroke-linejoin="round"/><polyline points="534.7,636.8 533.2,636.0 531.5,635.2 529.8,634.4 528.0,633.7 526.2,633.0 524.2,632.4" fill="none" stroke="#e3d71a" stroke-width="10.9" stroke-linecap="round" stroke-linejoin="round"/><polyline points="524.2,632.3 522.2,631.7 520.1,631.2 518.0,630.7 515.7,630.3 513.3,629.8 510.9,629.5" fill="none" stroke="#e3d71a" stroke-width="10.5" stroke-linecap="round" stroke-linejoin="round"/><polyline points="510.9,629.5 508.4,629.1 505.8,628.9 503.3,628.6 500.7,628.4 498.2,628.3 495.7,628.1" fill="none" stroke="#e3d71a" stroke-width="10.3" stroke-linecap="round" stroke-linejoin="round"/><polyline points="495.7,628.1 493.2,628.0 490.7,628.0 488.1,627.9 485.5,628.0 483.0,628.0 480.4,628.1" fill="none" stroke="#e3d71a" stroke-width="10.2" stroke-linecap="round" stroke-linejoin="round"/><polyline points="480.4,628.1 478.0,628.3 475.6,628.5 473.4,628.8 471.2,629.2 469.2,629.6 467.3,630.1" fill="none" stroke="#e3d71a" stroke-width="10.3" stroke-linecap="round" stroke-linejoin="round"/><polyline points="467.3,630.2 465.4,630.8 463.7,631.4 462.0,632.2 460.3,632.9 458.8,633.8 457.4,634.6" fill="none" stroke="#e3d71a" stroke-width="10.6" stroke-linecap="round" stroke-linejoin="round"/><polyline points="457.4,634.6 456.1,635.5 454.9,636.3 453.9,637.2 452.9,638.2 452.0,639.2 451.2,640.2" fill="none" stroke="#e3d71a" stroke-width="11.2" stroke-linecap="round" stroke-linejoin="round"/><polyline points="451.2,640.3 450.5,641.4 449.9,642.4 449.5,643.5 449.1,644.6 448.9,645.6 448.8,646.6" fill="none" stroke="#e3d71a" stroke-width="11.9" stroke-linecap="round" stroke-linejoin="round"/><polyline points="448.8,646.6 448.9,647.6 449.1,648.6 449.5,649.6 449.9,650.6 450.5,651.5 451.2,652.5" fill="none" stroke="#e3d71a" stroke-width="12.5" stroke-linecap="round" stroke-linejoin="round"/><polyline points="451.2,652.5 452.0,653.4 452.9,654.3 453.9,655.1 454.9,655.8 456.2,656.5 457.5,657.2" fill="none" stroke="#e3d71a" stroke-width="13.1" stroke-linecap="round" stroke-linejoin="round"/><polyline points="457.5,657.2 459.0,657.8 460.6,658.4 462.3,658.9 464.1,659.4 465.9,659.8 467.7,660.2" fill="none" stroke="#e3d71a" stroke-width="13.6" stroke-linecap="round" stroke-linejoin="round"/><polyline points="467.7,660.3 469.5,660.6 471.2,661.0 473.0,661.2 474.8,661.5 476.5,661.7 478.3,661.9" fill="none" stroke="#e3d71a" stroke-width="13.8" stroke-linecap="round" stroke-linejoin="round"/><polyline points="478.3,661.9 480.2,662.0 482.0,662.1 483.9,662.1 485.8,662.1 487.7,662.1 489.6,662.0" fill="none" stroke="#e3d71a" stroke-width="13.9" stroke-linecap="round" stroke-linejoin="round"/><polyline points="489.6,662.0 491.6,661.9 493.7,661.7 495.8,661.5 498.0,661.2 500.2,661.0 502.4,660.6" fill="none" stroke="#e3d71a" stroke-width="13.8" stroke-linecap="round" stroke-linejoin="round"/><polyline points="502.4,660.6 504.5,660.3 506.4,659.8 508.3,659.4 510.0,658.9 511.5,658.4 513.0,657.7" fill="none" stroke="#e3d71a" stroke-width="13.6" stroke-linecap="round" stroke-linejoin="round"/><polyline points="513.0,657.7 514.3,657.0 515.6,656.3 516.8,655.5 517.9,654.7 518.8,653.9 519.7,653.2" fill="none" stroke="#e3d71a" stroke-width="13.2" stroke-linecap="round" stroke-linejoin="round"/><polyline points="519.7,653.1 520.5,652.4 521.2,651.7 521.7,651.1 522.2,650.4 522.5,649.8 522.7,649.2" fill="none" stroke="#e3d71a" stroke-width="12.7" stroke-linecap="round" stroke-linejoin="round"/><polyline points="522.7,649.2 522.9,648.6 522.9,648.0 522.9,647.4 522.7,646.8 522.5,646.2 522.2,645.6" fill="none" stroke="#e3d71a" stroke-width="12.3" stroke-linecap="round" stroke-linejoin="round"/><polyline points="522.2,645.6 521.8,644.9 521.2,644.3 520.6,643.6 519.9,643.0 519.1,642.3 518.2,641.7" fill="none" stroke="#e3d71a" stroke-width="11.9" stroke-linecap="round" stroke-linejoin="round"/><polyline points="518.2,641.6 517.2,641.0 516.2,640.4 515.1,639.9 514.0,639.4 512.8,639.0 511.5,638.6" fill="none" stroke="#e3d71a" stroke-width="11.5" stroke-linecap="round" stroke-linejoin="round"/><polyline points="511.5,638.5 510.1,638.2 508.7,637.8 507.2,637.5 505.6,637.2 504.1,636.9 502.6,636.7" fill="none" stroke="#e3d71a" stroke-width="11.2" stroke-linecap="round" stroke-linejoin="round"/><polyline points="502.6,636.7 501.1,636.5 499.8,636.3 498.5,636.2 497.2,636.1 495.9,636.0 494.6,636.0" fill="none" stroke="#e3d71a" stroke-width="11.1" stroke-linecap="round" stroke-linejoin="round"/><polyline points="494.6,636.0 493.4,636.0 492.2,636.0 491.0,636.0 489.8,636.1 488.7,636.2 487.5,636.3" fill="none" stroke="#e3d71a" stroke-width="11.1" stroke-linecap="round" stroke-linejoin="round"/><polyline points="487.5,636.3 486.4,636.5 485.3,636.7 484.2,637.0 483.1,637.2 482.0,637.5 480.9,637.8" fill="none" stroke="#e3d71a" stroke-width="11.2" stroke-linecap="round" stroke-linejoin="round"/><polyline points="480.9,637.9 479.9,638.2 479.0,638.6 478.1,639.0 477.4,639.4 476.6,639.9 476.0,640.4" fill="none" stroke="#e3d71a" stroke-width="11.4" stroke-linecap="round" stroke-linejoin="round"/><polyline points="476.0,640.4 475.3,641.0 474.7,641.6 474.2,642.2 473.8,642.8 473.4,643.4 473.1,644.0" fill="none" stroke="#e3d71a" stroke-width="11.7" stroke-linecap="round" stroke-linejoin="round"/><polyline points="473.1,644.1 472.9,644.6 472.9,645.2 472.9,645.7 473.1,646.2 473.4,646.7 473.8,647.2" fill="none" stroke="#e3d71a" stroke-width="12.1" stroke-linecap="round" stroke-linejoin="round"/><polyline points="473.8,647.2 474.2,647.7 474.7,648.1 475.3,648.6 476.0,649.0 476.6,649.3 477.4,649.7" fill="none" stroke="#e3d71a" stroke-width="12.4" stroke-linecap="round" stroke-linejoin="round"/><polyline points="477.4,649.7 478.2,650.0 479.1,650.3 480.0,650.5 481.1,650.7 482.2,650.9 483.3,651.1" fill="none" stroke="#e3d71a" stroke-width="12.6" stroke-linecap="round" stroke-linejoin="round"/><polyline points="483.3,651.1 484.4,651.2 485.5,651.3 486.5,651.3 487.5,651.3 488.5,651.2 489.6,651.1" fill="none" stroke="#e3d71a" stroke-width="12.7" stroke-linecap="round" stroke-linejoin="round"/><polyline points="489.6,651.1 490.7,650.9 491.7,650.6 492.8,650.3 493.8,650.0 494.7,649.7 495.5,649.3" fill="none" stroke="#e3d71a" stroke-width="12.6" stroke-linecap="round" stroke-linejoin="round"/><polyline points="495.5,649.3 496.2,649.0 496.7,648.6 497.1,648.3 497.4,647.9 497.6,647.5 497.7,647.0" fill="none" stroke="#e3d71a" stroke-width="12.4" stroke-linecap="round" stroke-linejoin="round"/><polyline points="497.7,647.0 497.7,646.6 497.7,646.1 497.5,645.7 497.3,645.3 497.0,644.9 496.7,644.6" fill="none" stroke="#e3d71a" stroke-width="12.1" stroke-linecap="round" stroke-linejoin="round"/><polyline points="496.7,644.5 496.3,644.2 495.6,644.0 494.9,643.7 494.0,643.5 493.2,643.3 492.3,643.1" fill="none" stroke="#e3d71a" stroke-width="11.9" stroke-linecap="round" stroke-linejoin="round"/><polyline points="492.3,643.1 491.4,642.9 490.7,642.7 490.0,642.6 489.6,642.5" fill="none" stroke="#e3d71a" stroke-width="11.8" stroke-linecap="round" stroke-linejoin="round"/><polyline points="458.6,620.0 457.4,620.7 455.8,621.6 453.9,622.7 451.8,623.9 449.5,625.2 447.2,626.5" fill="none" stroke="#f6ec22" stroke-width="8.2" stroke-linecap="round" stroke-linejoin="round"/><polyline points="447.2,626.5 444.8,627.9 442.6,629.2 440.5,630.6 438.6,631.8 437.0,633.0 435.3,634.2" fill="none" stroke="#f6ec22" stroke-width="8.9" stroke-linecap="round" stroke-linejoin="round"/><polyline points="435.3,634.1 433.7,635.3 432.2,636.5 430.7,637.7 429.3,638.9 428.0,640.0 426.8,641.2" fill="none" stroke="#f6ec22" stroke-width="9.5" stroke-linecap="round" stroke-linejoin="round"/><polyline points="426.8,641.2 425.7,642.3 424.8,643.3 424.0,644.4 423.2,645.4 422.6,646.3 422.0,647.3" fill="none" stroke="#f6ec22" stroke-width="10.2" stroke-linecap="round" stroke-linejoin="round"/><polyline points="422.0,647.2 421.6,648.2 421.2,649.1 421.0,650.0 421.0,650.9 421.1,651.9 421.3,652.9" fill="none" stroke="#f6ec22" stroke-width="10.7" stroke-linecap="round" stroke-linejoin="round"/><polyline points="421.3,652.9 421.7,653.9 422.3,655.0 423.0,656.1 423.8,657.3 424.7,658.4 425.8,659.5" fill="none" stroke="#f6ec22" stroke-width="11.3" stroke-linecap="round" stroke-linejoin="round"/><polyline points="425.8,659.5 427.1,660.6 428.4,661.7 429.9,662.7 431.5,663.6 433.3,664.5 435.1,665.4" fill="none" stroke="#f6ec22" stroke-width="11.9" stroke-linecap="round" stroke-linejoin="round"/><polyline points="435.1,665.4 437.2,666.3 439.3,667.1 441.6,667.9 444.0,668.6 446.5,669.3 449.2,670.0" fill="none" stroke="#f6ec22" stroke-width="12.4" stroke-linecap="round" stroke-linejoin="round"/><polyline points="449.2,670.0 452.0,670.6 454.9,671.1 458.1,671.6 461.5,672.1 465.1,672.6 468.9,673.0" fill="none" stroke="#f6ec22" stroke-width="12.7" stroke-linecap="round" stroke-linejoin="round"/><polyline points="468.9,673.0 472.8,673.3 476.7,673.6 480.6,673.8 484.4,674.0 488.1,674.0 491.6,674.0" fill="none" stroke="#f6ec22" stroke-width="12.9" stroke-linecap="round" stroke-linejoin="round"/><polyline points="491.6,674.0 495.0,673.8 498.5,673.6 501.9,673.3 505.3,672.9 508.6,672.4 511.8,671.8" fill="none" stroke="#f6ec22" stroke-width="12.8" stroke-linecap="round" stroke-linejoin="round"/><polyline points="511.8,671.8 514.9,671.2 517.8,670.6 520.6,669.9 523.2,669.1 525.6,668.3 527.9,667.3" fill="none" stroke="#f6ec22" stroke-width="12.5" stroke-linecap="round" stroke-linejoin="round"/><polyline points="527.9,667.4 530.1,666.4 532.2,665.3 534.1,664.2 535.9,663.0 537.5,661.9 539.0,660.7" fill="none" stroke="#f6ec22" stroke-width="12.0" stroke-linecap="round" stroke-linejoin="round"/><polyline points="539.0,660.7 540.3,659.6 541.5,658.6 542.6,657.5 543.5,656.5 544.2,655.5 544.8,654.5" fill="none" stroke="#f6ec22" stroke-width="11.4" stroke-linecap="round" stroke-linejoin="round"/><polyline points="544.8,654.5 545.2,653.5 545.6,652.5 545.7,651.5 545.8,650.5 545.8,649.5 545.6,648.4" fill="none" stroke="#f6ec22" stroke-width="10.8" stroke-linecap="round" stroke-linejoin="round"/><polyline points="545.6,648.4 545.3,647.3 544.9,646.2 544.4,645.1 543.7,643.9 542.9,642.8 542.0,641.6" fill="none" stroke="#f6ec22" stroke-width="10.2" stroke-linecap="round" stroke-linejoin="round"/><polyline points="542.0,641.6 541.0,640.5 539.9,639.4 538.7,638.4 537.5,637.5 536.1,636.6 534.7,635.7" fill="none" stroke="#f6ec22" stroke-width="9.6" stroke-linecap="round" stroke-linejoin="round"/><polyline points="534.7,635.7 533.2,634.9 531.5,634.1 529.8,633.3 528.0,632.6 526.2,631.9 524.2,631.3" fill="none" stroke="#f6ec22" stroke-width="9.1" stroke-linecap="round" stroke-linejoin="round"/><polyline points="524.2,631.3 522.2,630.7 520.1,630.2 518.0,629.7 515.7,629.2 513.3,628.8 510.9,628.4" fill="none" stroke="#f6ec22" stroke-width="8.8" stroke-linecap="round" stroke-linejoin="round"/><polyline points="510.9,628.4 508.4,628.1 505.8,627.8 503.3,627.6 500.7,627.4 498.2,627.2 495.7,627.1" fill="none" stroke="#f6ec22" stroke-width="8.6" stroke-linecap="round" stroke-linejoin="round"/><polyline points="495.7,627.1 493.2,627.0 490.7,627.0 488.1,626.9 485.5,626.9 483.0,627.0 480.4,627.1" fill="none" stroke="#f6ec22" stroke-width="8.5" stroke-linecap="round" stroke-linejoin="round"/><polyline points="480.4,627.1 478.0,627.2 475.6,627.5 473.4,627.8 471.2,628.1 469.2,628.6 467.3,629.1" fill="none" stroke="#f6ec22" stroke-width="8.6" stroke-linecap="round" stroke-linejoin="round"/><polyline points="467.3,629.1 465.4,629.7 463.7,630.4 462.0,631.1 460.3,631.9 458.8,632.7 457.4,633.5" fill="none" stroke="#f6ec22" stroke-width="8.9" stroke-linecap="round" stroke-linejoin="round"/><polyline points="457.4,633.5 456.1,634.4 454.9,635.2 453.9,636.1 452.9,637.1 452.0,638.1 451.2,639.1" fill="none" stroke="#f6ec22" stroke-width="9.4" stroke-linecap="round" stroke-linejoin="round"/><polyline points="451.2,639.1 450.5,640.2 449.9,641.2 449.5,642.3 449.1,643.4 448.9,644.4 448.8,645.4" fill="none" stroke="#f6ec22" stroke-width="10.0" stroke-linecap="round" stroke-linejoin="round"/><polyline points="448.8,645.4 448.9,646.3 449.1,647.3 449.5,648.3 449.9,649.3 450.5,650.3 451.2,651.2" fill="none" stroke="#f6ec22" stroke-width="10.5" stroke-linecap="round" stroke-linejoin="round"/><polyline points="451.2,651.2 452.0,652.1 452.9,653.0 453.9,653.8 454.9,654.5 456.2,655.2 457.5,655.9" fill="none" stroke="#f6ec22" stroke-width="11.0" stroke-linecap="round" stroke-linejoin="round"/><polyline points="457.5,655.8 459.0,656.4 460.6,657.0 462.3,657.5 464.1,658.0 465.9,658.5 467.7,658.9" fill="none" stroke="#f6ec22" stroke-width="11.4" stroke-linecap="round" stroke-linejoin="round"/><polyline points="467.7,658.9 469.5,659.2 471.2,659.6 473.0,659.9 474.8,660.1 476.5,660.3 478.3,660.5" fill="none" stroke="#f6ec22" stroke-width="11.6" stroke-linecap="round" stroke-linejoin="round"/><polyline points="478.3,660.5 480.2,660.6 482.0,660.7 483.9,660.7 485.8,660.7 487.7,660.7 489.6,660.6" fill="none" stroke="#f6ec22" stroke-width="11.7" stroke-linecap="round" stroke-linejoin="round"/><polyline points="489.6,660.6 491.6,660.5 493.7,660.3 495.8,660.1 498.0,659.9 500.2,659.6 502.4,659.2" fill="none" stroke="#f6ec22" stroke-width="11.6" stroke-linecap="round" stroke-linejoin="round"/><polyline points="502.4,659.3 504.5,658.9 506.4,658.5 508.3,658.0 510.0,657.5 511.5,657.0 513.0,656.4" fill="none" stroke="#f6ec22" stroke-width="11.4" stroke-linecap="round" stroke-linejoin="round"/><polyline points="513.0,656.4 514.3,655.7 515.6,655.0 516.8,654.2 517.9,653.4 518.8,652.6 519.7,651.9" fill="none" stroke="#f6ec22" stroke-width="11.1" stroke-linecap="round" stroke-linejoin="round"/><polyline points="519.7,651.9 520.5,651.1 521.2,650.4 521.7,649.8 522.2,649.2 522.5,648.5 522.7,647.9" fill="none" stroke="#f6ec22" stroke-width="10.7" stroke-linecap="round" stroke-linejoin="round"/><polyline points="522.7,647.9 522.9,647.3 522.9,646.7 522.9,646.2 522.7,645.6 522.5,645.0 522.2,644.4" fill="none" stroke="#f6ec22" stroke-width="10.3" stroke-linecap="round" stroke-linejoin="round"/><polyline points="522.2,644.4 521.8,643.7 521.2,643.1 520.6,642.4 519.9,641.8 519.1,641.1 518.2,640.5" fill="none" stroke="#f6ec22" stroke-width="10.0" stroke-linecap="round" stroke-linejoin="round"/><polyline points="518.2,640.5 517.2,639.9 516.2,639.3 515.1,638.8 514.0,638.3 512.8,637.8 511.5,637.4" fill="none" stroke="#f6ec22" stroke-width="9.7" stroke-linecap="round" stroke-linejoin="round"/><polyline points="511.5,637.4 510.1,637.0 508.7,636.7 507.2,636.4 505.6,636.1 504.1,635.8 502.6,635.6" fill="none" stroke="#f6ec22" stroke-width="9.4" stroke-linecap="round" stroke-linejoin="round"/><polyline points="502.6,635.6 501.1,635.4 499.8,635.2 498.5,635.1 497.2,635.0 495.9,634.9 494.6,634.9" fill="none" stroke="#f6ec22" stroke-width="9.3" stroke-linecap="round" stroke-linejoin="round"/><polyline points="494.6,634.9 493.4,634.8 492.2,634.9 491.0,634.9 489.8,635.0 488.7,635.1 487.5,635.2" fill="none" stroke="#f6ec22" stroke-width="9.3" stroke-linecap="round" stroke-linejoin="round"/><polyline points="487.5,635.2 486.4,635.4 485.3,635.6 484.2,635.8 483.1,636.1 482.0,636.4 480.9,636.7" fill="none" stroke="#f6ec22" stroke-width="9.4" stroke-linecap="round" stroke-linejoin="round"/><polyline points="480.9,636.7 479.9,637.1 479.0,637.4 478.1,637.8 477.4,638.3 476.6,638.7 476.0,639.3" fill="none" stroke="#f6ec22" stroke-width="9.6" stroke-linecap="round" stroke-linejoin="round"/><polyline points="476.0,639.3 475.3,639.8 474.7,640.4 474.2,641.0 473.8,641.6 473.4,642.3 473.1,642.9" fill="none" stroke="#f6ec22" stroke-width="9.9" stroke-linecap="round" stroke-linejoin="round"/><polyline points="473.1,642.8 472.9,643.4 472.9,644.0 472.9,644.5 473.1,645.0 473.4,645.5 473.8,646.0" fill="none" stroke="#f6ec22" stroke-width="10.2" stroke-linecap="round" stroke-linejoin="round"/><polyline points="473.8,646.0 474.2,646.4 474.7,646.9 475.3,647.3 476.0,647.7 476.6,648.1 477.4,648.4" fill="none" stroke="#f6ec22" stroke-width="10.4" stroke-linecap="round" stroke-linejoin="round"/><polyline points="477.4,648.4 478.2,648.7 479.1,649.0 480.0,649.2 481.1,649.5 482.2,649.7 483.3,649.8" fill="none" stroke="#f6ec22" stroke-width="10.6" stroke-linecap="round" stroke-linejoin="round"/><polyline points="483.3,649.8 484.4,650.0 485.5,650.0 486.5,650.1 487.5,650.0 488.5,650.0 489.6,649.8" fill="none" stroke="#f6ec22" stroke-width="10.7" stroke-linecap="round" stroke-linejoin="round"/><polyline points="489.6,649.8 490.7,649.6 491.7,649.4 492.8,649.1 493.8,648.8 494.7,648.4 495.5,648.1" fill="none" stroke="#f6ec22" stroke-width="10.6" stroke-linecap="round" stroke-linejoin="round"/><polyline points="495.5,648.1 496.2,647.7 496.7,647.4 497.1,647.0 497.4,646.6 497.6,646.2 497.7,645.8" fill="none" stroke="#f6ec22" stroke-width="10.4" stroke-linecap="round" stroke-linejoin="round"/><polyline points="497.7,645.8 497.7,645.3 497.7,644.9 497.5,644.5 497.3,644.0 497.0,643.7 496.7,643.3" fill="none" stroke="#f6ec22" stroke-width="10.2" stroke-linecap="round" stroke-linejoin="round"/><polyline points="496.7,643.3 496.3,643.1 495.6,642.8 494.9,642.5 494.0,642.3 493.2,642.1 492.3,641.9" fill="none" stroke="#f6ec22" stroke-width="10.0" stroke-linecap="round" stroke-linejoin="round"/><polyline points="492.3,641.9 491.4,641.7 490.7,641.6 490.0,641.4 489.6,641.3" fill="none" stroke="#f6ec22" stroke-width="9.9" stroke-linecap="round" stroke-linejoin="round"/><polyline points="458.3,618.5 457.1,619.2 455.5,620.1 453.6,621.2 451.5,622.4 449.2,623.7 446.9,625.1" fill="none" stroke="#fffa6a" stroke-width="3.7" stroke-linecap="round" stroke-linejoin="round"/><polyline points="446.9,624.9 444.5,626.3 442.3,627.7 440.2,629.0 438.3,630.2 436.7,631.4 435.0,632.6" fill="none" stroke="#fffa6a" stroke-width="4.0" stroke-linecap="round" stroke-linejoin="round"/><polyline points="435.0,632.4 433.4,633.6 431.9,634.8 430.4,636.0 429.0,637.2 427.7,638.3 426.5,639.5" fill="none" stroke="#fffa6a" stroke-width="4.3" stroke-linecap="round" stroke-linejoin="round"/><polyline points="426.5,639.3 425.4,640.4 424.5,641.5 423.7,642.6 422.9,643.6 422.3,644.5 421.7,645.4" fill="none" stroke="#fffa6a" stroke-width="4.6" stroke-linecap="round" stroke-linejoin="round"/><polyline points="421.7,645.3 421.3,646.2 420.9,647.2 420.7,648.1 420.7,649.0 420.8,650.0 421.0,651.0" fill="none" stroke="#fffa6a" stroke-width="4.8" stroke-linecap="round" stroke-linejoin="round"/><polyline points="421.0,650.9 421.4,651.9 422.0,653.0 422.7,654.1 423.5,655.2 424.4,656.4 425.5,657.5" fill="none" stroke="#fffa6a" stroke-width="5.1" stroke-linecap="round" stroke-linejoin="round"/><polyline points="425.5,657.4 426.8,658.5 428.1,659.5 429.6,660.6 431.2,661.5 433.0,662.4 434.8,663.3" fill="none" stroke="#fffa6a" stroke-width="5.4" stroke-linecap="round" stroke-linejoin="round"/><polyline points="434.8,663.2 436.9,664.1 439.0,664.9 441.3,665.7 443.7,666.4 446.2,667.1 448.9,667.8" fill="none" stroke="#fffa6a" stroke-width="5.6" stroke-linecap="round" stroke-linejoin="round"/><polyline points="448.9,667.7 451.7,668.3 454.6,668.9 457.8,669.4 461.2,669.9 464.8,670.3 468.6,670.7" fill="none" stroke="#fffa6a" stroke-width="5.7" stroke-linecap="round" stroke-linejoin="round"/><polyline points="468.6,670.7 472.5,671.0 476.4,671.3 480.3,671.5 484.1,671.7 487.8,671.7 491.3,671.7" fill="none" stroke="#fffa6a" stroke-width="5.8" stroke-linecap="round" stroke-linejoin="round"/><polyline points="491.3,671.7 494.7,671.5 498.2,671.3 501.6,671.0 505.0,670.6 508.3,670.1 511.5,669.5" fill="none" stroke="#fffa6a" stroke-width="5.8" stroke-linecap="round" stroke-linejoin="round"/><polyline points="511.5,669.6 514.6,669.0 517.5,668.3 520.3,667.6 522.9,666.9 525.3,666.0 527.6,665.1" fill="none" stroke="#fffa6a" stroke-width="5.7" stroke-linecap="round" stroke-linejoin="round"/><polyline points="527.6,665.2 529.8,664.2 531.9,663.1 533.8,662.0 535.6,660.9 537.2,659.7 538.7,658.6" fill="none" stroke="#fffa6a" stroke-width="5.4" stroke-linecap="round" stroke-linejoin="round"/><polyline points="538.7,658.7 540.0,657.6 541.2,656.5 542.3,655.5 543.2,654.5 543.9,653.5 544.5,652.5" fill="none" stroke="#fffa6a" stroke-width="5.2" stroke-linecap="round" stroke-linejoin="round"/><polyline points="544.5,652.6 544.9,651.6 545.3,650.6 545.4,649.6 545.5,648.6 545.5,647.5 545.3,646.5" fill="none" stroke="#fffa6a" stroke-width="4.9" stroke-linecap="round" stroke-linejoin="round"/><polyline points="545.3,646.6 545.0,645.5 544.6,644.4 544.1,643.2 543.4,642.1 542.6,640.9 541.7,639.8" fill="none" stroke="#fffa6a" stroke-width="4.6" stroke-linecap="round" stroke-linejoin="round"/><polyline points="541.7,639.9 540.7,638.8 539.6,637.7 538.4,636.7 537.2,635.7 535.8,634.8 534.4,634.0" fill="none" stroke="#fffa6a" stroke-width="4.4" stroke-linecap="round" stroke-linejoin="round"/><polyline points="534.4,634.1 532.9,633.2 531.2,632.4 529.5,631.7 527.7,631.0 525.9,630.3 523.9,629.6" fill="none" stroke="#fffa6a" stroke-width="4.1" stroke-linecap="round" stroke-linejoin="round"/><polyline points="523.9,629.7 521.9,629.1 519.8,628.6 517.7,628.1 515.4,627.6 513.0,627.2 510.6,626.9" fill="none" stroke="#fffa6a" stroke-width="4.0" stroke-linecap="round" stroke-linejoin="round"/><polyline points="510.6,626.9 508.1,626.6 505.5,626.3 503.0,626.1 500.4,625.9 497.9,625.7 495.4,625.6" fill="none" stroke="#fffa6a" stroke-width="3.9" stroke-linecap="round" stroke-linejoin="round"/><polyline points="495.4,625.6 492.9,625.5 490.4,625.4 487.8,625.4 485.2,625.4 482.7,625.5 480.1,625.6" fill="none" stroke="#fffa6a" stroke-width="3.9" stroke-linecap="round" stroke-linejoin="round"/><polyline points="480.1,625.5 477.7,625.7 475.3,625.9 473.1,626.2 470.9,626.6 468.9,627.0 467.0,627.6" fill="none" stroke="#fffa6a" stroke-width="3.9" stroke-linecap="round" stroke-linejoin="round"/><polyline points="467.0,627.5 465.1,628.1 463.4,628.8 461.7,629.5 460.0,630.3 458.5,631.1 457.1,631.9" fill="none" stroke="#fffa6a" stroke-width="4.0" stroke-linecap="round" stroke-linejoin="round"/><polyline points="457.1,631.8 455.8,632.7 454.6,633.5 453.6,634.4 452.6,635.4 451.7,636.4 450.9,637.4" fill="none" stroke="#fffa6a" stroke-width="4.3" stroke-linecap="round" stroke-linejoin="round"/><polyline points="450.9,637.3 450.2,638.4 449.6,639.5 449.2,640.5 448.8,641.6 448.6,642.6 448.5,643.6" fill="none" stroke="#fffa6a" stroke-width="4.5" stroke-linecap="round" stroke-linejoin="round"/><polyline points="448.5,643.5 448.6,644.5 448.8,645.4 449.2,646.4 449.6,647.4 450.2,648.4 450.9,649.3" fill="none" stroke="#fffa6a" stroke-width="4.8" stroke-linecap="round" stroke-linejoin="round"/><polyline points="450.9,649.2 451.7,650.1 452.6,651.0 453.6,651.8 454.6,652.5 455.9,653.2 457.2,653.9" fill="none" stroke="#fffa6a" stroke-width="5.0" stroke-linecap="round" stroke-linejoin="round"/><polyline points="457.2,653.8 458.7,654.4 460.3,655.0 462.0,655.5 463.8,656.0 465.6,656.5 467.4,656.9" fill="none" stroke="#fffa6a" stroke-width="5.2" stroke-linecap="round" stroke-linejoin="round"/><polyline points="467.4,656.8 469.2,657.2 470.9,657.5 472.7,657.8 474.5,658.0 476.2,658.2 478.0,658.4" fill="none" stroke="#fffa6a" stroke-width="5.3" stroke-linecap="round" stroke-linejoin="round"/><polyline points="478.0,658.4 479.9,658.5 481.7,658.6 483.6,658.6 485.5,658.6 487.4,658.6 489.3,658.5" fill="none" stroke="#fffa6a" stroke-width="5.3" stroke-linecap="round" stroke-linejoin="round"/><polyline points="489.3,658.5 491.3,658.4 493.4,658.2 495.5,658.0 497.7,657.8 499.9,657.5 502.1,657.2" fill="none" stroke="#fffa6a" stroke-width="5.3" stroke-linecap="round" stroke-linejoin="round"/><polyline points="502.1,657.2 504.2,656.8 506.1,656.4 508.0,656.0 509.7,655.5 511.2,655.0 512.7,654.3" fill="none" stroke="#fffa6a" stroke-width="5.2" stroke-linecap="round" stroke-linejoin="round"/><polyline points="512.7,654.4 514.0,653.7 515.3,653.0 516.5,652.2 517.6,651.4 518.5,650.6 519.4,649.9" fill="none" stroke="#fffa6a" stroke-width="5.0" stroke-linecap="round" stroke-linejoin="round"/><polyline points="519.4,650.0 520.2,649.2 520.9,648.5 521.4,647.9 521.9,647.3 522.2,646.6 522.4,646.0" fill="none" stroke="#fffa6a" stroke-width="4.8" stroke-linecap="round" stroke-linejoin="round"/><polyline points="522.4,646.1 522.6,645.5 522.6,644.9 522.6,644.3 522.4,643.7 522.2,643.1 521.9,642.5" fill="none" stroke="#fffa6a" stroke-width="4.7" stroke-linecap="round" stroke-linejoin="round"/><polyline points="521.9,642.6 521.5,642.0 520.9,641.3 520.3,640.7 519.6,640.0 518.8,639.3 517.9,638.7" fill="none" stroke="#fffa6a" stroke-width="4.5" stroke-linecap="round" stroke-linejoin="round"/><polyline points="517.9,638.8 516.9,638.2 515.9,637.6 514.8,637.0 513.7,636.5 512.5,636.1 511.2,635.7" fill="none" stroke="#fffa6a" stroke-width="4.4" stroke-linecap="round" stroke-linejoin="round"/><polyline points="511.2,635.7 509.8,635.4 508.4,635.0 506.9,634.7 505.3,634.4 503.8,634.1 502.3,633.9" fill="none" stroke="#fffa6a" stroke-width="4.3" stroke-linecap="round" stroke-linejoin="round"/><polyline points="502.3,633.9 500.8,633.7 499.5,633.6 498.2,633.4 496.9,633.3 495.6,633.2 494.3,633.2" fill="none" stroke="#fffa6a" stroke-width="4.2" stroke-linecap="round" stroke-linejoin="round"/><polyline points="494.3,633.2 493.1,633.2 491.9,633.2 490.7,633.2 489.5,633.3 488.4,633.4 487.2,633.6" fill="none" stroke="#fffa6a" stroke-width="4.2" stroke-linecap="round" stroke-linejoin="round"/><polyline points="487.2,633.6 486.1,633.7 485.0,633.9 483.9,634.2 482.8,634.4 481.7,634.7 480.6,635.0" fill="none" stroke="#fffa6a" stroke-width="4.2" stroke-linecap="round" stroke-linejoin="round"/><polyline points="480.6,635.0 479.6,635.4 478.7,635.7 477.8,636.1 477.1,636.6 476.3,637.0 475.7,637.6" fill="none" stroke="#fffa6a" stroke-width="4.3" stroke-linecap="round" stroke-linejoin="round"/><polyline points="475.7,637.5 475.0,638.1 474.4,638.6 473.9,639.3 473.5,639.9 473.1,640.5 472.8,641.1" fill="none" stroke="#fffa6a" stroke-width="4.5" stroke-linecap="round" stroke-linejoin="round"/><polyline points="472.8,641.0 472.6,641.6 472.6,642.1 472.6,642.6 472.8,643.2 473.1,643.7 473.5,644.2" fill="none" stroke="#fffa6a" stroke-width="4.6" stroke-linecap="round" stroke-linejoin="round"/><polyline points="473.5,644.1 473.9,644.6 474.4,645.0 475.0,645.5 475.7,645.9 476.3,646.2 477.1,646.6" fill="none" stroke="#fffa6a" stroke-width="4.7" stroke-linecap="round" stroke-linejoin="round"/><polyline points="477.1,646.5 477.9,646.8 478.8,647.1 479.7,647.4 480.8,647.6 481.9,647.8 483.0,647.9" fill="none" stroke="#fffa6a" stroke-width="4.8" stroke-linecap="round" stroke-linejoin="round"/><polyline points="483.0,647.9 484.1,648.0 485.2,648.1 486.2,648.2 487.2,648.1 488.2,648.0 489.3,647.9" fill="none" stroke="#fffa6a" stroke-width="4.8" stroke-linecap="round" stroke-linejoin="round"/><polyline points="489.3,647.9 490.4,647.7 491.4,647.5 492.5,647.2 493.5,646.9 494.4,646.5 495.2,646.2" fill="none" stroke="#fffa6a" stroke-width="4.8" stroke-linecap="round" stroke-linejoin="round"/><polyline points="495.2,646.2 495.9,645.9 496.4,645.5 496.8,645.2 497.1,644.8 497.3,644.4 497.4,643.9" fill="none" stroke="#fffa6a" stroke-width="4.7" stroke-linecap="round" stroke-linejoin="round"/><polyline points="497.4,644.0 497.4,643.5 497.4,643.1 497.2,642.6 497.0,642.2 496.7,641.9 496.4,641.5" fill="none" stroke="#fffa6a" stroke-width="4.6" stroke-linecap="round" stroke-linejoin="round"/><polyline points="496.4,641.6 496.0,641.3 495.3,641.0 494.6,640.7 493.7,640.5 492.9,640.3 492.0,640.1" fill="none" stroke="#fffa6a" stroke-width="4.5" stroke-linecap="round" stroke-linejoin="round"/><polyline points="492.0,640.1 491.1,639.9 490.4,639.8 489.7,639.7 489.3,639.5" fill="none" stroke="#fffa6a" stroke-width="4.5" stroke-linecap="round" stroke-linejoin="round"/></g>
<polygon points="138.1,487.9 149.3,487.9 149.3,577 154.2,577 143.7,588.5 132.8,577 138.1,577" fill="#7f7f7f"/>
<polygon points="269.3,663.5 359.5,663.5 359.5,658.5 370.2,669 359.5,679.3 359.5,674.3 269.3,674.3" fill="#7f7f7f"/>
<text x="57.2" y="540.6" font-size="21.8" fill="#111" stroke="#111" stroke-width="0.3">HAuCl<tspan font-size="14.5" dy="5">4</tspan></text>
<text x="289" y="702.6" font-size="22.6" fill="#111" stroke="#111" stroke-width="0.3">UV/O<tspan font-size="15" dy="5">3</tspan></text>
<line x1="196.6" y1="622.7" x2="308.5" y2="447.7" stroke="#6a6a6a" stroke-width="0.8"/>
<line x1="212.9" y1="640.6" x2="421.4" y2="541" stroke="#6a6a6a" stroke-width="0.8"/>
<circle cx="195.6" cy="640" r="16.8" fill="none" stroke="#222" stroke-width="1.6"/>
<clipPath id="ins"><rect x="308.5" y="349" width="229.9" height="192"/></clipPath>
<rect x="308.5" y="349" width="229.9" height="192" fill="#fff"/>
<path d="M308.5,461.2 C362.8,461.2 396,491.4 396,541 L308.5,541 Z" fill="#f6d6a2"/>
<rect x="308.5" y="349" width="229.9" height="192" fill="none" stroke="#111" stroke-width="2"/>
<line x1="339.4" y1="413.7" x2="333.5" y2="461.9" stroke="#444" stroke-width="0.9"/>
<line x1="413.6" y1="461.9" x2="381" y2="488.8" stroke="#6a6a6a" stroke-width="0.8"/>
<text x="326" y="389" font-size="16" fill="#111" stroke="#111" stroke-width="0.4">+</text>
<text x="334.6" y="408" font-size="18.5" fill="#111" stroke="#111" stroke-width="0.25">NH<tspan font-size="12.5" dy="4.5">3</tspan></text>
<text x="374.6" y="390.6" font-size="18.5" fill="#111" stroke="#111" stroke-width="0.25">AuCl<tspan font-size="12.5" dy="4.5">4</tspan><tspan font-size="13" dy="-14" dx="5.5">-</tspan></text>
<text x="414" y="440" font-size="16" fill="#111" stroke="#111" stroke-width="0.4">+</text>
<text x="418.5" y="457.2" font-size="18.5" fill="#111" stroke="#111" stroke-width="0.25">OH<tspan font-size="12.5" dy="4.5">2</tspan></text>
<text x="463.7" y="468.6" font-size="18.5" fill="#111" stroke="#111" stroke-width="0.25">AuCl<tspan font-size="12.5" dy="4.5">4</tspan><tspan font-size="13" dy="-14" dx="5.5">-</tspan></text>
<g fill="#15833a"><circle cx="679.5" cy="412.9" r="2.35"/><circle cx="680.4" cy="425.7" r="2.35"/><circle cx="680.9" cy="410.6" r="2.35"/><circle cx="681.4" cy="413.1" r="2.35"/><circle cx="682.4" cy="421.9" r="2.35"/><circle cx="682.5" cy="425.4" r="2.35"/><circle cx="683.5" cy="412.1" r="2.35"/><circle cx="684.2" cy="402.8" r="2.35"/><circle cx="684.5" cy="411.0" r="2.35"/><circle cx="685.8" cy="406.3" r="2.35"/><circle cx="686.4" cy="405.0" r="2.35"/><circle cx="686.7" cy="400.9" r="2.35"/><circle cx="687.7" cy="412.0" r="2.35"/><circle cx="688.5" cy="412.0" r="2.35"/><circle cx="688.8" cy="407.7" r="2.35"/><circle cx="689.9" cy="391.3" r="2.35"/><circle cx="690.2" cy="403.2" r="2.35"/><circle cx="691.1" cy="414.7" r="2.35"/><circle cx="691.5" cy="401.6" r="2.35"/><circle cx="692.7" cy="416.6" r="2.35"/><circle cx="693.3" cy="414.6" r="2.35"/><circle cx="693.5" cy="405.6" r="2.35"/><circle cx="694.2" cy="406.5" r="2.35"/><circle cx="695.2" cy="409.9" r="2.35"/><circle cx="695.4" cy="415.5" r="2.35"/><circle cx="696.3" cy="418.6" r="2.35"/><circle cx="697.4" cy="419.0" r="2.35"/><circle cx="697.8" cy="411.7" r="2.35"/><circle cx="698.6" cy="393.2" r="2.35"/><circle cx="698.9" cy="405.2" r="2.35"/><circle cx="700.0" cy="411.7" r="2.35"/><circle cx="700.8" cy="413.7" r="2.35"/><circle cx="701.1" cy="413.4" r="2.35"/><circle cx="701.6" cy="413.0" r="2.35"/><circle cx="702.4" cy="407.6" r="2.35"/><circle cx="703.5" cy="413.8" r="2.35"/><circle cx="704.3" cy="405.9" r="2.35"/><circle cx="704.5" cy="414.9" r="2.35"/><circle cx="705.3" cy="411.8" r="2.35"/><circle cx="706.2" cy="416.0" r="2.35"/><circle cx="706.9" cy="411.1" r="2.35"/><circle cx="707.7" cy="414.0" r="2.35"/><circle cx="707.8" cy="418.0" r="2.35"/><circle cx="709.0" cy="403.6" r="2.35"/><circle cx="709.3" cy="403.9" r="2.35"/><circle cx="710.0" cy="416.6" r="2.35"/><circle cx="710.7" cy="410.9" r="2.35"/><circle cx="711.2" cy="409.5" r="2.35"/><circle cx="712.3" cy="407.7" r="2.35"/><circle cx="712.5" cy="412.2" r="2.35"/><circle cx="713.9" cy="419.6" r="2.35"/><circle cx="714.0" cy="413.7" r="2.35"/><circle cx="714.9" cy="408.1" r="2.35"/><circle cx="715.5" cy="419.3" r="2.35"/><circle cx="715.9" cy="410.2" r="2.35"/><circle cx="716.9" cy="412.8" r="2.35"/><circle cx="717.8" cy="403.3" r="2.35"/><circle cx="718.6" cy="402.6" r="2.35"/><circle cx="719.1" cy="410.7" r="2.35"/><circle cx="719.6" cy="415.0" r="2.35"/><circle cx="720.1" cy="407.8" r="2.35"/><circle cx="721.0" cy="416.5" r="2.35"/><circle cx="722.1" cy="398.7" r="2.35"/><circle cx="722.4" cy="427.6" r="2.35"/><circle cx="723.1" cy="412.0" r="2.35"/><circle cx="723.6" cy="419.4" r="2.35"/><circle cx="724.4" cy="406.2" r="2.35"/><circle cx="725.5" cy="404.6" r="2.35"/><circle cx="726.1" cy="416.5" r="2.35"/><circle cx="726.4" cy="416.6" r="2.35"/><circle cx="726.9" cy="411.9" r="2.35"/><circle cx="728.1" cy="396.7" r="2.35"/><circle cx="728.4" cy="406.7" r="2.35"/><circle cx="729.3" cy="422.2" r="2.35"/><circle cx="730.0" cy="408.8" r="2.35"/><circle cx="730.7" cy="416.2" r="2.35"/><circle cx="731.1" cy="421.8" r="2.35"/><circle cx="732.1" cy="407.4" r="2.35"/><circle cx="732.5" cy="398.1" r="2.35"/><circle cx="733.4" cy="411.8" r="2.35"/><circle cx="733.7" cy="413.5" r="2.35"/><circle cx="734.8" cy="409.2" r="2.35"/><circle cx="735.3" cy="402.9" r="2.35"/><circle cx="736.2" cy="417.0" r="2.35"/><circle cx="736.6" cy="414.5" r="2.35"/><circle cx="737.6" cy="416.1" r="2.35"/><circle cx="738.0" cy="397.8" r="2.35"/><circle cx="738.9" cy="418.6" r="2.35"/><circle cx="739.8" cy="396.6" r="2.35"/><circle cx="740.2" cy="407.7" r="2.35"/><circle cx="740.6" cy="395.8" r="2.35"/><circle cx="741.5" cy="419.8" r="2.35"/><circle cx="742.3" cy="406.5" r="2.35"/><circle cx="742.6" cy="416.0" r="2.35"/><circle cx="743.7" cy="413.2" r="2.35"/><circle cx="744.2" cy="408.6" r="2.35"/><circle cx="745.0" cy="401.1" r="2.35"/><circle cx="745.7" cy="413.0" r="2.35"/><circle cx="745.9" cy="397.8" r="2.35"/><circle cx="747.1" cy="394.7" r="2.35"/><circle cx="747.4" cy="405.6" r="2.35"/><circle cx="748.0" cy="410.9" r="2.35"/><circle cx="749.0" cy="400.2" r="2.35"/><circle cx="749.4" cy="397.8" r="2.35"/><circle cx="750.2" cy="397.8" r="2.35"/><circle cx="750.7" cy="395.1" r="2.35"/><circle cx="751.7" cy="406.7" r="2.35"/><circle cx="752.5" cy="391.5" r="2.35"/><circle cx="752.9" cy="398.2" r="2.35"/><circle cx="753.7" cy="398.2" r="2.35"/><circle cx="754.3" cy="400.9" r="2.35"/><circle cx="755.4" cy="395.2" r="2.35"/><circle cx="755.7" cy="386.8" r="2.35"/><circle cx="756.2" cy="394.4" r="2.35"/><circle cx="757.2" cy="401.6" r="2.35"/><circle cx="758.2" cy="387.4" r="2.35"/><circle cx="758.8" cy="407.7" r="2.35"/><circle cx="759.3" cy="388.6" r="2.35"/><circle cx="759.8" cy="388.8" r="2.35"/><circle cx="760.6" cy="386.9" r="2.35"/><circle cx="761.6" cy="384.4" r="2.35"/><circle cx="761.9" cy="396.5" r="2.35"/><circle cx="762.9" cy="390.5" r="2.35"/><circle cx="763.4" cy="394.0" r="2.35"/><circle cx="764.1" cy="387.0" r="2.35"/><circle cx="765.0" cy="385.4" r="2.35"/><circle cx="765.3" cy="398.5" r="2.35"/><circle cx="765.9" cy="391.2" r="2.35"/><circle cx="767.1" cy="407.3" r="2.35"/><circle cx="767.7" cy="379.9" r="2.35"/><circle cx="768.2" cy="394.4" r="2.35"/><circle cx="768.8" cy="371.8" r="2.35"/><circle cx="769.4" cy="402.2" r="2.35"/><circle cx="770.2" cy="373.2" r="2.35"/><circle cx="770.7" cy="396.8" r="2.35"/><circle cx="771.6" cy="392.5" r="2.35"/><circle cx="772.2" cy="396.6" r="2.35"/><circle cx="773.1" cy="380.4" r="2.35"/><circle cx="773.2" cy="399.1" r="2.35"/><circle cx="774.6" cy="394.6" r="2.35"/><circle cx="775.1" cy="393.3" r="2.35"/><circle cx="775.4" cy="387.5" r="2.35"/><circle cx="776.6" cy="396.6" r="2.35"/><circle cx="777.0" cy="383.9" r="2.35"/><circle cx="777.8" cy="404.0" r="2.35"/><circle cx="778.1" cy="401.8" r="2.35"/><circle cx="779.2" cy="397.5" r="2.35"/><circle cx="779.6" cy="385.8" r="2.35"/><circle cx="780.3" cy="403.3" r="2.35"/><circle cx="781.0" cy="396.8" r="2.35"/><circle cx="781.9" cy="397.3" r="2.35"/><circle cx="782.3" cy="396.9" r="2.35"/><circle cx="783.1" cy="382.4" r="2.35"/><circle cx="783.8" cy="404.4" r="2.35"/><circle cx="784.2" cy="395.2" r="2.35"/><circle cx="785.2" cy="405.0" r="2.35"/><circle cx="786.0" cy="403.4" r="2.35"/><circle cx="786.8" cy="404.4" r="2.35"/><circle cx="787.1" cy="409.7" r="2.35"/><circle cx="787.7" cy="389.2" r="2.35"/><circle cx="788.4" cy="397.5" r="2.35"/><circle cx="789.5" cy="401.9" r="2.35"/><circle cx="790.1" cy="405.5" r="2.35"/><circle cx="790.8" cy="397.7" r="2.35"/><circle cx="791.6" cy="395.3" r="2.35"/><circle cx="792.0" cy="394.2" r="2.35"/><circle cx="792.7" cy="403.5" r="2.35"/><circle cx="793.4" cy="397.9" r="2.35"/><circle cx="794.3" cy="397.3" r="2.35"/><circle cx="794.9" cy="400.4" r="2.35"/><circle cx="795.6" cy="403.9" r="2.35"/><circle cx="796.2" cy="404.9" r="2.35"/><circle cx="797.1" cy="392.1" r="2.35"/><circle cx="797.1" cy="404.1" r="2.35"/><circle cx="798.4" cy="402.5" r="2.35"/><circle cx="799.1" cy="394.4" r="2.35"/><circle cx="799.6" cy="401.2" r="2.35"/><circle cx="800.5" cy="401.1" r="2.35"/><circle cx="800.6" cy="411.9" r="2.35"/><circle cx="801.3" cy="411.3" r="2.35"/><circle cx="802.3" cy="403.3" r="2.35"/><circle cx="802.8" cy="406.1" r="2.35"/><circle cx="803.3" cy="398.0" r="2.35"/><circle cx="804.4" cy="404.3" r="2.35"/><circle cx="805.2" cy="402.8" r="2.35"/><circle cx="805.5" cy="402.3" r="2.35"/><circle cx="806.4" cy="426.6" r="2.35"/><circle cx="806.9" cy="407.8" r="2.35"/><circle cx="807.4" cy="410.6" r="2.35"/><circle cx="808.5" cy="413.7" r="2.35"/><circle cx="809.1" cy="401.7" r="2.35"/><circle cx="809.8" cy="415.3" r="2.35"/><circle cx="810.3" cy="415.8" r="2.35"/><circle cx="811.3" cy="412.5" r="2.35"/><circle cx="811.8" cy="407.2" r="2.35"/><circle cx="812.4" cy="406.9" r="2.35"/><circle cx="813.3" cy="406.2" r="2.35"/><circle cx="813.9" cy="400.8" r="2.35"/><circle cx="814.2" cy="413.3" r="2.35"/><circle cx="814.9" cy="414.7" r="2.35"/><circle cx="815.9" cy="411.0" r="2.35"/><circle cx="816.5" cy="396.8" r="2.35"/><circle cx="817.1" cy="411.9" r="2.35"/><circle cx="818.1" cy="414.5" r="2.35"/><circle cx="818.3" cy="401.8" r="2.35"/><circle cx="819.4" cy="397.8" r="2.35"/><circle cx="819.8" cy="397.9" r="2.35"/><circle cx="820.8" cy="399.7" r="2.35"/><circle cx="821.6" cy="406.7" r="2.35"/><circle cx="821.9" cy="405.3" r="2.35"/><circle cx="822.5" cy="418.8" r="2.35"/><circle cx="823.3" cy="404.7" r="2.35"/><circle cx="824.0" cy="404.5" r="2.35"/><circle cx="824.9" cy="403.2" r="2.35"/><circle cx="825.6" cy="427.6" r="2.35"/><circle cx="826.1" cy="408.1" r="2.35"/><circle cx="826.9" cy="425.4" r="2.35"/><circle cx="827.4" cy="419.8" r="2.35"/><circle cx="827.9" cy="409.4" r="2.35"/><circle cx="828.5" cy="413.4" r="2.35"/><circle cx="829.8" cy="427.3" r="2.35"/><circle cx="829.9" cy="413.1" r="2.35"/><circle cx="830.9" cy="406.6" r="2.35"/><circle cx="831.5" cy="421.5" r="2.35"/><circle cx="832.2" cy="411.2" r="2.35"/><circle cx="832.7" cy="412.3" r="2.35"/><circle cx="833.5" cy="426.7" r="2.35"/><circle cx="834.1" cy="404.7" r="2.35"/><circle cx="834.8" cy="415.8" r="2.35"/><circle cx="835.5" cy="410.6" r="2.35"/><circle cx="836.2" cy="417.0" r="2.35"/><circle cx="837.3" cy="414.9" r="2.35"/><circle cx="837.6" cy="404.5" r="2.35"/><circle cx="838.5" cy="419.6" r="2.35"/><circle cx="839.1" cy="411.7" r="2.35"/><circle cx="839.9" cy="416.5" r="2.35"/><circle cx="840.3" cy="420.9" r="2.35"/><circle cx="840.9" cy="426.2" r="2.35"/><circle cx="841.6" cy="409.9" r="2.35"/><circle cx="842.2" cy="414.5" r="2.35"/><circle cx="843.1" cy="408.3" r="2.35"/><circle cx="843.7" cy="416.6" r="2.35"/><circle cx="844.5" cy="418.0" r="2.35"/><circle cx="845.4" cy="403.4" r="2.35"/><circle cx="845.7" cy="414.8" r="2.35"/><circle cx="846.9" cy="404.2" r="2.35"/><circle cx="847.4" cy="434.2" r="2.35"/><circle cx="847.6" cy="406.8" r="2.35"/><circle cx="848.3" cy="414.1" r="2.35"/><circle cx="849.0" cy="423.2" r="2.35"/><circle cx="850.0" cy="406.5" r="2.35"/><circle cx="850.6" cy="416.2" r="2.35"/><circle cx="851.1" cy="401.0" r="2.35"/><circle cx="852.0" cy="408.7" r="2.35"/><circle cx="853.0" cy="410.4" r="2.35"/><circle cx="853.1" cy="413.8" r="2.35"/><circle cx="854.0" cy="410.3" r="2.35"/><circle cx="854.7" cy="413.6" r="2.35"/><circle cx="855.3" cy="413.8" r="2.35"/><circle cx="856.5" cy="415.1" r="2.35"/><circle cx="856.6" cy="423.5" r="2.35"/><circle cx="857.5" cy="416.2" r="2.35"/><circle cx="857.9" cy="417.2" r="2.35"/><circle cx="858.9" cy="412.5" r="2.35"/><circle cx="859.8" cy="428.0" r="2.35"/><circle cx="860.0" cy="424.5" r="2.35"/><circle cx="860.6" cy="424.3" r="2.35"/><circle cx="861.7" cy="418.0" r="2.35"/><circle cx="862.2" cy="424.5" r="2.35"/><circle cx="863.3" cy="424.5" r="2.35"/><circle cx="863.5" cy="429.4" r="2.35"/><circle cx="864.1" cy="411.5" r="2.35"/><circle cx="864.7" cy="417.2" r="2.35"/><circle cx="865.9" cy="413.0" r="2.35"/><circle cx="866.6" cy="417.5" r="2.35"/><circle cx="866.8" cy="412.3" r="2.35"/><circle cx="867.6" cy="409.1" r="2.35"/><circle cx="868.5" cy="412.0" r="2.35"/><circle cx="868.9" cy="405.1" r="2.35"/><circle cx="869.5" cy="411.6" r="2.35"/><circle cx="870.3" cy="417.7" r="2.35"/><circle cx="870.9" cy="408.9" r="2.35"/><circle cx="871.8" cy="421.1" r="2.35"/><circle cx="872.6" cy="404.5" r="2.35"/><circle cx="873.5" cy="423.4" r="2.35"/><circle cx="873.9" cy="426.7" r="2.35"/><circle cx="874.5" cy="411.7" r="2.35"/><circle cx="875.6" cy="426.3" r="2.35"/><circle cx="876.1" cy="418.0" r="2.35"/><circle cx="876.8" cy="421.9" r="2.35"/><circle cx="877.2" cy="414.3" r="2.35"/><circle cx="877.8" cy="414.2" r="2.35"/><circle cx="878.5" cy="419.0" r="2.35"/><circle cx="879.0" cy="421.8" r="2.35"/><circle cx="880.2" cy="417.9" r="2.35"/><circle cx="880.4" cy="416.9" r="2.35"/><circle cx="881.1" cy="425.7" r="2.35"/><circle cx="882.4" cy="404.6" r="2.35"/><circle cx="882.8" cy="415.4" r="2.35"/><circle cx="883.3" cy="408.4" r="2.35"/><circle cx="884.0" cy="406.3" r="2.35"/><circle cx="885.0" cy="415.6" r="2.35"/><circle cx="885.6" cy="408.7" r="2.35"/><circle cx="885.9" cy="411.1" r="2.35"/><circle cx="887.0" cy="433.3" r="2.35"/><circle cx="887.7" cy="410.5" r="2.35"/><circle cx="888.0" cy="423.3" r="2.35"/><circle cx="888.9" cy="401.1" r="2.35"/><circle cx="889.5" cy="428.5" r="2.35"/><circle cx="890.6" cy="411.8" r="2.35"/><circle cx="891.0" cy="406.5" r="2.35"/><circle cx="891.4" cy="418.4" r="2.35"/><circle cx="892.5" cy="418.7" r="2.35"/><circle cx="893.3" cy="415.3" r="2.35"/><circle cx="893.4" cy="424.2" r="2.35"/><circle cx="894.6" cy="420.6" r="2.35"/><circle cx="895.0" cy="415.3" r="2.35"/><circle cx="895.5" cy="410.6" r="2.35"/><circle cx="896.4" cy="424.5" r="2.35"/><circle cx="896.9" cy="406.7" r="2.35"/><circle cx="897.7" cy="416.4" r="2.35"/><circle cx="898.7" cy="395.1" r="2.35"/><circle cx="899.4" cy="422.3" r="2.35"/><circle cx="899.6" cy="421.9" r="2.35"/><circle cx="900.7" cy="418.8" r="2.35"/><circle cx="901.0" cy="416.6" r="2.35"/><circle cx="901.6" cy="420.0" r="2.35"/><circle cx="902.3" cy="432.7" r="2.35"/><circle cx="903.4" cy="421.9" r="2.35"/><circle cx="904.2" cy="406.5" r="2.35"/></g>
<g fill="#0c0c0c"><circle cx="679.5" cy="619.6" r="2.1"/><circle cx="679.8" cy="628.9" r="2.1"/><circle cx="680.9" cy="626.0" r="2.1"/><circle cx="681.6" cy="624.4" r="2.1"/><circle cx="682.3" cy="615.4" r="2.1"/><circle cx="683.1" cy="620.8" r="2.1"/><circle cx="683.9" cy="624.1" r="2.1"/><circle cx="685.0" cy="629.2" r="2.1"/><circle cx="685.6" cy="611.5" r="2.1"/><circle cx="686.3" cy="627.2" r="2.1"/><circle cx="686.9" cy="619.7" r="2.1"/><circle cx="687.7" cy="628.7" r="2.1"/><circle cx="688.5" cy="627.9" r="2.1"/><circle cx="688.9" cy="622.7" r="2.1"/><circle cx="689.6" cy="628.0" r="2.1"/><circle cx="690.8" cy="613.9" r="2.1"/><circle cx="691.6" cy="627.9" r="2.1"/><circle cx="692.0" cy="605.4" r="2.1"/><circle cx="693.1" cy="610.3" r="2.1"/><circle cx="693.8" cy="616.2" r="2.1"/><circle cx="694.7" cy="612.5" r="2.1"/><circle cx="695.4" cy="628.7" r="2.1"/><circle cx="696.1" cy="625.7" r="2.1"/><circle cx="696.7" cy="625.0" r="2.1"/><circle cx="697.7" cy="620.3" r="2.1"/><circle cx="698.2" cy="601.2" r="2.1"/><circle cx="698.8" cy="614.1" r="2.1"/><circle cx="699.5" cy="621.5" r="2.1"/><circle cx="700.5" cy="608.2" r="2.1"/><circle cx="701.3" cy="631.4" r="2.1"/><circle cx="701.8" cy="612.6" r="2.1"/><circle cx="702.7" cy="614.2" r="2.1"/><circle cx="703.6" cy="632.6" r="2.1"/><circle cx="704.0" cy="610.2" r="2.1"/><circle cx="704.8" cy="622.6" r="2.1"/><circle cx="706.0" cy="610.9" r="2.1"/><circle cx="706.2" cy="630.1" r="2.1"/><circle cx="707.0" cy="630.9" r="2.1"/><circle cx="707.6" cy="634.4" r="2.1"/><circle cx="708.9" cy="627.0" r="2.1"/><circle cx="709.6" cy="628.1" r="2.1"/><circle cx="710.2" cy="617.2" r="2.1"/><circle cx="711.2" cy="623.1" r="2.1"/><circle cx="711.8" cy="615.3" r="2.1"/><circle cx="712.8" cy="620.3" r="2.1"/><circle cx="712.9" cy="619.3" r="2.1"/><circle cx="714.0" cy="624.8" r="2.1"/><circle cx="714.5" cy="623.8" r="2.1"/><circle cx="715.5" cy="627.8" r="2.1"/><circle cx="716.4" cy="629.9" r="2.1"/><circle cx="716.6" cy="634.9" r="2.1"/><circle cx="718.0" cy="619.1" r="2.1"/><circle cx="718.3" cy="614.0" r="2.1"/><circle cx="719.5" cy="629.1" r="2.1"/><circle cx="719.8" cy="625.0" r="2.1"/><circle cx="720.7" cy="633.8" r="2.1"/><circle cx="721.2" cy="618.4" r="2.1"/><circle cx="721.9" cy="615.7" r="2.1"/><circle cx="722.7" cy="622.3" r="2.1"/><circle cx="723.9" cy="621.8" r="2.1"/><circle cx="724.6" cy="613.7" r="2.1"/><circle cx="725.4" cy="631.5" r="2.1"/><circle cx="726.2" cy="608.5" r="2.1"/><circle cx="727.0" cy="621.3" r="2.1"/><circle cx="727.2" cy="616.2" r="2.1"/><circle cx="728.0" cy="616.5" r="2.1"/><circle cx="728.9" cy="628.9" r="2.1"/><circle cx="729.9" cy="614.4" r="2.1"/><circle cx="730.2" cy="625.0" r="2.1"/><circle cx="731.1" cy="611.3" r="2.1"/><circle cx="731.7" cy="622.5" r="2.1"/><circle cx="732.8" cy="620.0" r="2.1"/><circle cx="733.5" cy="597.6" r="2.1"/><circle cx="733.9" cy="619.2" r="2.1"/><circle cx="735.1" cy="615.1" r="2.1"/><circle cx="735.5" cy="620.0" r="2.1"/><circle cx="736.5" cy="620.3" r="2.1"/><circle cx="737.5" cy="601.7" r="2.1"/><circle cx="737.9" cy="613.4" r="2.1"/><circle cx="738.9" cy="601.2" r="2.1"/><circle cx="739.7" cy="614.2" r="2.1"/><circle cx="740.1" cy="610.7" r="2.1"/><circle cx="741.2" cy="608.1" r="2.1"/><circle cx="741.7" cy="605.1" r="2.1"/><circle cx="742.3" cy="604.9" r="2.1"/><circle cx="743.1" cy="604.0" r="2.1"/><circle cx="743.7" cy="621.4" r="2.1"/><circle cx="744.8" cy="593.5" r="2.1"/><circle cx="745.4" cy="591.3" r="2.1"/><circle cx="746.1" cy="593.0" r="2.1"/><circle cx="747.2" cy="574.4" r="2.1"/><circle cx="747.6" cy="584.9" r="2.1"/><circle cx="748.1" cy="583.0" r="2.1"/><circle cx="749.1" cy="572.0" r="2.1"/><circle cx="750.0" cy="570.7" r="2.1"/><circle cx="751.1" cy="567.5" r="2.1"/><circle cx="751.4" cy="570.0" r="2.1"/><circle cx="752.1" cy="562.0" r="2.1"/><circle cx="753.3" cy="557.4" r="2.1"/><circle cx="753.4" cy="561.3" r="2.1"/><circle cx="754.4" cy="544.1" r="2.1"/><circle cx="755.3" cy="546.4" r="2.1"/><circle cx="756.3" cy="537.2" r="2.1"/><circle cx="756.4" cy="537.8" r="2.1"/><circle cx="757.2" cy="522.2" r="2.1"/><circle cx="758.5" cy="519.7" r="2.1"/><circle cx="759.2" cy="499.6" r="2.1"/><circle cx="760.1" cy="502.6" r="2.1"/><circle cx="760.7" cy="490.9" r="2.1"/><circle cx="761.4" cy="491.1" r="2.1"/><circle cx="761.9" cy="460.8" r="2.1"/><circle cx="762.6" cy="484.7" r="2.1"/><circle cx="763.4" cy="475.9" r="2.1"/><circle cx="764.1" cy="462.4" r="2.1"/><circle cx="765.1" cy="462.4" r="2.1"/><circle cx="765.7" cy="459.9" r="2.1"/><circle cx="766.2" cy="473.1" r="2.1"/><circle cx="767.5" cy="446.6" r="2.1"/><circle cx="767.8" cy="442.9" r="2.1"/><circle cx="769.1" cy="454.1" r="2.1"/><circle cx="769.6" cy="452.1" r="2.1"/><circle cx="770.5" cy="452.3" r="2.1"/><circle cx="771.3" cy="453.0" r="2.1"/><circle cx="771.7" cy="457.8" r="2.1"/><circle cx="772.3" cy="460.4" r="2.1"/><circle cx="773.4" cy="471.9" r="2.1"/><circle cx="773.8" cy="486.4" r="2.1"/><circle cx="774.9" cy="473.8" r="2.1"/><circle cx="775.2" cy="464.8" r="2.1"/><circle cx="776.2" cy="471.6" r="2.1"/><circle cx="776.9" cy="493.1" r="2.1"/><circle cx="778.1" cy="489.3" r="2.1"/><circle cx="778.3" cy="497.7" r="2.1"/><circle cx="779.3" cy="501.3" r="2.1"/><circle cx="780.2" cy="499.0" r="2.1"/><circle cx="780.9" cy="503.3" r="2.1"/><circle cx="781.2" cy="510.5" r="2.1"/><circle cx="782.3" cy="526.7" r="2.1"/><circle cx="783.1" cy="523.4" r="2.1"/><circle cx="783.8" cy="530.8" r="2.1"/><circle cx="784.2" cy="536.2" r="2.1"/><circle cx="784.9" cy="530.7" r="2.1"/><circle cx="785.9" cy="551.0" r="2.1"/><circle cx="787.1" cy="543.2" r="2.1"/><circle cx="787.4" cy="560.2" r="2.1"/><circle cx="788.6" cy="555.8" r="2.1"/><circle cx="789.3" cy="550.4" r="2.1"/><circle cx="789.5" cy="558.1" r="2.1"/><circle cx="790.8" cy="555.1" r="2.1"/><circle cx="791.4" cy="560.6" r="2.1"/><circle cx="792.1" cy="579.6" r="2.1"/><circle cx="792.6" cy="557.1" r="2.1"/><circle cx="793.6" cy="568.8" r="2.1"/><circle cx="794.2" cy="576.0" r="2.1"/><circle cx="795.0" cy="579.2" r="2.1"/><circle cx="795.8" cy="578.2" r="2.1"/><circle cx="796.2" cy="571.2" r="2.1"/><circle cx="797.0" cy="575.1" r="2.1"/><circle cx="798.4" cy="581.8" r="2.1"/><circle cx="799.0" cy="576.3" r="2.1"/><circle cx="799.7" cy="584.6" r="2.1"/><circle cx="800.4" cy="570.4" r="2.1"/><circle cx="801.0" cy="589.5" r="2.1"/><circle cx="801.6" cy="590.6" r="2.1"/><circle cx="802.8" cy="603.2" r="2.1"/><circle cx="803.1" cy="582.5" r="2.1"/><circle cx="803.8" cy="577.7" r="2.1"/><circle cx="804.8" cy="586.9" r="2.1"/><circle cx="805.2" cy="577.7" r="2.1"/><circle cx="806.3" cy="588.9" r="2.1"/><circle cx="807.3" cy="584.1" r="2.1"/><circle cx="807.5" cy="591.6" r="2.1"/><circle cx="808.7" cy="603.4" r="2.1"/><circle cx="809.1" cy="602.6" r="2.1"/><circle cx="810.4" cy="595.1" r="2.1"/><circle cx="810.9" cy="596.0" r="2.1"/><circle cx="811.3" cy="590.4" r="2.1"/><circle cx="812.4" cy="595.8" r="2.1"/><circle cx="813.3" cy="600.6" r="2.1"/><circle cx="813.9" cy="603.4" r="2.1"/><circle cx="814.8" cy="592.1" r="2.1"/><circle cx="815.1" cy="592.9" r="2.1"/><circle cx="815.9" cy="589.5" r="2.1"/><circle cx="816.8" cy="602.9" r="2.1"/><circle cx="817.8" cy="608.0" r="2.1"/><circle cx="818.1" cy="603.0" r="2.1"/><circle cx="818.9" cy="599.6" r="2.1"/><circle cx="819.5" cy="606.6" r="2.1"/><circle cx="820.5" cy="598.5" r="2.1"/><circle cx="821.4" cy="602.3" r="2.1"/><circle cx="822.2" cy="604.6" r="2.1"/><circle cx="822.8" cy="603.2" r="2.1"/><circle cx="823.7" cy="616.7" r="2.1"/><circle cx="824.6" cy="604.5" r="2.1"/><circle cx="824.8" cy="608.8" r="2.1"/><circle cx="825.8" cy="599.5" r="2.1"/><circle cx="826.8" cy="623.6" r="2.1"/><circle cx="827.5" cy="619.8" r="2.1"/><circle cx="827.9" cy="608.5" r="2.1"/><circle cx="829.1" cy="609.2" r="2.1"/><circle cx="829.7" cy="624.2" r="2.1"/><circle cx="830.5" cy="628.4" r="2.1"/><circle cx="830.8" cy="625.3" r="2.1"/><circle cx="831.5" cy="628.9" r="2.1"/><circle cx="832.5" cy="621.8" r="2.1"/><circle cx="833.3" cy="623.7" r="2.1"/><circle cx="833.8" cy="604.0" r="2.1"/><circle cx="835.1" cy="608.4" r="2.1"/><circle cx="835.4" cy="610.1" r="2.1"/><circle cx="836.6" cy="599.8" r="2.1"/><circle cx="836.8" cy="617.9" r="2.1"/><circle cx="837.9" cy="612.4" r="2.1"/><circle cx="838.3" cy="636.9" r="2.1"/><circle cx="839.3" cy="615.4" r="2.1"/><circle cx="840.3" cy="607.0" r="2.1"/><circle cx="841.2" cy="610.9" r="2.1"/><circle cx="841.5" cy="621.2" r="2.1"/><circle cx="842.3" cy="605.6" r="2.1"/><circle cx="843.1" cy="611.4" r="2.1"/><circle cx="844.1" cy="619.6" r="2.1"/><circle cx="844.8" cy="618.4" r="2.1"/><circle cx="845.6" cy="617.7" r="2.1"/><circle cx="846.1" cy="608.6" r="2.1"/><circle cx="846.7" cy="623.7" r="2.1"/><circle cx="847.4" cy="630.5" r="2.1"/><circle cx="848.1" cy="613.1" r="2.1"/><circle cx="849.2" cy="621.0" r="2.1"/><circle cx="849.6" cy="618.8" r="2.1"/><circle cx="850.3" cy="629.6" r="2.1"/><circle cx="851.1" cy="615.2" r="2.1"/><circle cx="851.8" cy="621.6" r="2.1"/><circle cx="852.5" cy="621.7" r="2.1"/><circle cx="853.3" cy="617.5" r="2.1"/><circle cx="854.4" cy="624.3" r="2.1"/><circle cx="855.4" cy="611.1" r="2.1"/><circle cx="856.1" cy="618.3" r="2.1"/><circle cx="856.5" cy="633.1" r="2.1"/><circle cx="857.5" cy="608.6" r="2.1"/><circle cx="858.3" cy="598.3" r="2.1"/><circle cx="859.1" cy="618.5" r="2.1"/><circle cx="859.6" cy="610.7" r="2.1"/><circle cx="860.5" cy="627.4" r="2.1"/><circle cx="861.3" cy="625.7" r="2.1"/><circle cx="861.9" cy="623.4" r="2.1"/><circle cx="862.8" cy="612.9" r="2.1"/><circle cx="863.4" cy="631.9" r="2.1"/><circle cx="863.9" cy="613.9" r="2.1"/><circle cx="864.7" cy="600.2" r="2.1"/><circle cx="865.7" cy="624.2" r="2.1"/><circle cx="866.2" cy="607.4" r="2.1"/><circle cx="867.2" cy="628.7" r="2.1"/><circle cx="867.8" cy="622.6" r="2.1"/><circle cx="868.8" cy="626.5" r="2.1"/><circle cx="869.3" cy="611.6" r="2.1"/><circle cx="869.8" cy="616.5" r="2.1"/><circle cx="870.6" cy="600.2" r="2.1"/><circle cx="871.8" cy="610.8" r="2.1"/><circle cx="872.6" cy="612.4" r="2.1"/><circle cx="873.1" cy="606.1" r="2.1"/><circle cx="874.0" cy="617.8" r="2.1"/><circle cx="874.7" cy="621.7" r="2.1"/><circle cx="875.0" cy="634.7" r="2.1"/><circle cx="876.5" cy="615.9" r="2.1"/><circle cx="876.6" cy="614.3" r="2.1"/><circle cx="877.3" cy="617.2" r="2.1"/><circle cx="878.2" cy="618.6" r="2.1"/><circle cx="879.1" cy="610.9" r="2.1"/><circle cx="880.0" cy="599.8" r="2.1"/><circle cx="880.6" cy="622.2" r="2.1"/><circle cx="881.4" cy="617.2" r="2.1"/><circle cx="882.3" cy="612.1" r="2.1"/><circle cx="883.1" cy="629.3" r="2.1"/><circle cx="883.8" cy="628.4" r="2.1"/><circle cx="884.7" cy="613.6" r="2.1"/><circle cx="885.1" cy="613.8" r="2.1"/><circle cx="886.0" cy="613.3" r="2.1"/><circle cx="886.4" cy="631.2" r="2.1"/><circle cx="887.1" cy="621.5" r="2.1"/><circle cx="888.0" cy="610.9" r="2.1"/><circle cx="888.7" cy="612.5" r="2.1"/><circle cx="889.4" cy="611.2" r="2.1"/><circle cx="890.6" cy="616.4" r="2.1"/><circle cx="891.4" cy="610.9" r="2.1"/><circle cx="891.6" cy="616.4" r="2.1"/><circle cx="892.8" cy="631.1" r="2.1"/><circle cx="893.7" cy="616.6" r="2.1"/><circle cx="894.2" cy="613.7" r="2.1"/><circle cx="895.1" cy="609.1" r="2.1"/><circle cx="895.5" cy="616.9" r="2.1"/><circle cx="896.2" cy="621.6" r="2.1"/><circle cx="897.2" cy="607.1" r="2.1"/><circle cx="897.8" cy="613.3" r="2.1"/><circle cx="898.8" cy="619.7" r="2.1"/><circle cx="899.4" cy="604.6" r="2.1"/><circle cx="900.3" cy="605.7" r="2.1"/><circle cx="900.9" cy="623.1" r="2.1"/><circle cx="901.6" cy="614.0" r="2.1"/><circle cx="902.1" cy="614.0" r="2.1"/><circle cx="903.0" cy="617.5" r="2.1"/><circle cx="904.2" cy="613.4" r="2.1"/></g>
<path d="M724.3,623.1 L725.6,622.9 L726.8,622.6 L728.1,622.2 L729.3,621.9 L730.6,621.4 L731.8,621.0 L733.1,620.5 L734.3,619.9 L735.6,619.3 L736.8,618.6 L738.1,617.9 L739.3,617.1 L740.6,616.2 L741.8,615.3 L743.1,614.3 L744.3,613.2 L745.6,612.0 L746.8,610.8 L748.1,609.5 L749.3,608.2 L750.6,606.8 L751.8,605.3 L753.1,603.8 L754.4,602.3 L755.6,600.7 L756.9,599.0 L758.1,597.4 L759.4,595.7 L760.6,594.0 L761.9,592.4 L763.1,590.7 L764.4,589.1 L765.6,587.5 L766.9,586.0 L768.1,584.5 L769.4,583.2 L770.6,581.9 L771.9,580.7 L773.1,579.6 L774.4,578.7 L775.6,577.8 L776.9,577.2 L778.1,576.6 L779.4,576.2 L780.6,576.0 L781.9,575.9 L783.1,575.9 L784.4,576.1 L785.7,576.4 L786.9,576.9 L788.2,577.5 L789.4,578.3 L790.7,579.1 L791.9,580.0 L793.2,581.1 L794.4,582.2 L795.7,583.4 L796.9,584.6 L798.2,585.9 L799.4,587.2 L800.7,588.6 L801.9,589.9 L803.2,591.3 L804.4,592.7 L805.7,594.0 L806.9,595.3 L808.2,596.6 L809.4,597.8 L810.7,599.0 L811.9,600.2 L813.2,601.3 L814.5,602.3 L815.7,603.3 L817.0,604.3 L818.2,605.1 L819.5,605.9 L820.7,606.7 L822.0,607.4 L823.2,608.0 L824.5,608.6" fill="none" stroke="#3fb28a" stroke-width="1.7" stroke-dasharray="5 3"/>
<path d="M717.4,621.6 L718.5,621.6 L719.7,621.6 L720.8,621.6 L722.0,621.6 L723.2,621.6 L724.3,621.6 L725.5,621.6 L726.6,621.6 L727.8,621.5 L728.9,621.5 L730.1,621.4 L731.2,621.3 L732.4,621.2 L733.5,621.0 L734.7,620.8 L735.8,620.4 L737.0,620.0 L738.1,619.3 L739.3,618.6 L740.4,617.5 L741.6,616.2 L742.7,614.6 L743.9,612.6 L745.0,610.1 L746.2,607.2 L747.3,603.7 L748.5,599.6 L749.6,594.9 L750.8,589.5 L751.9,583.6 L753.1,577.0 L754.2,569.9 L755.4,562.4 L756.5,554.6 L757.7,546.6 L758.8,538.6 L760.0,530.8 L761.1,523.4 L762.3,516.6 L763.4,510.7 L764.6,505.8 L765.8,502.1 L766.9,499.6 L768.1,498.5 L769.2,498.9 L770.4,500.7 L771.5,503.8 L772.7,508.1 L773.8,513.6 L775.0,519.9 L776.1,527.0 L777.3,534.6 L778.4,542.5 L779.6,550.6 L780.7,558.5 L781.9,566.2 L783.0,573.5 L784.2,580.4 L785.3,586.6 L786.5,592.3 L787.6,597.3 L788.8,601.7 L789.9,605.5 L791.1,608.7 L792.2,611.4 L793.4,613.6 L794.5,615.5 L795.7,616.9 L796.8,618.1 L798.0,619.0 L799.1,619.7 L800.3,620.2 L801.4,620.6 L802.6,620.9 L803.7,621.1 L804.9,621.3 L806.0,621.4 L807.2,621.5 L808.3,621.5 L809.5,621.6 L810.7,621.6 L811.8,621.6 L813.0,621.6 L814.1,621.6 L815.3,621.6 L816.4,621.6 L817.6,621.6 L818.7,621.6 L819.9,621.6 L821.0,621.6 L822.2,621.6 L823.3,621.6 L824.5,621.6 L825.6,621.6 L826.8,621.6 L827.9,621.6 L829.1,621.6 L830.2,621.6 L831.4,621.6 L832.5,621.6 L833.7,621.6 L834.8,621.6 L836.0,621.6 L837.1,621.6 L838.3,621.6 L839.4,621.6 L840.6,621.6 L841.7,621.6 L842.9,621.6 L844.0,621.6 L845.2,621.6 L846.3,621.6 L847.5,621.6 L848.6,621.6 L849.8,621.6 L850.9,621.6 L852.1,621.6 L853.3,621.6 L854.4,621.6 L855.6,621.6" fill="none" stroke="#2a3f9e" stroke-width="1.7" stroke-dasharray="5 3"/>
<path d="M679.4,624.4 L680.5,624.4 L681.6,624.4 L682.8,624.4 L683.9,624.4 L685.0,624.4 L686.1,624.4 L687.3,624.3 L688.4,624.3 L689.5,624.3 L690.6,624.3 L691.7,624.3 L692.9,624.3 L694.0,624.3 L695.1,624.2 L696.2,624.2 L697.4,624.2 L698.5,624.2 L699.6,624.1 L700.7,624.1 L701.9,624.1 L703.0,624.0 L704.1,624.0 L705.2,624.0 L706.3,623.9 L707.5,623.9 L708.6,623.8 L709.7,623.8 L710.8,623.7 L712.0,623.6 L713.1,623.5 L714.2,623.4 L715.3,623.3 L716.4,623.2 L717.6,623.0 L718.7,622.9 L719.8,622.7 L720.9,622.5 L722.1,622.3 L723.2,622.1 L724.3,621.8 L725.4,621.5 L726.5,621.2 L727.7,620.8 L728.8,620.4 L729.9,619.9 L731.0,619.3 L732.2,618.7 L733.3,618.0 L734.4,617.1 L735.5,616.2 L736.7,615.1 L737.8,613.8 L738.9,612.3 L740.0,610.5 L741.1,608.4 L742.3,606.0 L743.4,603.1 L744.5,599.8 L745.6,596.1 L746.8,591.7 L747.9,586.8 L749.0,581.2 L750.1,575.0 L751.2,568.1 L752.4,560.6 L753.5,552.5 L754.6,544.0 L755.7,535.0 L756.9,525.7 L758.0,516.3 L759.1,506.9 L760.2,497.8 L761.3,489.1 L762.5,481.1 L763.6,473.9 L764.7,467.7 L765.8,462.6 L767.0,458.9 L768.1,456.6 L769.2,455.7 L770.3,456.2 L771.4,458.1 L772.6,461.3 L773.7,465.6 L774.8,471.0 L775.9,477.2 L777.1,484.0 L778.2,491.3 L779.3,498.9 L780.4,506.5 L781.6,514.1 L782.7,521.4 L783.8,528.5 L784.9,535.2 L786.0,541.4 L787.2,547.1 L788.3,552.3 L789.4,557.1 L790.5,561.3 L791.7,565.2 L792.8,568.6 L793.9,571.7 L795.0,574.5 L796.1,577.0 L797.3,579.2 L798.4,581.3 L799.5,583.2 L800.6,585.0 L801.8,586.7 L802.9,588.3 L804.0,589.8 L805.1,591.2 L806.2,592.6 L807.4,593.9 L808.5,595.2 L809.6,596.4 L810.7,597.6 L811.9,598.7 L813.0,599.7 L814.1,600.7 L815.2,601.7 L816.4,602.6 L817.5,603.5 L818.6,604.3 L819.7,605.0 L820.8,605.7 L822.0,606.4 L823.1,607.0 L824.2,607.6 L825.3,608.1 L826.5,608.6 L827.6,609.0 L828.7,609.4 L829.8,609.8 L830.9,610.1 L832.1,610.4 L833.2,610.7 L834.3,610.9 L835.4,611.2 L836.6,611.4 L837.7,611.5 L838.8,611.7 L839.9,611.8 L841.0,612.0 L842.2,612.1 L843.3,612.2 L844.4,612.3 L845.5,612.3 L846.7,612.4 L847.8,612.5 L848.9,612.5 L850.0,612.6 L851.2,612.6 L852.3,612.7 L853.4,612.7 L854.5,612.7 L855.6,612.7 L856.8,612.8 L857.9,612.8 L859.0,612.8 L860.1,612.8 L861.3,612.8 L862.4,612.9 L863.5,612.9 L864.6,612.9 L865.7,612.9 L866.9,612.9 L868.0,612.9 L869.1,612.9 L870.2,612.9 L871.4,612.9 L872.5,612.9 L873.6,612.9 L874.7,612.9 L875.8,613.0 L877.0,613.0 L878.1,613.0 L879.2,613.0 L880.3,613.0 L881.5,613.0 L882.6,613.0 L883.7,613.0 L884.8,613.0 L885.9,613.0 L887.1,613.0 L888.2,613.0 L889.3,613.0 L890.4,613.0 L891.6,613.0 L892.7,613.0 L893.8,613.0 L894.9,613.0 L896.1,613.0 L897.2,613.0 L898.3,613.0 L899.4,613.0 L900.5,613.0 L901.7,613.0 L902.8,613.0 L903.9,613.1" fill="none" stroke="#e0161c" stroke-width="2.2"/>
<g stroke="#111" stroke-width="1.8"><rect x="679.4" y="330.1" width="224.5" height="336.79999999999995" fill="none" stroke="#111" stroke-width="2.2"/><line x1="679.4" y1="666.9" x2="679.4" y2="672.9"/><line x1="679.4" y1="330.1" x2="679.4" y2="324.1"/><line x1="713.9" y1="666.9" x2="713.9" y2="672.9"/><line x1="713.9" y1="330.1" x2="713.9" y2="324.1"/><line x1="748.5" y1="666.9" x2="748.5" y2="672.9"/><line x1="748.5" y1="330.1" x2="748.5" y2="324.1"/><line x1="783.0" y1="666.9" x2="783.0" y2="672.9"/><line x1="783.0" y1="330.1" x2="783.0" y2="324.1"/><line x1="817.6" y1="666.9" x2="817.6" y2="672.9"/><line x1="817.6" y1="330.1" x2="817.6" y2="324.1"/><line x1="852.1" y1="666.9" x2="852.1" y2="672.9"/><line x1="852.1" y1="330.1" x2="852.1" y2="324.1"/><line x1="886.6" y1="666.9" x2="886.6" y2="672.9"/><line x1="886.6" y1="330.1" x2="886.6" y2="324.1"/><line x1="696.7" y1="666.9" x2="696.7" y2="670.4"/><line x1="696.7" y1="330.1" x2="696.7" y2="326.6"/><line x1="731.2" y1="666.9" x2="731.2" y2="670.4"/><line x1="731.2" y1="330.1" x2="731.2" y2="326.6"/><line x1="765.8" y1="666.9" x2="765.8" y2="670.4"/><line x1="765.8" y1="330.1" x2="765.8" y2="326.6"/><line x1="800.3" y1="666.9" x2="800.3" y2="670.4"/><line x1="800.3" y1="330.1" x2="800.3" y2="326.6"/><line x1="834.8" y1="666.9" x2="834.8" y2="670.4"/><line x1="834.8" y1="330.1" x2="834.8" y2="326.6"/><line x1="869.4" y1="666.9" x2="869.4" y2="670.4"/><line x1="869.4" y1="330.1" x2="869.4" y2="326.6"/><line x1="903.9" y1="666.9" x2="903.9" y2="670.4"/><line x1="903.9" y1="330.1" x2="903.9" y2="326.6"/><line x1="679.4" y1="666.9" x2="673.4" y2="666.9"/><line x1="903.9" y1="666.9" x2="909.9" y2="666.9"/><line x1="679.4" y1="624.8" x2="673.4" y2="624.8"/><line x1="903.9" y1="624.8" x2="909.9" y2="624.8"/><line x1="679.4" y1="582.7" x2="673.4" y2="582.7"/><line x1="903.9" y1="582.7" x2="909.9" y2="582.7"/><line x1="679.4" y1="540.6" x2="673.4" y2="540.6"/><line x1="903.9" y1="540.6" x2="909.9" y2="540.6"/><line x1="679.4" y1="498.5" x2="673.4" y2="498.5"/><line x1="903.9" y1="498.5" x2="909.9" y2="498.5"/><line x1="679.4" y1="456.4" x2="673.4" y2="456.4"/><line x1="903.9" y1="456.4" x2="909.9" y2="456.4"/><line x1="679.4" y1="414.3" x2="673.4" y2="414.3"/><line x1="903.9" y1="414.3" x2="909.9" y2="414.3"/><line x1="679.4" y1="372.2" x2="673.4" y2="372.2"/><line x1="903.9" y1="372.2" x2="909.9" y2="372.2"/><line x1="679.4" y1="330.1" x2="673.4" y2="330.1"/><line x1="903.9" y1="330.1" x2="909.9" y2="330.1"/><line x1="679.4" y1="645.9" x2="675.9" y2="645.9"/><line x1="903.9" y1="645.9" x2="907.4" y2="645.9"/><line x1="679.4" y1="603.8" x2="675.9" y2="603.8"/><line x1="903.9" y1="603.8" x2="907.4" y2="603.8"/><line x1="679.4" y1="561.6" x2="675.9" y2="561.6"/><line x1="903.9" y1="561.6" x2="907.4" y2="561.6"/><line x1="679.4" y1="519.5" x2="675.9" y2="519.5"/><line x1="903.9" y1="519.5" x2="907.4" y2="519.5"/><line x1="679.4" y1="477.4" x2="675.9" y2="477.4"/><line x1="903.9" y1="477.4" x2="907.4" y2="477.4"/><line x1="679.4" y1="435.3" x2="675.9" y2="435.3"/><line x1="903.9" y1="435.3" x2="907.4" y2="435.3"/><line x1="679.4" y1="393.2" x2="675.9" y2="393.2"/><line x1="903.9" y1="393.2" x2="907.4" y2="393.2"/><line x1="679.4" y1="351.1" x2="675.9" y2="351.1"/><line x1="903.9" y1="351.1" x2="907.4" y2="351.1"/></g>
<text x="679.4" y="686.8" font-size="13.5" fill="#222" stroke="#222" stroke-width="0.2" text-anchor="middle">392</text>
<text x="713.9" y="686.8" font-size="13.5" fill="#222" stroke="#222" stroke-width="0.2" text-anchor="middle">394</text>
<text x="748.5" y="686.8" font-size="13.5" fill="#222" stroke="#222" stroke-width="0.2" text-anchor="middle">396</text>
<text x="783.0" y="686.8" font-size="13.5" fill="#222" stroke="#222" stroke-width="0.2" text-anchor="middle">398</text>
<text x="817.6" y="686.8" font-size="13.5" fill="#222" stroke="#222" stroke-width="0.2" text-anchor="middle">400</text>
<text x="852.1" y="686.8" font-size="13.5" fill="#222" stroke="#222" stroke-width="0.2" text-anchor="middle">402</text>
<text x="886.6" y="686.8" font-size="13.5" fill="#222" stroke="#222" stroke-width="0.2" text-anchor="middle">404</text>
<text x="666.8" y="671.4" font-size="13.5" fill="#222" stroke="#222" stroke-width="0.2" text-anchor="end">12</text>
<text x="666.8" y="629.3" font-size="13.5" fill="#222" stroke="#222" stroke-width="0.2" text-anchor="end">14</text>
<text x="666.8" y="587.2" font-size="13.5" fill="#222" stroke="#222" stroke-width="0.2" text-anchor="end">16</text>
<text x="666.8" y="545.1" font-size="13.5" fill="#222" stroke="#222" stroke-width="0.2" text-anchor="end">18</text>
<text x="666.8" y="503.0" font-size="13.5" fill="#222" stroke="#222" stroke-width="0.2" text-anchor="end">20</text>
<text x="666.8" y="460.9" font-size="13.5" fill="#222" stroke="#222" stroke-width="0.2" text-anchor="end">22</text>
<text x="666.8" y="418.8" font-size="13.5" fill="#222" stroke="#222" stroke-width="0.2" text-anchor="end">24</text>
<text x="666.8" y="376.7" font-size="13.5" fill="#222" stroke="#222" stroke-width="0.2" text-anchor="end">26</text>
<text x="666.8" y="334.6" font-size="13.5" fill="#222" stroke="#222" stroke-width="0.2" text-anchor="end">28</text>
<text x="792.4" y="715" font-size="17.85" fill="#222" stroke="#222" stroke-width="0.2" text-anchor="middle">Binding energy (eV)</text>
<text transform="translate(633.4,488.8) rotate(-90)" font-size="17.3" fill="#222" stroke="#222" stroke-width="0.2" text-anchor="middle">10<tspan font-size="10.5" dy="-6">2</tspan><tspan dy="6"> x Counts/s</tspan></text>
<text transform="translate(689,353.6) scale(0.84,1)" font-size="25.4" font-weight="bold" fill="#111">E</text>
<text x="897.6" y="352.8" font-size="19.5" font-weight="bold" fill="#111" text-anchor="end">N1s</text>
<text x="808.5" y="454.7" font-size="17" fill="#17863a" textLength="90" lengthAdjust="spacingAndGlyphs">After UV/O<tspan font-size="11.5" dy="4">3</tspan></text>
<text x="821.3" y="653" font-size="18.4" fill="#222">Peptides</text>
<g><rect x="671.7" y="346.5" width="128.3" height="39" rx="9" fill="#ee7f7c" fill-opacity="0.42"/><g fill="none" stroke="#fff" stroke-width="1.5" stroke-opacity="0.9" stroke-linecap="round" stroke-linejoin="round"><circle cx="693" cy="366" r="10.8"/><path d="M685 373.5 L682.8 378.6 L688.5 376.3"/><line x1="713.8" y1="355.5" x2="713.8" y2="375.5"/><line x1="757.6" y1="355.5" x2="757.6" y2="375.5"/><g transform="translate(736,366.7) rotate(-45)"><rect x="-11.5" y="-2.8" width="23" height="5.6" rx="2.6"/><line x1="5.5" y1="-2.8" x2="5.5" y2="2.8"/></g><path d="M726 356.8 v5 M723.5 359.3 h5"/><path d="M733.3 352.5 v3.4 M731.6 354.2 h3.4"/><path d="M743.6 372 v4.4 M741.4 374.2 h4.4"/><circle cx="778.4" cy="365.2" r="10.8"/><line x1="786" y1="373" x2="790.5" y2="377.5"/></g><text x="693" y="370" font-size="11" font-weight="bold" fill="#fff" fill-opacity="0.92" text-anchor="middle">AI</text></g>
<g fill="#0c0c0c"><circle cx="944.5" cy="649.5" r="2.1"/><circle cx="945.3" cy="638.1" r="2.1"/><circle cx="946.0" cy="641.3" r="2.1"/><circle cx="946.8" cy="642.5" r="2.1"/><circle cx="947.5" cy="632.6" r="2.1"/><circle cx="948.3" cy="638.5" r="2.1"/><circle cx="949.0" cy="640.6" r="2.1"/><circle cx="949.8" cy="626.5" r="2.1"/><circle cx="950.5" cy="641.7" r="2.1"/><circle cx="951.3" cy="646.7" r="2.1"/><circle cx="952.0" cy="647.3" r="2.1"/><circle cx="952.8" cy="641.4" r="2.1"/><circle cx="953.5" cy="633.3" r="2.1"/><circle cx="954.3" cy="631.8" r="2.1"/><circle cx="955.0" cy="629.7" r="2.1"/><circle cx="955.8" cy="624.8" r="2.1"/><circle cx="956.5" cy="625.4" r="2.1"/><circle cx="957.3" cy="632.4" r="2.1"/><circle cx="958.0" cy="627.5" r="2.1"/><circle cx="958.8" cy="631.9" r="2.1"/><circle cx="959.5" cy="639.9" r="2.1"/><circle cx="960.3" cy="630.3" r="2.1"/><circle cx="961.0" cy="635.3" r="2.1"/><circle cx="961.8" cy="636.9" r="2.1"/><circle cx="962.5" cy="621.8" r="2.1"/><circle cx="963.3" cy="629.9" r="2.1"/><circle cx="964.0" cy="638.2" r="2.1"/><circle cx="964.8" cy="635.3" r="2.1"/><circle cx="965.5" cy="618.7" r="2.1"/><circle cx="966.3" cy="636.1" r="2.1"/><circle cx="967.0" cy="629.3" r="2.1"/><circle cx="967.8" cy="629.9" r="2.1"/><circle cx="968.5" cy="630.4" r="2.1"/><circle cx="969.3" cy="629.7" r="2.1"/><circle cx="970.0" cy="636.8" r="2.1"/><circle cx="970.8" cy="636.5" r="2.1"/><circle cx="971.5" cy="634.3" r="2.1"/><circle cx="972.3" cy="635.5" r="2.1"/><circle cx="973.0" cy="627.4" r="2.1"/><circle cx="973.8" cy="622.2" r="2.1"/><circle cx="974.5" cy="638.6" r="2.1"/><circle cx="975.3" cy="628.6" r="2.1"/><circle cx="976.0" cy="638.8" r="2.1"/><circle cx="976.8" cy="636.7" r="2.1"/><circle cx="977.5" cy="633.4" r="2.1"/><circle cx="978.3" cy="630.9" r="2.1"/><circle cx="979.0" cy="634.5" r="2.1"/><circle cx="979.8" cy="649.1" r="2.1"/><circle cx="980.5" cy="621.7" r="2.1"/><circle cx="981.3" cy="632.8" r="2.1"/><circle cx="982.0" cy="635.1" r="2.1"/><circle cx="982.8" cy="626.0" r="2.1"/><circle cx="983.5" cy="634.5" r="2.1"/><circle cx="984.3" cy="640.0" r="2.1"/><circle cx="985.0" cy="626.8" r="2.1"/><circle cx="985.8" cy="627.1" r="2.1"/><circle cx="986.5" cy="635.4" r="2.1"/><circle cx="987.3" cy="623.9" r="2.1"/><circle cx="988.0" cy="626.9" r="2.1"/><circle cx="988.8" cy="637.0" r="2.1"/><circle cx="989.5" cy="617.1" r="2.1"/><circle cx="990.3" cy="627.1" r="2.1"/><circle cx="991.0" cy="636.5" r="2.1"/><circle cx="991.8" cy="625.5" r="2.1"/><circle cx="992.5" cy="627.5" r="2.1"/><circle cx="993.3" cy="621.6" r="2.1"/><circle cx="994.0" cy="637.2" r="2.1"/><circle cx="994.8" cy="620.8" r="2.1"/><circle cx="995.5" cy="621.3" r="2.1"/><circle cx="996.3" cy="622.8" r="2.1"/><circle cx="997.0" cy="623.2" r="2.1"/><circle cx="997.8" cy="618.2" r="2.1"/><circle cx="998.5" cy="622.1" r="2.1"/><circle cx="999.3" cy="626.0" r="2.1"/><circle cx="1000.0" cy="632.4" r="2.1"/><circle cx="1000.8" cy="618.9" r="2.1"/><circle cx="1001.5" cy="619.6" r="2.1"/><circle cx="1002.3" cy="624.1" r="2.1"/><circle cx="1003.0" cy="624.9" r="2.1"/><circle cx="1003.8" cy="620.9" r="2.1"/><circle cx="1004.5" cy="642.8" r="2.1"/><circle cx="1005.3" cy="623.3" r="2.1"/><circle cx="1006.0" cy="642.3" r="2.1"/><circle cx="1006.8" cy="623.5" r="2.1"/><circle cx="1007.5" cy="617.7" r="2.1"/><circle cx="1008.3" cy="611.9" r="2.1"/><circle cx="1009.0" cy="627.8" r="2.1"/><circle cx="1009.8" cy="621.5" r="2.1"/><circle cx="1010.5" cy="624.7" r="2.1"/><circle cx="1011.3" cy="639.2" r="2.1"/><circle cx="1012.0" cy="619.0" r="2.1"/><circle cx="1012.8" cy="623.9" r="2.1"/><circle cx="1013.5" cy="623.1" r="2.1"/><circle cx="1014.3" cy="629.8" r="2.1"/><circle cx="1015.0" cy="623.5" r="2.1"/><circle cx="1015.8" cy="622.5" r="2.1"/><circle cx="1016.5" cy="614.2" r="2.1"/><circle cx="1017.3" cy="620.7" r="2.1"/><circle cx="1018.0" cy="598.8" r="2.1"/><circle cx="1018.8" cy="625.2" r="2.1"/><circle cx="1019.6" cy="624.0" r="2.1"/><circle cx="1020.3" cy="622.4" r="2.1"/><circle cx="1021.1" cy="627.4" r="2.1"/><circle cx="1021.8" cy="611.4" r="2.1"/><circle cx="1022.6" cy="617.1" r="2.1"/><circle cx="1023.3" cy="630.0" r="2.1"/><circle cx="1024.1" cy="620.4" r="2.1"/><circle cx="1024.8" cy="613.2" r="2.1"/><circle cx="1025.6" cy="630.5" r="2.1"/><circle cx="1026.3" cy="619.6" r="2.1"/><circle cx="1027.1" cy="622.1" r="2.1"/><circle cx="1027.8" cy="604.4" r="2.1"/><circle cx="1028.6" cy="617.3" r="2.1"/><circle cx="1029.3" cy="622.7" r="2.1"/><circle cx="1030.1" cy="623.6" r="2.1"/><circle cx="1030.8" cy="606.7" r="2.1"/><circle cx="1031.6" cy="622.6" r="2.1"/><circle cx="1032.3" cy="603.7" r="2.1"/><circle cx="1033.1" cy="629.7" r="2.1"/><circle cx="1033.8" cy="620.2" r="2.1"/><circle cx="1034.6" cy="620.4" r="2.1"/><circle cx="1035.3" cy="623.4" r="2.1"/><circle cx="1036.1" cy="619.8" r="2.1"/><circle cx="1036.8" cy="613.5" r="2.1"/><circle cx="1037.6" cy="622.6" r="2.1"/><circle cx="1038.3" cy="627.6" r="2.1"/><circle cx="1039.1" cy="608.5" r="2.1"/><circle cx="1039.8" cy="607.5" r="2.1"/><circle cx="1040.6" cy="622.1" r="2.1"/><circle cx="1041.3" cy="615.1" r="2.1"/><circle cx="1042.1" cy="634.5" r="2.1"/><circle cx="1042.8" cy="609.7" r="2.1"/><circle cx="1043.6" cy="625.7" r="2.1"/><circle cx="1044.3" cy="620.3" r="2.1"/><circle cx="1045.1" cy="601.6" r="2.1"/><circle cx="1045.8" cy="624.7" r="2.1"/><circle cx="1046.6" cy="615.8" r="2.1"/><circle cx="1047.3" cy="623.1" r="2.1"/><circle cx="1048.1" cy="628.2" r="2.1"/><circle cx="1048.8" cy="623.4" r="2.1"/><circle cx="1049.6" cy="613.4" r="2.1"/><circle cx="1050.3" cy="624.0" r="2.1"/><circle cx="1051.1" cy="618.9" r="2.1"/><circle cx="1051.8" cy="609.7" r="2.1"/><circle cx="1052.6" cy="615.6" r="2.1"/><circle cx="1053.3" cy="623.3" r="2.1"/><circle cx="1054.1" cy="604.0" r="2.1"/><circle cx="1054.8" cy="613.2" r="2.1"/><circle cx="1055.6" cy="604.2" r="2.1"/><circle cx="1056.3" cy="620.8" r="2.1"/><circle cx="1057.1" cy="601.9" r="2.1"/><circle cx="1057.8" cy="622.4" r="2.1"/><circle cx="1058.6" cy="625.0" r="2.1"/><circle cx="1059.3" cy="615.8" r="2.1"/><circle cx="1060.1" cy="615.2" r="2.1"/><circle cx="1060.8" cy="610.7" r="2.1"/><circle cx="1061.6" cy="616.1" r="2.1"/><circle cx="1062.3" cy="607.8" r="2.1"/><circle cx="1063.1" cy="602.9" r="2.1"/><circle cx="1063.8" cy="616.2" r="2.1"/><circle cx="1064.6" cy="620.9" r="2.1"/><circle cx="1065.3" cy="614.1" r="2.1"/><circle cx="1066.1" cy="605.6" r="2.1"/><circle cx="1066.8" cy="605.4" r="2.1"/><circle cx="1067.6" cy="613.2" r="2.1"/><circle cx="1068.3" cy="617.3" r="2.1"/><circle cx="1069.1" cy="610.5" r="2.1"/><circle cx="1069.8" cy="603.7" r="2.1"/><circle cx="1070.6" cy="614.9" r="2.1"/><circle cx="1071.3" cy="601.0" r="2.1"/><circle cx="1072.1" cy="608.1" r="2.1"/><circle cx="1072.8" cy="607.4" r="2.1"/><circle cx="1073.6" cy="613.5" r="2.1"/><circle cx="1074.3" cy="599.7" r="2.1"/><circle cx="1075.1" cy="608.5" r="2.1"/><circle cx="1075.8" cy="618.7" r="2.1"/><circle cx="1076.6" cy="602.8" r="2.1"/><circle cx="1077.3" cy="611.0" r="2.1"/><circle cx="1078.1" cy="600.6" r="2.1"/><circle cx="1078.8" cy="606.6" r="2.1"/><circle cx="1079.6" cy="611.8" r="2.1"/><circle cx="1080.3" cy="606.1" r="2.1"/><circle cx="1081.1" cy="610.4" r="2.1"/><circle cx="1081.8" cy="612.5" r="2.1"/><circle cx="1082.6" cy="606.5" r="2.1"/><circle cx="1083.3" cy="600.7" r="2.1"/><circle cx="1084.1" cy="605.7" r="2.1"/><circle cx="1084.8" cy="606.5" r="2.1"/><circle cx="1085.6" cy="609.5" r="2.1"/><circle cx="1086.3" cy="601.6" r="2.1"/><circle cx="1087.1" cy="603.4" r="2.1"/><circle cx="1087.8" cy="598.5" r="2.1"/><circle cx="1088.6" cy="602.3" r="2.1"/><circle cx="1089.3" cy="590.0" r="2.1"/><circle cx="1090.1" cy="615.0" r="2.1"/><circle cx="1090.8" cy="604.4" r="2.1"/><circle cx="1091.6" cy="600.2" r="2.1"/><circle cx="1092.3" cy="597.5" r="2.1"/><circle cx="1093.1" cy="613.8" r="2.1"/><circle cx="1093.8" cy="611.4" r="2.1"/><circle cx="1094.6" cy="603.1" r="2.1"/><circle cx="1095.4" cy="595.4" r="2.1"/><circle cx="1096.1" cy="594.9" r="2.1"/><circle cx="1096.9" cy="612.4" r="2.1"/><circle cx="1097.6" cy="601.0" r="2.1"/><circle cx="1098.4" cy="593.6" r="2.1"/><circle cx="1099.1" cy="601.2" r="2.1"/><circle cx="1099.9" cy="608.1" r="2.1"/><circle cx="1100.6" cy="605.7" r="2.1"/><circle cx="1101.4" cy="609.7" r="2.1"/><circle cx="1102.1" cy="592.2" r="2.1"/><circle cx="1102.9" cy="601.9" r="2.1"/><circle cx="1103.6" cy="602.8" r="2.1"/><circle cx="1104.4" cy="605.5" r="2.1"/><circle cx="1105.1" cy="600.3" r="2.1"/><circle cx="1105.9" cy="605.3" r="2.1"/><circle cx="1106.6" cy="605.5" r="2.1"/><circle cx="1107.4" cy="598.9" r="2.1"/><circle cx="1108.1" cy="599.9" r="2.1"/><circle cx="1108.9" cy="595.0" r="2.1"/><circle cx="1109.6" cy="596.8" r="2.1"/><circle cx="1110.4" cy="589.5" r="2.1"/><circle cx="1111.1" cy="597.6" r="2.1"/><circle cx="1111.9" cy="595.3" r="2.1"/><circle cx="1112.6" cy="595.3" r="2.1"/><circle cx="1113.4" cy="602.1" r="2.1"/><circle cx="1114.1" cy="588.3" r="2.1"/><circle cx="1114.9" cy="599.9" r="2.1"/><circle cx="1115.6" cy="606.6" r="2.1"/><circle cx="1116.4" cy="587.1" r="2.1"/><circle cx="1117.1" cy="591.0" r="2.1"/><circle cx="1117.9" cy="599.0" r="2.1"/><circle cx="1118.6" cy="588.4" r="2.1"/><circle cx="1119.4" cy="588.1" r="2.1"/><circle cx="1120.1" cy="589.7" r="2.1"/><circle cx="1120.9" cy="602.2" r="2.1"/><circle cx="1121.6" cy="592.8" r="2.1"/><circle cx="1122.4" cy="600.9" r="2.1"/><circle cx="1123.1" cy="597.8" r="2.1"/><circle cx="1123.9" cy="597.2" r="2.1"/><circle cx="1124.6" cy="599.0" r="2.1"/><circle cx="1125.4" cy="589.6" r="2.1"/><circle cx="1126.1" cy="598.2" r="2.1"/><circle cx="1126.9" cy="588.4" r="2.1"/><circle cx="1127.6" cy="591.2" r="2.1"/><circle cx="1128.4" cy="596.3" r="2.1"/><circle cx="1129.1" cy="590.9" r="2.1"/><circle cx="1129.9" cy="587.2" r="2.1"/><circle cx="1130.6" cy="583.9" r="2.1"/><circle cx="1131.4" cy="593.3" r="2.1"/><circle cx="1132.1" cy="579.5" r="2.1"/><circle cx="1132.9" cy="587.3" r="2.1"/><circle cx="1133.6" cy="582.5" r="2.1"/><circle cx="1134.4" cy="600.0" r="2.1"/><circle cx="1135.1" cy="597.9" r="2.1"/><circle cx="1135.9" cy="582.3" r="2.1"/><circle cx="1136.6" cy="591.9" r="2.1"/><circle cx="1137.4" cy="587.1" r="2.1"/><circle cx="1138.1" cy="581.9" r="2.1"/><circle cx="1138.9" cy="599.7" r="2.1"/><circle cx="1139.6" cy="586.7" r="2.1"/><circle cx="1140.4" cy="576.5" r="2.1"/><circle cx="1141.1" cy="584.1" r="2.1"/><circle cx="1141.9" cy="588.8" r="2.1"/><circle cx="1142.6" cy="585.5" r="2.1"/><circle cx="1143.4" cy="589.1" r="2.1"/><circle cx="1144.1" cy="583.8" r="2.1"/><circle cx="1144.9" cy="580.1" r="2.1"/><circle cx="1145.6" cy="590.4" r="2.1"/><circle cx="1146.4" cy="584.8" r="2.1"/><circle cx="1147.1" cy="586.5" r="2.1"/><circle cx="1147.9" cy="583.4" r="2.1"/><circle cx="1148.6" cy="582.7" r="2.1"/><circle cx="1149.4" cy="595.6" r="2.1"/><circle cx="1150.1" cy="580.3" r="2.1"/><circle cx="1150.9" cy="582.2" r="2.1"/><circle cx="1151.6" cy="595.4" r="2.1"/><circle cx="1152.4" cy="589.8" r="2.1"/><circle cx="1153.1" cy="597.7" r="2.1"/><circle cx="1153.9" cy="589.7" r="2.1"/><circle cx="1154.6" cy="585.4" r="2.1"/><circle cx="1155.4" cy="595.4" r="2.1"/><circle cx="1156.1" cy="592.7" r="2.1"/><circle cx="1156.9" cy="593.3" r="2.1"/><circle cx="1157.6" cy="591.9" r="2.1"/><circle cx="1158.4" cy="592.4" r="2.1"/><circle cx="1159.1" cy="594.3" r="2.1"/><circle cx="1159.9" cy="583.1" r="2.1"/><circle cx="1160.6" cy="588.3" r="2.1"/><circle cx="1161.4" cy="592.4" r="2.1"/><circle cx="1162.1" cy="580.0" r="2.1"/><circle cx="1162.9" cy="590.4" r="2.1"/><circle cx="1163.6" cy="580.4" r="2.1"/><circle cx="1164.4" cy="594.8" r="2.1"/><circle cx="1165.1" cy="576.8" r="2.1"/><circle cx="1165.9" cy="589.3" r="2.1"/><circle cx="1166.6" cy="592.5" r="2.1"/><circle cx="1167.4" cy="583.3" r="2.1"/><circle cx="1168.1" cy="595.0" r="2.1"/><circle cx="1168.9" cy="593.2" r="2.1"/></g>
<path d="M974.4,551.9 L976.9,551.6 L979.3,551.2 L981.7,550.9 L984.1,550.5 L986.6,550.2 L989.0,549.8 L991.4,549.4 L993.9,549.0 L996.3,548.6 L998.7,548.1 L1001.2,547.7 L1003.6,547.3 L1006.0,546.8 L1008.5,546.3 L1010.9,545.9 L1013.3,545.4 L1015.7,544.9 L1018.2,544.4 L1020.6,543.8 L1023.0,543.3 L1025.5,542.8 L1027.9,542.2 L1030.3,541.7 L1032.8,541.1 L1035.2,540.5 L1037.6,539.9 L1040.1,539.3 L1042.5,538.7 L1044.9,538.1 L1047.3,537.5 L1049.8,536.8 L1052.2,536.2 L1054.6,535.5 L1057.1,534.8 L1059.5,534.1 L1061.9,533.4 L1064.4,532.7 L1066.8,532.0 L1069.2,531.3 L1071.7,530.5 L1074.1,529.8 L1076.5,529.0 L1079.0,528.3 L1081.4,527.5 L1083.8,526.7 L1086.2,525.9 L1088.7,525.1 L1091.1,524.3 L1093.5,523.4 L1096.0,522.6 L1098.4,521.7 L1100.8,520.9 L1103.3,520.0 L1105.7,519.1 L1108.1,518.2 L1110.6,517.3 L1113.0,516.4 L1115.4,515.5 L1117.8,514.5 L1120.3,513.6 L1122.7,512.6 L1125.1,511.7 L1127.6,510.7 L1130.0,509.7 L1132.4,508.7 L1134.9,507.7 L1137.3,506.7 L1139.7,505.6 L1142.2,504.6 L1144.6,503.6 L1147.0,502.5 L1149.5,501.4 L1151.9,500.3 L1154.3,499.2 L1156.7,498.1 L1159.2,497.0 L1161.6,495.9 L1164.0,494.8 L1166.5,493.6 L1168.9,492.5" fill="none" stroke="#e8901c" stroke-width="1.7" stroke-dasharray="5 3"/>
<path d="M978.2,549.8 L979.2,549.4 L980.2,548.9 L981.2,548.4 L982.3,547.9 L983.3,547.3 L984.3,546.7 L985.4,546.0 L986.4,545.2 L987.4,544.4 L988.4,543.5 L989.5,542.6 L990.5,541.5 L991.5,540.5 L992.6,539.3 L993.6,538.1 L994.6,536.8 L995.6,535.4 L996.7,533.9 L997.7,532.4 L998.7,530.9 L999.8,529.3 L1000.8,527.6 L1001.8,525.9 L1002.8,524.2 L1003.9,522.4 L1004.9,520.7 L1005.9,518.9 L1007.0,517.2 L1008.0,515.5 L1009.0,513.9 L1010.0,512.3 L1011.1,510.7 L1012.1,509.3 L1013.1,507.9 L1014.2,506.7 L1015.2,505.6 L1016.2,504.6 L1017.2,503.7 L1018.3,503.0 L1019.3,502.4" fill="none" stroke="#e8901c" stroke-width="1.7" stroke-dasharray="5 3"/>
<path d="M1049.2,535.0 L1050.4,534.5 L1051.6,534.0 L1052.7,533.5 L1053.9,532.9 L1055.1,532.3 L1056.2,531.7 L1057.4,531.1 L1058.6,530.4 L1059.7,529.7 L1060.9,529.0 L1062.1,528.3 L1063.2,527.5 L1064.4,526.7 L1065.6,525.9 L1066.8,525.0 L1067.9,524.1 L1069.1,523.2 L1070.3,522.3 L1071.4,521.3 L1072.6,520.3 L1073.8,519.2 L1074.9,518.2 L1076.1,517.1 L1077.3,515.9 L1078.4,514.7 L1079.6,513.5 L1080.8,512.3 L1081.9,511.1 L1083.1,509.8 L1084.3,508.5 L1085.5,507.1 L1086.6,505.8 L1087.8,504.4 L1089.0,503.0 L1090.1,501.6 L1091.3,500.2 L1092.5,498.8 L1093.6,497.3 L1094.8,495.9 L1096.0,494.4" fill="none" stroke="#e8901c" stroke-width="1.7" stroke-dasharray="5 3"/>
<path d="M978.2,547.7 L979.0,547.6 L979.9,547.6 L980.8,547.5 L981.6,547.3 L982.5,547.0 L983.4,546.6 L984.2,546.1 L985.1,545.2 L986.0,544.1 L986.8,542.4 L987.7,540.3 L988.6,537.4 L989.4,533.7 L990.3,529.0 L991.2,523.3 L992.0,516.4 L992.9,508.4 L993.8,499.3 L994.6,489.2 L995.5,478.5 L996.4,467.4 L997.2,456.3 L998.1,445.7 L999.0,436.2 L999.8,428.1 L1000.7,422.0 L1001.6,418.0 L1002.4,416.4 L1003.3,417.5 L1004.2,421.0 L1005.0,426.8 L1005.9,434.6 L1006.8,443.9 L1007.6,454.2 L1008.5,465.1 L1009.4,476.0 L1010.2,486.7 L1011.1,496.6 L1012.0,505.6 L1012.8,513.5 L1013.7,520.3 L1014.6,526.0 L1015.4,530.5 L1016.3,534.2 L1017.2,536.9 L1018.0,539.0 L1018.9,540.4 L1019.8,541.5 L1020.6,542.1 L1021.5,542.5 L1022.4,542.7 L1023.2,542.8 L1024.1,542.8 L1025.0,542.7 L1025.8,542.6 L1026.7,542.4 L1027.6,542.3 L1028.4,542.1 L1029.3,541.9 L1030.2,541.7 L1031.0,541.5 L1031.9,541.3 L1032.8,541.1 L1033.6,540.9 L1034.5,540.7 L1035.4,540.4 L1036.2,540.2 L1037.1,540.0 L1038.0,539.7 L1038.8,539.5 L1039.7,539.2 L1040.6,538.9 L1041.5,538.5 L1042.3,538.2 L1043.2,537.7 L1044.1,537.3 L1044.9,536.7 L1045.8,536.0 L1046.7,535.3 L1047.5,534.3 L1048.4,533.3 L1049.3,532.0 L1050.1,530.5 L1051.0,528.8 L1051.9,526.7 L1052.7,524.4 L1053.6,521.6 L1054.5,518.6 L1055.3,515.0 L1056.2,511.1 L1057.1,506.8 L1057.9,502.0 L1058.8,496.8 L1059.7,491.3 L1060.5,485.4 L1061.4,479.2 L1062.3,472.8 L1063.1,466.3 L1064.0,459.8 L1064.9,453.4 L1065.7,447.2 L1066.6,441.3 L1067.5,435.9 L1068.3,431.0 L1069.2,426.9 L1070.1,423.5 L1070.9,421.0 L1071.8,419.4 L1072.7,418.7 L1073.5,419.0 L1074.4,420.2 L1075.3,422.3 L1076.1,425.3 L1077.0,429.0 L1077.9,433.4 L1078.7,438.4 L1079.6,443.8 L1080.5,449.5 L1081.3,455.4 L1082.2,461.4 L1083.1,467.4 L1083.9,473.2 L1084.8,478.8 L1085.7,484.1 L1086.5,489.1 L1087.4,493.7 L1088.3,497.9 L1089.1,501.6 L1090.0,504.9 L1090.9,507.8 L1091.7,510.3 L1092.6,512.5 L1093.5,514.2 L1094.3,515.7 L1095.2,516.9 L1096.1,517.8 L1096.9,518.5 L1097.8,519.0 L1098.7,519.4 L1099.5,519.6 L1100.4,519.7 L1101.3,519.7 L1102.1,519.6 L1103.0,519.5 L1103.9,519.4 L1104.7,519.2 L1105.6,518.9 L1106.5,518.7 L1107.3,518.4 L1108.2,518.1 L1109.1,517.8 L1109.9,517.5 L1110.8,517.2 L1111.7,516.9 L1112.5,516.6 L1113.4,516.2 L1114.3,515.9 L1115.1,515.6 L1116.0,515.2 L1116.9,514.9 L1117.7,514.6 L1118.6,514.2 L1119.5,513.9 L1120.3,513.6 L1121.2,513.2 L1122.1,512.9 L1122.9,512.5 L1123.8,512.2 L1124.7,511.9 L1125.6,511.5 L1126.4,511.2 L1127.3,510.8 L1128.2,510.5 L1129.0,510.1 L1129.9,509.8 L1130.8,509.4 L1131.6,509.0 L1132.5,508.7 L1133.4,508.3 L1134.2,508.0 L1135.1,507.6 L1136.0,507.2 L1136.8,506.9 L1137.7,506.5 L1138.6,506.1 L1139.4,505.8 L1140.3,505.4 L1141.2,505.0 L1142.0,504.7 L1142.9,504.3 L1143.8,503.9 L1144.6,503.5 L1145.5,503.2 L1146.4,502.8 L1147.2,502.4 L1148.1,502.0 L1149.0,501.6 L1149.8,501.3 L1150.7,500.9 L1151.6,500.5 L1152.4,500.1 L1153.3,499.7 L1154.2,499.3 L1155.0,498.9 L1155.9,498.5 L1156.8,498.1 L1157.6,497.7 L1158.5,497.3 L1159.4,496.9 L1160.2,496.5 L1161.1,496.1 L1162.0,495.7 L1162.8,495.3 L1163.7,494.9 L1164.6,494.5 L1165.4,494.1 L1166.3,493.7 L1167.2,493.3 L1168.0,492.9 L1168.9,492.5" fill="none" stroke="#2a3f9e" stroke-width="1.8" stroke-dasharray="5 3"/>
<path d="M944.5,552.1 L945.4,551.9 L946.2,551.6 L947.1,551.4 L948.0,551.2 L948.8,551.0 L949.7,550.8 L950.5,550.6 L951.4,550.4 L952.3,550.2 L953.1,550.0 L954.0,549.8 L954.9,549.6 L955.7,549.4 L956.6,549.3 L957.4,549.1 L958.3,548.9 L959.2,548.8 L960.0,548.6 L960.9,548.5 L961.8,548.4 L962.6,548.2 L963.5,548.1 L964.4,548.0 L965.2,547.9 L966.1,547.8 L966.9,547.7 L967.8,547.6 L968.7,547.5 L969.5,547.4 L970.4,547.3 L971.3,547.2 L972.1,547.1 L973.0,547.0 L973.8,546.9 L974.7,546.8 L975.6,546.6 L976.4,546.5 L977.3,546.3 L978.2,546.1 L979.0,545.8 L979.9,545.5 L980.7,545.2 L981.6,544.7 L982.5,544.1 L983.3,543.4 L984.2,542.4 L985.1,541.2 L985.9,539.5 L986.8,537.4 L987.7,534.7 L988.5,531.3 L989.4,526.9 L990.2,521.6 L991.1,515.2 L992.0,507.6 L992.8,498.8 L993.7,488.9 L994.6,478.0 L995.4,466.3 L996.3,454.1 L997.1,441.9 L998.0,430.1 L998.9,419.2 L999.7,409.7 L1000.6,402.1 L1001.5,396.5 L1002.3,393.5 L1003.2,392.9 L1004.1,394.9 L1004.9,399.1 L1005.8,405.3 L1006.6,413.1 L1007.5,422.0 L1008.4,431.6 L1009.2,441.3 L1010.1,450.9 L1011.0,459.8 L1011.8,467.9 L1012.7,475.0 L1013.5,481.1 L1014.4,486.1 L1015.3,490.1 L1016.1,493.2 L1017.0,495.5 L1017.9,497.2 L1018.7,498.5 L1019.6,499.3 L1020.5,499.9 L1021.3,500.3 L1022.2,500.6 L1023.0,500.9 L1023.9,501.2 L1024.8,501.5 L1025.6,501.9 L1026.5,502.3 L1027.4,502.8 L1028.2,503.4 L1029.1,504.0 L1029.9,504.8 L1030.8,505.6 L1031.7,506.4 L1032.5,507.3 L1033.4,508.2 L1034.3,509.2 L1035.1,510.2 L1036.0,511.2 L1036.8,512.2 L1037.7,513.2 L1038.6,514.2 L1039.4,515.2 L1040.3,516.1 L1041.2,517.0 L1042.0,517.8 L1042.9,518.5 L1043.8,519.2 L1044.6,519.7 L1045.5,520.1 L1046.3,520.3 L1047.2,520.4 L1048.1,520.2 L1048.9,519.9 L1049.8,519.2 L1050.7,518.2 L1051.5,517.0 L1052.4,515.3 L1053.2,513.3 L1054.1,510.8 L1055.0,507.9 L1055.8,504.5 L1056.7,500.6 L1057.6,496.3 L1058.4,491.5 L1059.3,486.2 L1060.2,480.6 L1061.0,474.6 L1061.9,468.3 L1062.7,461.8 L1063.6,455.3 L1064.5,448.7 L1065.3,442.2 L1066.2,436.0 L1067.1,430.2 L1067.9,424.8 L1068.8,420.0 L1069.6,416.0 L1070.5,412.7 L1071.4,410.3 L1072.2,408.7 L1073.1,408.1 L1074.0,408.4 L1074.8,409.6 L1075.7,411.6 L1076.6,414.4 L1077.4,417.9 L1078.3,422.0 L1079.1,426.6 L1080.0,431.5 L1080.9,436.7 L1081.7,442.0 L1082.6,447.3 L1083.5,452.5 L1084.3,457.6 L1085.2,462.3 L1086.0,466.8 L1086.9,470.9 L1087.8,474.5 L1088.6,477.8 L1089.5,480.6 L1090.4,483.0 L1091.2,484.9 L1092.1,486.5 L1092.9,487.7 L1093.8,488.6 L1094.7,489.2 L1095.5,489.5 L1096.4,489.5 L1097.3,489.4 L1098.1,489.1 L1099.0,488.7 L1099.9,488.1 L1100.7,487.5 L1101.6,486.7 L1102.4,485.9 L1103.3,485.1 L1104.2,484.2 L1105.0,483.4 L1105.9,482.5 L1106.8,481.6 L1107.6,480.7 L1108.5,479.8 L1109.3,479.0 L1110.2,478.1 L1111.1,477.3 L1111.9,476.5 L1112.8,475.7 L1113.7,475.0 L1114.5,474.3 L1115.4,473.6 L1116.3,472.9 L1117.1,472.3 L1118.0,471.7 L1118.8,471.1 L1119.7,470.6 L1120.6,470.1 L1121.4,469.6 L1122.3,469.2 L1123.2,468.8 L1124.0,468.4 L1124.9,468.1 L1125.7,467.9 L1126.6,467.8 L1127.5,467.7 L1128.3,467.7 L1129.2,467.8 L1130.1,468.0 L1130.9,468.3 L1131.8,468.6 L1132.7,469.0 L1133.5,469.4 L1134.4,469.9 L1135.2,470.4 L1136.1,471.0 L1137.0,471.7 L1137.8,472.3 L1138.7,473.0 L1139.6,473.8 L1140.4,474.5 L1141.3,475.3 L1142.1,476.1 L1143.0,476.9 L1143.9,477.7 L1144.7,478.4 L1145.6,479.2 L1146.5,480.0 L1147.3,480.8 L1148.2,481.5 L1149.0,482.2 L1149.9,482.9 L1150.8,483.6 L1151.6,484.2 L1152.5,484.8 L1153.4,485.4 L1154.2,485.9 L1155.1,486.4 L1156.0,486.9 L1156.8,487.3 L1157.7,487.7 L1158.5,488.0 L1159.4,488.3 L1160.3,488.6 L1161.1,488.8 L1162.0,489.0 L1162.9,489.1 L1163.7,489.3 L1164.6,489.3 L1165.4,489.4 L1166.3,489.4 L1167.2,489.4 L1168.0,489.3 L1168.9,489.3" fill="none" stroke="#e0161c" stroke-width="2.2"/>
<path d="M1160 488 L1162 470 L1163.5 492 L1165.5 466 L1167 494 L1168.5 464 L1168.5 490 L1164 478 L1161 496 L1166 474 L1168.5 468" fill="none" stroke="#e0161c" stroke-width="2"/>
<g fill="#15833a"><circle cx="944.5" cy="550.5" r="2.3"/><circle cx="945.2" cy="554.4" r="2.3"/><circle cx="945.8" cy="549.2" r="2.3"/><circle cx="946.5" cy="550.5" r="2.3"/><circle cx="947.1" cy="549.7" r="2.3"/><circle cx="947.8" cy="550.3" r="2.3"/><circle cx="948.5" cy="546.8" r="2.3"/><circle cx="949.1" cy="550.7" r="2.3"/><circle cx="949.8" cy="544.2" r="2.3"/><circle cx="950.5" cy="544.9" r="2.3"/><circle cx="951.1" cy="561.5" r="2.3"/><circle cx="951.8" cy="560.2" r="2.3"/><circle cx="952.4" cy="541.0" r="2.3"/><circle cx="953.1" cy="552.3" r="2.3"/><circle cx="953.8" cy="548.5" r="2.3"/><circle cx="954.4" cy="550.1" r="2.3"/><circle cx="955.1" cy="547.8" r="2.3"/><circle cx="955.8" cy="536.5" r="2.3"/><circle cx="956.4" cy="553.1" r="2.3"/><circle cx="957.1" cy="548.6" r="2.3"/><circle cx="957.7" cy="548.8" r="2.3"/><circle cx="958.4" cy="554.9" r="2.3"/><circle cx="959.1" cy="553.6" r="2.3"/><circle cx="959.7" cy="550.0" r="2.3"/><circle cx="960.4" cy="548.4" r="2.3"/><circle cx="961.0" cy="546.0" r="2.3"/><circle cx="961.7" cy="559.4" r="2.3"/><circle cx="962.4" cy="557.0" r="2.3"/><circle cx="963.0" cy="538.5" r="2.3"/><circle cx="963.7" cy="548.9" r="2.3"/><circle cx="964.4" cy="543.0" r="2.3"/><circle cx="965.0" cy="550.1" r="2.3"/><circle cx="965.7" cy="551.7" r="2.3"/><circle cx="966.3" cy="535.4" r="2.3"/><circle cx="967.0" cy="554.5" r="2.3"/><circle cx="967.7" cy="552.6" r="2.3"/><circle cx="968.3" cy="543.4" r="2.3"/><circle cx="969.0" cy="547.1" r="2.3"/><circle cx="969.7" cy="556.6" r="2.3"/><circle cx="970.3" cy="546.3" r="2.3"/><circle cx="971.0" cy="542.8" r="2.3"/><circle cx="971.6" cy="555.7" r="2.3"/><circle cx="972.3" cy="550.1" r="2.3"/><circle cx="973.0" cy="542.3" r="2.3"/><circle cx="973.6" cy="535.7" r="2.3"/><circle cx="974.3" cy="560.0" r="2.3"/><circle cx="974.9" cy="550.5" r="2.3"/><circle cx="975.6" cy="546.3" r="2.3"/><circle cx="976.3" cy="551.5" r="2.3"/><circle cx="976.9" cy="551.4" r="2.3"/><circle cx="977.6" cy="548.9" r="2.3"/><circle cx="978.3" cy="542.9" r="2.3"/><circle cx="978.9" cy="551.8" r="2.3"/><circle cx="979.6" cy="540.5" r="2.3"/><circle cx="980.2" cy="540.4" r="2.3"/><circle cx="980.9" cy="540.0" r="2.3"/><circle cx="981.6" cy="535.7" r="2.3"/><circle cx="982.2" cy="547.1" r="2.3"/><circle cx="982.9" cy="543.9" r="2.3"/><circle cx="983.6" cy="537.2" r="2.3"/><circle cx="984.2" cy="534.9" r="2.3"/><circle cx="984.9" cy="535.9" r="2.3"/><circle cx="985.5" cy="542.7" r="2.3"/><circle cx="986.2" cy="541.5" r="2.3"/><circle cx="986.9" cy="544.6" r="2.3"/><circle cx="987.5" cy="537.4" r="2.3"/><circle cx="988.2" cy="537.6" r="2.3"/><circle cx="988.9" cy="532.3" r="2.3"/><circle cx="989.5" cy="528.2" r="2.3"/><circle cx="990.2" cy="517.1" r="2.3"/><circle cx="990.8" cy="512.2" r="2.3"/><circle cx="991.5" cy="512.0" r="2.3"/><circle cx="992.2" cy="512.1" r="2.3"/><circle cx="992.8" cy="499.0" r="2.3"/><circle cx="993.5" cy="488.7" r="2.3"/><circle cx="994.1" cy="478.2" r="2.3"/><circle cx="994.8" cy="473.3" r="2.3"/><circle cx="995.5" cy="460.8" r="2.3"/><circle cx="996.1" cy="459.9" r="2.3"/><circle cx="996.8" cy="443.0" r="2.3"/><circle cx="997.5" cy="433.2" r="2.3"/><circle cx="998.1" cy="430.6" r="2.3"/><circle cx="998.8" cy="424.5" r="2.3"/><circle cx="999.4" cy="405.5" r="2.3"/><circle cx="1000.1" cy="411.7" r="2.3"/><circle cx="1000.8" cy="396.7" r="2.3"/><circle cx="1001.4" cy="398.1" r="2.3"/><circle cx="1002.1" cy="395.9" r="2.3"/><circle cx="1002.8" cy="394.1" r="2.3"/><circle cx="1003.4" cy="395.5" r="2.3"/><circle cx="1004.1" cy="394.9" r="2.3"/><circle cx="1004.7" cy="387.6" r="2.3"/><circle cx="1005.4" cy="393.8" r="2.3"/><circle cx="1006.1" cy="408.3" r="2.3"/><circle cx="1006.7" cy="411.0" r="2.3"/><circle cx="1007.4" cy="415.3" r="2.3"/><circle cx="1008.0" cy="430.2" r="2.3"/><circle cx="1008.7" cy="424.7" r="2.3"/><circle cx="1009.4" cy="442.5" r="2.3"/><circle cx="1010.0" cy="446.4" r="2.3"/><circle cx="1010.7" cy="462.4" r="2.3"/><circle cx="1011.4" cy="469.9" r="2.3"/><circle cx="1012.0" cy="475.1" r="2.3"/><circle cx="1012.7" cy="478.5" r="2.3"/><circle cx="1013.3" cy="473.6" r="2.3"/><circle cx="1014.0" cy="485.5" r="2.3"/><circle cx="1014.7" cy="482.1" r="2.3"/><circle cx="1015.3" cy="492.5" r="2.3"/><circle cx="1016.0" cy="498.0" r="2.3"/><circle cx="1016.7" cy="493.5" r="2.3"/><circle cx="1017.3" cy="498.3" r="2.3"/><circle cx="1018.0" cy="506.7" r="2.3"/><circle cx="1018.6" cy="497.9" r="2.3"/><circle cx="1019.3" cy="492.1" r="2.3"/><circle cx="1020.0" cy="500.6" r="2.3"/><circle cx="1020.6" cy="506.6" r="2.3"/><circle cx="1021.3" cy="504.4" r="2.3"/><circle cx="1021.9" cy="507.3" r="2.3"/><circle cx="1022.6" cy="501.9" r="2.3"/><circle cx="1023.3" cy="506.2" r="2.3"/><circle cx="1023.9" cy="501.6" r="2.3"/><circle cx="1024.6" cy="500.2" r="2.3"/><circle cx="1025.3" cy="493.9" r="2.3"/><circle cx="1025.9" cy="508.4" r="2.3"/><circle cx="1026.6" cy="513.9" r="2.3"/><circle cx="1027.2" cy="493.2" r="2.3"/><circle cx="1027.9" cy="500.5" r="2.3"/><circle cx="1028.6" cy="505.5" r="2.3"/><circle cx="1029.2" cy="501.1" r="2.3"/><circle cx="1029.9" cy="509.8" r="2.3"/><circle cx="1030.6" cy="507.1" r="2.3"/><circle cx="1031.2" cy="501.9" r="2.3"/><circle cx="1031.9" cy="508.2" r="2.3"/><circle cx="1032.5" cy="506.3" r="2.3"/><circle cx="1033.2" cy="505.3" r="2.3"/><circle cx="1033.9" cy="507.9" r="2.3"/><circle cx="1034.5" cy="510.7" r="2.3"/><circle cx="1035.2" cy="507.1" r="2.3"/><circle cx="1035.8" cy="503.2" r="2.3"/><circle cx="1036.5" cy="504.3" r="2.3"/><circle cx="1037.2" cy="517.4" r="2.3"/><circle cx="1037.8" cy="508.8" r="2.3"/><circle cx="1038.5" cy="524.8" r="2.3"/><circle cx="1039.2" cy="522.7" r="2.3"/><circle cx="1039.8" cy="513.1" r="2.3"/><circle cx="1040.5" cy="513.0" r="2.3"/><circle cx="1041.1" cy="508.9" r="2.3"/><circle cx="1041.8" cy="527.2" r="2.3"/><circle cx="1042.5" cy="511.8" r="2.3"/><circle cx="1043.1" cy="521.6" r="2.3"/><circle cx="1043.8" cy="521.7" r="2.3"/><circle cx="1044.5" cy="516.9" r="2.3"/><circle cx="1045.1" cy="511.7" r="2.3"/><circle cx="1045.8" cy="525.4" r="2.3"/><circle cx="1046.4" cy="529.9" r="2.3"/><circle cx="1047.1" cy="523.6" r="2.3"/><circle cx="1047.8" cy="520.8" r="2.3"/><circle cx="1048.4" cy="513.1" r="2.3"/><circle cx="1049.1" cy="517.5" r="2.3"/><circle cx="1049.7" cy="520.8" r="2.3"/><circle cx="1050.4" cy="521.3" r="2.3"/><circle cx="1051.1" cy="520.1" r="2.3"/><circle cx="1051.7" cy="510.9" r="2.3"/><circle cx="1052.4" cy="524.6" r="2.3"/><circle cx="1053.1" cy="517.5" r="2.3"/><circle cx="1053.7" cy="516.8" r="2.3"/><circle cx="1054.4" cy="503.3" r="2.3"/><circle cx="1055.0" cy="506.7" r="2.3"/><circle cx="1055.7" cy="508.7" r="2.3"/><circle cx="1056.4" cy="497.7" r="2.3"/><circle cx="1057.0" cy="487.7" r="2.3"/><circle cx="1057.7" cy="489.6" r="2.3"/><circle cx="1058.4" cy="499.2" r="2.3"/><circle cx="1059.0" cy="488.9" r="2.3"/><circle cx="1059.7" cy="477.1" r="2.3"/><circle cx="1060.3" cy="489.5" r="2.3"/><circle cx="1061.0" cy="481.5" r="2.3"/><circle cx="1061.7" cy="472.1" r="2.3"/><circle cx="1062.3" cy="461.8" r="2.3"/><circle cx="1063.0" cy="464.5" r="2.3"/><circle cx="1063.7" cy="453.9" r="2.3"/><circle cx="1064.3" cy="450.6" r="2.3"/><circle cx="1065.0" cy="452.7" r="2.3"/><circle cx="1065.6" cy="424.6" r="2.3"/><circle cx="1066.3" cy="443.8" r="2.3"/><circle cx="1067.0" cy="425.2" r="2.3"/><circle cx="1067.6" cy="425.1" r="2.3"/><circle cx="1068.3" cy="431.2" r="2.3"/><circle cx="1068.9" cy="405.5" r="2.3"/><circle cx="1069.6" cy="395.8" r="2.3"/><circle cx="1070.3" cy="381.7" r="2.3"/><circle cx="1070.9" cy="407.3" r="2.3"/><circle cx="1071.6" cy="399.9" r="2.3"/><circle cx="1072.3" cy="380.8" r="2.3"/><circle cx="1072.9" cy="402.9" r="2.3"/><circle cx="1073.6" cy="401.4" r="2.3"/><circle cx="1074.2" cy="398.8" r="2.3"/><circle cx="1074.9" cy="404.9" r="2.3"/><circle cx="1075.6" cy="414.2" r="2.3"/><circle cx="1076.2" cy="422.4" r="2.3"/><circle cx="1076.9" cy="417.8" r="2.3"/><circle cx="1077.6" cy="409.2" r="2.3"/><circle cx="1078.2" cy="421.1" r="2.3"/><circle cx="1078.9" cy="424.1" r="2.3"/><circle cx="1079.5" cy="432.7" r="2.3"/><circle cx="1080.2" cy="436.4" r="2.3"/><circle cx="1080.9" cy="431.2" r="2.3"/><circle cx="1081.5" cy="437.0" r="2.3"/><circle cx="1082.2" cy="449.2" r="2.3"/><circle cx="1082.8" cy="446.3" r="2.3"/><circle cx="1083.5" cy="459.3" r="2.3"/><circle cx="1084.2" cy="459.6" r="2.3"/><circle cx="1084.8" cy="477.0" r="2.3"/><circle cx="1085.5" cy="467.1" r="2.3"/><circle cx="1086.2" cy="463.4" r="2.3"/><circle cx="1086.8" cy="473.2" r="2.3"/><circle cx="1087.5" cy="469.9" r="2.3"/><circle cx="1088.1" cy="479.6" r="2.3"/><circle cx="1088.8" cy="476.5" r="2.3"/><circle cx="1089.5" cy="481.2" r="2.3"/><circle cx="1090.1" cy="487.9" r="2.3"/><circle cx="1090.8" cy="471.9" r="2.3"/><circle cx="1091.5" cy="490.1" r="2.3"/><circle cx="1092.1" cy="494.2" r="2.3"/><circle cx="1092.8" cy="486.7" r="2.3"/><circle cx="1093.4" cy="485.5" r="2.3"/><circle cx="1094.1" cy="486.8" r="2.3"/><circle cx="1094.8" cy="489.7" r="2.3"/><circle cx="1095.4" cy="486.7" r="2.3"/><circle cx="1096.1" cy="484.1" r="2.3"/><circle cx="1096.7" cy="485.9" r="2.3"/><circle cx="1097.4" cy="497.2" r="2.3"/><circle cx="1098.1" cy="479.2" r="2.3"/><circle cx="1098.7" cy="488.9" r="2.3"/><circle cx="1099.4" cy="500.0" r="2.3"/><circle cx="1100.1" cy="483.1" r="2.3"/><circle cx="1100.7" cy="488.2" r="2.3"/><circle cx="1101.4" cy="485.2" r="2.3"/><circle cx="1102.0" cy="474.9" r="2.3"/><circle cx="1102.7" cy="488.7" r="2.3"/><circle cx="1103.4" cy="488.5" r="2.3"/><circle cx="1104.0" cy="489.9" r="2.3"/><circle cx="1104.7" cy="482.6" r="2.3"/><circle cx="1105.4" cy="479.2" r="2.3"/><circle cx="1106.0" cy="480.1" r="2.3"/><circle cx="1106.7" cy="480.6" r="2.3"/><circle cx="1107.3" cy="493.1" r="2.3"/><circle cx="1108.0" cy="478.7" r="2.3"/><circle cx="1108.7" cy="473.4" r="2.3"/><circle cx="1109.3" cy="481.8" r="2.3"/><circle cx="1110.0" cy="481.3" r="2.3"/><circle cx="1110.6" cy="483.4" r="2.3"/><circle cx="1111.3" cy="475.6" r="2.3"/><circle cx="1112.0" cy="485.3" r="2.3"/><circle cx="1112.6" cy="464.9" r="2.3"/><circle cx="1113.3" cy="476.4" r="2.3"/><circle cx="1114.0" cy="478.1" r="2.3"/><circle cx="1114.6" cy="481.1" r="2.3"/><circle cx="1115.3" cy="470.5" r="2.3"/><circle cx="1115.9" cy="467.5" r="2.3"/><circle cx="1116.6" cy="475.8" r="2.3"/><circle cx="1117.3" cy="471.1" r="2.3"/><circle cx="1117.9" cy="470.0" r="2.3"/><circle cx="1118.6" cy="465.7" r="2.3"/><circle cx="1119.3" cy="467.3" r="2.3"/><circle cx="1119.9" cy="463.3" r="2.3"/><circle cx="1120.6" cy="478.1" r="2.3"/><circle cx="1121.2" cy="454.8" r="2.3"/><circle cx="1121.9" cy="472.2" r="2.3"/><circle cx="1122.6" cy="475.4" r="2.3"/><circle cx="1123.2" cy="474.0" r="2.3"/><circle cx="1123.9" cy="466.2" r="2.3"/><circle cx="1124.5" cy="463.7" r="2.3"/><circle cx="1125.2" cy="454.1" r="2.3"/><circle cx="1125.9" cy="469.8" r="2.3"/><circle cx="1126.5" cy="453.6" r="2.3"/><circle cx="1127.2" cy="454.3" r="2.3"/><circle cx="1127.9" cy="444.1" r="2.3"/><circle cx="1128.5" cy="468.6" r="2.3"/><circle cx="1129.2" cy="457.6" r="2.3"/><circle cx="1129.8" cy="456.5" r="2.3"/><circle cx="1130.5" cy="461.0" r="2.3"/><circle cx="1131.2" cy="471.4" r="2.3"/><circle cx="1131.8" cy="469.7" r="2.3"/><circle cx="1132.5" cy="449.4" r="2.3"/><circle cx="1133.2" cy="470.9" r="2.3"/><circle cx="1133.8" cy="452.6" r="2.3"/><circle cx="1134.5" cy="441.8" r="2.3"/><circle cx="1135.1" cy="468.0" r="2.3"/><circle cx="1135.8" cy="466.9" r="2.3"/><circle cx="1136.5" cy="457.4" r="2.3"/><circle cx="1137.1" cy="477.1" r="2.3"/><circle cx="1137.8" cy="470.9" r="2.3"/><circle cx="1138.5" cy="475.4" r="2.3"/><circle cx="1139.1" cy="471.5" r="2.3"/><circle cx="1139.8" cy="468.2" r="2.3"/><circle cx="1140.4" cy="472.2" r="2.3"/><circle cx="1141.1" cy="477.9" r="2.3"/><circle cx="1141.8" cy="464.2" r="2.3"/><circle cx="1142.4" cy="471.6" r="2.3"/><circle cx="1143.1" cy="467.7" r="2.3"/><circle cx="1143.7" cy="477.1" r="2.3"/><circle cx="1144.4" cy="475.1" r="2.3"/><circle cx="1145.1" cy="475.0" r="2.3"/><circle cx="1145.7" cy="477.7" r="2.3"/><circle cx="1146.4" cy="474.0" r="2.3"/><circle cx="1147.1" cy="470.9" r="2.3"/><circle cx="1147.7" cy="486.3" r="2.3"/><circle cx="1148.4" cy="484.0" r="2.3"/><circle cx="1149.0" cy="482.8" r="2.3"/><circle cx="1149.7" cy="480.6" r="2.3"/><circle cx="1150.4" cy="479.0" r="2.3"/><circle cx="1151.0" cy="480.3" r="2.3"/><circle cx="1151.7" cy="496.5" r="2.3"/><circle cx="1152.4" cy="479.6" r="2.3"/><circle cx="1153.0" cy="484.3" r="2.3"/><circle cx="1153.7" cy="482.4" r="2.3"/><circle cx="1154.3" cy="486.8" r="2.3"/><circle cx="1155.0" cy="482.4" r="2.3"/><circle cx="1155.7" cy="484.5" r="2.3"/><circle cx="1156.3" cy="483.6" r="2.3"/><circle cx="1157.0" cy="490.2" r="2.3"/><circle cx="1157.6" cy="488.2" r="2.3"/><circle cx="1158.3" cy="490.7" r="2.3"/><circle cx="1159.0" cy="490.1" r="2.3"/><circle cx="1159.6" cy="491.3" r="2.3"/><circle cx="1160.3" cy="496.4" r="2.3"/><circle cx="1161.0" cy="494.0" r="2.3"/><circle cx="1161.6" cy="484.5" r="2.3"/><circle cx="1162.3" cy="493.3" r="2.3"/><circle cx="1162.9" cy="483.3" r="2.3"/><circle cx="1163.6" cy="489.8" r="2.3"/><circle cx="1164.3" cy="477.3" r="2.3"/><circle cx="1164.9" cy="493.3" r="2.3"/><circle cx="1165.6" cy="486.7" r="2.3"/><circle cx="1166.3" cy="489.4" r="2.3"/><circle cx="1166.9" cy="490.7" r="2.3"/><circle cx="1167.6" cy="480.6" r="2.3"/><circle cx="1168.2" cy="486.0" r="2.3"/><circle cx="1168.9" cy="492.2" r="2.3"/></g>
<g stroke="#111" stroke-width="1.8"><rect x="944.5" y="330.1" width="224.4000000000001" height="335.9" fill="none" stroke="#111" stroke-width="2.2"/><line x1="944.5" y1="666" x2="944.5" y2="672"/><line x1="944.5" y1="330.1" x2="944.5" y2="324.1"/><line x1="981.9" y1="666" x2="981.9" y2="672"/><line x1="981.9" y1="330.1" x2="981.9" y2="324.1"/><line x1="1019.3" y1="666" x2="1019.3" y2="672"/><line x1="1019.3" y1="330.1" x2="1019.3" y2="324.1"/><line x1="1056.7" y1="666" x2="1056.7" y2="672"/><line x1="1056.7" y1="330.1" x2="1056.7" y2="324.1"/><line x1="1094.1" y1="666" x2="1094.1" y2="672"/><line x1="1094.1" y1="330.1" x2="1094.1" y2="324.1"/><line x1="1131.5" y1="666" x2="1131.5" y2="672"/><line x1="1131.5" y1="330.1" x2="1131.5" y2="324.1"/><line x1="1168.9" y1="666" x2="1168.9" y2="672"/><line x1="1168.9" y1="330.1" x2="1168.9" y2="324.1"/><line x1="963.2" y1="666" x2="963.2" y2="669.5"/><line x1="963.2" y1="330.1" x2="963.2" y2="326.6"/><line x1="1000.6" y1="666" x2="1000.6" y2="669.5"/><line x1="1000.6" y1="330.1" x2="1000.6" y2="326.6"/><line x1="1038.0" y1="666" x2="1038.0" y2="669.5"/><line x1="1038.0" y1="330.1" x2="1038.0" y2="326.6"/><line x1="1075.4" y1="666" x2="1075.4" y2="669.5"/><line x1="1075.4" y1="330.1" x2="1075.4" y2="326.6"/><line x1="1112.8" y1="666" x2="1112.8" y2="669.5"/><line x1="1112.8" y1="330.1" x2="1112.8" y2="326.6"/><line x1="1150.2" y1="666" x2="1150.2" y2="669.5"/><line x1="1150.2" y1="330.1" x2="1150.2" y2="326.6"/><line x1="944.5" y1="666.0" x2="938.5" y2="666.0"/><line x1="1168.9" y1="666.0" x2="1174.9" y2="666.0"/><line x1="944.5" y1="598.8" x2="938.5" y2="598.8"/><line x1="1168.9" y1="598.8" x2="1174.9" y2="598.8"/><line x1="944.5" y1="531.6" x2="938.5" y2="531.6"/><line x1="1168.9" y1="531.6" x2="1174.9" y2="531.6"/><line x1="944.5" y1="464.4" x2="938.5" y2="464.4"/><line x1="1168.9" y1="464.4" x2="1174.9" y2="464.4"/><line x1="944.5" y1="397.2" x2="938.5" y2="397.2"/><line x1="1168.9" y1="397.2" x2="1174.9" y2="397.2"/><line x1="944.5" y1="330.0" x2="938.5" y2="330.0"/><line x1="1168.9" y1="330.0" x2="1174.9" y2="330.0"/><line x1="944.5" y1="632.4" x2="941.0" y2="632.4"/><line x1="1168.9" y1="632.4" x2="1172.4" y2="632.4"/><line x1="944.5" y1="565.2" x2="941.0" y2="565.2"/><line x1="1168.9" y1="565.2" x2="1172.4" y2="565.2"/><line x1="944.5" y1="498.0" x2="941.0" y2="498.0"/><line x1="1168.9" y1="498.0" x2="1172.4" y2="498.0"/><line x1="944.5" y1="430.8" x2="941.0" y2="430.8"/><line x1="1168.9" y1="430.8" x2="1172.4" y2="430.8"/><line x1="944.5" y1="363.6" x2="941.0" y2="363.6"/><line x1="1168.9" y1="363.6" x2="1172.4" y2="363.6"/></g>
<text x="944.5" y="686.8" font-size="13.5" fill="#222" stroke="#222" stroke-width="0.2" text-anchor="middle">78</text>
<text x="981.9" y="686.8" font-size="13.5" fill="#222" stroke="#222" stroke-width="0.2" text-anchor="middle">80</text>
<text x="1019.3" y="686.8" font-size="13.5" fill="#222" stroke="#222" stroke-width="0.2" text-anchor="middle">82</text>
<text x="1056.7" y="686.8" font-size="13.5" fill="#222" stroke="#222" stroke-width="0.2" text-anchor="middle">84</text>
<text x="1094.1" y="686.8" font-size="13.5" fill="#222" stroke="#222" stroke-width="0.2" text-anchor="middle">86</text>
<text x="1131.5" y="686.8" font-size="13.5" fill="#222" stroke="#222" stroke-width="0.2" text-anchor="middle">88</text>
<text x="1168.9" y="686.8" font-size="13.5" fill="#222" stroke="#222" stroke-width="0.2" text-anchor="middle">90</text>
<text x="933" y="670.3" font-size="13.3" fill="#222" stroke="#222" stroke-width="0.2" text-anchor="end">0</text>
<text x="933" y="603.1" font-size="13.3" fill="#222" stroke="#222" stroke-width="0.2" text-anchor="end">2</text>
<text x="933" y="535.9" font-size="13.3" fill="#222" stroke="#222" stroke-width="0.2" text-anchor="end">4</text>
<text x="933" y="468.7" font-size="13.3" fill="#222" stroke="#222" stroke-width="0.2" text-anchor="end">6</text>
<text x="933" y="401.5" font-size="13.3" fill="#222" stroke="#222" stroke-width="0.2" text-anchor="end">8</text>
<text x="933" y="334.3" font-size="13.3" fill="#222" stroke="#222" stroke-width="0.2" text-anchor="end">10</text>
<text x="1056.4" y="714.8" font-size="17.6" fill="#222" stroke="#222" stroke-width="0.2" text-anchor="middle">Binding energy (eV)</text>
<text transform="translate(958,356.8) scale(0.84,1)" font-size="25.4" font-weight="bold" fill="#111">F</text>
<text x="1153.2" y="355.4" font-size="19.2" font-weight="bold" fill="#111" text-anchor="end">Au4f</text>
<text x="957" y="579" font-size="17" fill="#17863a" textLength="91" lengthAdjust="spacingAndGlyphs">After UV/O<tspan font-size="11.5" dy="4">3</tspan></text>
<text x="1085" y="641.6" font-size="17.9" fill="#222">Peptides</text>
</svg></body></html>
